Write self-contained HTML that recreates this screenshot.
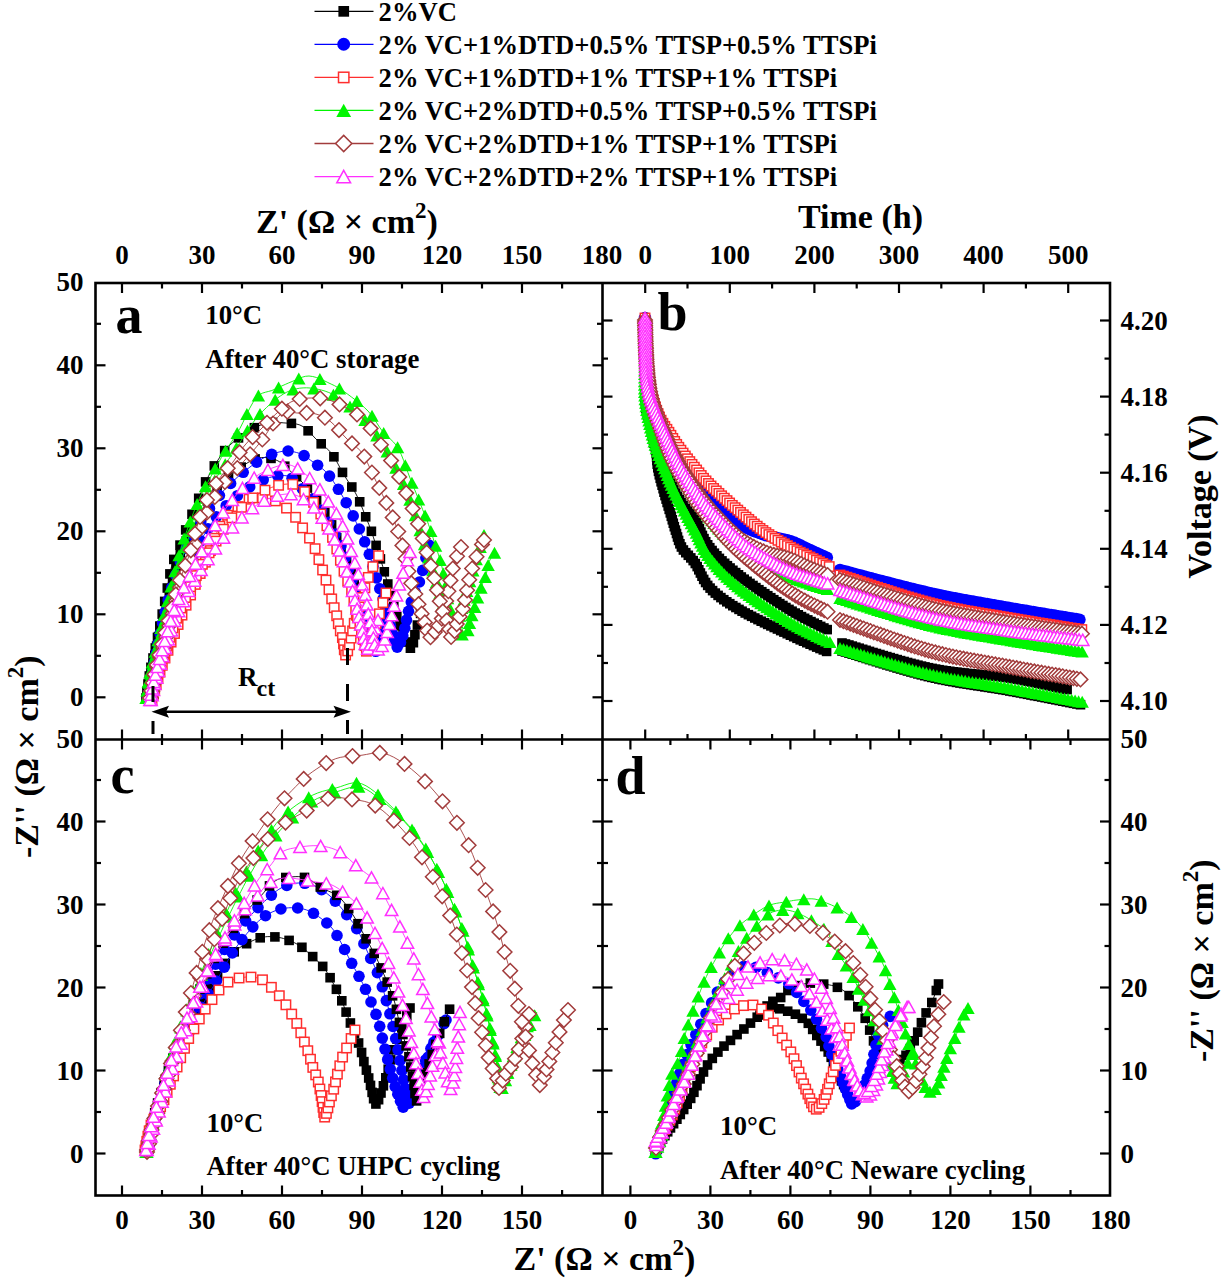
<!DOCTYPE html><html><head><meta charset="utf-8"><title>Nyquist plots</title><style>html,body{margin:0;padding:0;background:#fff;width:1222px;height:1280px;overflow:hidden}text{font-family:'Liberation Serif',serif;font-weight:bold;fill:#000}</style></head><body><svg width="1222" height="1280" viewBox="0 0 1222 1280" style="display:block;font-family:'Liberation Serif',serif;font-weight:bold"><rect width="100%" height="100%" fill="#fff"/><defs><clipPath id="ca"><rect x="95.5" y="283" width="507.0" height="456.5"/></clipPath><clipPath id="cb"><rect x="602.5" y="283" width="507.5" height="456.5"/></clipPath><clipPath id="cc"><rect x="95.5" y="739.5" width="507.0" height="456.0"/></clipPath><clipPath id="cd"><rect x="602.5" y="739.5" width="507.5" height="456.0"/></clipPath></defs><g clip-path="url(#ca)"><path d="M147.0 698.0 L147.6 694.7 L148.4 690.1 L149.3 684.6 L150.4 678.5 L151.6 672.1 L152.8 665.6 L154.2 658.4 L155.7 650.8 L157.3 642.9 L158.9 635.1 L160.6 627.5 L162.4 619.9 L164.2 612.2 L166.2 604.6 L168.1 597.2 L170.0 590.0 L171.8 583.0 L173.7 576.1 L175.5 569.4 L177.4 562.9 L179.3 556.9 L181.4 551.4 L183.6 546.4 L185.8 541.9 L188.1 537.5 L190.4 533.1 L192.8 528.4 L195.1 523.6 L197.5 518.8 L199.9 514.0 L202.4 509.4 L205.0 505.0 L207.6 500.9 L210.3 497.0 L213.0 493.3 L215.9 489.7 L218.9 486.2 L222.3 482.7 L225.9 479.2 L229.8 475.9 L233.7 472.7 L237.6 469.8 L241.2 467.2 L244.6 464.7 L248.0 462.5 L251.3 460.6 L254.7 459.0 L258.0 458.0 L261.4 457.5 L265.0 457.5 L268.5 457.9 L271.9 458.7 L275.0 459.6 L277.9 460.8 L280.4 462.4 L282.8 464.3 L285.0 466.4 L287.4 468.6 L289.9 470.7 L292.5 473.1 L295.3 475.5 L298.0 478.1 L300.6 480.6 L303.0 483.0 L305.1 485.3 L307.0 487.4 L308.8 489.5 L310.5 491.7 L312.4 494.1 L314.3 496.8 L316.4 499.6 L318.5 502.6 L320.6 505.6 L322.7 508.8 L324.7 512.1 L326.7 515.6 L328.7 519.2 L330.6 522.8 L332.4 526.5 L334.0 530.0 L335.3 533.4 L336.4 536.8 L337.4 540.1 L338.4 543.5 L339.5 546.8 L341.0 550.3 L342.7 554.0 L344.6 557.6 L346.4 561.3 L348.0 564.8 L349.4 568.1 L350.5 571.1 L351.4 573.9 L352.2 576.7 L353.1 579.7 L354.0 583.0 L355.1 586.7 L356.2 590.8 L357.3 595.0 L358.5 599.3 L359.6 603.6 L360.8 607.8 L361.9 612.1 L363.0 616.5 L364.1 620.9 L365.2 625.2 L366.4 629.5 L367.5 634.3 L368.6 639.4 L369.8 644.1 L370.9 647.9 L372.0 650.0 L373.1 650.2 L374.2 648.9 L375.4 646.7 L376.5 643.8 L377.6 640.9 L378.8 638.0 L380.1 634.4 L381.4 630.4 L382.6 626.6 L383.5 623.4 L384.0 622.0" fill="none" stroke="#000000" stroke-width="0.9"/><rect x="142.2" y="693.2" width="9.6" height="9.6" fill="#000000"/><rect x="143.2" y="687.6" width="9.6" height="9.6" fill="#000000"/><rect x="144.3" y="681.3" width="9.6" height="9.6" fill="#000000"/><rect x="145.5" y="674.5" width="9.6" height="9.6" fill="#000000"/><rect x="146.8" y="667.1" width="9.6" height="9.6" fill="#000000"/><rect x="148.4" y="659.1" width="9.6" height="9.6" fill="#000000"/><rect x="150.0" y="650.5" width="9.6" height="9.6" fill="#000000"/><rect x="151.8" y="641.4" width="9.6" height="9.6" fill="#000000"/><rect x="153.8" y="631.8" width="9.6" height="9.6" fill="#000000"/><rect x="156.0" y="621.6" width="9.6" height="9.6" fill="#000000"/><rect x="158.6" y="610.8" width="9.6" height="9.6" fill="#000000"/><rect x="161.4" y="599.5" width="9.6" height="9.6" fill="#000000"/><rect x="164.5" y="587.7" width="9.6" height="9.6" fill="#000000"/><rect x="167.8" y="575.4" width="9.6" height="9.6" fill="#000000"/><rect x="171.3" y="562.5" width="9.6" height="9.6" fill="#000000"/><rect x="175.5" y="549.3" width="9.6" height="9.6" fill="#000000"/><rect x="181.4" y="536.2" width="9.6" height="9.6" fill="#000000"/><rect x="188.2" y="523.1" width="9.6" height="9.6" fill="#000000"/><rect x="195.0" y="509.5" width="9.6" height="9.6" fill="#000000"/><rect x="202.8" y="496.1" width="9.6" height="9.6" fill="#000000"/><rect x="212.3" y="483.4" width="9.6" height="9.6" fill="#000000"/><rect x="223.7" y="472.2" width="9.6" height="9.6" fill="#000000"/><rect x="236.4" y="462.3" width="9.6" height="9.6" fill="#000000"/><rect x="250.3" y="454.1" width="9.6" height="9.6" fill="#000000"/><rect x="266.2" y="453.6" width="9.6" height="9.6" fill="#000000"/><rect x="280.0" y="461.4" width="9.6" height="9.6" fill="#000000"/><rect x="291.8" y="471.9" width="9.6" height="9.6" fill="#000000"/><rect x="302.6" y="483.1" width="9.6" height="9.6" fill="#000000"/><rect x="311.8" y="495.1" width="9.6" height="9.6" fill="#000000"/><rect x="320.0" y="507.5" width="9.6" height="9.6" fill="#000000"/><rect x="326.8" y="520.1" width="9.6" height="9.6" fill="#000000"/><rect x="331.9" y="532.9" width="9.6" height="9.6" fill="#000000"/><rect x="336.2" y="545.4" width="9.6" height="9.6" fill="#000000"/><rect x="341.8" y="556.8" width="9.6" height="9.6" fill="#000000"/><rect x="346.3" y="568.0" width="9.6" height="9.6" fill="#000000"/><rect x="349.4" y="579.0" width="9.6" height="9.6" fill="#000000"/><rect x="352.3" y="589.5" width="9.6" height="9.6" fill="#000000"/><rect x="355.0" y="599.4" width="9.6" height="9.6" fill="#000000"/><rect x="357.4" y="608.6" width="9.6" height="9.6" fill="#000000"/><rect x="359.7" y="617.3" width="9.6" height="9.6" fill="#000000"/><rect x="361.8" y="625.4" width="9.6" height="9.6" fill="#000000"/><rect x="363.5" y="633.0" width="9.6" height="9.6" fill="#000000"/><rect x="365.1" y="639.9" width="9.6" height="9.6" fill="#000000"/><rect x="367.8" y="645.5" width="9.6" height="9.6" fill="#000000"/><rect x="370.9" y="641.0" width="9.6" height="9.6" fill="#000000"/><rect x="373.9" y="633.3" width="9.6" height="9.6" fill="#000000"/><rect x="377.2" y="623.4" width="9.6" height="9.6" fill="#000000"/><rect x="379.2" y="617.2" width="9.6" height="9.6" fill="#000000"/></g><g clip-path="url(#ca)"><path d="M146.0 698.0 L146.5 694.8 L147.1 690.4 L147.8 685.2 L148.7 679.5 L149.7 673.8 L150.7 668.3 L151.9 662.7 L153.2 656.9 L154.6 650.8 L156.1 644.4 L157.5 637.7 L159.0 630.4 L160.5 622.8 L162.0 615.0 L163.5 607.3 L165.0 600.0 L166.4 592.9 L167.7 585.8 L168.9 579.0 L170.2 572.6 L171.5 566.8 L173.0 561.8 L174.4 557.7 L175.9 554.1 L177.5 550.8 L179.0 547.4 L180.5 543.7 L182.0 539.8 L183.5 535.8 L185.0 531.8 L186.5 527.8 L188.0 524.0 L189.5 520.4 L190.9 516.9 L192.4 513.6 L193.9 510.1 L195.4 506.3 L197.1 502.2 L198.9 497.8 L200.8 493.1 L202.7 488.4 L204.6 483.9 L206.7 479.6 L208.9 475.4 L211.1 471.3 L213.4 467.3 L215.7 463.5 L218.0 460.0 L220.1 456.8 L222.1 453.9 L224.2 451.2 L226.4 448.6 L229.0 445.9 L232.1 443.1 L235.7 440.0 L239.6 437.0 L243.6 434.1 L247.5 431.5 L251.2 429.3 L254.7 427.5 L258.1 426.0 L261.4 424.8 L264.7 423.8 L268.0 423.0 L271.2 422.5 L274.4 422.4 L277.6 422.4 L280.8 422.6 L283.9 422.9 L287.1 423.1 L290.3 423.3 L293.6 423.6 L296.8 424.1 L299.9 425.0 L303.0 426.6 L306.1 429.0 L309.2 431.8 L312.2 435.0 L315.1 438.1 L318.0 441.0 L320.8 443.4 L323.5 445.7 L326.1 447.9 L328.7 450.2 L331.2 453.0 L333.6 456.3 L335.9 460.0 L338.1 464.1 L340.3 468.3 L342.5 472.4 L344.8 476.2 L347.1 479.8 L349.4 483.3 L351.7 486.8 L353.9 490.3 L356.0 494.0 L357.9 497.8 L359.6 501.7 L361.3 505.7 L362.9 509.7 L364.5 513.7 L366.0 517.5 L367.4 521.0 L368.8 524.4 L370.2 528.2 L371.8 532.6 L373.6 537.9 L375.7 544.2 L378.0 551.2 L380.3 558.6 L382.7 566.3 L385.0 574.0 L387.2 581.9 L389.5 590.3 L391.7 598.7 L393.9 607.0 L396.2 614.6 L398.6 621.8 L401.2 629.2 L403.9 636.3 L406.4 642.3 L408.7 646.6 L410.6 648.2 L412.0 646.9 L413.2 643.5 L414.1 638.9 L415.0 634.1 L416.0 630.0 L417.1 626.4 L418.2 622.5 L419.2 618.6 L420.1 615.2 L420.8 612.6 L421.0 612.0" fill="none" stroke="#000000" stroke-width="0.9"/><rect x="141.2" y="693.2" width="9.6" height="9.6" fill="#000000"/><rect x="142.1" y="686.6" width="9.6" height="9.6" fill="#000000"/><rect x="143.2" y="679.2" width="9.6" height="9.6" fill="#000000"/><rect x="144.5" y="671.2" width="9.6" height="9.6" fill="#000000"/><rect x="146.1" y="662.5" width="9.6" height="9.6" fill="#000000"/><rect x="148.2" y="653.2" width="9.6" height="9.6" fill="#000000"/><rect x="150.5" y="643.2" width="9.6" height="9.6" fill="#000000"/><rect x="152.7" y="632.6" width="9.6" height="9.6" fill="#000000"/><rect x="155.0" y="621.3" width="9.6" height="9.6" fill="#000000"/><rect x="157.4" y="609.3" width="9.6" height="9.6" fill="#000000"/><rect x="159.9" y="596.6" width="9.6" height="9.6" fill="#000000"/><rect x="162.5" y="583.2" width="9.6" height="9.6" fill="#000000"/><rect x="165.1" y="569.1" width="9.6" height="9.6" fill="#000000"/><rect x="169.0" y="554.6" width="9.6" height="9.6" fill="#000000"/><rect x="175.2" y="540.3" width="9.6" height="9.6" fill="#000000"/><rect x="180.9" y="525.1" width="9.6" height="9.6" fill="#000000"/><rect x="187.2" y="509.5" width="9.6" height="9.6" fill="#000000"/><rect x="193.9" y="493.5" width="9.6" height="9.6" fill="#000000"/><rect x="200.8" y="477.1" width="9.6" height="9.6" fill="#000000"/><rect x="209.5" y="461.1" width="9.6" height="9.6" fill="#000000"/><rect x="219.9" y="445.8" width="9.6" height="9.6" fill="#000000"/><rect x="233.7" y="433.1" width="9.6" height="9.6" fill="#000000"/><rect x="249.6" y="422.9" width="9.6" height="9.6" fill="#000000"/><rect x="267.7" y="417.6" width="9.6" height="9.6" fill="#000000"/><rect x="286.6" y="418.6" width="9.6" height="9.6" fill="#000000"/><rect x="303.3" y="426.0" width="9.6" height="9.6" fill="#000000"/><rect x="316.4" y="439.0" width="9.6" height="9.6" fill="#000000"/><rect x="329.1" y="452.0" width="9.6" height="9.6" fill="#000000"/><rect x="337.7" y="467.6" width="9.6" height="9.6" fill="#000000"/><rect x="347.0" y="482.2" width="9.6" height="9.6" fill="#000000"/><rect x="354.9" y="497.0" width="9.6" height="9.6" fill="#000000"/><rect x="360.9" y="512.0" width="9.6" height="9.6" fill="#000000"/><rect x="366.6" y="526.5" width="9.6" height="9.6" fill="#000000"/><rect x="371.3" y="540.6" width="9.6" height="9.6" fill="#000000"/><rect x="375.6" y="554.1" width="9.6" height="9.6" fill="#000000"/><rect x="379.5" y="567.0" width="9.6" height="9.6" fill="#000000"/><rect x="383.0" y="579.2" width="9.6" height="9.6" fill="#000000"/><rect x="386.0" y="590.8" width="9.6" height="9.6" fill="#000000"/><rect x="389.0" y="601.6" width="9.6" height="9.6" fill="#000000"/><rect x="392.0" y="611.7" width="9.6" height="9.6" fill="#000000"/><rect x="395.2" y="621.0" width="9.6" height="9.6" fill="#000000"/><rect x="398.3" y="629.5" width="9.6" height="9.6" fill="#000000"/><rect x="401.5" y="637.2" width="9.6" height="9.6" fill="#000000"/><rect x="405.6" y="643.4" width="9.6" height="9.6" fill="#000000"/><rect x="408.6" y="637.9" width="9.6" height="9.6" fill="#000000"/><rect x="410.1" y="629.9" width="9.6" height="9.6" fill="#000000"/><rect x="412.6" y="620.3" width="9.6" height="9.6" fill="#000000"/><rect x="415.8" y="608.6" width="9.6" height="9.6" fill="#000000"/></g><g clip-path="url(#ca)"><path d="M149.0 698.0 L149.7 694.3 L150.7 689.3 L151.8 683.3 L153.1 676.8 L154.5 670.1 L156.0 663.6 L157.5 656.6 L159.2 649.3 L160.9 641.9 L162.8 634.7 L164.6 627.7 L166.6 620.9 L168.6 614.2 L170.6 607.6 L172.8 601.2 L175.0 595.0 L177.3 589.1 L179.6 583.4 L182.0 577.9 L184.5 572.4 L187.1 566.9 L189.8 561.2 L192.7 555.5 L195.7 549.7 L198.8 544.0 L201.9 538.5 L205.1 533.3 L208.2 528.3 L211.5 523.4 L214.8 518.8 L218.3 514.3 L222.0 510.0 L226.0 505.8 L230.3 501.8 L234.7 497.9 L239.1 494.3 L243.6 491.0 L247.9 488.0 L252.3 485.3 L256.7 482.9 L261.0 480.7 L265.3 479.0 L269.4 477.6 L273.4 476.5 L277.5 475.8 L281.4 475.5 L284.9 475.6 L288.0 476.0 L290.5 477.0 L292.4 478.4 L294.0 480.3 L295.5 482.3 L297.3 484.3 L299.5 486.3 L301.9 488.5 L304.4 490.7 L307.0 493.0 L309.5 495.4 L311.7 497.8 L313.9 500.2 L315.9 502.6 L317.9 505.1 L319.9 507.9 L322.0 511.0 L324.2 514.6 L326.6 518.6 L329.0 522.8 L331.3 526.9 L333.4 530.8 L335.2 534.2 L336.9 537.3 L338.4 540.1 L339.8 542.9 L341.1 545.9 L342.4 549.1 L343.7 552.6 L344.8 556.3 L345.9 560.0 L347.0 563.6 L348.0 567.0 L349.0 570.1 L349.9 573.0 L350.7 575.7 L351.6 578.6 L352.6 581.8 L353.8 585.5 L355.0 589.4 L356.4 593.6 L357.7 597.8 L359.1 602.2 L360.4 606.4 L361.7 610.7 L363.0 615.0 L364.3 619.3 L365.6 623.7 L367.0 628.0 L368.5 632.8 L370.0 638.1 L371.6 643.3 L373.1 647.6 L374.6 650.5 L375.8 651.3 L377.0 650.3 L378.1 648.1 L379.2 645.1 L380.3 641.9 L381.4 639.0 L382.6 635.6 L383.9 631.6 L385.2 627.7 L386.2 624.4 L387.0 622.0 L387.0 622.0" fill="none" stroke="#0000ff" stroke-width="0.9"/><circle cx="149.0" cy="698.0" r="5.80" fill="#0000ff"/><circle cx="150.0" cy="692.8" r="5.80" fill="#0000ff"/><circle cx="151.1" cy="686.9" r="5.80" fill="#0000ff"/><circle cx="152.4" cy="680.5" r="5.80" fill="#0000ff"/><circle cx="153.8" cy="673.5" r="5.80" fill="#0000ff"/><circle cx="155.4" cy="666.1" r="5.80" fill="#0000ff"/><circle cx="157.2" cy="658.1" r="5.80" fill="#0000ff"/><circle cx="159.1" cy="649.6" r="5.80" fill="#0000ff"/><circle cx="161.3" cy="640.6" r="5.80" fill="#0000ff"/><circle cx="163.7" cy="631.1" r="5.80" fill="#0000ff"/><circle cx="166.5" cy="621.1" r="5.80" fill="#0000ff"/><circle cx="169.7" cy="610.6" r="5.80" fill="#0000ff"/><circle cx="173.3" cy="599.8" r="5.80" fill="#0000ff"/><circle cx="177.5" cy="588.5" r="5.80" fill="#0000ff"/><circle cx="182.4" cy="577.0" r="5.80" fill="#0000ff"/><circle cx="187.9" cy="565.2" r="5.80" fill="#0000ff"/><circle cx="193.9" cy="553.1" r="5.80" fill="#0000ff"/><circle cx="200.5" cy="540.9" r="5.80" fill="#0000ff"/><circle cx="208.0" cy="528.7" r="5.80" fill="#0000ff"/><circle cx="216.3" cy="516.8" r="5.80" fill="#0000ff"/><circle cx="226.2" cy="505.7" r="5.80" fill="#0000ff"/><circle cx="237.4" cy="495.7" r="5.80" fill="#0000ff"/><circle cx="249.7" cy="486.9" r="5.80" fill="#0000ff"/><circle cx="263.2" cy="479.8" r="5.80" fill="#0000ff"/><circle cx="277.8" cy="475.8" r="5.80" fill="#0000ff"/><circle cx="292.1" cy="478.2" r="5.80" fill="#0000ff"/><circle cx="302.4" cy="488.9" r="5.80" fill="#0000ff"/><circle cx="312.9" cy="499.1" r="5.80" fill="#0000ff"/><circle cx="321.6" cy="510.4" r="5.80" fill="#0000ff"/><circle cx="328.7" cy="522.3" r="5.80" fill="#0000ff"/><circle cx="335.1" cy="534.1" r="5.80" fill="#0000ff"/><circle cx="341.0" cy="545.7" r="5.80" fill="#0000ff"/><circle cx="345.2" cy="557.4" r="5.80" fill="#0000ff"/><circle cx="348.6" cy="568.8" r="5.80" fill="#0000ff"/><circle cx="352.0" cy="579.7" r="5.80" fill="#0000ff"/><circle cx="355.2" cy="589.9" r="5.80" fill="#0000ff"/><circle cx="358.3" cy="599.6" r="5.80" fill="#0000ff"/><circle cx="361.2" cy="608.8" r="5.80" fill="#0000ff"/><circle cx="363.7" cy="617.4" r="5.80" fill="#0000ff"/><circle cx="366.2" cy="625.5" r="5.80" fill="#0000ff"/><circle cx="368.5" cy="633.0" r="5.80" fill="#0000ff"/><circle cx="370.6" cy="640.0" r="5.80" fill="#0000ff"/><circle cx="372.6" cy="646.3" r="5.80" fill="#0000ff"/><circle cx="375.7" cy="651.3" r="5.80" fill="#0000ff"/><circle cx="378.5" cy="647.0" r="5.80" fill="#0000ff"/><circle cx="381.3" cy="639.3" r="5.80" fill="#0000ff"/><circle cx="384.6" cy="629.7" r="5.80" fill="#0000ff"/><circle cx="387.0" cy="622.0" r="5.80" fill="#0000ff"/></g><g clip-path="url(#ca)"><path d="M148.0 698.0 L148.6 694.7 L149.4 690.1 L150.3 684.6 L151.4 678.5 L152.6 672.1 L153.8 665.6 L155.2 658.4 L156.7 650.8 L158.3 642.9 L159.9 635.1 L161.6 627.5 L163.3 619.8 L165.2 612.1 L167.1 604.4 L169.0 597.0 L171.0 590.0 L173.0 583.4 L174.9 577.2 L176.9 571.3 L179.0 565.5 L181.2 559.9 L183.6 554.3 L186.1 548.9 L188.7 543.6 L191.4 538.4 L194.1 533.3 L196.9 528.3 L199.8 523.4 L202.8 518.6 L205.8 514.0 L208.8 509.4 L212.0 505.0 L215.2 500.8 L218.3 496.8 L221.6 492.9 L225.0 489.1 L228.7 485.3 L232.8 481.4 L237.3 477.3 L242.1 473.2 L246.9 469.4 L251.3 466.0 L255.2 463.1 L258.6 460.9 L261.6 459.0 L264.4 457.5 L267.1 456.2 L270.0 455.0 L273.0 453.8 L276.0 452.8 L279.1 452.0 L282.1 451.4 L285.0 451.0 L287.9 451.0 L290.9 451.3 L293.8 451.8 L296.6 452.5 L299.3 453.3 L301.8 454.4 L304.2 455.6 L306.4 457.0 L308.6 458.6 L310.7 460.3 L313.0 462.0 L315.4 463.7 L317.9 465.4 L320.4 467.2 L322.9 469.1 L325.2 471.2 L327.5 473.6 L329.6 476.2 L331.6 478.9 L333.6 481.8 L335.6 484.9 L337.7 488.1 L339.8 491.5 L341.9 495.1 L344.0 498.8 L346.1 502.4 L348.0 506.0 L349.8 509.4 L351.5 512.7 L353.2 516.0 L354.8 519.3 L356.4 522.8 L358.1 526.5 L359.9 530.4 L361.7 534.5 L363.4 538.6 L365.0 542.5 L366.5 546.2 L367.7 549.7 L368.8 553.0 L369.9 556.2 L370.9 559.5 L372.0 563.0 L373.1 566.6 L374.2 570.3 L375.3 574.0 L376.4 577.8 L377.6 581.7 L378.8 585.6 L380.1 589.7 L381.5 593.8 L382.9 598.0 L384.2 602.2 L385.4 606.4 L386.6 610.8 L387.7 615.2 L388.8 619.6 L389.9 623.9 L391.0 628.0 L392.1 632.3 L393.2 636.8 L394.4 641.0 L395.5 644.5 L396.6 646.7 L397.7 647.1 L398.8 646.1 L399.9 644.0 L401.1 641.0 L402.2 637.5 L403.4 633.6 L404.6 628.9 L405.8 623.3 L407.1 617.4 L408.5 611.5 L410.0 606.0 L411.7 601.1 L413.6 596.4 L415.5 591.8 L417.5 587.1 L419.4 581.9 L421.2 575.8 L423.2 568.6 L425.1 560.9 L426.9 553.7 L428.3 547.8 L429.0 545.0" fill="none" stroke="#0000ff" stroke-width="0.9"/><circle cx="148.0" cy="698.0" r="5.80" fill="#0000ff"/><circle cx="149.0" cy="692.2" r="5.80" fill="#0000ff"/><circle cx="150.2" cy="685.6" r="5.80" fill="#0000ff"/><circle cx="151.4" cy="678.4" r="5.80" fill="#0000ff"/><circle cx="152.9" cy="670.6" r="5.80" fill="#0000ff"/><circle cx="154.5" cy="662.3" r="5.80" fill="#0000ff"/><circle cx="156.2" cy="653.4" r="5.80" fill="#0000ff"/><circle cx="158.1" cy="643.8" r="5.80" fill="#0000ff"/><circle cx="160.2" cy="633.7" r="5.80" fill="#0000ff"/><circle cx="162.6" cy="623.1" r="5.80" fill="#0000ff"/><circle cx="165.2" cy="611.8" r="5.80" fill="#0000ff"/><circle cx="168.2" cy="600.0" r="5.80" fill="#0000ff"/><circle cx="171.7" cy="587.7" r="5.80" fill="#0000ff"/><circle cx="175.7" cy="574.9" r="5.80" fill="#0000ff"/><circle cx="180.4" cy="561.8" r="5.80" fill="#0000ff"/><circle cx="186.2" cy="548.5" r="5.80" fill="#0000ff"/><circle cx="193.1" cy="535.2" r="5.80" fill="#0000ff"/><circle cx="200.8" cy="521.7" r="5.80" fill="#0000ff"/><circle cx="209.5" cy="508.4" r="5.80" fill="#0000ff"/><circle cx="219.4" cy="495.5" r="5.80" fill="#0000ff"/><circle cx="230.6" cy="483.4" r="5.80" fill="#0000ff"/><circle cx="243.2" cy="472.3" r="5.80" fill="#0000ff"/><circle cx="256.7" cy="462.1" r="5.80" fill="#0000ff"/><circle cx="271.7" cy="454.3" r="5.80" fill="#0000ff"/><circle cx="288.1" cy="451.0" r="5.80" fill="#0000ff"/><circle cx="304.1" cy="455.6" r="5.80" fill="#0000ff"/><circle cx="317.6" cy="465.2" r="5.80" fill="#0000ff"/><circle cx="329.5" cy="476.1" r="5.80" fill="#0000ff"/><circle cx="338.4" cy="489.3" r="5.80" fill="#0000ff"/><circle cx="346.2" cy="502.7" r="5.80" fill="#0000ff"/><circle cx="353.2" cy="515.9" r="5.80" fill="#0000ff"/><circle cx="359.3" cy="529.0" r="5.80" fill="#0000ff"/><circle cx="364.7" cy="541.8" r="5.80" fill="#0000ff"/><circle cx="369.3" cy="554.3" r="5.80" fill="#0000ff"/><circle cx="373.0" cy="566.4" r="5.80" fill="#0000ff"/><circle cx="376.4" cy="577.9" r="5.80" fill="#0000ff"/><circle cx="379.8" cy="588.7" r="5.80" fill="#0000ff"/><circle cx="383.1" cy="598.9" r="5.80" fill="#0000ff"/><circle cx="386.0" cy="608.5" r="5.80" fill="#0000ff"/><circle cx="388.3" cy="617.6" r="5.80" fill="#0000ff"/><circle cx="390.5" cy="626.1" r="5.80" fill="#0000ff"/><circle cx="392.5" cy="633.9" r="5.80" fill="#0000ff"/><circle cx="394.4" cy="641.1" r="5.80" fill="#0000ff"/><circle cx="397.2" cy="647.1" r="5.80" fill="#0000ff"/><circle cx="400.5" cy="642.5" r="5.80" fill="#0000ff"/><circle cx="402.8" cy="635.7" r="5.80" fill="#0000ff"/><circle cx="404.8" cy="628.2" r="5.80" fill="#0000ff"/><circle cx="406.5" cy="620.1" r="5.80" fill="#0000ff"/><circle cx="408.5" cy="611.3" r="5.80" fill="#0000ff"/><circle cx="411.3" cy="602.1" r="5.80" fill="#0000ff"/><circle cx="415.3" cy="592.4" r="5.80" fill="#0000ff"/><circle cx="419.4" cy="582.0" r="5.80" fill="#0000ff"/><circle cx="422.7" cy="570.4" r="5.80" fill="#0000ff"/><circle cx="425.9" cy="557.8" r="5.80" fill="#0000ff"/><circle cx="429.0" cy="545.0" r="5.80" fill="#0000ff"/></g><g clip-path="url(#ca)"><path d="M152.0 700.0 L153.0 696.5 L154.3 691.5 L155.9 685.7 L157.7 679.6 L159.4 673.8 L161.1 668.6 L162.9 663.6 L164.8 658.6 L166.7 653.6 L168.6 648.5 L170.7 643.2 L172.8 637.7 L175.1 632.1 L177.3 626.4 L179.7 620.7 L182.0 615.0 L184.4 609.4 L186.8 603.8 L189.2 598.2 L191.7 592.6 L194.2 586.9 L196.7 581.1 L199.5 575.2 L202.2 569.1 L205.0 563.2 L207.5 557.5 L209.7 552.3 L211.6 547.2 L213.3 542.4 L214.9 537.9 L216.4 533.7 L218.0 530.0 L219.5 526.8 L221.0 524.1 L222.5 521.7 L224.0 519.6 L225.5 517.7 L227.1 515.8 L228.6 514.2 L230.2 512.8 L231.9 511.4 L233.7 510.0 L235.7 508.5 L237.8 506.7 L240.0 504.8 L242.3 502.9 L244.6 501.3 L247.0 500.0 L249.4 499.1 L251.9 498.6 L254.4 498.3 L256.9 498.1 L259.2 498.0 L261.5 497.9 L263.6 497.9 L265.6 498.0 L267.6 498.2 L269.6 498.6 L271.7 499.2 L273.8 500.1 L275.8 501.1 L277.9 502.3 L279.9 503.6 L282.0 505.0 L284.1 506.4 L286.1 507.8 L288.2 509.4 L290.2 511.2 L292.3 513.2 L294.4 515.7 L296.5 518.6 L298.6 521.7 L300.7 524.9 L302.7 528.0 L304.6 530.9 L306.5 533.6 L308.2 536.2 L309.9 538.7 L311.5 541.3 L313.0 544.0 L314.3 546.9 L315.5 549.8 L316.5 552.8 L317.6 555.9 L318.6 559.0 L319.8 562.1 L320.9 565.3 L322.1 568.5 L323.2 571.7 L324.3 574.9 L325.3 578.0 L326.3 581.1 L327.3 584.2 L328.2 587.2 L329.1 590.1 L330.0 593.0 L330.8 595.8 L331.6 598.6 L332.4 601.3 L333.1 603.8 L333.8 606.2 L334.4 608.4 L335.0 610.4 L335.6 612.2 L336.2 614.0 L336.7 615.8 L337.2 617.6 L337.5 619.5 L337.9 621.4 L338.2 623.3 L338.6 625.2 L339.0 627.0 L339.5 628.8 L340.1 630.5 L340.7 632.2 L341.3 633.8 L341.9 635.5 L342.3 637.0 L342.6 638.5 L342.8 639.9 L343.0 641.3 L343.3 642.9 L343.6 644.6 L344.0 647.1 L344.3 649.8 L344.7 652.4 L345.1 654.3 L345.7 655.0 L346.4 654.3 L347.1 652.7 L348.0 650.2 L348.8 647.3 L349.7 644.1 L350.6 640.7 L351.4 636.6 L352.3 632.2 L353.3 627.6 L354.3 623.0 L355.4 618.6 L356.6 614.3 L357.9 610.0 L359.2 605.7 L360.6 601.4 L362.0 597.0 L363.4 592.5 L364.8 587.9 L366.3 583.3 L367.8 578.7 L369.4 574.4 L371.2 570.2 L373.3 565.8 L375.5 561.5 L377.5 557.6 L379.2 554.5 L380.0 553.0" fill="none" stroke="#ff2e2e" stroke-width="0.9"/><rect x="147.3" y="695.3" width="9.4" height="9.4" fill="#fff" stroke="#ff2e2e" stroke-width="1.5"/><rect x="148.6" y="690.7" width="9.4" height="9.4" fill="#fff" stroke="#ff2e2e" stroke-width="1.5"/><rect x="150.0" y="685.6" width="9.4" height="9.4" fill="#fff" stroke="#ff2e2e" stroke-width="1.5"/><rect x="151.5" y="680.0" width="9.4" height="9.4" fill="#fff" stroke="#ff2e2e" stroke-width="1.5"/><rect x="153.3" y="673.9" width="9.4" height="9.4" fill="#fff" stroke="#ff2e2e" stroke-width="1.5"/><rect x="155.3" y="667.4" width="9.4" height="9.4" fill="#fff" stroke="#ff2e2e" stroke-width="1.5"/><rect x="157.6" y="660.6" width="9.4" height="9.4" fill="#fff" stroke="#ff2e2e" stroke-width="1.5"/><rect x="160.3" y="653.3" width="9.4" height="9.4" fill="#fff" stroke="#ff2e2e" stroke-width="1.5"/><rect x="163.3" y="645.6" width="9.4" height="9.4" fill="#fff" stroke="#ff2e2e" stroke-width="1.5"/><rect x="166.4" y="637.4" width="9.4" height="9.4" fill="#fff" stroke="#ff2e2e" stroke-width="1.5"/><rect x="169.8" y="628.8" width="9.4" height="9.4" fill="#fff" stroke="#ff2e2e" stroke-width="1.5"/><rect x="173.4" y="619.8" width="9.4" height="9.4" fill="#fff" stroke="#ff2e2e" stroke-width="1.5"/><rect x="177.3" y="610.4" width="9.4" height="9.4" fill="#fff" stroke="#ff2e2e" stroke-width="1.5"/><rect x="181.4" y="600.5" width="9.4" height="9.4" fill="#fff" stroke="#ff2e2e" stroke-width="1.5"/><rect x="185.9" y="590.3" width="9.4" height="9.4" fill="#fff" stroke="#ff2e2e" stroke-width="1.5"/><rect x="190.6" y="579.7" width="9.4" height="9.4" fill="#fff" stroke="#ff2e2e" stroke-width="1.5"/><rect x="195.5" y="568.8" width="9.4" height="9.4" fill="#fff" stroke="#ff2e2e" stroke-width="1.5"/><rect x="200.7" y="557.5" width="9.4" height="9.4" fill="#fff" stroke="#ff2e2e" stroke-width="1.5"/><rect x="205.7" y="545.9" width="9.4" height="9.4" fill="#fff" stroke="#ff2e2e" stroke-width="1.5"/><rect x="210.1" y="533.6" width="9.4" height="9.4" fill="#fff" stroke="#ff2e2e" stroke-width="1.5"/><rect x="215.2" y="521.5" width="9.4" height="9.4" fill="#fff" stroke="#ff2e2e" stroke-width="1.5"/><rect x="222.8" y="510.5" width="9.4" height="9.4" fill="#fff" stroke="#ff2e2e" stroke-width="1.5"/><rect x="233.2" y="501.9" width="9.4" height="9.4" fill="#fff" stroke="#ff2e2e" stroke-width="1.5"/><rect x="244.4" y="494.5" width="9.4" height="9.4" fill="#fff" stroke="#ff2e2e" stroke-width="1.5"/><rect x="257.8" y="493.2" width="9.4" height="9.4" fill="#fff" stroke="#ff2e2e" stroke-width="1.5"/><rect x="270.7" y="496.2" width="9.4" height="9.4" fill="#fff" stroke="#ff2e2e" stroke-width="1.5"/><rect x="281.8" y="503.4" width="9.4" height="9.4" fill="#fff" stroke="#ff2e2e" stroke-width="1.5"/><rect x="290.9" y="512.6" width="9.4" height="9.4" fill="#fff" stroke="#ff2e2e" stroke-width="1.5"/><rect x="297.9" y="523.2" width="9.4" height="9.4" fill="#fff" stroke="#ff2e2e" stroke-width="1.5"/><rect x="304.8" y="533.4" width="9.4" height="9.4" fill="#fff" stroke="#ff2e2e" stroke-width="1.5"/><rect x="310.4" y="544.0" width="9.4" height="9.4" fill="#fff" stroke="#ff2e2e" stroke-width="1.5"/><rect x="314.2" y="554.9" width="9.4" height="9.4" fill="#fff" stroke="#ff2e2e" stroke-width="1.5"/><rect x="317.9" y="565.3" width="9.4" height="9.4" fill="#fff" stroke="#ff2e2e" stroke-width="1.5"/><rect x="321.3" y="575.4" width="9.4" height="9.4" fill="#fff" stroke="#ff2e2e" stroke-width="1.5"/><rect x="324.3" y="585.0" width="9.4" height="9.4" fill="#fff" stroke="#ff2e2e" stroke-width="1.5"/><rect x="327.0" y="594.2" width="9.4" height="9.4" fill="#fff" stroke="#ff2e2e" stroke-width="1.5"/><rect x="329.5" y="603.0" width="9.4" height="9.4" fill="#fff" stroke="#ff2e2e" stroke-width="1.5"/><rect x="332.0" y="611.1" width="9.4" height="9.4" fill="#fff" stroke="#ff2e2e" stroke-width="1.5"/><rect x="333.6" y="619.0" width="9.4" height="9.4" fill="#fff" stroke="#ff2e2e" stroke-width="1.5"/><rect x="335.6" y="626.2" width="9.4" height="9.4" fill="#fff" stroke="#ff2e2e" stroke-width="1.5"/><rect x="337.7" y="632.9" width="9.4" height="9.4" fill="#fff" stroke="#ff2e2e" stroke-width="1.5"/><rect x="338.8" y="639.2" width="9.4" height="9.4" fill="#fff" stroke="#ff2e2e" stroke-width="1.5"/><rect x="339.6" y="645.1" width="9.4" height="9.4" fill="#fff" stroke="#ff2e2e" stroke-width="1.5"/><rect x="340.9" y="650.3" width="9.4" height="9.4" fill="#fff" stroke="#ff2e2e" stroke-width="1.5"/><rect x="343.0" y="646.2" width="9.4" height="9.4" fill="#fff" stroke="#ff2e2e" stroke-width="1.5"/><rect x="344.8" y="640.1" width="9.4" height="9.4" fill="#fff" stroke="#ff2e2e" stroke-width="1.5"/><rect x="346.4" y="633.4" width="9.4" height="9.4" fill="#fff" stroke="#ff2e2e" stroke-width="1.5"/><rect x="347.9" y="626.2" width="9.4" height="9.4" fill="#fff" stroke="#ff2e2e" stroke-width="1.5"/><rect x="349.5" y="618.6" width="9.4" height="9.4" fill="#fff" stroke="#ff2e2e" stroke-width="1.5"/><rect x="351.6" y="610.5" width="9.4" height="9.4" fill="#fff" stroke="#ff2e2e" stroke-width="1.5"/><rect x="354.2" y="601.9" width="9.4" height="9.4" fill="#fff" stroke="#ff2e2e" stroke-width="1.5"/><rect x="357.1" y="592.8" width="9.4" height="9.4" fill="#fff" stroke="#ff2e2e" stroke-width="1.5"/><rect x="360.2" y="583.1" width="9.4" height="9.4" fill="#fff" stroke="#ff2e2e" stroke-width="1.5"/><rect x="363.6" y="572.7" width="9.4" height="9.4" fill="#fff" stroke="#ff2e2e" stroke-width="1.5"/><rect x="368.2" y="562.0" width="9.4" height="9.4" fill="#fff" stroke="#ff2e2e" stroke-width="1.5"/><rect x="373.9" y="551.0" width="9.4" height="9.4" fill="#fff" stroke="#ff2e2e" stroke-width="1.5"/></g><g clip-path="url(#ca)"><path d="M151.0 700.0 L151.8 696.5 L153.0 691.6 L154.4 685.9 L155.9 679.8 L157.5 673.9 L159.1 668.4 L160.8 662.8 L162.7 657.2 L164.6 651.6 L166.6 645.9 L168.7 640.1 L170.8 634.1 L173.0 628.1 L175.2 622.1 L177.5 616.0 L180.0 610.0 L182.6 604.0 L185.3 597.9 L188.1 591.9 L191.0 585.9 L194.0 579.9 L197.0 574.1 L200.1 568.4 L203.3 562.8 L206.5 557.2 L209.8 551.6 L213.1 546.2 L216.4 540.7 L219.7 535.2 L223.1 529.8 L226.5 524.7 L230.0 520.0 L233.6 515.6 L237.4 511.6 L241.1 507.8 L245.0 504.2 L248.7 501.0 L252.5 498.1 L256.2 495.4 L259.9 493.0 L263.7 490.9 L267.5 489.1 L271.3 487.5 L275.4 486.2 L279.5 485.1 L283.7 484.3 L287.5 484.0 L291.0 484.0 L293.9 484.5 L296.5 485.5 L298.8 486.8 L301.0 488.4 L303.2 490.3 L305.6 492.5 L307.9 495.0 L310.2 497.8 L312.4 500.8 L314.6 503.9 L316.7 507.0 L318.7 510.3 L320.6 513.7 L322.5 517.2 L324.3 520.6 L326.0 524.0 L327.7 527.2 L329.2 530.4 L330.7 533.5 L332.2 536.7 L333.6 539.9 L334.8 543.2 L336.0 546.6 L337.1 549.9 L338.2 553.3 L339.3 556.7 L340.4 560.1 L341.5 563.6 L342.6 567.0 L343.8 570.5 L344.9 573.8 L346.0 577.0 L347.2 580.0 L348.4 582.9 L349.6 585.7 L350.7 588.4 L351.7 591.1 L352.5 593.8 L353.2 596.6 L353.8 599.3 L354.2 602.0 L354.7 604.4 L355.2 606.7 L355.5 608.8 L355.9 610.7 L356.2 612.4 L356.6 614.2 L357.0 616.0 L357.5 617.9 L358.1 619.8 L358.7 621.7 L359.3 623.6 L359.8 625.4 L360.3 627.2 L360.7 628.9 L361.0 630.6 L361.4 632.3 L361.7 633.9 L362.1 635.5 L362.6 637.1 L363.1 638.6 L363.5 640.0 L364.0 641.5 L364.5 643.0 L364.9 644.9 L365.3 647.1 L365.7 649.3 L366.1 650.8 L366.7 651.2 L367.6 650.0 L368.6 647.4 L369.7 643.8 L370.9 639.7 L372.2 635.6 L373.4 631.8 L374.7 627.9 L376.0 623.9 L377.4 619.9 L378.7 615.9 L380.0 612.0 L381.3 608.0 L382.6 603.9 L383.8 599.9 L384.9 596.4 L385.8 593.7 L386.0 593.0" fill="none" stroke="#ff2e2e" stroke-width="0.9"/><rect x="146.3" y="695.3" width="9.4" height="9.4" fill="#fff" stroke="#ff2e2e" stroke-width="1.5"/><rect x="147.5" y="690.4" width="9.4" height="9.4" fill="#fff" stroke="#ff2e2e" stroke-width="1.5"/><rect x="148.8" y="684.8" width="9.4" height="9.4" fill="#fff" stroke="#ff2e2e" stroke-width="1.5"/><rect x="150.3" y="678.7" width="9.4" height="9.4" fill="#fff" stroke="#ff2e2e" stroke-width="1.5"/><rect x="152.0" y="672.1" width="9.4" height="9.4" fill="#fff" stroke="#ff2e2e" stroke-width="1.5"/><rect x="153.9" y="665.1" width="9.4" height="9.4" fill="#fff" stroke="#ff2e2e" stroke-width="1.5"/><rect x="156.3" y="657.7" width="9.4" height="9.4" fill="#fff" stroke="#ff2e2e" stroke-width="1.5"/><rect x="158.9" y="649.8" width="9.4" height="9.4" fill="#fff" stroke="#ff2e2e" stroke-width="1.5"/><rect x="161.8" y="641.4" width="9.4" height="9.4" fill="#fff" stroke="#ff2e2e" stroke-width="1.5"/><rect x="165.0" y="632.6" width="9.4" height="9.4" fill="#fff" stroke="#ff2e2e" stroke-width="1.5"/><rect x="168.3" y="623.2" width="9.4" height="9.4" fill="#fff" stroke="#ff2e2e" stroke-width="1.5"/><rect x="172.0" y="613.5" width="9.4" height="9.4" fill="#fff" stroke="#ff2e2e" stroke-width="1.5"/><rect x="176.1" y="603.3" width="9.4" height="9.4" fill="#fff" stroke="#ff2e2e" stroke-width="1.5"/><rect x="180.8" y="592.8" width="9.4" height="9.4" fill="#fff" stroke="#ff2e2e" stroke-width="1.5"/><rect x="185.9" y="582.0" width="9.4" height="9.4" fill="#fff" stroke="#ff2e2e" stroke-width="1.5"/><rect x="191.6" y="570.9" width="9.4" height="9.4" fill="#fff" stroke="#ff2e2e" stroke-width="1.5"/><rect x="197.7" y="559.6" width="9.4" height="9.4" fill="#fff" stroke="#ff2e2e" stroke-width="1.5"/><rect x="204.4" y="548.1" width="9.4" height="9.4" fill="#fff" stroke="#ff2e2e" stroke-width="1.5"/><rect x="211.4" y="536.4" width="9.4" height="9.4" fill="#fff" stroke="#ff2e2e" stroke-width="1.5"/><rect x="218.7" y="524.5" width="9.4" height="9.4" fill="#fff" stroke="#ff2e2e" stroke-width="1.5"/><rect x="227.1" y="513.1" width="9.4" height="9.4" fill="#fff" stroke="#ff2e2e" stroke-width="1.5"/><rect x="236.9" y="502.6" width="9.4" height="9.4" fill="#fff" stroke="#ff2e2e" stroke-width="1.5"/><rect x="248.0" y="493.2" width="9.4" height="9.4" fill="#fff" stroke="#ff2e2e" stroke-width="1.5"/><rect x="260.3" y="485.5" width="9.4" height="9.4" fill="#fff" stroke="#ff2e2e" stroke-width="1.5"/><rect x="273.9" y="480.6" width="9.4" height="9.4" fill="#fff" stroke="#ff2e2e" stroke-width="1.5"/><rect x="288.1" y="479.6" width="9.4" height="9.4" fill="#fff" stroke="#ff2e2e" stroke-width="1.5"/><rect x="300.0" y="487.0" width="9.4" height="9.4" fill="#fff" stroke="#ff2e2e" stroke-width="1.5"/><rect x="308.9" y="497.7" width="9.4" height="9.4" fill="#fff" stroke="#ff2e2e" stroke-width="1.5"/><rect x="316.1" y="509.3" width="9.4" height="9.4" fill="#fff" stroke="#ff2e2e" stroke-width="1.5"/><rect x="322.2" y="521.1" width="9.4" height="9.4" fill="#fff" stroke="#ff2e2e" stroke-width="1.5"/><rect x="327.8" y="532.7" width="9.4" height="9.4" fill="#fff" stroke="#ff2e2e" stroke-width="1.5"/><rect x="332.1" y="544.3" width="9.4" height="9.4" fill="#fff" stroke="#ff2e2e" stroke-width="1.5"/><rect x="335.7" y="555.6" width="9.4" height="9.4" fill="#fff" stroke="#ff2e2e" stroke-width="1.5"/><rect x="339.3" y="566.5" width="9.4" height="9.4" fill="#fff" stroke="#ff2e2e" stroke-width="1.5"/><rect x="343.0" y="576.6" width="9.4" height="9.4" fill="#fff" stroke="#ff2e2e" stroke-width="1.5"/><rect x="346.9" y="586.2" width="9.4" height="9.4" fill="#fff" stroke="#ff2e2e" stroke-width="1.5"/><rect x="349.2" y="595.6" width="9.4" height="9.4" fill="#fff" stroke="#ff2e2e" stroke-width="1.5"/><rect x="351.0" y="604.6" width="9.4" height="9.4" fill="#fff" stroke="#ff2e2e" stroke-width="1.5"/><rect x="352.8" y="613.1" width="9.4" height="9.4" fill="#fff" stroke="#ff2e2e" stroke-width="1.5"/><rect x="355.2" y="620.8" width="9.4" height="9.4" fill="#fff" stroke="#ff2e2e" stroke-width="1.5"/><rect x="356.8" y="628.1" width="9.4" height="9.4" fill="#fff" stroke="#ff2e2e" stroke-width="1.5"/><rect x="358.6" y="634.8" width="9.4" height="9.4" fill="#fff" stroke="#ff2e2e" stroke-width="1.5"/><rect x="360.3" y="640.9" width="9.4" height="9.4" fill="#fff" stroke="#ff2e2e" stroke-width="1.5"/><rect x="361.7" y="646.5" width="9.4" height="9.4" fill="#fff" stroke="#ff2e2e" stroke-width="1.5"/><rect x="364.0" y="642.2" width="9.4" height="9.4" fill="#fff" stroke="#ff2e2e" stroke-width="1.5"/><rect x="366.1" y="635.4" width="9.4" height="9.4" fill="#fff" stroke="#ff2e2e" stroke-width="1.5"/><rect x="368.5" y="627.6" width="9.4" height="9.4" fill="#fff" stroke="#ff2e2e" stroke-width="1.5"/><rect x="371.4" y="618.9" width="9.4" height="9.4" fill="#fff" stroke="#ff2e2e" stroke-width="1.5"/><rect x="374.7" y="609.1" width="9.4" height="9.4" fill="#fff" stroke="#ff2e2e" stroke-width="1.5"/><rect x="378.3" y="597.9" width="9.4" height="9.4" fill="#fff" stroke="#ff2e2e" stroke-width="1.5"/><rect x="381.3" y="588.3" width="9.4" height="9.4" fill="#fff" stroke="#ff2e2e" stroke-width="1.5"/></g><g clip-path="url(#ca)"><path d="M147.0 698.0 L147.6 694.5 L148.4 689.6 L149.3 683.9 L150.4 677.8 L151.6 671.9 L152.8 666.4 L154.2 660.9 L155.8 655.4 L157.3 649.8 L158.9 644.0 L160.5 637.9 L162.2 631.6 L163.9 624.9 L165.6 618.2 L167.3 611.5 L169.0 605.0 L170.7 598.7 L172.3 592.4 L174.0 586.3 L175.7 580.1 L177.4 574.0 L179.2 567.9 L181.0 561.9 L182.8 555.8 L184.7 549.8 L186.6 543.9 L188.7 538.1 L190.8 532.4 L193.0 526.7 L195.2 521.2 L197.5 515.6 L200.0 510.0 L202.6 504.4 L205.2 498.8 L207.9 493.1 L210.8 487.5 L213.9 481.9 L217.3 476.2 L220.9 470.6 L224.7 465.0 L228.6 459.4 L232.5 453.8 L236.2 448.1 L240.0 442.3 L243.8 436.3 L247.5 430.5 L251.2 425.0 L255.0 420.0 L258.8 415.5 L262.6 411.3 L266.5 407.5 L270.2 404.1 L273.8 401.0 L277.3 398.2 L280.5 395.9 L283.6 393.9 L286.7 392.2 L289.8 390.8 L293.1 389.6 L296.4 388.8 L299.7 388.2 L303.1 387.9 L306.5 387.8 L310.0 388.0 L313.7 388.4 L317.4 389.1 L321.3 390.0 L325.1 391.1 L328.8 392.5 L332.4 394.1 L335.8 396.1 L339.2 398.4 L342.5 400.8 L345.8 403.3 L349.1 405.8 L352.4 408.4 L355.6 411.1 L358.8 413.9 L362.0 416.8 L365.0 420.0 L368.0 423.4 L370.9 427.0 L373.7 430.8 L376.4 434.7 L379.1 438.7 L381.7 442.6 L384.3 446.7 L386.8 450.8 L389.2 455.0 L391.5 459.2 L393.7 463.4 L395.9 467.7 L398.1 472.0 L400.1 476.3 L402.1 480.7 L404.0 485.0 L405.8 489.3 L407.6 493.7 L409.3 498.0 L410.9 502.3 L412.5 506.6 L414.0 510.8 L415.3 514.8 L416.6 518.9 L417.8 522.9 L419.1 527.1 L420.5 531.5 L421.9 536.0 L423.4 540.7 L425.0 545.5 L426.5 550.3 L428.0 555.0 L429.5 559.7 L431.0 564.4 L432.5 569.1 L434.0 573.8 L435.5 578.4 L437.0 583.1 L438.5 587.9 L440.0 592.6 L441.5 597.3 L443.0 602.0 L444.5 606.5 L446.0 611.6 L447.6 616.9 L449.1 621.7 L450.6 625.6 L452.0 628.0 L453.2 628.6 L454.4 627.8 L455.5 626.0 L456.5 623.6 L457.6 620.9 L458.8 618.1 L459.9 614.6 L461.0 610.8 L462.1 606.7 L463.2 602.6 L464.4 598.8 L465.5 595.0 L466.6 591.2 L467.8 587.5 L468.9 583.8 L470.0 580.0 L471.1 576.3 L472.2 572.7 L473.2 569.1 L474.4 565.4 L475.6 561.4 L477.0 556.9 L478.6 551.7 L480.4 546.2 L482.0 541.1 L483.4 537.0 L484.0 535.0" fill="none" stroke="#00f500" stroke-width="0.9"/><path d="M147.0 692.0L153.7 704.0L140.3 704.0Z" fill="#00f500"/><path d="M148.2 684.8L154.9 696.8L141.5 696.8Z" fill="#00f500"/><path d="M149.5 676.7L156.2 688.7L142.8 688.7Z" fill="#00f500"/><path d="M151.2 667.8L157.9 679.8L144.5 679.8Z" fill="#00f500"/><path d="M153.4 658.3L160.1 670.3L146.7 670.3Z" fill="#00f500"/><path d="M156.1 648.2L162.8 660.2L149.4 660.2Z" fill="#00f500"/><path d="M159.1 637.4L165.8 649.4L152.4 649.4Z" fill="#00f500"/><path d="M162.1 625.8L168.8 637.8L155.4 637.8Z" fill="#00f500"/><path d="M165.3 613.5L172.0 625.5L158.6 625.5Z" fill="#00f500"/><path d="M168.6 600.4L175.3 612.4L161.9 612.4Z" fill="#00f500"/><path d="M172.3 586.7L179.0 598.7L165.6 598.7Z" fill="#00f500"/><path d="M176.2 572.2L182.9 584.2L169.5 584.2Z" fill="#00f500"/><path d="M180.6 557.0L187.3 569.0L173.9 569.0Z" fill="#00f500"/><path d="M185.5 541.3L192.2 553.3L178.8 553.3Z" fill="#00f500"/><path d="M191.3 525.1L198.0 537.1L184.6 537.1Z" fill="#00f500"/><path d="M198.0 508.5L204.7 520.5L191.3 520.5Z" fill="#00f500"/><path d="M205.7 491.7L212.4 503.7L199.0 503.7Z" fill="#00f500"/><path d="M214.6 474.7L221.3 486.7L207.9 486.7Z" fill="#00f500"/><path d="M225.2 458.3L231.9 470.3L218.5 470.3Z" fill="#00f500"/><path d="M236.5 441.7L243.2 453.7L229.8 453.7Z" fill="#00f500"/><path d="M247.5 424.5L254.2 436.5L240.8 436.5Z" fill="#00f500"/><path d="M260.0 408.1L266.7 420.1L253.3 420.1Z" fill="#00f500"/><path d="M275.2 393.8L281.9 405.8L268.5 405.8Z" fill="#00f500"/><path d="M293.2 383.6L299.9 395.6L286.5 395.6Z" fill="#00f500"/><path d="M313.9 382.4L320.6 394.4L307.2 394.4Z" fill="#00f500"/><path d="M333.4 388.7L340.1 400.7L326.7 400.7Z" fill="#00f500"/><path d="M350.0 400.6L356.7 412.6L343.3 412.6Z" fill="#00f500"/><path d="M365.0 414.0L371.7 426.0L358.3 426.0Z" fill="#00f500"/><path d="M376.9 429.5L383.6 441.5L370.2 441.5Z" fill="#00f500"/><path d="M387.2 445.6L393.9 457.6L380.5 457.6Z" fill="#00f500"/><path d="M396.0 461.8L402.7 473.8L389.3 473.8Z" fill="#00f500"/><path d="M403.6 478.0L410.3 490.0L396.9 490.0Z" fill="#00f500"/><path d="M410.0 493.8L416.7 505.8L403.3 505.8Z" fill="#00f500"/><path d="M415.4 509.3L422.1 521.3L408.7 521.3Z" fill="#00f500"/><path d="M420.1 524.2L426.8 536.2L413.4 536.2Z" fill="#00f500"/><path d="M424.6 538.3L431.3 550.3L417.9 550.3Z" fill="#00f500"/><path d="M428.8 551.6L435.5 563.6L422.1 563.6Z" fill="#00f500"/><path d="M432.9 564.2L439.6 576.2L426.2 576.2Z" fill="#00f500"/><path d="M436.6 576.0L443.3 588.0L429.9 588.0Z" fill="#00f500"/><path d="M440.1 587.0L446.8 599.0L433.4 599.0Z" fill="#00f500"/><path d="M443.4 597.3L450.1 609.3L436.7 609.3Z" fill="#00f500"/><path d="M446.4 606.8L453.1 618.8L439.7 618.8Z" fill="#00f500"/><path d="M449.1 615.6L455.8 627.6L442.4 627.6Z" fill="#00f500"/><path d="M453.1 622.6L459.8 634.6L446.4 634.6Z" fill="#00f500"/><path d="M456.9 616.6L463.6 628.6L450.2 628.6Z" fill="#00f500"/><path d="M459.5 609.8L466.2 621.8L452.8 621.8Z" fill="#00f500"/><path d="M461.7 602.1L468.4 614.1L455.0 614.1Z" fill="#00f500"/><path d="M464.1 593.8L470.8 605.8L457.4 605.8Z" fill="#00f500"/><path d="M466.7 584.9L473.4 596.9L460.0 596.9Z" fill="#00f500"/><path d="M469.7 575.2L476.4 587.2L463.0 587.2Z" fill="#00f500"/><path d="M472.8 564.6L479.5 576.6L466.1 576.6Z" fill="#00f500"/><path d="M476.2 553.3L482.9 565.3L469.5 565.3Z" fill="#00f500"/><path d="M480.1 541.0L486.8 553.0L473.4 553.0Z" fill="#00f500"/><path d="M484.0 529.0L490.7 541.0L477.3 541.0Z" fill="#00f500"/></g><g clip-path="url(#ca)"><path d="M146.0 698.0 L146.5 694.7 L147.1 690.2 L147.8 684.8 L148.7 679.2 L149.7 673.7 L150.7 668.7 L151.9 663.8 L153.2 658.9 L154.6 653.9 L156.1 648.7 L157.5 643.1 L158.9 637.3 L160.4 631.2 L161.9 624.9 L163.4 618.5 L165.0 612.0 L166.6 605.2 L168.3 598.1 L170.1 590.9 L171.8 583.9 L173.5 577.1 L175.0 570.9 L176.6 564.9 L178.1 559.1 L179.5 553.6 L181.0 548.4 L182.5 543.4 L184.0 538.8 L185.4 534.6 L186.9 530.5 L188.4 526.3 L190.0 522.0 L191.8 517.3 L193.6 512.4 L195.6 507.5 L197.5 502.7 L199.4 498.3 L201.2 494.5 L202.8 491.2 L204.4 488.2 L206.1 485.3 L207.8 482.2 L209.6 478.8 L211.7 475.0 L213.9 470.9 L216.2 466.9 L218.2 463.2 L220.0 460.0 L221.3 457.6 L222.3 456.0 L223.2 454.5 L224.1 453.0 L225.4 450.9 L227.3 448.1 L229.4 444.9 L231.8 441.4 L234.4 437.5 L237.1 433.1 L240.0 428.3 L243.0 422.3 L246.2 415.5 L249.4 408.8 L252.8 402.7 L256.0 398.0 L259.2 395.0 L262.3 393.2 L265.5 392.2 L268.7 391.4 L271.9 390.5 L275.2 389.0 L278.6 387.4 L281.9 385.9 L285.3 384.4 L288.7 382.9 L292.1 381.5 L295.5 380.1 L298.8 378.5 L302.1 377.2 L305.5 376.3 L309.0 376.0 L312.7 376.5 L316.5 377.5 L320.3 379.0 L324.2 380.7 L327.8 382.5 L331.2 384.1 L334.4 385.6 L337.4 387.3 L340.4 389.2 L343.7 391.3 L347.3 393.9 L351.3 396.9 L355.7 400.2 L360.0 403.7 L364.2 407.3 L368.0 411.0 L371.2 414.8 L374.1 418.9 L376.8 423.0 L379.4 427.0 L382.1 430.8 L384.9 434.1 L387.8 436.9 L390.7 439.4 L393.5 442.1 L396.3 445.4 L398.8 449.5 L401.3 454.6 L403.6 460.4 L405.8 466.5 L407.9 472.5 L410.0 478.0 L412.0 483.1 L414.0 488.0 L415.9 492.7 L417.7 497.2 L419.4 501.6 L421.1 505.7 L422.6 509.5 L424.1 513.1 L425.6 516.6 L427.0 520.3 L428.5 524.4 L430.0 528.8 L431.6 533.4 L433.1 538.1 L434.6 542.7 L436.0 547.0 L437.3 551.0 L438.5 554.9 L439.7 558.7 L440.8 562.3 L441.7 565.8 L442.5 569.3 L443.2 572.6 L443.7 575.8 L444.2 578.9 L444.6 581.9 L445.2 585.0 L445.8 588.2 L446.3 591.3 L446.9 594.3 L447.4 597.3 L448.0 600.0 L448.6 602.5 L449.1 604.8 L449.7 607.0 L450.2 609.2 L450.8 611.3 L451.4 613.4 L451.8 615.5 L452.3 617.6 L452.8 619.6 L453.5 621.6 L454.3 623.7 L455.3 626.1 L456.4 628.5 L457.5 630.8 L458.8 632.7 L460.0 634.0 L461.3 634.6 L462.7 634.6 L464.2 634.2 L465.5 633.4 L466.7 632.4 L467.6 631.0 L468.2 629.2 L468.8 626.9 L469.2 624.6 L469.7 622.3 L470.2 620.4 L470.8 618.6 L471.3 616.9 L471.9 615.3 L472.4 613.7 L473.0 612.0 L473.6 610.3 L474.1 608.7 L474.7 607.0 L475.2 605.3 L475.8 603.6 L476.4 601.8 L476.9 599.9 L477.5 597.9 L478.1 596.0 L478.6 594.2 L479.2 592.4 L479.7 590.9 L480.3 589.5 L480.8 588.1 L481.4 586.6 L482.0 585.0 L482.7 583.3 L483.5 581.5 L484.3 579.7 L485.0 577.8 L485.8 575.7 L486.4 573.5 L486.9 571.1 L487.4 568.5 L487.9 565.9 L488.5 563.5 L489.3 561.3 L490.4 559.1 L491.7 556.9 L493.1 554.9 L494.2 553.2 L495.0 552.0 L495.0 552.0" fill="none" stroke="#00f500" stroke-width="0.9"/><path d="M146.0 692.0L152.7 704.0L139.3 704.0Z" fill="#00f500"/><path d="M147.1 684.4L153.8 696.4L140.4 696.4Z" fill="#00f500"/><path d="M148.3 675.8L155.0 687.8L141.6 687.8Z" fill="#00f500"/><path d="M149.9 666.4L156.6 678.4L143.2 678.4Z" fill="#00f500"/><path d="M152.3 656.5L159.0 668.5L145.6 668.5Z" fill="#00f500"/><path d="M155.2 645.8L161.9 657.8L148.5 657.8Z" fill="#00f500"/><path d="M158.2 634.3L164.9 646.3L151.5 646.3Z" fill="#00f500"/><path d="M161.1 622.1L167.8 634.1L154.4 634.1Z" fill="#00f500"/><path d="M164.3 609.0L171.0 621.0L157.6 621.0Z" fill="#00f500"/><path d="M167.6 595.2L174.3 607.2L160.9 607.2Z" fill="#00f500"/><path d="M171.1 580.6L177.8 592.6L164.4 592.6Z" fill="#00f500"/><path d="M175.0 565.2L181.7 577.2L168.3 577.2Z" fill="#00f500"/><path d="M179.1 549.2L185.8 561.2L172.4 561.2Z" fill="#00f500"/><path d="M184.1 532.5L190.8 544.5L177.4 544.5Z" fill="#00f500"/><path d="M190.2 515.4L196.9 527.4L183.5 527.4Z" fill="#00f500"/><path d="M197.1 497.9L203.8 509.9L190.4 509.9Z" fill="#00f500"/><path d="M205.5 480.3L212.2 492.3L198.8 492.3Z" fill="#00f500"/><path d="M215.2 462.6L221.9 474.6L208.5 474.6Z" fill="#00f500"/><path d="M225.5 444.7L232.2 456.7L218.8 456.7Z" fill="#00f500"/><path d="M237.2 427.1L243.9 439.1L230.5 439.1Z" fill="#00f500"/><path d="M246.9 407.9L253.6 419.9L240.2 419.9Z" fill="#00f500"/><path d="M258.4 389.6L265.1 401.6L251.7 401.6Z" fill="#00f500"/><path d="M278.6 381.4L285.3 393.4L271.9 393.4Z" fill="#00f500"/><path d="M298.8 372.5L305.5 384.5L292.1 384.5Z" fill="#00f500"/><path d="M319.9 372.9L326.6 384.9L313.2 384.9Z" fill="#00f500"/><path d="M339.4 382.6L346.1 394.6L332.7 394.6Z" fill="#00f500"/><path d="M356.9 395.1L363.6 407.1L350.2 407.1Z" fill="#00f500"/><path d="M372.0 409.8L378.7 421.8L365.3 421.8Z" fill="#00f500"/><path d="M383.7 426.9L390.4 438.9L377.0 438.9Z" fill="#00f500"/><path d="M397.6 441.3L404.3 453.3L390.9 453.3Z" fill="#00f500"/><path d="M405.3 459.2L412.0 471.2L398.6 471.2Z" fill="#00f500"/><path d="M411.9 476.8L418.6 488.8L405.2 488.8Z" fill="#00f500"/><path d="M418.6 493.6L425.3 505.6L411.9 505.6Z" fill="#00f500"/><path d="M425.1 509.5L431.8 521.5L418.4 521.5Z" fill="#00f500"/><path d="M430.8 525.0L437.5 537.0L424.1 537.0Z" fill="#00f500"/><path d="M435.6 539.8L442.3 551.8L428.9 551.8Z" fill="#00f500"/><path d="M440.1 553.9L446.8 565.9L433.4 565.9Z" fill="#00f500"/><path d="M443.3 567.4L450.0 579.4L436.6 579.4Z" fill="#00f500"/><path d="M445.4 580.3L452.1 592.3L438.7 592.3Z" fill="#00f500"/><path d="M447.6 592.3L454.3 604.3L440.9 604.3Z" fill="#00f500"/><path d="M450.3 603.3L457.0 615.3L443.6 615.3Z" fill="#00f500"/><path d="M452.8 613.5L459.5 625.5L446.1 625.5Z" fill="#00f500"/><path d="M456.4 622.5L463.1 634.5L449.7 634.5Z" fill="#00f500"/><path d="M462.1 628.6L468.8 640.6L455.4 640.6Z" fill="#00f500"/><path d="M467.9 624.2L474.6 636.2L461.2 636.2Z" fill="#00f500"/><path d="M469.5 617.0L476.2 629.0L462.8 629.0Z" fill="#00f500"/><path d="M471.9 609.2L478.6 621.2L465.2 621.2Z" fill="#00f500"/><path d="M474.7 600.9L481.4 612.9L468.0 612.9Z" fill="#00f500"/><path d="M477.6 591.6L484.3 603.6L470.9 603.6Z" fill="#00f500"/><path d="M481.0 581.7L487.7 593.7L474.3 593.7Z" fill="#00f500"/><path d="M485.3 571.0L492.0 583.0L478.6 583.0Z" fill="#00f500"/><path d="M488.1 558.9L494.8 570.9L481.4 570.9Z" fill="#00f500"/><path d="M494.5 546.8L501.2 558.8L487.8 558.8Z" fill="#00f500"/></g><g clip-path="url(#ca)"><path d="M151.0 698.0 L151.6 694.7 L152.4 690.2 L153.3 684.8 L154.4 679.2 L155.6 673.7 L156.8 668.7 L158.2 663.8 L159.8 658.9 L161.3 653.9 L162.9 648.7 L164.5 643.1 L166.2 637.1 L167.9 630.9 L169.6 624.5 L171.3 618.1 L173.0 612.0 L174.7 606.0 L176.3 600.0 L178.0 594.0 L179.7 588.3 L181.4 582.8 L183.2 577.6 L185.2 572.7 L187.1 568.1 L189.1 563.5 L190.9 559.0 L192.5 554.5 L193.9 549.8 L195.2 545.2 L196.4 540.7 L197.7 536.2 L199.0 532.0 L200.4 528.0 L201.9 524.1 L203.4 520.3 L204.9 516.7 L206.5 513.2 L208.1 509.7 L209.6 506.5 L211.2 503.3 L212.9 500.2 L214.7 497.1 L216.7 493.9 L218.7 490.8 L220.8 487.6 L223.0 484.4 L225.4 481.2 L228.0 478.0 L230.9 474.7 L234.0 471.4 L237.3 468.1 L240.6 464.7 L243.9 461.2 L247.1 457.6 L250.2 454.1 L253.4 450.5 L256.5 446.8 L259.8 442.8 L263.1 438.5 L266.7 433.3 L270.3 427.7 L273.9 422.2 L277.5 417.4 L281.0 414.0 L284.3 412.2 L287.5 411.7 L290.6 412.0 L293.7 412.5 L296.9 413.0 L300.2 413.0 L303.7 412.9 L307.1 412.9 L310.6 413.1 L313.9 413.5 L317.0 414.3 L319.9 415.3 L322.7 416.5 L325.4 418.0 L328.2 419.8 L331.0 422.0 L334.0 424.7 L337.0 427.8 L340.0 431.3 L343.0 434.8 L346.0 438.0 L348.9 440.8 L351.9 443.3 L354.8 445.6 L357.6 448.0 L360.3 450.8 L362.8 454.2 L365.2 458.3 L367.5 462.9 L369.7 467.6 L371.9 472.4 L374.0 477.0 L376.1 481.4 L378.2 485.7 L380.3 490.0 L382.3 494.3 L384.3 498.6 L386.3 502.9 L388.3 507.3 L390.2 511.6 L392.1 516.0 L393.9 520.2 L395.5 524.3 L396.9 528.0 L398.2 531.4 L399.4 535.0 L400.6 539.0 L402.0 544.0 L403.6 550.4 L405.4 558.1 L407.2 566.1 L409.0 573.8 L410.5 580.3 L411.8 584.9 L412.9 588.2 L413.8 590.6 L414.6 592.5 L415.5 594.5 L416.3 596.8 L417.0 599.3 L417.8 601.7 L418.5 604.1 L419.2 606.5 L420.0 609.0 L420.9 611.6 L421.8 614.2 L422.8 616.8 L423.7 619.5 L424.7 622.1 L425.6 624.9 L426.5 628.1 L427.4 631.3 L428.4 634.2 L429.3 636.3 L430.3 637.1 L431.4 636.8 L432.6 635.7 L433.7 633.9 L434.9 631.9 L436.0 630.0 L437.1 628.2 L438.2 626.4 L439.4 624.4 L440.5 622.0 L441.6 619.1 L442.8 615.4 L444.0 610.8 L445.2 605.7 L446.3 600.5 L447.4 595.7 L448.3 591.8 L449.0 588.5 L449.5 585.7 L450.0 583.1 L450.5 580.6 L451.0 578.0 L451.5 575.4 L451.9 572.8 L452.4 570.3 L453.0 567.7 L453.7 565.0 L454.7 561.9 L456.1 558.3 L457.7 554.6 L459.2 551.2 L460.4 548.3 L461.0 547.0" fill="none" stroke="#a23c3c" stroke-width="0.9"/><path d="M151.0 690.7L158.3 698.0L151.0 705.3L143.7 698.0Z" fill="#fff" stroke="#a23c3c" stroke-width="1.5"/><path d="M152.2 684.0L159.5 691.3L152.2 698.6L144.9 691.3Z" fill="#fff" stroke="#a23c3c" stroke-width="1.5"/><path d="M153.5 676.5L160.8 683.8L153.5 691.1L146.2 683.8Z" fill="#fff" stroke="#a23c3c" stroke-width="1.5"/><path d="M155.2 668.4L162.5 675.7L155.2 683.0L147.9 675.7Z" fill="#fff" stroke="#a23c3c" stroke-width="1.5"/><path d="M157.3 659.6L164.6 666.9L157.3 674.2L150.0 666.9Z" fill="#fff" stroke="#a23c3c" stroke-width="1.5"/><path d="M160.2 650.3L167.5 657.6L160.2 664.9L152.9 657.6Z" fill="#fff" stroke="#a23c3c" stroke-width="1.5"/><path d="M163.2 640.4L170.5 647.7L163.2 655.0L155.9 647.7Z" fill="#fff" stroke="#a23c3c" stroke-width="1.5"/><path d="M166.2 629.7L173.5 637.0L166.2 644.3L158.9 637.0Z" fill="#fff" stroke="#a23c3c" stroke-width="1.5"/><path d="M169.3 618.3L176.6 625.6L169.3 632.9L162.0 625.6Z" fill="#fff" stroke="#a23c3c" stroke-width="1.5"/><path d="M172.6 606.3L179.9 613.6L172.6 620.9L165.3 613.6Z" fill="#fff" stroke="#a23c3c" stroke-width="1.5"/><path d="M176.1 593.6L183.4 600.9L176.1 608.2L168.8 600.9Z" fill="#fff" stroke="#a23c3c" stroke-width="1.5"/><path d="M179.9 580.2L187.2 587.5L179.9 594.8L172.6 587.5Z" fill="#fff" stroke="#a23c3c" stroke-width="1.5"/><path d="M184.7 566.4L192.0 573.7L184.7 581.0L177.4 573.7Z" fill="#fff" stroke="#a23c3c" stroke-width="1.5"/><path d="M190.6 552.3L197.9 559.6L190.6 566.9L183.3 559.6Z" fill="#fff" stroke="#a23c3c" stroke-width="1.5"/><path d="M195.4 537.1L202.7 544.4L195.4 551.7L188.1 544.4Z" fill="#fff" stroke="#a23c3c" stroke-width="1.5"/><path d="M200.2 521.3L207.5 528.6L200.2 535.9L192.9 528.6Z" fill="#fff" stroke="#a23c3c" stroke-width="1.5"/><path d="M206.7 505.4L214.0 512.7L206.7 520.0L199.4 512.7Z" fill="#fff" stroke="#a23c3c" stroke-width="1.5"/><path d="M214.8 489.7L222.1 497.0L214.8 504.3L207.5 497.0Z" fill="#fff" stroke="#a23c3c" stroke-width="1.5"/><path d="M224.9 474.6L232.2 481.9L224.9 489.2L217.6 481.9Z" fill="#fff" stroke="#a23c3c" stroke-width="1.5"/><path d="M237.3 460.8L244.6 468.1L237.3 475.4L230.0 468.1Z" fill="#fff" stroke="#a23c3c" stroke-width="1.5"/><path d="M250.1 447.0L257.4 454.3L250.1 461.6L242.8 454.3Z" fill="#fff" stroke="#a23c3c" stroke-width="1.5"/><path d="M262.3 432.2L269.6 439.5L262.3 446.8L255.0 439.5Z" fill="#fff" stroke="#a23c3c" stroke-width="1.5"/><path d="M273.0 416.2L280.3 423.5L273.0 430.8L265.7 423.5Z" fill="#fff" stroke="#a23c3c" stroke-width="1.5"/><path d="M287.4 404.4L294.7 411.7L287.4 419.0L280.1 411.7Z" fill="#fff" stroke="#a23c3c" stroke-width="1.5"/><path d="M306.6 405.6L313.9 412.9L306.6 420.2L299.3 412.9Z" fill="#fff" stroke="#a23c3c" stroke-width="1.5"/><path d="M324.9 410.4L332.2 417.7L324.9 425.0L317.6 417.7Z" fill="#fff" stroke="#a23c3c" stroke-width="1.5"/><path d="M339.0 422.8L346.3 430.1L339.0 437.4L331.7 430.1Z" fill="#fff" stroke="#a23c3c" stroke-width="1.5"/><path d="M352.0 436.1L359.3 443.4L352.0 450.7L344.7 443.4Z" fill="#fff" stroke="#a23c3c" stroke-width="1.5"/><path d="M364.3 449.3L371.6 456.6L364.3 463.9L357.0 456.6Z" fill="#fff" stroke="#a23c3c" stroke-width="1.5"/><path d="M371.9 465.2L379.2 472.5L371.9 479.8L364.6 472.5Z" fill="#fff" stroke="#a23c3c" stroke-width="1.5"/><path d="M379.3 480.6L386.6 487.9L379.3 495.2L372.0 487.9Z" fill="#fff" stroke="#a23c3c" stroke-width="1.5"/><path d="M386.3 495.6L393.6 502.9L386.3 510.2L379.0 502.9Z" fill="#fff" stroke="#a23c3c" stroke-width="1.5"/><path d="M392.7 510.1L400.0 517.4L392.7 524.7L385.4 517.4Z" fill="#fff" stroke="#a23c3c" stroke-width="1.5"/><path d="M398.2 524.2L405.5 531.5L398.2 538.8L390.9 531.5Z" fill="#fff" stroke="#a23c3c" stroke-width="1.5"/><path d="M402.4 538.1L409.7 545.4L402.4 552.7L395.1 545.4Z" fill="#fff" stroke="#a23c3c" stroke-width="1.5"/><path d="M405.5 551.4L412.8 558.7L405.5 566.0L398.2 558.7Z" fill="#fff" stroke="#a23c3c" stroke-width="1.5"/><path d="M408.4 564.0L415.7 571.3L408.4 578.6L401.1 571.3Z" fill="#fff" stroke="#a23c3c" stroke-width="1.5"/><path d="M411.3 575.9L418.6 583.2L411.3 590.5L404.0 583.2Z" fill="#fff" stroke="#a23c3c" stroke-width="1.5"/><path d="M415.3 586.7L422.6 594.0L415.3 601.3L408.0 594.0Z" fill="#fff" stroke="#a23c3c" stroke-width="1.5"/><path d="M418.5 596.9L425.8 604.2L418.5 611.5L411.2 604.2Z" fill="#fff" stroke="#a23c3c" stroke-width="1.5"/><path d="M421.6 606.4L428.9 613.7L421.6 621.0L414.3 613.7Z" fill="#fff" stroke="#a23c3c" stroke-width="1.5"/><path d="M424.8 615.1L432.1 622.4L424.8 629.7L417.5 622.4Z" fill="#fff" stroke="#a23c3c" stroke-width="1.5"/><path d="M427.2 623.2L434.5 630.5L427.2 637.8L419.9 630.5Z" fill="#fff" stroke="#a23c3c" stroke-width="1.5"/><path d="M430.5 629.9L437.8 637.2L430.5 644.5L423.2 637.2Z" fill="#fff" stroke="#a23c3c" stroke-width="1.5"/><path d="M434.8 624.8L442.1 632.1L434.8 639.4L427.5 632.1Z" fill="#fff" stroke="#a23c3c" stroke-width="1.5"/><path d="M438.6 618.5L445.9 625.8L438.6 633.1L431.3 625.8Z" fill="#fff" stroke="#a23c3c" stroke-width="1.5"/><path d="M441.8 611.3L449.1 618.6L441.8 625.9L434.5 618.6Z" fill="#fff" stroke="#a23c3c" stroke-width="1.5"/><path d="M444.1 603.0L451.4 610.3L444.1 617.6L436.8 610.3Z" fill="#fff" stroke="#a23c3c" stroke-width="1.5"/><path d="M446.2 593.8L453.5 601.1L446.2 608.4L438.9 601.1Z" fill="#fff" stroke="#a23c3c" stroke-width="1.5"/><path d="M448.4 583.9L455.7 591.2L448.4 598.5L441.1 591.2Z" fill="#fff" stroke="#a23c3c" stroke-width="1.5"/><path d="M450.5 573.1L457.8 580.4L450.5 587.7L443.2 580.4Z" fill="#fff" stroke="#a23c3c" stroke-width="1.5"/><path d="M452.8 561.3L460.1 568.6L452.8 575.9L445.5 568.6Z" fill="#fff" stroke="#a23c3c" stroke-width="1.5"/><path d="M457.0 549.0L464.3 556.3L457.0 563.6L449.7 556.3Z" fill="#fff" stroke="#a23c3c" stroke-width="1.5"/><path d="M461.0 539.7L468.3 547.0L461.0 554.3L453.7 547.0Z" fill="#fff" stroke="#a23c3c" stroke-width="1.5"/></g><g clip-path="url(#ca)"><path d="M150.0 698.0 L150.6 694.7 L151.4 690.2 L152.4 684.8 L153.5 679.2 L154.6 673.7 L155.8 668.7 L157.0 663.8 L158.2 658.9 L159.6 653.9 L161.0 648.7 L162.5 643.1 L164.1 637.1 L165.8 630.9 L167.5 624.6 L169.3 618.2 L171.0 612.0 L172.7 605.9 L174.3 599.7 L176.0 593.6 L177.7 587.6 L179.4 581.9 L181.2 576.4 L183.2 571.1 L185.2 565.9 L187.1 561.0 L188.9 556.1 L190.5 551.4 L191.8 546.9 L192.8 542.6 L193.9 538.3 L194.9 534.1 L196.0 530.0 L197.2 525.9 L198.5 521.8 L199.8 517.8 L201.2 513.9 L202.5 510.2 L203.9 506.7 L205.3 503.4 L206.8 500.2 L208.2 497.2 L209.8 494.1 L211.6 490.9 L213.5 487.7 L215.6 484.3 L217.7 481.1 L219.9 477.9 L222.0 475.0 L224.0 472.4 L226.1 470.0 L228.1 467.7 L230.2 465.4 L232.3 462.9 L234.4 460.1 L236.6 456.9 L238.8 453.6 L241.0 450.3 L243.3 447.1 L245.9 444.0 L248.5 441.2 L251.2 438.4 L254.1 435.7 L257.0 432.9 L260.0 430.0 L263.1 426.9 L266.3 423.6 L269.5 420.2 L272.8 416.9 L276.0 413.9 L279.0 411.2 L282.0 408.6 L284.9 406.1 L287.9 403.9 L290.9 402.0 L294.1 400.6 L297.4 399.5 L300.7 398.8 L304.2 398.4 L307.6 398.1 L311.0 398.0 L314.4 398.0 L317.7 398.1 L321.1 398.4 L324.4 398.9 L327.8 399.7 L331.3 400.8 L334.9 402.2 L338.6 403.9 L342.2 405.7 L345.7 407.7 L349.1 409.7 L352.5 411.6 L355.7 413.6 L358.9 415.7 L362.0 418.2 L365.0 421.0 L367.8 424.4 L370.5 428.2 L373.0 432.3 L375.6 436.5 L378.1 440.6 L380.8 444.7 L383.5 448.7 L386.2 452.8 L388.8 456.9 L391.4 461.1 L393.8 465.4 L396.0 469.9 L398.1 474.4 L400.1 478.9 L402.0 483.5 L404.0 488.0 L406.0 492.5 L407.9 497.0 L409.8 501.5 L411.7 506.0 L413.4 510.5 L415.1 515.0 L416.7 519.6 L418.2 524.2 L419.7 528.7 L421.1 533.1 L422.4 537.4 L423.7 541.6 L424.8 545.7 L425.9 549.6 L427.0 553.4 L428.0 557.0 L429.0 560.3 L430.0 563.3 L430.9 566.2 L431.8 569.0 L432.7 572.0 L433.5 575.1 L434.3 578.2 L435.0 581.3 L435.7 584.5 L436.5 587.8 L437.3 591.1 L438.2 594.7 L439.1 598.4 L440.0 602.1 L441.0 605.7 L442.0 609.0 L443.1 612.1 L444.3 615.0 L445.5 617.8 L446.7 620.5 L447.7 623.1 L448.5 625.9 L449.1 628.9 L449.6 631.9 L450.1 634.5 L450.6 636.3 L451.2 637.1 L452.0 636.7 L452.7 635.5 L453.5 633.7 L454.3 631.8 L455.0 630.0 L455.6 628.3 L456.2 626.4 L456.7 624.4 L457.2 622.4 L457.8 620.6 L458.5 618.9 L459.2 617.5 L460.0 616.1 L460.8 614.7 L461.5 613.2 L462.2 611.4 L462.8 609.3 L463.4 607.1 L463.9 604.8 L464.5 602.4 L465.0 600.0 L465.6 597.5 L466.1 594.9 L466.7 592.2 L467.2 589.5 L467.8 586.9 L468.4 584.2 L468.9 581.6 L469.4 579.0 L469.9 576.4 L470.5 573.8 L471.3 571.1 L472.0 568.6 L472.9 566.1 L473.8 563.5 L474.8 560.9 L476.0 558.0 L477.4 554.6 L479.1 550.8 L480.9 546.8 L482.5 543.3 L483.7 540.6 L484.0 540.0" fill="none" stroke="#a23c3c" stroke-width="0.9"/><path d="M150.0 690.7L157.3 698.0L150.0 705.3L142.7 698.0Z" fill="#fff" stroke="#a23c3c" stroke-width="1.5"/><path d="M151.3 683.6L158.6 690.9L151.3 698.2L144.0 690.9Z" fill="#fff" stroke="#a23c3c" stroke-width="1.5"/><path d="M152.8 675.6L160.1 682.9L152.8 690.2L145.5 682.9Z" fill="#fff" stroke="#a23c3c" stroke-width="1.5"/><path d="M154.5 666.9L161.8 674.2L154.5 681.5L147.2 674.2Z" fill="#fff" stroke="#a23c3c" stroke-width="1.5"/><path d="M156.7 657.6L164.0 664.9L156.7 672.2L149.4 664.9Z" fill="#fff" stroke="#a23c3c" stroke-width="1.5"/><path d="M159.3 647.6L166.6 654.9L159.3 662.2L152.0 654.9Z" fill="#fff" stroke="#a23c3c" stroke-width="1.5"/><path d="M162.2 636.9L169.5 644.2L162.2 651.5L154.9 644.2Z" fill="#fff" stroke="#a23c3c" stroke-width="1.5"/><path d="M165.3 625.5L172.6 632.8L165.3 640.1L158.0 632.8Z" fill="#fff" stroke="#a23c3c" stroke-width="1.5"/><path d="M168.6 613.4L175.9 620.7L168.6 628.0L161.3 620.7Z" fill="#fff" stroke="#a23c3c" stroke-width="1.5"/><path d="M172.1 600.6L179.4 607.9L172.1 615.2L164.8 607.9Z" fill="#fff" stroke="#a23c3c" stroke-width="1.5"/><path d="M175.8 587.1L183.1 594.4L175.8 601.7L168.5 594.4Z" fill="#fff" stroke="#a23c3c" stroke-width="1.5"/><path d="M180.0 572.9L187.3 580.2L180.0 587.5L172.7 580.2Z" fill="#fff" stroke="#a23c3c" stroke-width="1.5"/><path d="M185.3 558.3L192.6 565.6L185.3 572.9L178.0 565.6Z" fill="#fff" stroke="#a23c3c" stroke-width="1.5"/><path d="M190.8 543.0L198.1 550.3L190.8 557.6L183.5 550.3Z" fill="#fff" stroke="#a23c3c" stroke-width="1.5"/><path d="M195.0 526.5L202.3 533.8L195.0 541.1L187.7 533.8Z" fill="#fff" stroke="#a23c3c" stroke-width="1.5"/><path d="M200.1 509.7L207.4 517.0L200.1 524.3L192.8 517.0Z" fill="#fff" stroke="#a23c3c" stroke-width="1.5"/><path d="M206.9 492.7L214.2 500.0L206.9 507.3L199.6 500.0Z" fill="#fff" stroke="#a23c3c" stroke-width="1.5"/><path d="M216.1 476.3L223.4 483.6L216.1 490.9L208.8 483.6Z" fill="#fff" stroke="#a23c3c" stroke-width="1.5"/><path d="M227.7 460.9L235.0 468.2L227.7 475.5L220.4 468.2Z" fill="#fff" stroke="#a23c3c" stroke-width="1.5"/><path d="M239.6 445.1L246.9 452.4L239.6 459.7L232.3 452.4Z" fill="#fff" stroke="#a23c3c" stroke-width="1.5"/><path d="M252.6 429.8L259.9 437.1L252.6 444.4L245.3 437.1Z" fill="#fff" stroke="#a23c3c" stroke-width="1.5"/><path d="M267.0 415.5L274.3 422.8L267.0 430.1L259.7 422.8Z" fill="#fff" stroke="#a23c3c" stroke-width="1.5"/><path d="M281.9 401.4L289.2 408.7L281.9 416.0L274.6 408.7Z" fill="#fff" stroke="#a23c3c" stroke-width="1.5"/><path d="M299.7 391.7L307.0 399.0L299.7 406.3L292.4 399.0Z" fill="#fff" stroke="#a23c3c" stroke-width="1.5"/><path d="M320.2 391.0L327.5 398.3L320.2 405.6L312.9 398.3Z" fill="#fff" stroke="#a23c3c" stroke-width="1.5"/><path d="M339.5 397.1L346.8 404.4L339.5 411.7L332.2 404.4Z" fill="#fff" stroke="#a23c3c" stroke-width="1.5"/><path d="M357.0 407.1L364.3 414.4L357.0 421.7L349.7 414.4Z" fill="#fff" stroke="#a23c3c" stroke-width="1.5"/><path d="M370.6 421.1L377.9 428.4L370.6 435.7L363.3 428.4Z" fill="#fff" stroke="#a23c3c" stroke-width="1.5"/><path d="M380.9 437.5L388.2 444.8L380.9 452.1L373.6 444.8Z" fill="#fff" stroke="#a23c3c" stroke-width="1.5"/><path d="M391.1 453.3L398.4 460.6L391.1 467.9L383.8 460.6Z" fill="#fff" stroke="#a23c3c" stroke-width="1.5"/><path d="M399.2 469.6L406.5 476.9L399.2 484.2L391.9 476.9Z" fill="#fff" stroke="#a23c3c" stroke-width="1.5"/><path d="M406.2 485.8L413.5 493.1L406.2 500.4L398.9 493.1Z" fill="#fff" stroke="#a23c3c" stroke-width="1.5"/><path d="M412.7 501.3L420.0 508.6L412.7 515.9L405.4 508.6Z" fill="#fff" stroke="#a23c3c" stroke-width="1.5"/><path d="M418.1 516.5L425.4 523.8L418.1 531.1L410.8 523.8Z" fill="#fff" stroke="#a23c3c" stroke-width="1.5"/><path d="M422.8 531.2L430.1 538.5L422.8 545.8L415.5 538.5Z" fill="#fff" stroke="#a23c3c" stroke-width="1.5"/><path d="M426.7 545.2L434.0 552.5L426.7 559.8L419.4 552.5Z" fill="#fff" stroke="#a23c3c" stroke-width="1.5"/><path d="M430.8 558.4L438.1 565.7L430.8 573.0L423.5 565.7Z" fill="#fff" stroke="#a23c3c" stroke-width="1.5"/><path d="M434.3 570.9L441.6 578.2L434.3 585.5L427.0 578.2Z" fill="#fff" stroke="#a23c3c" stroke-width="1.5"/><path d="M437.0 582.8L444.3 590.1L437.0 597.4L429.7 590.1Z" fill="#fff" stroke="#a23c3c" stroke-width="1.5"/><path d="M439.8 593.9L447.1 601.2L439.8 608.5L432.5 601.2Z" fill="#fff" stroke="#a23c3c" stroke-width="1.5"/><path d="M442.8 604.1L450.1 611.4L442.8 618.7L435.5 611.4Z" fill="#fff" stroke="#a23c3c" stroke-width="1.5"/><path d="M446.7 613.1L454.0 620.4L446.7 627.7L439.4 620.4Z" fill="#fff" stroke="#a23c3c" stroke-width="1.5"/><path d="M449.2 621.8L456.5 629.1L449.2 636.4L441.9 629.1Z" fill="#fff" stroke="#a23c3c" stroke-width="1.5"/><path d="M451.1 629.7L458.4 637.0L451.1 644.3L443.8 637.0Z" fill="#fff" stroke="#a23c3c" stroke-width="1.5"/><path d="M454.6 623.8L461.9 631.1L454.6 638.4L447.3 631.1Z" fill="#fff" stroke="#a23c3c" stroke-width="1.5"/><path d="M456.7 616.8L464.0 624.1L456.7 631.4L449.4 624.1Z" fill="#fff" stroke="#a23c3c" stroke-width="1.5"/><path d="M459.6 609.5L466.9 616.8L459.6 624.1L452.3 616.8Z" fill="#fff" stroke="#a23c3c" stroke-width="1.5"/><path d="M462.9 601.7L470.2 609.0L462.9 616.3L455.6 609.0Z" fill="#fff" stroke="#a23c3c" stroke-width="1.5"/><path d="M465.0 592.7L472.3 600.0L465.0 607.3L457.7 600.0Z" fill="#fff" stroke="#a23c3c" stroke-width="1.5"/><path d="M467.1 583.0L474.4 590.3L467.1 597.6L459.8 590.3Z" fill="#fff" stroke="#a23c3c" stroke-width="1.5"/><path d="M469.2 572.4L476.5 579.7L469.2 587.0L461.9 579.7Z" fill="#fff" stroke="#a23c3c" stroke-width="1.5"/><path d="M472.1 561.2L479.4 568.5L472.1 575.8L464.8 568.5Z" fill="#fff" stroke="#a23c3c" stroke-width="1.5"/><path d="M476.5 549.5L483.8 556.8L476.5 564.1L469.2 556.8Z" fill="#fff" stroke="#a23c3c" stroke-width="1.5"/><path d="M482.0 537.1L489.3 544.4L482.0 551.7L474.7 544.4Z" fill="#fff" stroke="#a23c3c" stroke-width="1.5"/><path d="M484.0 532.7L491.3 540.0L484.0 547.3L476.7 540.0Z" fill="#fff" stroke="#a23c3c" stroke-width="1.5"/></g><g clip-path="url(#ca)"><path d="M151.0 700.0 L151.8 696.5 L153.0 691.7 L154.4 686.0 L155.9 679.9 L157.5 673.9 L159.1 668.2 L160.8 662.3 L162.7 656.2 L164.6 650.1 L166.6 644.0 L168.7 638.0 L170.8 631.9 L173.0 625.8 L175.2 619.7 L177.5 613.8 L180.0 608.0 L182.6 602.5 L185.3 597.2 L188.1 592.0 L191.0 586.8 L194.0 581.7 L197.0 576.5 L200.1 571.4 L203.3 566.2 L206.5 561.1 L209.8 556.2 L213.1 551.4 L216.4 546.9 L219.7 542.5 L223.1 538.2 L226.5 534.1 L230.0 530.0 L233.6 526.0 L237.4 521.9 L241.1 518.0 L245.0 514.4 L248.7 511.0 L252.5 508.1 L256.2 505.4 L260.0 503.0 L263.8 500.9 L267.5 499.1 L271.3 497.5 L275.1 496.2 L279.0 495.2 L282.9 494.4 L286.6 494.0 L290.0 494.0 L293.2 494.4 L296.1 495.3 L298.8 496.4 L301.5 497.8 L304.1 499.4 L306.7 501.2 L309.2 503.1 L311.7 505.2 L314.1 507.6 L316.4 510.2 L318.8 513.0 L321.1 516.0 L323.4 519.2 L325.7 522.7 L327.9 526.3 L330.0 530.0 L332.0 533.9 L334.0 537.9 L335.9 542.1 L337.7 546.3 L339.4 550.6 L341.1 554.8 L342.7 559.0 L344.2 563.3 L345.6 567.6 L347.1 572.0 L348.5 576.5 L349.8 581.1 L351.2 585.8 L352.5 590.5 L353.8 595.3 L355.0 600.0 L356.2 604.7 L357.3 609.5 L358.4 614.2 L359.5 618.9 L360.6 623.5 L361.8 628.2 L362.9 633.4 L364.1 638.6 L365.2 643.2 L366.3 646.6 L367.3 648.4 L368.3 648.5 L369.2 647.3 L370.1 645.2 L371.0 642.7 L372.0 640.0 L373.1 636.7 L374.4 632.5 L375.7 628.0 L376.9 623.9 L377.8 620.7 L378.0 620.0" fill="none" stroke="#ff30ff" stroke-width="0.9"/><path d="M151.0 694.4L157.2 705.6L144.8 705.6Z" fill="#fff" stroke="#ff30ff" stroke-width="1.5" stroke-linejoin="miter"/><path d="M152.1 689.6L158.3 700.8L145.9 700.8Z" fill="#fff" stroke="#ff30ff" stroke-width="1.5" stroke-linejoin="miter"/><path d="M153.4 684.3L159.6 695.5L147.2 695.5Z" fill="#fff" stroke="#ff30ff" stroke-width="1.5" stroke-linejoin="miter"/><path d="M154.8 678.4L161.0 689.6L148.6 689.6Z" fill="#fff" stroke="#ff30ff" stroke-width="1.5" stroke-linejoin="miter"/><path d="M156.5 672.1L162.7 683.3L150.3 683.3Z" fill="#fff" stroke="#ff30ff" stroke-width="1.5" stroke-linejoin="miter"/><path d="M158.3 665.3L164.5 676.5L152.1 676.5Z" fill="#fff" stroke="#ff30ff" stroke-width="1.5" stroke-linejoin="miter"/><path d="M160.4 658.1L166.6 669.3L154.2 669.3Z" fill="#fff" stroke="#ff30ff" stroke-width="1.5" stroke-linejoin="miter"/><path d="M162.7 650.5L168.9 661.7L156.5 661.7Z" fill="#fff" stroke="#ff30ff" stroke-width="1.5" stroke-linejoin="miter"/><path d="M165.3 642.4L171.5 653.6L159.1 653.6Z" fill="#fff" stroke="#ff30ff" stroke-width="1.5" stroke-linejoin="miter"/><path d="M168.2 633.8L174.4 645.0L162.0 645.0Z" fill="#fff" stroke="#ff30ff" stroke-width="1.5" stroke-linejoin="miter"/><path d="M171.3 624.8L177.5 636.0L165.1 636.0Z" fill="#fff" stroke="#ff30ff" stroke-width="1.5" stroke-linejoin="miter"/><path d="M174.7 615.3L180.9 626.5L168.5 626.5Z" fill="#fff" stroke="#ff30ff" stroke-width="1.5" stroke-linejoin="miter"/><path d="M178.6 605.5L184.8 616.7L172.4 616.7Z" fill="#fff" stroke="#ff30ff" stroke-width="1.5" stroke-linejoin="miter"/><path d="M183.3 595.5L189.5 606.7L177.1 606.7Z" fill="#fff" stroke="#ff30ff" stroke-width="1.5" stroke-linejoin="miter"/><path d="M188.7 585.3L194.9 596.5L182.5 596.5Z" fill="#fff" stroke="#ff30ff" stroke-width="1.5" stroke-linejoin="miter"/><path d="M194.7 575.0L200.9 586.2L188.5 586.2Z" fill="#fff" stroke="#ff30ff" stroke-width="1.5" stroke-linejoin="miter"/><path d="M201.0 564.3L207.2 575.5L194.8 575.5Z" fill="#fff" stroke="#ff30ff" stroke-width="1.5" stroke-linejoin="miter"/><path d="M207.9 553.5L214.1 564.7L201.7 564.7Z" fill="#fff" stroke="#ff30ff" stroke-width="1.5" stroke-linejoin="miter"/><path d="M215.3 542.7L221.5 553.9L209.1 553.9Z" fill="#fff" stroke="#ff30ff" stroke-width="1.5" stroke-linejoin="miter"/><path d="M223.5 532.1L229.7 543.3L217.3 543.3Z" fill="#fff" stroke="#ff30ff" stroke-width="1.5" stroke-linejoin="miter"/><path d="M232.4 521.7L238.6 532.9L226.2 532.9Z" fill="#fff" stroke="#ff30ff" stroke-width="1.5" stroke-linejoin="miter"/><path d="M241.9 511.7L248.1 522.9L235.7 522.9Z" fill="#fff" stroke="#ff30ff" stroke-width="1.5" stroke-linejoin="miter"/><path d="M252.4 502.5L258.6 513.7L246.2 513.7Z" fill="#fff" stroke="#ff30ff" stroke-width="1.5" stroke-linejoin="miter"/><path d="M264.2 495.0L270.4 506.2L258.0 506.2Z" fill="#fff" stroke="#ff30ff" stroke-width="1.5" stroke-linejoin="miter"/><path d="M277.2 490.0L283.4 501.2L271.0 501.2Z" fill="#fff" stroke="#ff30ff" stroke-width="1.5" stroke-linejoin="miter"/><path d="M290.9 488.5L297.1 499.7L284.7 499.7Z" fill="#fff" stroke="#ff30ff" stroke-width="1.5" stroke-linejoin="miter"/><path d="M303.5 493.5L309.7 504.7L297.3 504.7Z" fill="#fff" stroke="#ff30ff" stroke-width="1.5" stroke-linejoin="miter"/><path d="M313.9 501.9L320.1 513.1L307.7 513.1Z" fill="#fff" stroke="#ff30ff" stroke-width="1.5" stroke-linejoin="miter"/><path d="M322.3 512.0L328.5 523.2L316.1 523.2Z" fill="#fff" stroke="#ff30ff" stroke-width="1.5" stroke-linejoin="miter"/><path d="M329.1 522.8L335.3 534.0L322.9 534.0Z" fill="#fff" stroke="#ff30ff" stroke-width="1.5" stroke-linejoin="miter"/><path d="M334.7 533.8L340.9 545.0L328.5 545.0Z" fill="#fff" stroke="#ff30ff" stroke-width="1.5" stroke-linejoin="miter"/><path d="M339.4 544.8L345.6 556.0L333.2 556.0Z" fill="#fff" stroke="#ff30ff" stroke-width="1.5" stroke-linejoin="miter"/><path d="M343.4 555.5L349.6 566.7L337.2 566.7Z" fill="#fff" stroke="#ff30ff" stroke-width="1.5" stroke-linejoin="miter"/><path d="M346.9 565.9L353.1 577.1L340.7 577.1Z" fill="#fff" stroke="#ff30ff" stroke-width="1.5" stroke-linejoin="miter"/><path d="M350.0 575.9L356.2 587.1L343.8 587.1Z" fill="#fff" stroke="#ff30ff" stroke-width="1.5" stroke-linejoin="miter"/><path d="M352.6 585.4L358.8 596.6L346.4 596.6Z" fill="#fff" stroke="#ff30ff" stroke-width="1.5" stroke-linejoin="miter"/><path d="M355.0 594.5L361.2 605.7L348.8 605.7Z" fill="#fff" stroke="#ff30ff" stroke-width="1.5" stroke-linejoin="miter"/><path d="M357.1 603.1L363.3 614.3L350.9 614.3Z" fill="#fff" stroke="#ff30ff" stroke-width="1.5" stroke-linejoin="miter"/><path d="M359.0 611.2L365.2 622.4L352.8 622.4Z" fill="#fff" stroke="#ff30ff" stroke-width="1.5" stroke-linejoin="miter"/><path d="M360.8 618.7L367.0 629.9L354.6 629.9Z" fill="#fff" stroke="#ff30ff" stroke-width="1.5" stroke-linejoin="miter"/><path d="M362.5 625.7L368.7 636.9L356.3 636.9Z" fill="#fff" stroke="#ff30ff" stroke-width="1.5" stroke-linejoin="miter"/><path d="M363.9 632.3L370.1 643.5L357.7 643.5Z" fill="#fff" stroke="#ff30ff" stroke-width="1.5" stroke-linejoin="miter"/><path d="M365.4 638.2L371.6 649.4L359.2 649.4Z" fill="#fff" stroke="#ff30ff" stroke-width="1.5" stroke-linejoin="miter"/><path d="M367.9 643.0L374.1 654.2L361.7 654.2Z" fill="#fff" stroke="#ff30ff" stroke-width="1.5" stroke-linejoin="miter"/><path d="M370.4 638.9L376.6 650.1L364.2 650.1Z" fill="#fff" stroke="#ff30ff" stroke-width="1.5" stroke-linejoin="miter"/><path d="M372.9 631.9L379.1 643.1L366.7 643.1Z" fill="#fff" stroke="#ff30ff" stroke-width="1.5" stroke-linejoin="miter"/><path d="M375.6 622.9L381.8 634.1L369.4 634.1Z" fill="#fff" stroke="#ff30ff" stroke-width="1.5" stroke-linejoin="miter"/><path d="M378.0 614.4L384.2 625.6L371.8 625.6Z" fill="#fff" stroke="#ff30ff" stroke-width="1.5" stroke-linejoin="miter"/></g><g clip-path="url(#ca)"><path d="M150.0 700.0 L150.7 696.5 L151.7 691.7 L152.8 686.0 L154.1 679.9 L155.5 673.9 L157.0 668.2 L158.5 662.4 L160.2 656.4 L161.9 650.4 L163.8 644.2 L165.6 637.9 L167.5 631.3 L169.5 624.6 L171.6 617.9 L173.7 611.3 L176.0 605.0 L178.4 599.1 L181.0 593.4 L183.6 587.9 L186.4 582.4 L189.1 576.9 L191.8 571.2 L194.6 565.6 L197.4 559.9 L200.3 554.2 L203.1 548.7 L205.9 543.2 L208.7 537.8 L211.4 532.4 L214.2 527.1 L217.0 522.0 L220.0 517.0 L223.2 512.1 L226.6 507.4 L230.0 502.7 L233.5 498.3 L236.9 494.3 L240.2 490.6 L243.3 487.2 L246.4 484.1 L249.5 481.3 L252.7 478.7 L256.2 476.2 L259.9 473.9 L263.8 471.8 L267.7 469.9 L271.5 468.3 L275.0 467.0 L278.1 466.0 L281.0 465.2 L283.8 464.8 L286.4 464.6 L289.1 464.8 L291.8 465.5 L294.4 466.6 L297.1 468.0 L299.7 469.7 L302.3 471.6 L304.9 473.7 L307.6 476.1 L310.3 478.7 L313.0 481.5 L315.6 484.3 L318.0 487.0 L320.1 489.6 L322.0 492.1 L323.8 494.7 L325.5 497.3 L327.4 500.0 L329.3 503.0 L331.5 506.0 L333.6 509.2 L335.8 512.4 L337.8 515.8 L339.6 519.1 L341.3 522.6 L342.8 526.1 L344.3 529.7 L345.7 533.3 L347.0 537.0 L348.2 540.7 L349.4 544.5 L350.5 548.3 L351.5 552.0 L352.6 555.8 L353.8 559.4 L354.9 563.1 L356.0 566.7 L357.1 570.2 L358.2 573.7 L359.4 577.1 L360.6 580.3 L361.8 583.5 L363.0 586.6 L364.1 589.7 L365.0 593.0 L365.7 596.5 L366.3 600.0 L366.8 603.6 L367.2 607.3 L367.8 610.8 L368.5 614.3 L369.2 617.7 L369.9 621.1 L370.7 624.4 L371.5 627.8 L372.2 631.2 L373.0 635.0 L373.6 639.0 L374.4 642.7 L375.1 645.9 L376.0 648.0 L377.0 649.1 L378.1 649.4 L379.3 649.0 L380.5 648.0 L381.6 646.6 L382.8 644.6 L383.9 641.9 L385.1 638.6 L386.2 635.0 L387.3 631.3 L388.3 627.9 L389.3 624.5 L390.2 621.1 L391.1 617.7 L392.0 614.0 L393.0 610.0 L394.1 605.5 L395.2 600.6 L396.4 595.6 L397.5 590.7 L398.7 586.3 L399.7 582.7 L400.6 579.7 L401.5 577.1 L402.4 574.6 L403.3 572.0 L404.4 568.9 L405.6 565.3 L406.9 561.4 L408.1 557.6 L409.2 554.3 L410.0 552.0 L410.0 552.0" fill="none" stroke="#ff30ff" stroke-width="0.9"/><path d="M150.0 694.4L156.2 705.6L143.8 705.6Z" fill="#fff" stroke="#ff30ff" stroke-width="1.5" stroke-linejoin="miter"/><path d="M151.1 689.0L157.3 700.2L144.9 700.2Z" fill="#fff" stroke="#ff30ff" stroke-width="1.5" stroke-linejoin="miter"/><path d="M152.3 682.9L158.5 694.1L146.1 694.1Z" fill="#fff" stroke="#ff30ff" stroke-width="1.5" stroke-linejoin="miter"/><path d="M153.7 676.2L159.9 687.4L147.5 687.4Z" fill="#fff" stroke="#ff30ff" stroke-width="1.5" stroke-linejoin="miter"/><path d="M155.4 669.0L161.6 680.2L149.2 680.2Z" fill="#fff" stroke="#ff30ff" stroke-width="1.5" stroke-linejoin="miter"/><path d="M157.3 661.4L163.5 672.6L151.1 672.6Z" fill="#fff" stroke="#ff30ff" stroke-width="1.5" stroke-linejoin="miter"/><path d="M159.5 653.2L165.7 664.4L153.3 664.4Z" fill="#fff" stroke="#ff30ff" stroke-width="1.5" stroke-linejoin="miter"/><path d="M162.0 644.5L168.2 655.7L155.8 655.7Z" fill="#fff" stroke="#ff30ff" stroke-width="1.5" stroke-linejoin="miter"/><path d="M164.7 635.3L170.9 646.5L158.5 646.5Z" fill="#fff" stroke="#ff30ff" stroke-width="1.5" stroke-linejoin="miter"/><path d="M167.6 625.5L173.8 636.7L161.4 636.7Z" fill="#fff" stroke="#ff30ff" stroke-width="1.5" stroke-linejoin="miter"/><path d="M170.7 615.1L176.9 626.3L164.5 626.3Z" fill="#fff" stroke="#ff30ff" stroke-width="1.5" stroke-linejoin="miter"/><path d="M174.2 604.3L180.4 615.5L168.0 615.5Z" fill="#fff" stroke="#ff30ff" stroke-width="1.5" stroke-linejoin="miter"/><path d="M178.5 593.2L184.7 604.4L172.3 604.4Z" fill="#fff" stroke="#ff30ff" stroke-width="1.5" stroke-linejoin="miter"/><path d="M183.8 581.9L190.0 593.1L177.6 593.1Z" fill="#fff" stroke="#ff30ff" stroke-width="1.5" stroke-linejoin="miter"/><path d="M189.6 570.3L195.8 581.5L183.4 581.5Z" fill="#fff" stroke="#ff30ff" stroke-width="1.5" stroke-linejoin="miter"/><path d="M195.5 558.1L201.7 569.3L189.3 569.3Z" fill="#fff" stroke="#ff30ff" stroke-width="1.5" stroke-linejoin="miter"/><path d="M201.8 545.6L208.0 556.8L195.6 556.8Z" fill="#fff" stroke="#ff30ff" stroke-width="1.5" stroke-linejoin="miter"/><path d="M208.4 532.8L214.6 544.0L202.2 544.0Z" fill="#fff" stroke="#ff30ff" stroke-width="1.5" stroke-linejoin="miter"/><path d="M215.2 519.6L221.4 530.8L209.0 530.8Z" fill="#fff" stroke="#ff30ff" stroke-width="1.5" stroke-linejoin="miter"/><path d="M223.1 506.7L229.3 517.9L216.9 517.9Z" fill="#fff" stroke="#ff30ff" stroke-width="1.5" stroke-linejoin="miter"/><path d="M232.3 494.3L238.5 505.5L226.1 505.5Z" fill="#fff" stroke="#ff30ff" stroke-width="1.5" stroke-linejoin="miter"/><path d="M242.5 482.4L248.7 493.6L236.3 493.6Z" fill="#fff" stroke="#ff30ff" stroke-width="1.5" stroke-linejoin="miter"/><path d="M254.2 472.0L260.4 483.2L248.0 483.2Z" fill="#fff" stroke="#ff30ff" stroke-width="1.5" stroke-linejoin="miter"/><path d="M267.9 464.2L274.1 475.4L261.7 475.4Z" fill="#fff" stroke="#ff30ff" stroke-width="1.5" stroke-linejoin="miter"/><path d="M282.9 459.3L289.1 470.5L276.7 470.5Z" fill="#fff" stroke="#ff30ff" stroke-width="1.5" stroke-linejoin="miter"/><path d="M297.7 462.8L303.9 474.0L291.5 474.0Z" fill="#fff" stroke="#ff30ff" stroke-width="1.5" stroke-linejoin="miter"/><path d="M309.7 472.5L315.9 483.7L303.5 483.7Z" fill="#fff" stroke="#ff30ff" stroke-width="1.5" stroke-linejoin="miter"/><path d="M319.9 483.7L326.1 494.9L313.7 494.9Z" fill="#fff" stroke="#ff30ff" stroke-width="1.5" stroke-linejoin="miter"/><path d="M328.3 495.9L334.5 507.1L322.1 507.1Z" fill="#fff" stroke="#ff30ff" stroke-width="1.5" stroke-linejoin="miter"/><path d="M336.4 507.9L342.6 519.1L330.2 519.1Z" fill="#fff" stroke="#ff30ff" stroke-width="1.5" stroke-linejoin="miter"/><path d="M342.7 520.3L348.9 531.5L336.5 531.5Z" fill="#fff" stroke="#ff30ff" stroke-width="1.5" stroke-linejoin="miter"/><path d="M347.5 532.9L353.7 544.1L341.3 544.1Z" fill="#fff" stroke="#ff30ff" stroke-width="1.5" stroke-linejoin="miter"/><path d="M351.2 545.3L357.4 556.5L345.0 556.5Z" fill="#fff" stroke="#ff30ff" stroke-width="1.5" stroke-linejoin="miter"/><path d="M354.8 557.2L361.0 568.4L348.6 568.4Z" fill="#fff" stroke="#ff30ff" stroke-width="1.5" stroke-linejoin="miter"/><path d="M358.3 568.4L364.5 579.6L352.1 579.6Z" fill="#fff" stroke="#ff30ff" stroke-width="1.5" stroke-linejoin="miter"/><path d="M362.2 578.9L368.4 590.1L356.0 590.1Z" fill="#fff" stroke="#ff30ff" stroke-width="1.5" stroke-linejoin="miter"/><path d="M365.4 589.0L371.6 600.2L359.2 600.2Z" fill="#fff" stroke="#ff30ff" stroke-width="1.5" stroke-linejoin="miter"/><path d="M366.9 598.9L373.1 610.1L360.7 610.1Z" fill="#fff" stroke="#ff30ff" stroke-width="1.5" stroke-linejoin="miter"/><path d="M368.3 608.1L374.5 619.3L362.1 619.3Z" fill="#fff" stroke="#ff30ff" stroke-width="1.5" stroke-linejoin="miter"/><path d="M370.2 616.6L376.4 627.8L364.0 627.8Z" fill="#fff" stroke="#ff30ff" stroke-width="1.5" stroke-linejoin="miter"/><path d="M372.0 624.6L378.2 635.8L365.8 635.8Z" fill="#fff" stroke="#ff30ff" stroke-width="1.5" stroke-linejoin="miter"/><path d="M373.4 632.0L379.6 643.2L367.2 643.2Z" fill="#fff" stroke="#ff30ff" stroke-width="1.5" stroke-linejoin="miter"/><path d="M374.7 638.8L380.9 650.0L368.5 650.0Z" fill="#fff" stroke="#ff30ff" stroke-width="1.5" stroke-linejoin="miter"/><path d="M378.0 643.8L384.2 655.0L371.8 655.0Z" fill="#fff" stroke="#ff30ff" stroke-width="1.5" stroke-linejoin="miter"/><path d="M382.1 640.3L388.3 651.5L375.9 651.5Z" fill="#fff" stroke="#ff30ff" stroke-width="1.5" stroke-linejoin="miter"/><path d="M384.8 633.7L391.0 644.9L378.6 644.9Z" fill="#fff" stroke="#ff30ff" stroke-width="1.5" stroke-linejoin="miter"/><path d="M387.1 626.3L393.3 637.5L380.9 637.5Z" fill="#fff" stroke="#ff30ff" stroke-width="1.5" stroke-linejoin="miter"/><path d="M389.5 618.2L395.7 629.4L383.3 629.4Z" fill="#fff" stroke="#ff30ff" stroke-width="1.5" stroke-linejoin="miter"/><path d="M391.7 609.5L397.9 620.7L385.5 620.7Z" fill="#fff" stroke="#ff30ff" stroke-width="1.5" stroke-linejoin="miter"/><path d="M394.1 600.0L400.3 611.2L387.9 611.2Z" fill="#fff" stroke="#ff30ff" stroke-width="1.5" stroke-linejoin="miter"/><path d="M396.4 589.7L402.6 600.9L390.2 600.9Z" fill="#fff" stroke="#ff30ff" stroke-width="1.5" stroke-linejoin="miter"/><path d="M399.2 578.7L405.4 589.9L393.0 589.9Z" fill="#fff" stroke="#ff30ff" stroke-width="1.5" stroke-linejoin="miter"/><path d="M403.1 567.1L409.3 578.3L396.9 578.3Z" fill="#fff" stroke="#ff30ff" stroke-width="1.5" stroke-linejoin="miter"/><path d="M407.3 554.5L413.5 565.7L401.1 565.7Z" fill="#fff" stroke="#ff30ff" stroke-width="1.5" stroke-linejoin="miter"/><path d="M410.0 546.4L416.2 557.6L403.8 557.6Z" fill="#fff" stroke="#ff30ff" stroke-width="1.5" stroke-linejoin="miter"/></g><g clip-path="url(#cc)"><path d="M146.0 1152.0 L146.7 1149.0 L147.7 1144.7 L148.9 1139.7 L150.2 1134.5 L151.6 1129.5 L152.9 1125.1 L154.3 1120.9 L155.8 1116.7 L157.3 1112.4 L158.9 1108.1 L160.6 1103.4 L162.3 1098.5 L164.2 1093.4 L166.1 1088.2 L168.0 1083.1 L170.0 1078.0 L172.0 1073.1 L174.1 1068.2 L176.1 1063.3 L178.2 1058.5 L180.3 1053.6 L182.4 1048.8 L184.4 1043.9 L186.4 1039.1 L188.4 1034.3 L190.5 1029.3 L192.8 1024.3 L195.1 1019.1 L197.4 1013.8 L199.9 1008.4 L202.4 1003.2 L205.0 998.0 L207.7 992.9 L210.5 987.8 L213.4 982.9 L216.3 978.0 L219.1 973.5 L221.8 969.2 L224.3 965.0 L226.8 961.1 L229.4 957.4 L232.1 954.0 L235.0 951.1 L238.4 948.5 L241.9 946.2 L245.5 944.2 L248.9 942.5 L252.0 941.0 L254.6 939.8 L256.9 938.8 L259.1 938.1 L261.1 937.6 L263.3 937.1 L265.5 936.8 L267.8 936.6 L270.0 936.6 L272.2 936.6 L274.5 936.8 L276.8 937.1 L279.0 937.5 L281.2 937.9 L283.5 938.5 L285.8 939.2 L288.0 940.0 L290.2 940.9 L292.5 941.9 L294.8 942.9 L297.0 944.1 L299.2 945.5 L301.5 947.0 L303.8 948.8 L306.0 950.6 L308.2 952.6 L310.5 954.6 L312.8 956.7 L315.1 958.8 L317.4 961.0 L319.7 963.2 L321.9 965.5 L324.0 968.0 L325.9 970.6 L327.6 973.4 L329.3 976.2 L330.9 979.1 L332.5 982.0 L334.1 984.9 L335.6 987.9 L337.1 990.8 L338.6 993.8 L340.1 996.9 L341.5 1000.1 L342.8 1003.4 L344.2 1006.9 L345.5 1010.4 L346.8 1013.8 L348.0 1017.0 L349.2 1020.0 L350.3 1022.8 L351.4 1025.6 L352.5 1028.3 L353.6 1031.1 L354.8 1033.9 L355.9 1036.7 L357.1 1039.5 L358.3 1042.3 L359.3 1045.1 L360.3 1047.9 L361.1 1050.7 L361.8 1053.5 L362.5 1056.2 L363.2 1059.1 L364.0 1062.0 L364.9 1065.1 L365.9 1068.4 L366.9 1071.7 L367.9 1075.0 L368.7 1078.0 L369.5 1080.8 L370.1 1083.4 L370.6 1085.8 L371.1 1088.1 L371.6 1090.5 L372.2 1092.8 L372.9 1095.7 L373.6 1098.7 L374.3 1101.4 L375.1 1103.4 L376.0 1104.0 L377.0 1103.1 L378.1 1100.9 L379.3 1097.9 L380.5 1094.5 L381.6 1091.1 L382.7 1087.8 L383.8 1084.4 L384.9 1080.7 L386.1 1076.8 L387.2 1072.8 L388.4 1068.6 L389.7 1064.0 L390.9 1059.1 L392.3 1054.2 L393.6 1049.4 L395.0 1045.0 L396.5 1040.9 L398.0 1037.0 L399.5 1033.3 L401.0 1029.7 L402.5 1026.2 L404.0 1022.6 L405.5 1018.9 L407.0 1015.2 L408.4 1012.0 L409.5 1009.3 L410.0 1008.0" fill="none" stroke="#000000" stroke-width="0.9"/><rect x="141.2" y="1147.2" width="9.6" height="9.6" fill="#000000"/><rect x="142.4" y="1142.1" width="9.6" height="9.6" fill="#000000"/><rect x="143.7" y="1136.4" width="9.6" height="9.6" fill="#000000"/><rect x="145.3" y="1130.2" width="9.6" height="9.6" fill="#000000"/><rect x="147.1" y="1123.5" width="9.6" height="9.6" fill="#000000"/><rect x="149.4" y="1116.4" width="9.6" height="9.6" fill="#000000"/><rect x="152.0" y="1108.9" width="9.6" height="9.6" fill="#000000"/><rect x="154.9" y="1100.9" width="9.6" height="9.6" fill="#000000"/><rect x="158.0" y="1092.4" width="9.6" height="9.6" fill="#000000"/><rect x="161.3" y="1083.4" width="9.6" height="9.6" fill="#000000"/><rect x="164.9" y="1073.9" width="9.6" height="9.6" fill="#000000"/><rect x="169.0" y="1064.0" width="9.6" height="9.6" fill="#000000"/><rect x="173.4" y="1053.7" width="9.6" height="9.6" fill="#000000"/><rect x="178.0" y="1042.9" width="9.6" height="9.6" fill="#000000"/><rect x="182.7" y="1031.6" width="9.6" height="9.6" fill="#000000"/><rect x="187.8" y="1019.9" width="9.6" height="9.6" fill="#000000"/><rect x="193.2" y="1007.9" width="9.6" height="9.6" fill="#000000"/><rect x="199.0" y="995.6" width="9.6" height="9.6" fill="#000000"/><rect x="205.6" y="983.3" width="9.6" height="9.6" fill="#000000"/><rect x="212.8" y="971.0" width="9.6" height="9.6" fill="#000000"/><rect x="220.5" y="958.6" width="9.6" height="9.6" fill="#000000"/><rect x="229.4" y="947.0" width="9.6" height="9.6" fill="#000000"/><rect x="241.8" y="938.9" width="9.6" height="9.6" fill="#000000"/><rect x="255.4" y="933.0" width="9.6" height="9.6" fill="#000000"/><rect x="270.1" y="932.1" width="9.6" height="9.6" fill="#000000"/><rect x="284.3" y="935.6" width="9.6" height="9.6" fill="#000000"/><rect x="297.1" y="942.5" width="9.6" height="9.6" fill="#000000"/><rect x="307.9" y="951.8" width="9.6" height="9.6" fill="#000000"/><rect x="317.9" y="961.6" width="9.6" height="9.6" fill="#000000"/><rect x="325.3" y="972.9" width="9.6" height="9.6" fill="#000000"/><rect x="331.6" y="984.5" width="9.6" height="9.6" fill="#000000"/><rect x="337.0" y="996.0" width="9.6" height="9.6" fill="#000000"/><rect x="341.3" y="1007.3" width="9.6" height="9.6" fill="#000000"/><rect x="345.6" y="1018.2" width="9.6" height="9.6" fill="#000000"/><rect x="349.7" y="1028.5" width="9.6" height="9.6" fill="#000000"/><rect x="353.8" y="1038.2" width="9.6" height="9.6" fill="#000000"/><rect x="356.8" y="1047.7" width="9.6" height="9.6" fill="#000000"/><rect x="359.1" y="1056.8" width="9.6" height="9.6" fill="#000000"/><rect x="361.6" y="1065.3" width="9.6" height="9.6" fill="#000000"/><rect x="363.9" y="1073.2" width="9.6" height="9.6" fill="#000000"/><rect x="365.7" y="1080.6" width="9.6" height="9.6" fill="#000000"/><rect x="367.3" y="1087.6" width="9.6" height="9.6" fill="#000000"/><rect x="368.8" y="1093.9" width="9.6" height="9.6" fill="#000000"/><rect x="371.1" y="1099.2" width="9.6" height="9.6" fill="#000000"/><rect x="373.8" y="1094.9" width="9.6" height="9.6" fill="#000000"/><rect x="376.2" y="1088.2" width="9.6" height="9.6" fill="#000000"/><rect x="378.6" y="1081.0" width="9.6" height="9.6" fill="#000000"/><rect x="381.0" y="1073.0" width="9.6" height="9.6" fill="#000000"/><rect x="383.4" y="1064.4" width="9.6" height="9.6" fill="#000000"/><rect x="385.9" y="1055.1" width="9.6" height="9.6" fill="#000000"/><rect x="388.7" y="1045.0" width="9.6" height="9.6" fill="#000000"/><rect x="392.3" y="1034.4" width="9.6" height="9.6" fill="#000000"/><rect x="397.0" y="1023.1" width="9.6" height="9.6" fill="#000000"/><rect x="402.0" y="1011.0" width="9.6" height="9.6" fill="#000000"/><rect x="405.2" y="1003.2" width="9.6" height="9.6" fill="#000000"/></g><g clip-path="url(#cc)"><path d="M148.0 1152.0 L148.6 1149.0 L149.4 1144.8 L150.3 1139.9 L151.4 1134.6 L152.6 1129.6 L153.8 1124.9 L155.2 1120.3 L156.8 1115.6 L158.3 1110.8 L159.9 1106.1 L161.5 1101.4 L163.2 1096.8 L164.8 1092.1 L166.5 1087.4 L168.2 1082.7 L170.0 1078.0 L171.8 1073.2 L173.6 1068.2 L175.5 1063.3 L177.4 1058.4 L179.3 1053.6 L181.3 1048.9 L183.3 1044.4 L185.4 1039.9 L187.5 1035.4 L189.6 1031.0 L191.7 1026.5 L193.9 1022.0 L196.1 1017.5 L198.3 1013.0 L200.6 1008.5 L203.0 1004.0 L205.5 999.6 L208.0 995.2 L210.6 990.8 L213.3 986.3 L216.1 981.6 L218.9 976.7 L221.8 971.3 L224.8 965.9 L227.9 960.4 L230.9 955.2 L234.0 950.4 L237.2 945.9 L240.5 941.5 L243.7 937.4 L246.9 933.5 L250.0 930.0 L252.9 926.8 L255.7 923.9 L258.5 921.2 L261.2 918.8 L264.0 916.7 L266.9 914.7 L269.9 913.1 L272.9 911.7 L275.9 910.5 L278.9 909.5 L282.0 908.8 L285.2 908.2 L288.5 907.8 L291.7 907.7 L294.9 907.7 L298.0 908.0 L300.9 908.5 L303.7 909.1 L306.4 909.9 L309.2 911.0 L312.0 912.5 L315.1 914.2 L318.4 916.5 L321.9 919.0 L325.2 921.7 L328.2 924.3 L330.8 926.8 L332.7 929.0 L334.3 931.1 L335.8 933.4 L337.2 935.9 L339.0 939.0 L341.1 942.7 L343.3 947.0 L345.7 951.6 L348.0 956.2 L350.3 960.6 L352.4 964.6 L354.6 968.5 L356.7 972.2 L358.7 975.9 L360.7 979.5 L362.6 983.3 L364.4 987.0 L366.2 990.9 L367.9 994.6 L369.5 998.4 L371.0 1002.0 L372.5 1005.5 L373.9 1008.9 L375.3 1012.3 L376.5 1015.6 L377.6 1018.9 L378.6 1022.2 L379.5 1025.4 L380.2 1028.6 L380.9 1031.8 L381.5 1034.9 L382.2 1038.0 L383.0 1041.1 L383.8 1044.1 L384.5 1047.1 L385.2 1050.1 L386.0 1053.0 L386.7 1055.8 L387.5 1058.6 L388.2 1061.3 L388.9 1064.1 L389.7 1067.0 L390.6 1070.1 L391.5 1073.5 L392.4 1077.1 L393.4 1080.6 L394.4 1083.9 L395.3 1087.0 L396.3 1089.9 L397.2 1092.8 L398.2 1095.4 L399.1 1097.9 L400.0 1100.0 L400.8 1102.1 L401.4 1104.1 L402.1 1105.8 L402.8 1107.0 L403.7 1107.2 L404.7 1106.2 L405.9 1104.0 L407.2 1101.1 L408.6 1097.6 L410.1 1094.2 L411.5 1091.0 L412.9 1087.7 L414.4 1084.3 L416.0 1080.8 L417.5 1077.4 L419.0 1074.0 L420.5 1070.7 L422.0 1067.5 L423.6 1064.2 L425.1 1061.1 L426.5 1058.0 L428.0 1054.9 L429.5 1051.7 L431.0 1048.4 L432.4 1045.5 L433.5 1043.1 L434.0 1042.0" fill="none" stroke="#0000ff" stroke-width="0.9"/><circle cx="148.0" cy="1152.0" r="5.80" fill="#0000ff"/><circle cx="149.1" cy="1146.2" r="5.80" fill="#0000ff"/><circle cx="150.4" cy="1139.6" r="5.80" fill="#0000ff"/><circle cx="151.9" cy="1132.5" r="5.80" fill="#0000ff"/><circle cx="153.9" cy="1124.9" r="5.80" fill="#0000ff"/><circle cx="156.4" cy="1116.7" r="5.80" fill="#0000ff"/><circle cx="159.3" cy="1108.1" r="5.80" fill="#0000ff"/><circle cx="162.4" cy="1098.9" r="5.80" fill="#0000ff"/><circle cx="165.9" cy="1089.2" r="5.80" fill="#0000ff"/><circle cx="169.6" cy="1079.0" r="5.80" fill="#0000ff"/><circle cx="173.7" cy="1068.1" r="5.80" fill="#0000ff"/><circle cx="178.0" cy="1056.8" r="5.80" fill="#0000ff"/><circle cx="183.0" cy="1045.0" r="5.80" fill="#0000ff"/><circle cx="188.7" cy="1032.9" r="5.80" fill="#0000ff"/><circle cx="194.7" cy="1020.3" r="5.80" fill="#0000ff"/><circle cx="201.2" cy="1007.4" r="5.80" fill="#0000ff"/><circle cx="208.5" cy="994.3" r="5.80" fill="#0000ff"/><circle cx="216.4" cy="981.0" r="5.80" fill="#0000ff"/><circle cx="224.2" cy="967.1" r="5.80" fill="#0000ff"/><circle cx="232.3" cy="953.0" r="5.80" fill="#0000ff"/><circle cx="242.0" cy="939.6" r="5.80" fill="#0000ff"/><circle cx="252.8" cy="926.9" r="5.80" fill="#0000ff"/><circle cx="265.5" cy="915.7" r="5.80" fill="#0000ff"/><circle cx="280.9" cy="909.0" r="5.80" fill="#0000ff"/><circle cx="297.7" cy="908.0" r="5.80" fill="#0000ff"/><circle cx="313.5" cy="913.3" r="5.80" fill="#0000ff"/><circle cx="326.8" cy="923.0" r="5.80" fill="#0000ff"/><circle cx="337.0" cy="935.5" r="5.80" fill="#0000ff"/><circle cx="344.6" cy="949.5" r="5.80" fill="#0000ff"/><circle cx="351.7" cy="963.3" r="5.80" fill="#0000ff"/><circle cx="359.0" cy="976.3" r="5.80" fill="#0000ff"/><circle cx="365.5" cy="989.3" r="5.80" fill="#0000ff"/><circle cx="371.0" cy="1002.0" r="5.80" fill="#0000ff"/><circle cx="376.0" cy="1014.3" r="5.80" fill="#0000ff"/><circle cx="379.7" cy="1026.3" r="5.80" fill="#0000ff"/><circle cx="382.3" cy="1038.1" r="5.80" fill="#0000ff"/><circle cx="385.0" cy="1049.1" r="5.80" fill="#0000ff"/><circle cx="387.7" cy="1059.4" r="5.80" fill="#0000ff"/><circle cx="390.3" cy="1069.1" r="5.80" fill="#0000ff"/><circle cx="392.7" cy="1078.2" r="5.80" fill="#0000ff"/><circle cx="395.2" cy="1086.6" r="5.80" fill="#0000ff"/><circle cx="397.8" cy="1094.2" r="5.80" fill="#0000ff"/><circle cx="400.5" cy="1101.2" r="5.80" fill="#0000ff"/><circle cx="403.2" cy="1107.2" r="5.80" fill="#0000ff"/><circle cx="406.6" cy="1102.6" r="5.80" fill="#0000ff"/><circle cx="409.4" cy="1095.7" r="5.80" fill="#0000ff"/><circle cx="412.7" cy="1088.2" r="5.80" fill="#0000ff"/><circle cx="416.4" cy="1079.8" r="5.80" fill="#0000ff"/><circle cx="420.7" cy="1070.4" r="5.80" fill="#0000ff"/><circle cx="425.5" cy="1060.1" r="5.80" fill="#0000ff"/><circle cx="430.9" cy="1048.6" r="5.80" fill="#0000ff"/><circle cx="434.0" cy="1042.0" r="5.80" fill="#0000ff"/></g><g clip-path="url(#cc)"><path d="M147.0 1152.0 L147.5 1149.3 L148.1 1145.5 L148.8 1141.0 L149.7 1136.2 L150.7 1131.5 L151.7 1127.0 L152.9 1122.4 L154.2 1117.7 L155.6 1112.9 L157.1 1108.1 L158.5 1103.4 L159.9 1098.8 L161.4 1094.1 L162.9 1089.4 L164.4 1084.7 L166.0 1080.0 L167.6 1075.3 L169.3 1070.6 L170.9 1065.9 L172.7 1061.2 L174.4 1056.6 L176.2 1051.9 L178.0 1047.2 L179.9 1042.6 L181.8 1037.9 L183.7 1033.2 L185.7 1028.4 L187.7 1023.6 L189.7 1018.7 L191.8 1013.8 L193.9 1008.9 L196.0 1004.0 L198.2 999.1 L200.4 994.1 L202.6 989.2 L204.9 984.3 L207.2 979.5 L209.6 975.0 L211.9 970.6 L214.3 966.2 L216.8 962.0 L219.3 957.8 L221.9 953.6 L224.6 949.3 L227.4 945.1 L230.3 940.9 L233.2 936.9 L236.0 933.0 L238.8 929.3 L241.6 925.8 L244.4 922.5 L247.2 919.2 L250.1 916.0 L252.9 913.0 L255.7 910.0 L258.5 907.1 L261.3 904.4 L264.1 901.7 L266.9 899.2 L269.7 896.6 L272.5 894.2 L275.2 891.9 L278.1 889.8 L281.0 888.0 L284.1 886.5 L287.2 885.3 L290.5 884.3 L293.7 883.5 L296.9 883.1 L300.1 882.9 L303.4 883.1 L306.6 883.6 L309.8 884.3 L313.0 885.2 L316.0 886.4 L318.9 887.9 L321.8 889.7 L324.6 891.6 L327.3 893.8 L330.0 896.0 L332.5 898.3 L335.0 900.7 L337.4 903.3 L339.7 906.1 L342.2 909.0 L344.7 912.1 L347.4 915.4 L350.1 918.9 L352.8 922.5 L355.4 926.4 L357.8 930.4 L360.0 934.7 L362.1 939.3 L364.1 944.0 L366.0 948.6 L368.0 953.0 L370.0 957.1 L372.0 961.1 L373.9 964.9 L375.7 968.8 L377.5 972.7 L379.0 976.7 L380.4 980.8 L381.8 984.9 L383.0 989.1 L384.2 993.2 L385.4 997.4 L386.6 1001.5 L387.7 1005.6 L388.9 1009.8 L390.0 1013.9 L391.0 1018.0 L392.0 1022.2 L393.0 1026.3 L393.9 1030.5 L394.8 1034.6 L395.7 1038.7 L396.5 1042.6 L397.3 1046.3 L398.1 1050.0 L398.8 1053.7 L399.5 1057.4 L400.2 1061.3 L401.0 1065.4 L401.7 1069.5 L402.4 1073.7 L403.2 1077.9 L404.0 1082.0 L404.8 1086.5 L405.7 1091.4 L406.6 1096.2 L407.6 1100.2 L408.6 1102.6 L409.8 1103.1 L411.0 1101.8 L412.3 1099.2 L413.7 1095.9 L415.1 1092.3 L416.5 1088.9 L418.0 1085.0 L419.5 1080.8 L421.0 1076.4 L422.5 1072.0 L424.0 1068.0 L425.4 1064.3 L426.7 1060.8 L428.0 1057.5 L429.3 1054.2 L430.6 1051.0 L431.9 1048.0 L433.2 1045.1 L434.4 1042.3 L435.7 1039.6 L437.1 1036.9 L438.5 1034.0 L440.1 1030.9 L441.9 1027.6 L443.5 1024.5 L445.0 1021.9 L446.0 1020.0 L446.0 1020.0" fill="none" stroke="#0000ff" stroke-width="0.9"/><circle cx="147.0" cy="1152.0" r="5.80" fill="#0000ff"/><circle cx="148.0" cy="1145.7" r="5.80" fill="#0000ff"/><circle cx="149.3" cy="1138.5" r="5.80" fill="#0000ff"/><circle cx="150.8" cy="1130.8" r="5.80" fill="#0000ff"/><circle cx="152.9" cy="1122.5" r="5.80" fill="#0000ff"/><circle cx="155.4" cy="1113.6" r="5.80" fill="#0000ff"/><circle cx="158.2" cy="1104.2" r="5.80" fill="#0000ff"/><circle cx="161.4" cy="1094.1" r="5.80" fill="#0000ff"/><circle cx="164.8" cy="1083.5" r="5.80" fill="#0000ff"/><circle cx="168.7" cy="1072.3" r="5.80" fill="#0000ff"/><circle cx="172.9" cy="1060.5" r="5.80" fill="#0000ff"/><circle cx="177.6" cy="1048.2" r="5.80" fill="#0000ff"/><circle cx="182.8" cy="1035.4" r="5.80" fill="#0000ff"/><circle cx="188.3" cy="1022.0" r="5.80" fill="#0000ff"/><circle cx="194.2" cy="1008.0" r="5.80" fill="#0000ff"/><circle cx="200.6" cy="993.7" r="5.80" fill="#0000ff"/><circle cx="207.5" cy="978.9" r="5.80" fill="#0000ff"/><circle cx="215.5" cy="964.2" r="5.80" fill="#0000ff"/><circle cx="224.5" cy="949.5" r="5.80" fill="#0000ff"/><circle cx="234.5" cy="935.0" r="5.80" fill="#0000ff"/><circle cx="245.7" cy="921.0" r="5.80" fill="#0000ff"/><circle cx="258.0" cy="907.6" r="5.80" fill="#0000ff"/><circle cx="271.4" cy="895.1" r="5.80" fill="#0000ff"/><circle cx="286.8" cy="885.4" r="5.80" fill="#0000ff"/><circle cx="304.8" cy="883.3" r="5.80" fill="#0000ff"/><circle cx="321.6" cy="889.6" r="5.80" fill="#0000ff"/><circle cx="335.3" cy="901.1" r="5.80" fill="#0000ff"/><circle cx="346.7" cy="914.6" r="5.80" fill="#0000ff"/><circle cx="356.7" cy="928.6" r="5.80" fill="#0000ff"/><circle cx="363.9" cy="943.7" r="5.80" fill="#0000ff"/><circle cx="370.7" cy="958.5" r="5.80" fill="#0000ff"/><circle cx="377.4" cy="972.6" r="5.80" fill="#0000ff"/><circle cx="382.3" cy="986.8" r="5.80" fill="#0000ff"/><circle cx="386.3" cy="1000.6" r="5.80" fill="#0000ff"/><circle cx="389.9" cy="1013.8" r="5.80" fill="#0000ff"/><circle cx="393.0" cy="1026.5" r="5.80" fill="#0000ff"/><circle cx="395.7" cy="1038.5" r="5.80" fill="#0000ff"/><circle cx="398.0" cy="1049.8" r="5.80" fill="#0000ff"/><circle cx="400.1" cy="1060.5" r="5.80" fill="#0000ff"/><circle cx="401.9" cy="1070.5" r="5.80" fill="#0000ff"/><circle cx="403.6" cy="1079.9" r="5.80" fill="#0000ff"/><circle cx="405.2" cy="1088.5" r="5.80" fill="#0000ff"/><circle cx="406.7" cy="1096.4" r="5.80" fill="#0000ff"/><circle cx="409.2" cy="1103.1" r="5.80" fill="#0000ff"/><circle cx="412.8" cy="1098.1" r="5.80" fill="#0000ff"/><circle cx="415.5" cy="1091.3" r="5.80" fill="#0000ff"/><circle cx="418.4" cy="1083.8" r="5.80" fill="#0000ff"/><circle cx="421.3" cy="1075.6" r="5.80" fill="#0000ff"/><circle cx="424.5" cy="1066.7" r="5.80" fill="#0000ff"/><circle cx="428.2" cy="1057.0" r="5.80" fill="#0000ff"/><circle cx="432.5" cy="1046.6" r="5.80" fill="#0000ff"/><circle cx="437.8" cy="1035.5" r="5.80" fill="#0000ff"/><circle cx="444.0" cy="1023.6" r="5.80" fill="#0000ff"/><circle cx="446.0" cy="1020.0" r="5.80" fill="#0000ff"/></g><g clip-path="url(#cc)"><path d="M146.0 1152.0 L146.5 1149.3 L147.1 1145.5 L147.8 1141.0 L148.7 1136.2 L149.7 1131.5 L150.7 1127.0 L151.9 1122.4 L153.2 1117.7 L154.6 1112.9 L156.1 1108.1 L157.5 1103.4 L158.9 1098.8 L160.4 1094.1 L161.9 1089.4 L163.4 1084.7 L165.0 1080.0 L166.6 1075.3 L168.3 1070.6 L170.0 1065.9 L171.7 1061.2 L173.4 1056.6 L175.1 1051.9 L176.8 1047.2 L178.4 1042.5 L180.1 1037.8 L181.8 1033.1 L183.6 1028.4 L185.4 1023.8 L187.3 1019.1 L189.1 1014.4 L191.0 1009.7 L193.0 1005.0 L195.0 1000.3 L197.0 995.6 L199.1 990.9 L201.2 986.2 L203.3 981.6 L205.4 976.9 L207.6 972.1 L209.8 967.3 L212.1 962.6 L214.4 958.0 L216.8 953.5 L219.3 949.2 L221.9 945.1 L224.6 941.0 L227.3 937.0 L230.0 933.0 L232.8 929.1 L235.6 925.2 L238.4 921.4 L241.2 917.7 L244.1 914.1 L246.9 910.8 L249.7 907.7 L252.5 904.8 L255.3 901.9 L258.1 899.0 L260.9 896.0 L263.7 892.7 L266.5 889.4 L269.3 886.1 L272.1 883.3 L275.0 881.0 L277.9 879.4 L280.9 878.4 L284.0 877.8 L287.0 877.4 L290.0 877.1 L293.0 876.8 L295.9 876.6 L298.8 876.6 L301.7 876.9 L304.6 877.4 L307.5 878.4 L310.3 879.9 L313.2 881.8 L316.1 883.9 L319.0 886.1 L322.0 888.0 L325.1 889.6 L328.4 891.1 L331.7 892.5 L334.9 894.1 L338.0 896.2 L340.9 898.8 L343.7 901.9 L346.4 905.3 L348.9 908.9 L351.4 912.6 L353.8 916.2 L356.0 919.9 L358.0 923.6 L360.0 927.4 L362.0 931.2 L364.0 935.0 L366.1 938.7 L368.2 942.4 L370.3 946.1 L372.3 949.9 L374.3 953.7 L376.3 957.6 L378.2 961.7 L380.1 965.8 L382.0 970.0 L383.8 974.2 L385.6 978.4 L387.4 982.7 L389.2 987.1 L391.0 991.5 L392.6 995.8 L394.0 1000.0 L395.2 1004.2 L396.2 1008.3 L397.1 1012.4 L397.9 1016.3 L398.7 1019.9 L399.5 1023.1 L400.3 1025.8 L401.0 1028.2 L401.7 1030.6 L402.5 1033.1 L403.3 1036.0 L404.2 1039.3 L405.2 1042.8 L406.2 1046.3 L407.2 1049.8 L408.0 1053.0 L408.7 1056.0 L409.3 1058.8 L409.8 1061.5 L410.3 1064.2 L410.8 1067.0 L411.4 1070.0 L411.9 1073.2 L412.5 1076.4 L413.1 1079.7 L413.6 1082.9 L414.2 1086.1 L414.7 1089.9 L415.1 1094.1 L415.6 1097.8 L416.2 1100.3 L417.0 1101.0 L418.1 1099.4 L419.3 1096.0 L420.7 1091.5 L422.1 1086.4 L423.5 1081.5 L424.9 1077.1 L426.4 1072.5 L427.9 1067.8 L429.4 1062.9 L430.9 1058.2 L432.5 1053.4 L434.2 1048.7 L435.8 1044.0 L437.5 1039.3 L439.2 1034.6 L441.0 1030.0 L443.0 1025.1 L445.1 1019.9 L447.3 1014.8 L449.2 1010.3 L450.6 1006.8 L451.0 1006.0" fill="none" stroke="#000000" stroke-width="0.9"/><rect x="141.2" y="1147.2" width="9.6" height="9.6" fill="#000000"/><rect x="142.3" y="1140.7" width="9.6" height="9.6" fill="#000000"/><rect x="143.5" y="1133.4" width="9.6" height="9.6" fill="#000000"/><rect x="145.1" y="1125.4" width="9.6" height="9.6" fill="#000000"/><rect x="147.3" y="1116.9" width="9.6" height="9.6" fill="#000000"/><rect x="149.9" y="1107.9" width="9.6" height="9.6" fill="#000000"/><rect x="152.8" y="1098.2" width="9.6" height="9.6" fill="#000000"/><rect x="156.0" y="1087.9" width="9.6" height="9.6" fill="#000000"/><rect x="159.6" y="1077.0" width="9.6" height="9.6" fill="#000000"/><rect x="163.6" y="1065.5" width="9.6" height="9.6" fill="#000000"/><rect x="168.0" y="1053.4" width="9.6" height="9.6" fill="#000000"/><rect x="172.6" y="1040.7" width="9.6" height="9.6" fill="#000000"/><rect x="177.4" y="1027.3" width="9.6" height="9.6" fill="#000000"/><rect x="182.8" y="1013.5" width="9.6" height="9.6" fill="#000000"/><rect x="188.7" y="999.1" width="9.6" height="9.6" fill="#000000"/><rect x="195.1" y="984.3" width="9.6" height="9.6" fill="#000000"/><rect x="202.0" y="969.1" width="9.6" height="9.6" fill="#000000"/><rect x="209.4" y="953.6" width="9.6" height="9.6" fill="#000000"/><rect x="218.3" y="938.4" width="9.6" height="9.6" fill="#000000"/><rect x="228.5" y="923.5" width="9.6" height="9.6" fill="#000000"/><rect x="239.7" y="908.8" width="9.6" height="9.6" fill="#000000"/><rect x="252.3" y="895.2" width="9.6" height="9.6" fill="#000000"/><rect x="264.7" y="881.1" width="9.6" height="9.6" fill="#000000"/><rect x="281.0" y="872.7" width="9.6" height="9.6" fill="#000000"/><rect x="299.7" y="872.6" width="9.6" height="9.6" fill="#000000"/><rect x="315.5" y="882.2" width="9.6" height="9.6" fill="#000000"/><rect x="331.9" y="890.5" width="9.6" height="9.6" fill="#000000"/><rect x="343.9" y="903.8" width="9.6" height="9.6" fill="#000000"/><rect x="353.2" y="918.9" width="9.6" height="9.6" fill="#000000"/><rect x="361.3" y="934.0" width="9.6" height="9.6" fill="#000000"/><rect x="369.4" y="948.6" width="9.6" height="9.6" fill="#000000"/><rect x="376.3" y="963.1" width="9.6" height="9.6" fill="#000000"/><rect x="382.4" y="977.3" width="9.6" height="9.6" fill="#000000"/><rect x="387.8" y="991.0" width="9.6" height="9.6" fill="#000000"/><rect x="391.6" y="1004.5" width="9.6" height="9.6" fill="#000000"/><rect x="394.6" y="1017.6" width="9.6" height="9.6" fill="#000000"/><rect x="398.1" y="1029.7" width="9.6" height="9.6" fill="#000000"/><rect x="401.3" y="1041.1" width="9.6" height="9.6" fill="#000000"/><rect x="404.1" y="1051.9" width="9.6" height="9.6" fill="#000000"/><rect x="406.0" y="1062.2" width="9.6" height="9.6" fill="#000000"/><rect x="407.7" y="1071.7" width="9.6" height="9.6" fill="#000000"/><rect x="409.3" y="1080.6" width="9.6" height="9.6" fill="#000000"/><rect x="410.2" y="1088.8" width="9.6" height="9.6" fill="#000000"/><rect x="411.8" y="1096.1" width="9.6" height="9.6" fill="#000000"/><rect x="414.7" y="1090.6" width="9.6" height="9.6" fill="#000000"/><rect x="416.7" y="1083.6" width="9.6" height="9.6" fill="#000000"/><rect x="418.9" y="1076.1" width="9.6" height="9.6" fill="#000000"/><rect x="421.5" y="1068.0" width="9.6" height="9.6" fill="#000000"/><rect x="424.3" y="1059.2" width="9.6" height="9.6" fill="#000000"/><rect x="427.4" y="1049.7" width="9.6" height="9.6" fill="#000000"/><rect x="430.9" y="1039.6" width="9.6" height="9.6" fill="#000000"/><rect x="434.9" y="1028.6" width="9.6" height="9.6" fill="#000000"/><rect x="439.5" y="1016.9" width="9.6" height="9.6" fill="#000000"/><rect x="444.8" y="1004.4" width="9.6" height="9.6" fill="#000000"/></g><g clip-path="url(#cc)"><path d="M145.0 1150.0 L145.6 1147.1 L146.5 1143.0 L147.5 1138.2 L148.6 1133.4 L149.7 1129.2 L150.7 1125.9 L151.8 1123.3 L152.9 1120.9 L154.0 1118.8 L155.2 1116.6 L156.4 1114.2 L157.6 1112.0 L158.9 1109.8 L160.2 1107.5 L161.5 1105.0 L163.0 1102.0 L164.6 1098.4 L166.2 1094.5 L168.0 1090.2 L169.7 1085.8 L171.4 1081.4 L173.1 1077.1 L174.9 1072.7 L176.6 1068.2 L178.3 1063.8 L180.0 1059.6 L181.5 1055.8 L182.9 1052.3 L184.1 1049.0 L185.4 1046.0 L186.7 1043.0 L188.0 1040.0 L189.4 1037.0 L190.9 1034.2 L192.4 1031.4 L194.0 1028.6 L195.5 1025.9 L197.0 1023.2 L198.5 1020.4 L200.1 1017.7 L201.6 1015.0 L203.0 1012.6 L204.5 1010.3 L205.8 1008.3 L207.0 1006.5 L208.3 1004.7 L209.6 1002.9 L211.0 1001.0 L212.5 998.8 L214.1 996.5 L215.7 994.2 L217.5 991.8 L219.4 989.7 L221.3 987.7 L223.4 985.8 L225.5 983.9 L227.8 982.3 L230.2 980.8 L232.9 979.6 L236.0 978.7 L239.3 977.9 L242.6 977.4 L245.9 977.1 L249.0 977.0 L251.9 977.1 L254.6 977.4 L257.3 977.9 L259.9 978.7 L262.2 979.6 L264.4 980.8 L266.5 982.3 L268.3 984.1 L270.1 985.9 L271.8 987.8 L273.6 989.6 L275.3 991.3 L277.0 993.1 L278.7 994.9 L280.3 996.9 L282.0 999.0 L283.7 1001.4 L285.5 1004.0 L287.2 1006.7 L288.9 1009.5 L290.5 1012.1 L292.0 1014.7 L293.4 1017.1 L294.7 1019.4 L296.0 1021.8 L297.2 1024.3 L298.4 1026.9 L299.6 1029.7 L300.7 1032.5 L301.9 1035.4 L303.0 1038.3 L304.0 1041.0 L305.0 1043.5 L306.0 1046.0 L306.9 1048.4 L307.8 1050.7 L308.7 1053.2 L309.5 1055.7 L310.3 1058.3 L311.0 1061.0 L311.7 1063.7 L312.5 1066.3 L313.3 1068.8 L314.2 1071.3 L315.2 1073.7 L316.2 1076.1 L317.2 1078.5 L318.0 1081.0 L318.7 1083.6 L319.3 1086.3 L319.9 1089.0 L320.4 1091.6 L320.8 1094.2 L321.3 1096.6 L321.7 1099.0 L322.1 1101.2 L322.4 1103.5 L322.8 1105.6 L323.1 1107.7 L323.4 1110.3 L323.7 1113.0 L324.0 1115.3 L324.4 1116.8 L325.0 1117.0 L325.8 1115.4 L326.7 1112.4 L327.7 1108.5 L328.8 1104.5 L329.7 1101.0 L330.5 1098.3 L331.3 1096.0 L332.1 1093.9 L332.8 1091.9 L333.5 1089.7 L334.2 1087.1 L335.0 1084.3 L335.7 1081.3 L336.4 1078.2 L337.2 1075.1 L338.0 1072.0 L338.9 1069.0 L339.8 1065.9 L340.7 1062.8 L341.7 1059.8 L342.7 1056.9 L343.7 1054.2 L344.8 1051.7 L345.9 1049.3 L347.1 1047.0 L348.2 1044.6 L349.4 1042.2 L350.6 1039.4 L351.9 1036.6 L353.2 1033.9 L354.2 1031.6 L355.0 1030.0 L355.0 1030.0" fill="none" stroke="#ff2e2e" stroke-width="0.9"/><rect x="140.3" y="1145.3" width="9.4" height="9.4" fill="#fff" stroke="#ff2e2e" stroke-width="1.5"/><rect x="141.2" y="1141.2" width="9.4" height="9.4" fill="#fff" stroke="#ff2e2e" stroke-width="1.5"/><rect x="142.1" y="1136.6" width="9.4" height="9.4" fill="#fff" stroke="#ff2e2e" stroke-width="1.5"/><rect x="143.2" y="1131.5" width="9.4" height="9.4" fill="#fff" stroke="#ff2e2e" stroke-width="1.5"/><rect x="144.5" y="1126.1" width="9.4" height="9.4" fill="#fff" stroke="#ff2e2e" stroke-width="1.5"/><rect x="146.3" y="1120.3" width="9.4" height="9.4" fill="#fff" stroke="#ff2e2e" stroke-width="1.5"/><rect x="149.1" y="1114.5" width="9.4" height="9.4" fill="#fff" stroke="#ff2e2e" stroke-width="1.5"/><rect x="152.3" y="1108.4" width="9.4" height="9.4" fill="#fff" stroke="#ff2e2e" stroke-width="1.5"/><rect x="155.9" y="1102.1" width="9.4" height="9.4" fill="#fff" stroke="#ff2e2e" stroke-width="1.5"/><rect x="159.3" y="1095.1" width="9.4" height="9.4" fill="#fff" stroke="#ff2e2e" stroke-width="1.5"/><rect x="162.4" y="1087.6" width="9.4" height="9.4" fill="#fff" stroke="#ff2e2e" stroke-width="1.5"/><rect x="165.6" y="1079.6" width="9.4" height="9.4" fill="#fff" stroke="#ff2e2e" stroke-width="1.5"/><rect x="168.9" y="1071.2" width="9.4" height="9.4" fill="#fff" stroke="#ff2e2e" stroke-width="1.5"/><rect x="172.4" y="1062.3" width="9.4" height="9.4" fill="#fff" stroke="#ff2e2e" stroke-width="1.5"/><rect x="176.0" y="1053.1" width="9.4" height="9.4" fill="#fff" stroke="#ff2e2e" stroke-width="1.5"/><rect x="179.8" y="1043.6" width="9.4" height="9.4" fill="#fff" stroke="#ff2e2e" stroke-width="1.5"/><rect x="184.0" y="1033.8" width="9.4" height="9.4" fill="#fff" stroke="#ff2e2e" stroke-width="1.5"/><rect x="189.2" y="1024.2" width="9.4" height="9.4" fill="#fff" stroke="#ff2e2e" stroke-width="1.5"/><rect x="194.6" y="1014.3" width="9.4" height="9.4" fill="#fff" stroke="#ff2e2e" stroke-width="1.5"/><rect x="200.5" y="1004.4" width="9.4" height="9.4" fill="#fff" stroke="#ff2e2e" stroke-width="1.5"/><rect x="207.3" y="994.9" width="9.4" height="9.4" fill="#fff" stroke="#ff2e2e" stroke-width="1.5"/><rect x="214.3" y="985.3" width="9.4" height="9.4" fill="#fff" stroke="#ff2e2e" stroke-width="1.5"/><rect x="223.3" y="977.4" width="9.4" height="9.4" fill="#fff" stroke="#ff2e2e" stroke-width="1.5"/><rect x="234.4" y="973.3" width="9.4" height="9.4" fill="#fff" stroke="#ff2e2e" stroke-width="1.5"/><rect x="246.3" y="972.4" width="9.4" height="9.4" fill="#fff" stroke="#ff2e2e" stroke-width="1.5"/><rect x="257.8" y="975.1" width="9.4" height="9.4" fill="#fff" stroke="#ff2e2e" stroke-width="1.5"/><rect x="266.7" y="982.6" width="9.4" height="9.4" fill="#fff" stroke="#ff2e2e" stroke-width="1.5"/><rect x="274.6" y="991.0" width="9.4" height="9.4" fill="#fff" stroke="#ff2e2e" stroke-width="1.5"/><rect x="281.2" y="1000.1" width="9.4" height="9.4" fill="#fff" stroke="#ff2e2e" stroke-width="1.5"/><rect x="287.0" y="1009.4" width="9.4" height="9.4" fill="#fff" stroke="#ff2e2e" stroke-width="1.5"/><rect x="292.1" y="1018.7" width="9.4" height="9.4" fill="#fff" stroke="#ff2e2e" stroke-width="1.5"/><rect x="296.1" y="1028.1" width="9.4" height="9.4" fill="#fff" stroke="#ff2e2e" stroke-width="1.5"/><rect x="299.7" y="1037.3" width="9.4" height="9.4" fill="#fff" stroke="#ff2e2e" stroke-width="1.5"/><rect x="303.1" y="1046.0" width="9.4" height="9.4" fill="#fff" stroke="#ff2e2e" stroke-width="1.5"/><rect x="305.8" y="1054.5" width="9.4" height="9.4" fill="#fff" stroke="#ff2e2e" stroke-width="1.5"/><rect x="308.1" y="1062.7" width="9.4" height="9.4" fill="#fff" stroke="#ff2e2e" stroke-width="1.5"/><rect x="311.0" y="1070.2" width="9.4" height="9.4" fill="#fff" stroke="#ff2e2e" stroke-width="1.5"/><rect x="313.6" y="1077.3" width="9.4" height="9.4" fill="#fff" stroke="#ff2e2e" stroke-width="1.5"/><rect x="315.2" y="1084.3" width="9.4" height="9.4" fill="#fff" stroke="#ff2e2e" stroke-width="1.5"/><rect x="316.4" y="1090.8" width="9.4" height="9.4" fill="#fff" stroke="#ff2e2e" stroke-width="1.5"/><rect x="317.4" y="1096.9" width="9.4" height="9.4" fill="#fff" stroke="#ff2e2e" stroke-width="1.5"/><rect x="318.3" y="1102.6" width="9.4" height="9.4" fill="#fff" stroke="#ff2e2e" stroke-width="1.5"/><rect x="319.0" y="1107.8" width="9.4" height="9.4" fill="#fff" stroke="#ff2e2e" stroke-width="1.5"/><rect x="320.0" y="1112.4" width="9.4" height="9.4" fill="#fff" stroke="#ff2e2e" stroke-width="1.5"/><rect x="321.7" y="1108.7" width="9.4" height="9.4" fill="#fff" stroke="#ff2e2e" stroke-width="1.5"/><rect x="323.2" y="1103.2" width="9.4" height="9.4" fill="#fff" stroke="#ff2e2e" stroke-width="1.5"/><rect x="324.7" y="1097.3" width="9.4" height="9.4" fill="#fff" stroke="#ff2e2e" stroke-width="1.5"/><rect x="326.7" y="1091.1" width="9.4" height="9.4" fill="#fff" stroke="#ff2e2e" stroke-width="1.5"/><rect x="329.0" y="1084.5" width="9.4" height="9.4" fill="#fff" stroke="#ff2e2e" stroke-width="1.5"/><rect x="330.8" y="1077.2" width="9.4" height="9.4" fill="#fff" stroke="#ff2e2e" stroke-width="1.5"/><rect x="332.7" y="1069.4" width="9.4" height="9.4" fill="#fff" stroke="#ff2e2e" stroke-width="1.5"/><rect x="335.1" y="1061.1" width="9.4" height="9.4" fill="#fff" stroke="#ff2e2e" stroke-width="1.5"/><rect x="337.9" y="1052.4" width="9.4" height="9.4" fill="#fff" stroke="#ff2e2e" stroke-width="1.5"/><rect x="341.9" y="1043.3" width="9.4" height="9.4" fill="#fff" stroke="#ff2e2e" stroke-width="1.5"/><rect x="346.4" y="1033.8" width="9.4" height="9.4" fill="#fff" stroke="#ff2e2e" stroke-width="1.5"/><rect x="350.3" y="1025.3" width="9.4" height="9.4" fill="#fff" stroke="#ff2e2e" stroke-width="1.5"/></g><g clip-path="url(#cc)"><path d="M147.0 1152.0 L147.5 1149.2 L148.1 1145.4 L148.9 1140.8 L149.8 1136.0 L150.7 1131.4 L151.6 1127.3 L152.7 1123.2 L153.8 1119.2 L155.0 1115.1 L156.2 1110.9 L157.4 1106.5 L158.7 1102.0 L160.0 1097.3 L161.3 1092.5 L162.7 1087.7 L164.0 1083.0 L165.3 1078.3 L166.6 1073.6 L167.9 1068.9 L169.2 1064.2 L170.5 1059.6 L171.9 1054.9 L173.4 1050.2 L174.9 1045.5 L176.4 1040.8 L177.9 1036.1 L179.5 1031.4 L181.2 1026.8 L182.8 1022.1 L184.5 1017.4 L186.2 1012.7 L188.0 1008.0 L189.8 1003.3 L191.6 998.6 L193.5 993.9 L195.4 989.2 L197.3 984.6 L199.3 979.9 L201.3 975.2 L203.4 970.6 L205.5 965.9 L207.6 961.2 L209.7 956.4 L211.9 951.6 L214.1 946.7 L216.4 941.9 L218.7 937.0 L221.0 932.0 L223.4 927.0 L225.8 921.9 L228.2 916.9 L230.7 911.8 L233.2 906.7 L235.7 901.6 L238.2 896.6 L240.8 891.6 L243.4 886.5 L246.1 881.4 L249.0 876.3 L252.0 871.0 L255.1 865.7 L258.3 860.3 L261.6 855.1 L265.0 850.0 L268.5 845.1 L272.0 840.3 L275.7 835.6 L279.5 831.0 L283.6 826.5 L288.0 821.9 L292.7 817.2 L297.7 812.6 L302.7 808.2 L307.8 804.2 L312.6 801.0 L317.3 798.5 L322.1 796.5 L326.7 794.8 L331.4 793.4 L336.0 792.0 L340.6 790.5 L345.2 789.0 L349.8 787.7 L354.2 786.9 L358.6 786.8 L362.8 787.7 L366.8 789.6 L370.8 792.1 L374.6 795.0 L378.4 798.0 L382.3 801.0 L386.1 804.0 L389.8 807.2 L393.5 810.6 L397.3 814.2 L401.0 818.0 L404.8 822.1 L408.6 826.3 L412.5 830.8 L416.2 835.5 L419.8 840.4 L423.3 845.4 L426.7 850.7 L429.9 856.2 L433.1 861.8 L436.1 867.3 L438.9 872.8 L441.5 878.1 L444.0 883.4 L446.3 888.8 L448.6 894.3 L451.0 900.0 L453.5 906.1 L456.1 912.6 L458.7 919.2 L461.1 925.7 L463.3 932.0 L465.2 937.9 L466.9 943.5 L468.3 949.0 L469.7 954.3 L471.0 959.6 L472.5 964.7 L474.0 969.7 L475.6 974.6 L477.1 979.4 L478.6 984.2 L480.0 989.0 L481.4 993.8 L482.7 998.7 L484.1 1003.5 L485.3 1008.4 L486.6 1013.3 L487.8 1018.4 L489.0 1023.8 L490.2 1029.2 L491.3 1034.6 L492.4 1039.8 L493.3 1044.5 L494.1 1048.9 L494.8 1053.0 L495.5 1056.9 L496.2 1060.9 L497.0 1065.0 L497.9 1069.8 L498.8 1075.3 L499.7 1080.6 L500.7 1085.0 L501.7 1087.6 L502.7 1087.9 L503.8 1085.9 L504.9 1082.5 L506.0 1078.4 L507.2 1074.3 L508.4 1071.0 L509.7 1067.8 L511.0 1064.5 L512.3 1061.3 L513.7 1058.1 L515.0 1055.0 L516.3 1052.1 L517.6 1049.2 L518.9 1046.5 L520.2 1043.7 L521.5 1040.9 L523.0 1038.0 L524.7 1034.8 L526.4 1031.6 L528.1 1028.6 L529.4 1026.2 L530.0 1025.0" fill="none" stroke="#00f500" stroke-width="0.9"/><path d="M147.0 1146.0L153.7 1158.0L140.3 1158.0Z" fill="#00f500"/><path d="M148.4 1137.4L155.1 1149.4L141.7 1149.4Z" fill="#00f500"/><path d="M150.2 1127.7L156.9 1139.7L143.5 1139.7Z" fill="#00f500"/><path d="M152.7 1117.3L159.4 1129.3L146.0 1129.3Z" fill="#00f500"/><path d="M155.8 1106.1L162.5 1118.1L149.1 1118.1Z" fill="#00f500"/><path d="M159.2 1094.1L165.9 1106.1L152.5 1106.1Z" fill="#00f500"/><path d="M162.8 1081.2L169.5 1093.2L156.1 1093.2Z" fill="#00f500"/><path d="M166.6 1067.5L173.3 1079.5L159.9 1079.5Z" fill="#00f500"/><path d="M170.7 1052.8L177.4 1064.8L164.0 1064.8Z" fill="#00f500"/><path d="M175.5 1037.5L182.2 1049.5L168.8 1049.5Z" fill="#00f500"/><path d="M180.9 1021.4L187.6 1033.4L174.2 1033.4Z" fill="#00f500"/><path d="M187.0 1004.5L193.7 1016.5L180.3 1016.5Z" fill="#00f500"/><path d="M193.9 987.0L200.6 999.0L187.2 999.0Z" fill="#00f500"/><path d="M201.5 968.9L208.2 980.9L194.8 980.9Z" fill="#00f500"/><path d="M209.8 950.1L216.5 962.1L203.1 962.1Z" fill="#00f500"/><path d="M218.8 930.8L225.5 942.8L212.1 942.8Z" fill="#00f500"/><path d="M228.2 910.8L234.9 922.8L221.5 922.8Z" fill="#00f500"/><path d="M238.3 890.4L245.0 902.4L231.6 902.4Z" fill="#00f500"/><path d="M249.3 869.7L256.0 881.7L242.6 881.7Z" fill="#00f500"/><path d="M261.5 849.2L268.2 861.2L254.8 861.2Z" fill="#00f500"/><path d="M275.8 829.5L282.5 841.5L269.1 841.5Z" fill="#00f500"/><path d="M292.5 811.4L299.2 823.4L285.8 823.4Z" fill="#00f500"/><path d="M311.6 795.6L318.3 807.6L304.9 807.6Z" fill="#00f500"/><path d="M334.7 786.4L341.4 798.4L328.0 798.4Z" fill="#00f500"/><path d="M358.7 780.8L365.4 792.8L352.0 792.8Z" fill="#00f500"/><path d="M379.8 793.0L386.5 805.0L373.1 805.0Z" fill="#00f500"/><path d="M398.1 809.0L404.8 821.0L391.4 821.0Z" fill="#00f500"/><path d="M414.1 826.8L420.8 838.8L407.4 838.8Z" fill="#00f500"/><path d="M427.5 846.0L434.2 858.0L420.8 858.0Z" fill="#00f500"/><path d="M438.5 865.9L445.2 877.9L431.8 877.9Z" fill="#00f500"/><path d="M447.7 886.0L454.4 898.0L441.0 898.0Z" fill="#00f500"/><path d="M455.7 905.6L462.4 917.6L449.0 917.6Z" fill="#00f500"/><path d="M462.9 924.7L469.6 936.7L456.2 936.7Z" fill="#00f500"/><path d="M468.4 943.5L475.1 955.5L461.7 955.5Z" fill="#00f500"/><path d="M473.3 961.4L480.0 973.4L466.6 973.4Z" fill="#00f500"/><path d="M478.6 978.3L485.3 990.3L471.9 990.3Z" fill="#00f500"/><path d="M483.2 994.3L489.9 1006.3L476.5 1006.3Z" fill="#00f500"/><path d="M487.1 1009.5L493.8 1021.5L480.4 1021.5Z" fill="#00f500"/><path d="M490.3 1024.0L497.0 1036.0L483.6 1036.0Z" fill="#00f500"/><path d="M493.1 1037.5L499.8 1049.5L486.4 1049.5Z" fill="#00f500"/><path d="M495.4 1050.1L502.1 1062.1L488.7 1062.1Z" fill="#00f500"/><path d="M497.5 1061.9L504.2 1073.9L490.8 1073.9Z" fill="#00f500"/><path d="M499.3 1072.7L506.0 1084.7L492.6 1084.7Z" fill="#00f500"/><path d="M502.1 1082.0L508.8 1094.0L495.4 1094.0Z" fill="#00f500"/><path d="M505.5 1074.3L512.2 1086.3L498.8 1086.3Z" fill="#00f500"/><path d="M507.7 1066.8L514.4 1078.8L501.0 1078.8Z" fill="#00f500"/><path d="M510.9 1058.7L517.6 1070.7L504.2 1070.7Z" fill="#00f500"/><path d="M514.7 1049.7L521.4 1061.7L508.0 1061.7Z" fill="#00f500"/><path d="M519.2 1039.8L525.9 1051.8L512.5 1051.8Z" fill="#00f500"/><path d="M524.6 1028.9L531.3 1040.9L517.9 1040.9Z" fill="#00f500"/><path d="M530.0 1019.0L536.7 1031.0L523.3 1031.0Z" fill="#00f500"/></g><g clip-path="url(#cc)"><path d="M146.0 1152.0 L146.5 1149.2 L147.1 1145.4 L147.9 1140.8 L148.8 1136.0 L149.7 1131.4 L150.6 1127.3 L151.7 1123.2 L152.8 1119.2 L154.0 1115.1 L155.2 1110.9 L156.4 1106.5 L157.7 1102.0 L159.0 1097.3 L160.3 1092.5 L161.7 1087.7 L163.0 1083.0 L164.3 1078.3 L165.6 1073.6 L166.9 1068.9 L168.2 1064.2 L169.5 1059.6 L170.9 1054.9 L172.4 1050.2 L173.9 1045.5 L175.4 1040.8 L176.9 1036.1 L178.5 1031.4 L180.2 1026.8 L181.8 1022.1 L183.5 1017.4 L185.2 1012.7 L187.0 1008.0 L188.8 1003.3 L190.7 998.6 L192.6 993.9 L194.5 989.2 L196.4 984.6 L198.2 979.9 L200.1 975.2 L201.9 970.6 L203.8 965.9 L205.7 961.2 L207.7 956.4 L209.7 951.6 L211.7 946.7 L213.8 941.9 L215.9 937.0 L218.0 932.0 L220.2 927.0 L222.4 921.9 L224.6 916.9 L226.9 911.8 L229.2 906.7 L231.5 901.7 L233.8 896.7 L236.1 891.8 L238.5 886.8 L241.1 881.6 L244.0 876.1 L247.1 870.3 L250.4 864.2 L253.8 858.0 L257.4 851.9 L261.0 846.0 L264.6 840.3 L268.3 834.6 L272.1 829.0 L276.1 823.6 L280.5 818.6 L285.3 813.9 L290.6 809.4 L296.2 805.2 L302.0 801.3 L307.5 797.9 L312.7 795.1 L317.6 793.0 L322.3 791.4 L326.9 790.2 L331.5 789.1 L336.0 788.0 L340.5 786.6 L344.8 785.1 L349.1 783.7 L353.4 782.8 L357.6 782.8 L361.8 783.8 L366.0 785.8 L370.2 788.4 L374.3 791.5 L378.4 794.8 L382.3 798.1 L386.1 801.5 L389.9 805.1 L393.6 808.9 L397.3 812.9 L401.0 817.0 L404.8 821.2 L408.6 825.4 L412.5 829.9 L416.2 834.5 L419.8 839.3 L423.3 844.5 L426.7 850.0 L429.9 855.7 L433.1 861.5 L436.1 867.3 L438.9 872.8 L441.5 878.2 L444.0 883.5 L446.3 888.8 L448.6 894.3 L451.0 900.0 L453.5 906.1 L456.1 912.6 L458.7 919.2 L461.1 925.7 L463.3 932.0 L465.2 937.9 L466.9 943.5 L468.3 949.0 L469.7 954.3 L471.0 959.6 L472.5 964.7 L474.0 969.7 L475.6 974.6 L477.1 979.4 L478.6 984.2 L480.0 989.0 L481.4 993.8 L482.7 998.7 L484.1 1003.5 L485.3 1008.4 L486.6 1013.3 L487.8 1018.4 L489.0 1023.8 L490.2 1029.2 L491.3 1034.6 L492.4 1039.8 L493.3 1044.5 L494.2 1048.9 L494.9 1053.0 L495.7 1057.0 L496.3 1061.0 L497.0 1065.0 L497.6 1069.6 L498.1 1074.7 L498.5 1079.7 L499.1 1083.9 L499.7 1086.6 L500.6 1087.2 L501.6 1086.0 L502.8 1083.5 L504.0 1080.3 L505.2 1077.0 L506.4 1074.0 L507.7 1070.9 L509.0 1067.5 L510.3 1063.9 L511.7 1060.4 L513.0 1057.0 L514.3 1053.7 L515.6 1050.5 L516.9 1047.2 L518.2 1044.1 L519.5 1041.0 L520.9 1038.0 L522.4 1035.1 L523.9 1032.2 L525.4 1029.5 L526.9 1026.8 L528.6 1024.1 L530.4 1021.3 L532.4 1018.5 L534.2 1015.8 L535.9 1013.6 L537.0 1012.0 L537.0 1012.0" fill="none" stroke="#00f500" stroke-width="0.9"/><path d="M146.0 1146.0L152.7 1158.0L139.3 1158.0Z" fill="#00f500"/><path d="M147.5 1137.3L154.2 1149.3L140.8 1149.3Z" fill="#00f500"/><path d="M149.2 1127.6L155.9 1139.6L142.5 1139.6Z" fill="#00f500"/><path d="M151.7 1117.0L158.4 1129.0L145.0 1129.0Z" fill="#00f500"/><path d="M154.9 1105.7L161.6 1117.7L148.2 1117.7Z" fill="#00f500"/><path d="M158.3 1093.6L165.0 1105.6L151.6 1105.6Z" fill="#00f500"/><path d="M162.0 1080.6L168.7 1092.6L155.3 1092.6Z" fill="#00f500"/><path d="M165.8 1066.7L172.5 1078.7L159.1 1078.7Z" fill="#00f500"/><path d="M170.0 1051.9L176.7 1063.9L163.3 1063.9Z" fill="#00f500"/><path d="M174.9 1036.4L181.6 1048.4L168.2 1048.4Z" fill="#00f500"/><path d="M180.4 1020.2L187.1 1032.2L173.7 1032.2Z" fill="#00f500"/><path d="M186.6 1003.2L193.3 1015.2L179.9 1015.2Z" fill="#00f500"/><path d="M193.6 985.5L200.3 997.5L186.9 997.5Z" fill="#00f500"/><path d="M200.9 967.1L207.6 979.1L194.2 979.1Z" fill="#00f500"/><path d="M208.7 947.9L215.4 959.9L202.0 959.9Z" fill="#00f500"/><path d="M217.1 928.0L223.8 940.0L210.4 940.0Z" fill="#00f500"/><path d="M226.1 907.6L232.8 919.6L219.4 919.6Z" fill="#00f500"/><path d="M235.7 886.7L242.4 898.7L229.0 898.7Z" fill="#00f500"/><path d="M246.4 865.6L253.1 877.6L239.7 877.6Z" fill="#00f500"/><path d="M258.2 844.6L264.9 856.6L251.5 856.6Z" fill="#00f500"/><path d="M271.5 823.9L278.2 835.9L264.8 835.9Z" fill="#00f500"/><path d="M288.1 805.5L294.8 817.5L281.4 817.5Z" fill="#00f500"/><path d="M308.7 791.3L315.4 803.3L302.0 803.3Z" fill="#00f500"/><path d="M332.3 782.9L339.0 794.9L325.6 794.9Z" fill="#00f500"/><path d="M356.5 776.7L363.2 788.7L349.8 788.7Z" fill="#00f500"/><path d="M378.0 788.5L384.7 800.5L371.3 800.5Z" fill="#00f500"/><path d="M395.9 805.4L402.6 817.4L389.2 817.4Z" fill="#00f500"/><path d="M412.0 823.4L418.7 835.4L405.3 835.4Z" fill="#00f500"/><path d="M425.8 842.5L432.5 854.5L419.1 854.5Z" fill="#00f500"/><path d="M436.8 862.7L443.5 874.7L430.1 874.7Z" fill="#00f500"/><path d="M446.3 882.8L453.0 894.8L439.6 894.8Z" fill="#00f500"/><path d="M454.5 902.7L461.2 914.7L447.8 914.7Z" fill="#00f500"/><path d="M461.9 921.9L468.6 933.9L455.2 933.9Z" fill="#00f500"/><path d="M467.7 940.7L474.4 952.7L461.0 952.7Z" fill="#00f500"/><path d="M472.6 958.9L479.3 970.9L465.9 970.9Z" fill="#00f500"/><path d="M477.9 975.9L484.6 987.9L471.2 987.9Z" fill="#00f500"/><path d="M482.6 992.1L489.3 1004.1L475.9 1004.1Z" fill="#00f500"/><path d="M486.6 1007.5L493.3 1019.5L479.9 1019.5Z" fill="#00f500"/><path d="M489.9 1022.0L496.6 1034.0L483.2 1034.0Z" fill="#00f500"/><path d="M492.7 1035.7L499.4 1047.7L486.0 1047.7Z" fill="#00f500"/><path d="M495.2 1048.4L501.9 1060.4L488.5 1060.4Z" fill="#00f500"/><path d="M497.2 1060.3L503.9 1072.3L490.5 1072.3Z" fill="#00f500"/><path d="M498.3 1071.3L505.0 1083.3L491.6 1083.3Z" fill="#00f500"/><path d="M500.1 1081.1L506.8 1093.1L493.4 1093.1Z" fill="#00f500"/><path d="M504.2 1073.7L510.9 1085.7L497.5 1085.7Z" fill="#00f500"/><path d="M507.0 1066.7L513.7 1078.7L500.3 1078.7Z" fill="#00f500"/><path d="M510.0 1058.9L516.7 1070.9L503.3 1070.9Z" fill="#00f500"/><path d="M513.3 1050.3L520.0 1062.3L506.6 1062.3Z" fill="#00f500"/><path d="M517.0 1041.0L523.7 1053.0L510.3 1053.0Z" fill="#00f500"/><path d="M521.5 1030.9L528.2 1042.9L514.8 1042.9Z" fill="#00f500"/><path d="M527.2 1020.3L533.9 1032.3L520.5 1032.3Z" fill="#00f500"/><path d="M534.7 1009.2L541.4 1021.2L528.0 1021.2Z" fill="#00f500"/></g><g clip-path="url(#cc)"><path d="M147.0 1152.0 L147.7 1149.0 L148.7 1144.9 L149.9 1140.1 L151.2 1134.8 L152.6 1129.7 L153.9 1124.7 L155.4 1119.5 L156.9 1114.2 L158.4 1108.9 L160.0 1103.5 L161.5 1098.2 L163.0 1093.0 L164.4 1087.7 L165.9 1082.4 L167.4 1077.2 L169.0 1072.0 L170.6 1066.9 L172.3 1061.8 L174.0 1056.8 L175.7 1051.7 L177.4 1046.7 L179.1 1041.6 L180.8 1036.6 L182.5 1031.6 L184.2 1026.5 L185.9 1021.4 L187.6 1016.3 L189.2 1011.1 L190.9 1005.8 L192.6 1000.5 L194.3 995.3 L196.0 990.0 L197.8 984.7 L199.7 979.5 L201.6 974.2 L203.5 968.9 L205.4 963.7 L207.2 958.6 L209.1 953.5 L211.0 948.4 L212.9 943.3 L214.8 938.3 L216.6 933.3 L218.5 928.5 L220.3 923.6 L222.1 918.8 L224.0 913.9 L226.0 909.0 L228.0 903.9 L230.1 898.7 L232.2 893.5 L234.4 888.4 L236.7 883.6 L239.2 879.0 L241.8 874.7 L244.5 870.6 L247.3 866.6 L250.1 862.6 L252.9 858.7 L255.6 854.8 L258.4 851.0 L261.1 847.2 L264.0 843.5 L267.0 840.0 L270.1 836.6 L273.4 833.2 L276.8 829.9 L280.2 826.8 L283.8 823.9 L287.5 821.3 L291.2 818.9 L295.1 816.8 L299.1 814.7 L303.2 812.5 L307.4 810.2 L311.9 807.5 L316.6 804.6 L321.2 801.9 L325.8 799.6 L330.0 798.0 L333.8 797.3 L337.4 797.2 L340.7 797.6 L344.2 798.2 L347.7 798.8 L351.6 799.3 L355.8 799.8 L360.0 800.5 L364.2 801.3 L368.4 802.5 L372.3 804.1 L375.9 806.0 L379.4 808.3 L382.9 810.8 L386.4 813.8 L390.0 817.0 L393.9 820.7 L397.9 824.7 L402.0 829.1 L406.0 833.7 L409.8 838.4 L413.3 843.3 L416.7 848.3 L419.9 853.6 L423.0 859.0 L426.0 864.4 L429.0 869.8 L431.9 875.1 L434.6 880.5 L437.3 885.9 L440.0 891.4 L442.5 897.0 L445.0 902.7 L447.4 908.5 L449.7 914.3 L451.9 920.2 L454.0 926.1 L456.0 931.9 L457.7 937.8 L459.4 943.7 L461.0 949.5 L462.5 955.3 L464.1 960.8 L465.8 966.4 L467.5 971.9 L469.2 977.2 L470.7 982.3 L472.0 987.0 L473.0 991.2 L473.8 995.0 L474.4 998.6 L475.0 1002.1 L475.7 1005.7 L476.6 1009.6 L477.5 1013.6 L478.4 1017.6 L479.4 1021.6 L480.4 1025.5 L481.3 1029.2 L482.3 1032.8 L483.2 1036.2 L484.2 1039.5 L485.1 1042.8 L486.0 1046.0 L486.8 1049.1 L487.4 1052.1 L488.1 1055.1 L488.8 1058.0 L489.7 1061.0 L490.8 1064.0 L492.1 1067.2 L493.6 1070.4 L495.1 1073.4 L496.3 1076.3 L497.3 1078.8 L497.8 1081.5 L498.2 1084.0 L498.5 1086.2 L498.8 1087.6 L499.4 1088.0 L500.2 1086.9 L501.2 1084.6 L502.4 1081.6 L503.5 1078.4 L504.6 1075.7 L505.7 1073.8 L506.7 1072.6 L507.8 1071.5 L508.9 1070.3 L510.1 1068.6 L511.5 1066.1 L513.0 1062.9 L514.7 1059.3 L516.5 1055.3 L518.3 1050.8 L520.0 1046.0 L521.8 1040.2 L523.8 1033.4 L525.7 1026.4 L527.4 1020.0 L528.7 1015.1 L529.0 1014.0" fill="none" stroke="#a23c3c" stroke-width="0.9"/><path d="M147.0 1144.7L154.3 1152.0L147.0 1159.3L139.7 1152.0Z" fill="#fff" stroke="#a23c3c" stroke-width="1.5"/><path d="M149.0 1136.4L156.3 1143.7L149.0 1151.0L141.7 1143.7Z" fill="#fff" stroke="#a23c3c" stroke-width="1.5"/><path d="M151.3 1127.0L158.6 1134.3L151.3 1141.6L144.0 1134.3Z" fill="#fff" stroke="#a23c3c" stroke-width="1.5"/><path d="M154.1 1116.9L161.4 1124.2L154.1 1131.5L146.8 1124.2Z" fill="#fff" stroke="#a23c3c" stroke-width="1.5"/><path d="M157.2 1105.9L164.5 1113.2L157.2 1120.5L149.9 1113.2Z" fill="#fff" stroke="#a23c3c" stroke-width="1.5"/><path d="M160.6 1094.1L167.9 1101.4L160.6 1108.7L153.3 1101.4Z" fill="#fff" stroke="#a23c3c" stroke-width="1.5"/><path d="M164.1 1081.5L171.4 1088.8L164.1 1096.1L156.8 1088.8Z" fill="#fff" stroke="#a23c3c" stroke-width="1.5"/><path d="M168.0 1068.0L175.3 1075.3L168.0 1082.6L160.7 1075.3Z" fill="#fff" stroke="#a23c3c" stroke-width="1.5"/><path d="M172.5 1053.8L179.8 1061.1L172.5 1068.4L165.2 1061.1Z" fill="#fff" stroke="#a23c3c" stroke-width="1.5"/><path d="M177.6 1038.9L184.9 1046.2L177.6 1053.5L170.3 1046.2Z" fill="#fff" stroke="#a23c3c" stroke-width="1.5"/><path d="M182.9 1023.0L190.2 1030.3L182.9 1037.6L175.6 1030.3Z" fill="#fff" stroke="#a23c3c" stroke-width="1.5"/><path d="M188.4 1006.3L195.7 1013.6L188.4 1020.9L181.1 1013.6Z" fill="#fff" stroke="#a23c3c" stroke-width="1.5"/><path d="M194.0 988.8L201.3 996.1L194.0 1003.4L186.7 996.1Z" fill="#fff" stroke="#a23c3c" stroke-width="1.5"/><path d="M200.3 970.5L207.6 977.8L200.3 985.1L193.0 977.8Z" fill="#fff" stroke="#a23c3c" stroke-width="1.5"/><path d="M207.1 951.6L214.4 958.9L207.1 966.2L199.8 958.9Z" fill="#fff" stroke="#a23c3c" stroke-width="1.5"/><path d="M214.4 931.9L221.7 939.2L214.4 946.5L207.1 939.2Z" fill="#fff" stroke="#a23c3c" stroke-width="1.5"/><path d="M222.1 911.6L229.4 918.9L222.1 926.2L214.8 918.9Z" fill="#fff" stroke="#a23c3c" stroke-width="1.5"/><path d="M230.3 890.9L237.6 898.2L230.3 905.5L223.0 898.2Z" fill="#fff" stroke="#a23c3c" stroke-width="1.5"/><path d="M240.1 870.1L247.4 877.4L240.1 884.7L232.8 877.4Z" fill="#fff" stroke="#a23c3c" stroke-width="1.5"/><path d="M253.4 850.8L260.7 858.1L253.4 865.4L246.1 858.1Z" fill="#fff" stroke="#a23c3c" stroke-width="1.5"/><path d="M267.8 831.8L275.1 839.1L267.8 846.4L260.5 839.1Z" fill="#fff" stroke="#a23c3c" stroke-width="1.5"/><path d="M285.5 815.3L292.8 822.6L285.5 829.9L278.2 822.6Z" fill="#fff" stroke="#a23c3c" stroke-width="1.5"/><path d="M306.7 803.3L314.0 810.6L306.7 817.9L299.4 810.6Z" fill="#fff" stroke="#a23c3c" stroke-width="1.5"/><path d="M328.0 791.4L335.3 798.7L328.0 806.0L320.7 798.7Z" fill="#fff" stroke="#a23c3c" stroke-width="1.5"/><path d="M352.0 792.1L359.3 799.4L352.0 806.7L344.7 799.4Z" fill="#fff" stroke="#a23c3c" stroke-width="1.5"/><path d="M375.2 798.3L382.5 805.6L375.2 812.9L367.9 805.6Z" fill="#fff" stroke="#a23c3c" stroke-width="1.5"/><path d="M393.8 813.3L401.1 820.6L393.8 827.9L386.5 820.6Z" fill="#fff" stroke="#a23c3c" stroke-width="1.5"/><path d="M409.5 830.7L416.8 838.0L409.5 845.3L402.2 838.0Z" fill="#fff" stroke="#a23c3c" stroke-width="1.5"/><path d="M422.0 850.0L429.3 857.3L422.0 864.6L414.7 857.3Z" fill="#fff" stroke="#a23c3c" stroke-width="1.5"/><path d="M432.8 869.5L440.1 876.8L432.8 884.1L425.5 876.8Z" fill="#fff" stroke="#a23c3c" stroke-width="1.5"/><path d="M442.2 889.0L449.5 896.3L442.2 903.6L434.9 896.3Z" fill="#fff" stroke="#a23c3c" stroke-width="1.5"/><path d="M450.2 908.3L457.5 915.6L450.2 922.9L442.9 915.6Z" fill="#fff" stroke="#a23c3c" stroke-width="1.5"/><path d="M456.8 927.2L464.1 934.5L456.8 941.8L449.5 934.5Z" fill="#fff" stroke="#a23c3c" stroke-width="1.5"/><path d="M461.9 945.7L469.2 953.0L461.9 960.3L454.6 953.0Z" fill="#fff" stroke="#a23c3c" stroke-width="1.5"/><path d="M467.1 963.2L474.4 970.5L467.1 977.8L459.8 970.5Z" fill="#fff" stroke="#a23c3c" stroke-width="1.5"/><path d="M472.0 979.8L479.3 987.1L472.0 994.4L464.7 987.1Z" fill="#fff" stroke="#a23c3c" stroke-width="1.5"/><path d="M475.2 995.9L482.5 1003.2L475.2 1010.5L467.9 1003.2Z" fill="#fff" stroke="#a23c3c" stroke-width="1.5"/><path d="M478.6 1010.9L485.9 1018.2L478.6 1025.5L471.3 1018.2Z" fill="#fff" stroke="#a23c3c" stroke-width="1.5"/><path d="M482.1 1025.0L489.4 1032.3L482.1 1039.6L474.8 1032.3Z" fill="#fff" stroke="#a23c3c" stroke-width="1.5"/><path d="M485.8 1038.0L493.1 1045.3L485.8 1052.6L478.5 1045.3Z" fill="#fff" stroke="#a23c3c" stroke-width="1.5"/><path d="M488.7 1050.3L496.0 1057.6L488.7 1064.9L481.4 1057.6Z" fill="#fff" stroke="#a23c3c" stroke-width="1.5"/><path d="M492.7 1061.3L500.0 1068.6L492.7 1075.9L485.4 1068.6Z" fill="#fff" stroke="#a23c3c" stroke-width="1.5"/><path d="M497.1 1071.1L504.4 1078.4L497.1 1085.7L489.8 1078.4Z" fill="#fff" stroke="#a23c3c" stroke-width="1.5"/><path d="M499.0 1080.6L506.3 1087.9L499.0 1095.2L491.7 1087.9Z" fill="#fff" stroke="#a23c3c" stroke-width="1.5"/><path d="M502.7 1073.3L510.0 1080.6L502.7 1087.9L495.4 1080.6Z" fill="#fff" stroke="#a23c3c" stroke-width="1.5"/><path d="M505.8 1066.4L513.1 1073.7L505.8 1081.0L498.5 1073.7Z" fill="#fff" stroke="#a23c3c" stroke-width="1.5"/><path d="M511.0 1059.8L518.3 1067.1L511.0 1074.4L503.7 1067.1Z" fill="#fff" stroke="#a23c3c" stroke-width="1.5"/><path d="M515.0 1051.5L522.3 1058.8L515.0 1066.1L507.7 1058.8Z" fill="#fff" stroke="#a23c3c" stroke-width="1.5"/><path d="M518.8 1042.0L526.1 1049.3L518.8 1056.6L511.5 1049.3Z" fill="#fff" stroke="#a23c3c" stroke-width="1.5"/><path d="M522.3 1031.3L529.6 1038.6L522.3 1045.9L515.0 1038.6Z" fill="#fff" stroke="#a23c3c" stroke-width="1.5"/><path d="M525.6 1019.4L532.9 1026.7L525.6 1034.0L518.3 1026.7Z" fill="#fff" stroke="#a23c3c" stroke-width="1.5"/><path d="M529.0 1006.7L536.3 1014.0L529.0 1021.3L521.7 1014.0Z" fill="#fff" stroke="#a23c3c" stroke-width="1.5"/></g><g clip-path="url(#cc)"><path d="M147.0 1150.0 L147.9 1146.2 L149.0 1140.9 L150.4 1134.7 L151.9 1128.2 L153.5 1121.9 L155.0 1116.2 L156.7 1110.6 L158.4 1105.0 L160.1 1099.4 L161.9 1093.8 L163.6 1088.1 L165.2 1082.5 L166.9 1076.9 L168.6 1071.2 L170.3 1065.6 L172.0 1060.0 L173.7 1054.4 L175.4 1048.8 L177.1 1043.1 L178.8 1037.5 L180.5 1031.9 L182.1 1026.2 L183.6 1020.5 L185.1 1014.7 L186.6 1009.0 L188.1 1003.5 L189.5 998.3 L190.8 993.5 L192.1 988.9 L193.3 984.4 L194.6 979.9 L196.0 975.0 L197.4 969.8 L198.8 964.4 L200.3 958.8 L201.8 953.3 L203.4 947.8 L205.1 942.4 L206.9 937.1 L208.7 931.9 L210.5 926.6 L212.5 921.4 L214.5 916.3 L216.6 911.2 L218.7 906.2 L221.0 901.2 L223.3 896.1 L225.6 891.0 L228.0 885.8 L230.4 880.5 L232.9 875.1 L235.4 869.8 L238.1 864.7 L240.9 859.7 L243.7 854.8 L246.7 850.1 L249.8 845.4 L252.9 840.7 L256.1 835.9 L259.4 831.0 L262.8 826.0 L266.3 821.1 L269.7 816.4 L273.0 812.0 L276.1 808.0 L279.1 804.4 L282.0 801.0 L285.1 797.7 L288.3 794.2 L291.9 790.5 L295.7 786.6 L299.6 782.7 L303.7 778.9 L307.9 775.2 L312.3 771.9 L316.8 768.8 L321.5 765.7 L326.3 763.0 L331.1 760.6 L335.7 758.7 L340.2 757.4 L344.5 756.7 L348.8 756.3 L353.1 756.0 L357.5 755.7 L362.0 755.2 L366.6 754.4 L371.2 753.5 L375.9 753.0 L380.5 753.0 L385.0 753.7 L389.4 755.2 L393.7 757.2 L398.0 759.7 L402.4 762.5 L406.8 765.6 L411.4 769.1 L416.0 773.0 L420.7 777.2 L425.4 781.7 L429.9 786.3 L434.1 791.1 L438.3 796.0 L442.3 801.2 L446.3 806.5 L450.1 812.0 L453.7 817.6 L457.2 823.4 L460.6 829.3 L463.8 835.4 L466.9 841.6 L469.9 848.0 L472.7 854.6 L475.4 861.5 L478.0 868.6 L480.4 875.6 L482.9 882.5 L485.3 889.3 L487.7 896.0 L490.1 902.7 L492.4 909.2 L494.5 915.7 L496.5 922.1 L498.4 928.5 L500.1 934.8 L501.7 941.0 L503.2 947.0 L504.8 952.7 L506.4 958.1 L507.9 963.3 L509.4 968.3 L510.9 973.1 L512.2 977.8 L513.4 982.5 L514.4 987.1 L515.4 991.6 L516.2 996.0 L517.1 1000.2 L518.0 1004.4 L518.9 1008.4 L519.7 1012.3 L520.6 1016.1 L521.4 1019.8 L522.3 1023.5 L523.2 1027.1 L524.1 1030.6 L525.0 1034.0 L525.8 1037.5 L526.7 1040.9 L527.5 1044.3 L528.3 1047.6 L529.1 1050.9 L529.9 1054.2 L530.7 1057.6 L531.8 1061.3 L533.0 1065.4 L534.5 1069.9 L535.9 1074.2 L537.2 1077.9 L538.3 1080.8 L539.0 1082.8 L539.4 1084.3 L539.7 1085.1 L540.1 1085.2 L540.7 1084.4 L541.7 1082.7 L542.9 1079.7 L544.2 1076.0 L545.7 1071.8 L547.1 1067.6 L548.4 1063.8 L549.8 1060.1 L551.1 1056.3 L552.4 1052.5 L553.7 1048.8 L555.0 1045.0 L556.3 1041.2 L557.7 1037.3 L559.0 1033.4 L560.3 1029.6 L561.6 1026.1 L562.8 1022.8 L564.2 1019.4 L565.4 1016.2 L566.6 1013.4 L567.5 1011.1 L568.0 1010.0" fill="none" stroke="#a23c3c" stroke-width="0.9"/><path d="M147.0 1142.7L154.3 1150.0L147.0 1157.3L139.7 1150.0Z" fill="#fff" stroke="#a23c3c" stroke-width="1.5"/><path d="M149.1 1133.3L156.4 1140.6L149.1 1147.9L141.8 1140.6Z" fill="#fff" stroke="#a23c3c" stroke-width="1.5"/><path d="M151.5 1122.7L158.8 1130.0L151.5 1137.3L144.2 1130.0Z" fill="#fff" stroke="#a23c3c" stroke-width="1.5"/><path d="M154.4 1111.1L161.7 1118.4L154.4 1125.7L147.1 1118.4Z" fill="#fff" stroke="#a23c3c" stroke-width="1.5"/><path d="M158.0 1098.8L165.3 1106.1L158.0 1113.4L150.7 1106.1Z" fill="#fff" stroke="#a23c3c" stroke-width="1.5"/><path d="M162.1 1085.6L169.4 1092.9L162.1 1100.2L154.8 1092.9Z" fill="#fff" stroke="#a23c3c" stroke-width="1.5"/><path d="M166.4 1071.4L173.7 1078.7L166.4 1086.0L159.1 1078.7Z" fill="#fff" stroke="#a23c3c" stroke-width="1.5"/><path d="M171.0 1056.2L178.3 1063.5L171.0 1070.8L163.7 1063.5Z" fill="#fff" stroke="#a23c3c" stroke-width="1.5"/><path d="M175.8 1040.1L183.1 1047.4L175.8 1054.7L168.5 1047.4Z" fill="#fff" stroke="#a23c3c" stroke-width="1.5"/><path d="M180.9 1023.0L188.2 1030.3L180.9 1037.6L173.6 1030.3Z" fill="#fff" stroke="#a23c3c" stroke-width="1.5"/><path d="M185.8 1004.8L193.1 1012.1L185.8 1019.4L178.5 1012.1Z" fill="#fff" stroke="#a23c3c" stroke-width="1.5"/><path d="M190.9 985.7L198.2 993.0L190.9 1000.3L183.6 993.0Z" fill="#fff" stroke="#a23c3c" stroke-width="1.5"/><path d="M196.6 965.6L203.9 972.9L196.6 980.2L189.3 972.9Z" fill="#fff" stroke="#a23c3c" stroke-width="1.5"/><path d="M202.3 944.5L209.6 951.8L202.3 959.1L195.0 951.8Z" fill="#fff" stroke="#a23c3c" stroke-width="1.5"/><path d="M209.3 922.9L216.6 930.2L209.3 937.5L202.0 930.2Z" fill="#fff" stroke="#a23c3c" stroke-width="1.5"/><path d="M217.9 900.9L225.2 908.2L217.9 915.5L210.6 908.2Z" fill="#fff" stroke="#a23c3c" stroke-width="1.5"/><path d="M227.9 878.6L235.2 885.9L227.9 893.2L220.6 885.9Z" fill="#fff" stroke="#a23c3c" stroke-width="1.5"/><path d="M238.9 855.9L246.2 863.2L238.9 870.5L231.6 863.2Z" fill="#fff" stroke="#a23c3c" stroke-width="1.5"/><path d="M252.6 833.8L259.9 841.1L252.6 848.4L245.3 841.1Z" fill="#fff" stroke="#a23c3c" stroke-width="1.5"/><path d="M267.6 812.0L274.9 819.3L267.6 826.6L260.3 819.3Z" fill="#fff" stroke="#a23c3c" stroke-width="1.5"/><path d="M284.5 791.0L291.8 798.3L284.5 805.6L277.2 798.3Z" fill="#fff" stroke="#a23c3c" stroke-width="1.5"/><path d="M303.7 771.6L311.0 778.9L303.7 786.2L296.4 778.9Z" fill="#fff" stroke="#a23c3c" stroke-width="1.5"/><path d="M326.2 755.8L333.5 763.1L326.2 770.4L318.9 763.1Z" fill="#fff" stroke="#a23c3c" stroke-width="1.5"/><path d="M352.5 748.8L359.8 756.1L352.5 763.4L345.2 756.1Z" fill="#fff" stroke="#a23c3c" stroke-width="1.5"/><path d="M379.8 745.6L387.1 752.9L379.8 760.2L372.5 752.9Z" fill="#fff" stroke="#a23c3c" stroke-width="1.5"/><path d="M404.5 756.6L411.8 763.9L404.5 771.2L397.2 763.9Z" fill="#fff" stroke="#a23c3c" stroke-width="1.5"/><path d="M425.0 774.1L432.3 781.4L425.0 788.7L417.7 781.4Z" fill="#fff" stroke="#a23c3c" stroke-width="1.5"/><path d="M442.5 794.0L449.8 801.3L442.5 808.6L435.2 801.3Z" fill="#fff" stroke="#a23c3c" stroke-width="1.5"/><path d="M456.9 815.5L464.2 822.8L456.9 830.1L449.6 822.8Z" fill="#fff" stroke="#a23c3c" stroke-width="1.5"/><path d="M468.6 837.9L475.9 845.2L468.6 852.5L461.3 845.2Z" fill="#fff" stroke="#a23c3c" stroke-width="1.5"/><path d="M477.7 860.5L485.0 867.8L477.7 875.1L470.4 867.8Z" fill="#fff" stroke="#a23c3c" stroke-width="1.5"/><path d="M485.6 882.7L492.9 890.0L485.6 897.3L478.3 890.0Z" fill="#fff" stroke="#a23c3c" stroke-width="1.5"/><path d="M493.1 904.1L500.4 911.4L493.1 918.7L485.8 911.4Z" fill="#fff" stroke="#a23c3c" stroke-width="1.5"/><path d="M499.4 924.8L506.7 932.1L499.4 939.4L492.1 932.1Z" fill="#fff" stroke="#a23c3c" stroke-width="1.5"/><path d="M504.6 944.7L511.9 952.0L504.6 959.3L497.3 952.0Z" fill="#fff" stroke="#a23c3c" stroke-width="1.5"/><path d="M510.2 963.5L517.5 970.8L510.2 978.1L502.9 970.8Z" fill="#fff" stroke="#a23c3c" stroke-width="1.5"/><path d="M514.8 981.4L522.1 988.7L514.8 996.0L507.5 988.7Z" fill="#fff" stroke="#a23c3c" stroke-width="1.5"/><path d="M518.3 998.5L525.6 1005.8L518.3 1013.1L511.0 1005.8Z" fill="#fff" stroke="#a23c3c" stroke-width="1.5"/><path d="M521.9 1014.5L529.2 1021.8L521.9 1029.1L514.6 1021.8Z" fill="#fff" stroke="#a23c3c" stroke-width="1.5"/><path d="M525.6 1029.3L532.9 1036.6L525.6 1043.9L518.3 1036.6Z" fill="#fff" stroke="#a23c3c" stroke-width="1.5"/><path d="M529.0 1043.1L536.3 1050.4L529.0 1057.7L521.7 1050.4Z" fill="#fff" stroke="#a23c3c" stroke-width="1.5"/><path d="M532.4 1055.9L539.7 1063.2L532.4 1070.5L525.1 1063.2Z" fill="#fff" stroke="#a23c3c" stroke-width="1.5"/><path d="M536.1 1067.4L543.4 1074.7L536.1 1082.0L528.8 1074.7Z" fill="#fff" stroke="#a23c3c" stroke-width="1.5"/><path d="M539.8 1077.8L547.1 1085.1L539.8 1092.4L532.5 1085.1Z" fill="#fff" stroke="#a23c3c" stroke-width="1.5"/><path d="M544.0 1069.4L551.3 1076.7L544.0 1084.0L536.7 1076.7Z" fill="#fff" stroke="#a23c3c" stroke-width="1.5"/><path d="M546.5 1062.1L553.8 1069.4L546.5 1076.7L539.2 1069.4Z" fill="#fff" stroke="#a23c3c" stroke-width="1.5"/><path d="M549.3 1054.1L556.6 1061.4L549.3 1068.7L542.0 1061.4Z" fill="#fff" stroke="#a23c3c" stroke-width="1.5"/><path d="M552.4 1045.2L559.7 1052.5L552.4 1059.8L545.1 1052.5Z" fill="#fff" stroke="#a23c3c" stroke-width="1.5"/><path d="M555.8 1035.4L563.1 1042.7L555.8 1050.0L548.5 1042.7Z" fill="#fff" stroke="#a23c3c" stroke-width="1.5"/><path d="M559.5 1024.6L566.8 1031.9L559.5 1039.2L552.2 1031.9Z" fill="#fff" stroke="#a23c3c" stroke-width="1.5"/><path d="M563.9 1012.8L571.2 1020.1L563.9 1027.4L556.6 1020.1Z" fill="#fff" stroke="#a23c3c" stroke-width="1.5"/><path d="M568.0 1002.7L575.3 1010.0L568.0 1017.3L560.7 1010.0Z" fill="#fff" stroke="#a23c3c" stroke-width="1.5"/></g><g clip-path="url(#cc)"><path d="M147.0 1150.0 L147.7 1147.5 L148.8 1144.1 L150.0 1140.0 L151.3 1135.6 L152.6 1131.3 L153.8 1127.4 L155.1 1123.4 L156.4 1119.3 L157.7 1115.2 L159.1 1110.9 L160.5 1106.5 L161.9 1102.0 L163.4 1097.3 L165.0 1092.5 L166.5 1087.7 L168.0 1083.0 L169.5 1078.3 L171.0 1073.6 L172.4 1068.9 L173.9 1064.2 L175.5 1059.6 L177.1 1054.9 L178.7 1050.2 L180.4 1045.5 L182.2 1040.8 L183.9 1036.1 L185.6 1031.4 L187.2 1026.8 L188.9 1022.1 L190.6 1017.4 L192.3 1012.7 L194.0 1008.0 L195.8 1003.3 L197.6 998.6 L199.5 993.9 L201.4 989.2 L203.3 984.6 L205.3 979.9 L207.3 975.1 L209.3 970.4 L211.4 965.7 L213.5 961.0 L215.8 956.5 L218.1 952.1 L220.4 947.8 L222.9 943.5 L225.4 939.3 L228.0 935.0 L230.7 930.6 L233.5 926.1 L236.3 921.6 L239.2 917.3 L242.1 913.3 L244.9 909.6 L247.8 906.1 L250.8 902.8 L253.6 899.7 L256.3 896.8 L258.8 894.1 L260.9 891.5 L262.9 889.0 L264.8 886.8 L266.7 884.7 L269.0 883.0 L271.6 881.5 L274.4 880.3 L277.3 879.4 L280.2 878.7 L283.1 878.1 L285.8 877.8 L288.3 877.8 L290.8 878.0 L293.4 878.3 L296.1 878.7 L299.0 879.1 L302.3 879.6 L305.7 880.2 L309.2 880.8 L312.7 881.4 L316.0 882.0 L319.1 882.4 L322.1 882.8 L325.1 883.1 L328.0 883.7 L331.0 884.6 L334.0 886.0 L337.0 887.7 L340.1 889.8 L343.1 892.0 L346.0 894.4 L349.0 896.8 L351.9 899.3 L354.7 901.8 L357.6 904.5 L360.3 907.6 L363.0 911.0 L365.6 914.9 L368.1 919.3 L370.6 924.0 L372.9 928.8 L375.2 933.5 L377.5 938.0 L379.7 942.5 L381.8 946.9 L383.8 951.4 L385.7 956.0 L387.6 960.5 L389.4 965.2 L391.1 969.8 L392.8 974.5 L394.4 979.2 L396.0 984.0 L397.6 988.8 L399.1 993.5 L400.6 998.3 L402.1 1003.2 L403.5 1008.3 L404.9 1013.6 L406.3 1019.1 L407.6 1024.9 L408.9 1030.6 L410.2 1036.3 L411.4 1041.8 L412.6 1047.4 L413.8 1053.0 L414.9 1058.4 L416.0 1063.5 L417.0 1068.0 L417.9 1071.9 L418.7 1075.4 L419.4 1078.5 L420.1 1081.4 L420.8 1084.1 L421.4 1086.9 L421.9 1090.1 L422.4 1093.1 L422.9 1095.6 L423.5 1096.9 L424.3 1096.7 L425.1 1094.9 L426.0 1091.7 L427.0 1087.9 L428.0 1083.8 L429.0 1080.0 L429.9 1076.4 L430.8 1072.7 L431.7 1068.9 L432.7 1065.1 L433.7 1061.3 L434.7 1057.4 L436.0 1053.1 L437.3 1048.8 L438.5 1044.8 L439.5 1041.5 L440.0 1040.0" fill="none" stroke="#ff30ff" stroke-width="0.9"/><path d="M147.0 1144.4L153.2 1155.6L140.8 1155.6Z" fill="#fff" stroke="#ff30ff" stroke-width="1.5" stroke-linejoin="miter"/><path d="M148.9 1138.1L155.1 1149.3L142.7 1149.3Z" fill="#fff" stroke="#ff30ff" stroke-width="1.5" stroke-linejoin="miter"/><path d="M151.0 1130.9L157.2 1142.1L144.8 1142.1Z" fill="#fff" stroke="#ff30ff" stroke-width="1.5" stroke-linejoin="miter"/><path d="M153.4 1123.1L159.6 1134.3L147.2 1134.3Z" fill="#fff" stroke="#ff30ff" stroke-width="1.5" stroke-linejoin="miter"/><path d="M156.1 1114.7L162.3 1125.9L149.9 1125.9Z" fill="#fff" stroke="#ff30ff" stroke-width="1.5" stroke-linejoin="miter"/><path d="M159.0 1105.7L165.2 1116.9L152.8 1116.9Z" fill="#fff" stroke="#ff30ff" stroke-width="1.5" stroke-linejoin="miter"/><path d="M162.0 1096.0L168.2 1107.2L155.8 1107.2Z" fill="#fff" stroke="#ff30ff" stroke-width="1.5" stroke-linejoin="miter"/><path d="M165.4 1085.7L171.6 1096.9L159.2 1096.9Z" fill="#fff" stroke="#ff30ff" stroke-width="1.5" stroke-linejoin="miter"/><path d="M168.9 1074.7L175.1 1085.9L162.7 1085.9Z" fill="#fff" stroke="#ff30ff" stroke-width="1.5" stroke-linejoin="miter"/><path d="M172.5 1063.0L178.7 1074.2L166.3 1074.2Z" fill="#fff" stroke="#ff30ff" stroke-width="1.5" stroke-linejoin="miter"/><path d="M176.6 1050.8L182.8 1062.0L170.4 1062.0Z" fill="#fff" stroke="#ff30ff" stroke-width="1.5" stroke-linejoin="miter"/><path d="M181.1 1038.0L187.3 1049.2L174.9 1049.2Z" fill="#fff" stroke="#ff30ff" stroke-width="1.5" stroke-linejoin="miter"/><path d="M186.0 1024.5L192.2 1035.7L179.8 1035.7Z" fill="#fff" stroke="#ff30ff" stroke-width="1.5" stroke-linejoin="miter"/><path d="M191.0 1010.5L197.2 1021.7L184.8 1021.7Z" fill="#fff" stroke="#ff30ff" stroke-width="1.5" stroke-linejoin="miter"/><path d="M196.5 995.9L202.7 1007.1L190.3 1007.1Z" fill="#fff" stroke="#ff30ff" stroke-width="1.5" stroke-linejoin="miter"/><path d="M202.6 980.8L208.8 992.0L196.4 992.0Z" fill="#fff" stroke="#ff30ff" stroke-width="1.5" stroke-linejoin="miter"/><path d="M209.1 965.4L215.3 976.6L202.9 976.6Z" fill="#fff" stroke="#ff30ff" stroke-width="1.5" stroke-linejoin="miter"/><path d="M216.4 949.7L222.6 960.9L210.2 960.9Z" fill="#fff" stroke="#ff30ff" stroke-width="1.5" stroke-linejoin="miter"/><path d="M225.1 934.2L231.3 945.4L218.9 945.4Z" fill="#fff" stroke="#ff30ff" stroke-width="1.5" stroke-linejoin="miter"/><path d="M234.6 918.8L240.8 930.0L228.4 930.0Z" fill="#fff" stroke="#ff30ff" stroke-width="1.5" stroke-linejoin="miter"/><path d="M245.2 903.6L251.4 914.8L239.0 914.8Z" fill="#fff" stroke="#ff30ff" stroke-width="1.5" stroke-linejoin="miter"/><path d="M257.7 889.7L263.9 900.9L251.5 900.9Z" fill="#fff" stroke="#ff30ff" stroke-width="1.5" stroke-linejoin="miter"/><path d="M270.8 876.3L277.0 887.5L264.6 887.5Z" fill="#fff" stroke="#ff30ff" stroke-width="1.5" stroke-linejoin="miter"/><path d="M289.1 872.2L295.3 883.4L282.9 883.4Z" fill="#fff" stroke="#ff30ff" stroke-width="1.5" stroke-linejoin="miter"/><path d="M307.7 874.9L313.9 886.1L301.5 886.1Z" fill="#fff" stroke="#ff30ff" stroke-width="1.5" stroke-linejoin="miter"/><path d="M326.3 877.7L332.5 888.9L320.1 888.9Z" fill="#fff" stroke="#ff30ff" stroke-width="1.5" stroke-linejoin="miter"/><path d="M342.6 886.0L348.8 897.2L336.4 897.2Z" fill="#fff" stroke="#ff30ff" stroke-width="1.5" stroke-linejoin="miter"/><path d="M356.4 897.8L362.6 909.0L350.2 909.0Z" fill="#fff" stroke="#ff30ff" stroke-width="1.5" stroke-linejoin="miter"/><path d="M367.1 911.9L373.3 923.1L360.9 923.1Z" fill="#fff" stroke="#ff30ff" stroke-width="1.5" stroke-linejoin="miter"/><path d="M375.0 927.3L381.2 938.5L368.8 938.5Z" fill="#fff" stroke="#ff30ff" stroke-width="1.5" stroke-linejoin="miter"/><path d="M382.2 942.4L388.4 953.6L376.0 953.6Z" fill="#fff" stroke="#ff30ff" stroke-width="1.5" stroke-linejoin="miter"/><path d="M388.5 957.2L394.7 968.4L382.3 968.4Z" fill="#fff" stroke="#ff30ff" stroke-width="1.5" stroke-linejoin="miter"/><path d="M393.8 971.8L400.0 983.0L387.6 983.0Z" fill="#fff" stroke="#ff30ff" stroke-width="1.5" stroke-linejoin="miter"/><path d="M398.5 985.9L404.7 997.1L392.3 997.1Z" fill="#fff" stroke="#ff30ff" stroke-width="1.5" stroke-linejoin="miter"/><path d="M402.6 999.4L408.8 1010.6L396.4 1010.6Z" fill="#fff" stroke="#ff30ff" stroke-width="1.5" stroke-linejoin="miter"/><path d="M406.0 1012.4L412.2 1023.6L399.8 1023.6Z" fill="#fff" stroke="#ff30ff" stroke-width="1.5" stroke-linejoin="miter"/><path d="M408.9 1024.7L415.1 1035.9L402.7 1035.9Z" fill="#fff" stroke="#ff30ff" stroke-width="1.5" stroke-linejoin="miter"/><path d="M411.4 1036.4L417.6 1047.6L405.2 1047.6Z" fill="#fff" stroke="#ff30ff" stroke-width="1.5" stroke-linejoin="miter"/><path d="M413.8 1047.4L420.0 1058.6L407.6 1058.6Z" fill="#fff" stroke="#ff30ff" stroke-width="1.5" stroke-linejoin="miter"/><path d="M416.0 1057.6L422.2 1068.8L409.8 1068.8Z" fill="#fff" stroke="#ff30ff" stroke-width="1.5" stroke-linejoin="miter"/><path d="M418.1 1067.2L424.3 1078.4L411.9 1078.4Z" fill="#fff" stroke="#ff30ff" stroke-width="1.5" stroke-linejoin="miter"/><path d="M420.2 1076.0L426.4 1087.2L414.0 1087.2Z" fill="#fff" stroke="#ff30ff" stroke-width="1.5" stroke-linejoin="miter"/><path d="M421.9 1084.1L428.1 1095.3L415.7 1095.3Z" fill="#fff" stroke="#ff30ff" stroke-width="1.5" stroke-linejoin="miter"/><path d="M423.6 1091.4L429.8 1102.6L417.4 1102.6Z" fill="#fff" stroke="#ff30ff" stroke-width="1.5" stroke-linejoin="miter"/><path d="M426.2 1085.6L432.4 1096.8L420.0 1096.8Z" fill="#fff" stroke="#ff30ff" stroke-width="1.5" stroke-linejoin="miter"/><path d="M428.0 1078.2L434.2 1089.4L421.8 1089.4Z" fill="#fff" stroke="#ff30ff" stroke-width="1.5" stroke-linejoin="miter"/><path d="M430.2 1069.7L436.4 1080.9L424.0 1080.9Z" fill="#fff" stroke="#ff30ff" stroke-width="1.5" stroke-linejoin="miter"/><path d="M432.5 1060.1L438.7 1071.3L426.3 1071.3Z" fill="#fff" stroke="#ff30ff" stroke-width="1.5" stroke-linejoin="miter"/><path d="M435.5 1049.2L441.7 1060.4L429.3 1060.4Z" fill="#fff" stroke="#ff30ff" stroke-width="1.5" stroke-linejoin="miter"/><path d="M439.2 1036.9L445.4 1048.1L433.0 1048.1Z" fill="#fff" stroke="#ff30ff" stroke-width="1.5" stroke-linejoin="miter"/></g><g clip-path="url(#cc)"><path d="M146.0 1150.0 L146.5 1147.5 L147.1 1144.1 L147.9 1140.0 L148.8 1135.6 L149.7 1131.3 L150.6 1127.4 L151.7 1123.4 L152.8 1119.3 L153.9 1115.2 L155.1 1110.9 L156.4 1106.5 L157.9 1102.0 L159.4 1097.3 L160.9 1092.5 L162.5 1087.7 L164.0 1083.0 L165.5 1078.3 L167.0 1073.6 L168.4 1068.9 L169.9 1064.2 L171.5 1059.6 L173.1 1054.9 L174.7 1050.2 L176.4 1045.5 L178.1 1040.8 L179.8 1036.1 L181.6 1031.4 L183.4 1026.8 L185.3 1022.1 L187.1 1017.4 L189.0 1012.7 L191.0 1008.0 L193.0 1003.2 L195.0 998.3 L197.1 993.4 L199.2 988.5 L201.3 983.6 L203.4 978.8 L205.6 974.1 L207.8 969.4 L210.1 964.8 L212.4 960.1 L214.8 955.4 L217.3 950.8 L219.9 946.2 L222.6 941.5 L225.3 936.8 L228.0 932.0 L230.8 927.0 L233.6 921.9 L236.4 916.8 L239.2 911.7 L242.1 906.6 L244.9 901.7 L247.8 896.7 L250.7 891.7 L253.5 886.9 L256.3 882.6 L258.8 878.8 L261.2 875.7 L263.5 873.1 L265.6 870.8 L267.8 868.5 L270.0 866.0 L272.2 863.2 L274.2 860.4 L276.3 857.5 L278.6 854.9 L281.1 852.6 L283.9 850.9 L287.1 849.6 L290.4 848.7 L294.0 848.0 L297.6 847.4 L301.2 846.8 L305.1 846.3 L309.1 845.9 L313.1 845.7 L317.1 845.7 L321.0 846.0 L324.7 846.5 L328.3 847.3 L331.8 848.3 L335.3 849.6 L338.8 851.3 L342.4 853.5 L346.0 856.3 L349.6 859.5 L353.2 862.8 L356.7 866.0 L360.1 868.9 L363.5 871.4 L366.8 873.8 L370.0 876.2 L373.1 878.8 L376.0 882.0 L378.7 885.7 L381.2 889.8 L383.5 894.2 L385.8 898.8 L388.2 903.5 L390.6 908.1 L393.1 912.9 L395.6 917.9 L398.1 922.8 L400.5 927.8 L402.7 932.6 L405.0 937.3 L407.1 941.9 L409.2 946.5 L411.2 951.2 L413.0 956.0 L414.7 961.0 L416.3 966.2 L417.7 971.4 L419.1 976.6 L420.5 981.4 L421.9 986.0 L423.3 990.1 L424.6 994.1 L425.8 998.1 L427.1 1002.1 L428.4 1006.5 L429.8 1011.0 L431.1 1015.7 L432.4 1020.5 L433.7 1025.3 L435.0 1030.0 L436.2 1034.8 L437.4 1039.6 L438.5 1044.4 L439.6 1049.1 L440.7 1053.6 L441.7 1057.8 L442.6 1061.8 L443.6 1065.7 L444.5 1069.4 L445.4 1072.8 L446.3 1076.1 L447.3 1079.7 L448.2 1083.3 L449.2 1086.4 L450.1 1088.5 L451.0 1089.0 L451.8 1087.6 L452.6 1084.8 L453.4 1080.9 L454.1 1076.3 L454.8 1071.6 L455.4 1066.8 L456.0 1061.4 L456.6 1055.6 L457.2 1049.6 L457.7 1043.7 L458.2 1038.1 L458.6 1032.2 L459.1 1026.1 L459.4 1020.4 L459.8 1015.5 L460.0 1012.0 L460.0 1012.0" fill="none" stroke="#ff30ff" stroke-width="0.9"/><path d="M146.0 1144.4L152.2 1155.6L139.8 1155.6Z" fill="#fff" stroke="#ff30ff" stroke-width="1.5" stroke-linejoin="miter"/><path d="M147.3 1137.2L153.5 1148.4L141.1 1148.4Z" fill="#fff" stroke="#ff30ff" stroke-width="1.5" stroke-linejoin="miter"/><path d="M148.9 1129.2L155.1 1140.4L142.7 1140.4Z" fill="#fff" stroke="#ff30ff" stroke-width="1.5" stroke-linejoin="miter"/><path d="M151.0 1120.5L157.2 1131.7L144.8 1131.7Z" fill="#fff" stroke="#ff30ff" stroke-width="1.5" stroke-linejoin="miter"/><path d="M153.5 1111.1L159.7 1122.3L147.3 1122.3Z" fill="#fff" stroke="#ff30ff" stroke-width="1.5" stroke-linejoin="miter"/><path d="M156.4 1101.1L162.6 1112.3L150.2 1112.3Z" fill="#fff" stroke="#ff30ff" stroke-width="1.5" stroke-linejoin="miter"/><path d="M159.8 1090.4L166.0 1101.6L153.6 1101.6Z" fill="#fff" stroke="#ff30ff" stroke-width="1.5" stroke-linejoin="miter"/><path d="M163.5 1079.1L169.7 1090.3L157.3 1090.3Z" fill="#fff" stroke="#ff30ff" stroke-width="1.5" stroke-linejoin="miter"/><path d="M167.3 1067.0L173.5 1078.2L161.1 1078.2Z" fill="#fff" stroke="#ff30ff" stroke-width="1.5" stroke-linejoin="miter"/><path d="M171.4 1054.2L177.6 1065.4L165.2 1065.4Z" fill="#fff" stroke="#ff30ff" stroke-width="1.5" stroke-linejoin="miter"/><path d="M176.1 1040.7L182.3 1051.9L169.9 1051.9Z" fill="#fff" stroke="#ff30ff" stroke-width="1.5" stroke-linejoin="miter"/><path d="M181.3 1026.7L187.5 1037.9L175.1 1037.9Z" fill="#fff" stroke="#ff30ff" stroke-width="1.5" stroke-linejoin="miter"/><path d="M187.0 1012.1L193.2 1023.3L180.8 1023.3Z" fill="#fff" stroke="#ff30ff" stroke-width="1.5" stroke-linejoin="miter"/><path d="M193.3 996.9L199.5 1008.1L187.1 1008.1Z" fill="#fff" stroke="#ff30ff" stroke-width="1.5" stroke-linejoin="miter"/><path d="M199.9 981.1L206.1 992.3L193.7 992.3Z" fill="#fff" stroke="#ff30ff" stroke-width="1.5" stroke-linejoin="miter"/><path d="M207.3 964.9L213.5 976.1L201.1 976.1Z" fill="#fff" stroke="#ff30ff" stroke-width="1.5" stroke-linejoin="miter"/><path d="M215.6 948.4L221.8 959.6L209.4 959.6Z" fill="#fff" stroke="#ff30ff" stroke-width="1.5" stroke-linejoin="miter"/><path d="M225.0 931.8L231.2 943.0L218.8 943.0Z" fill="#fff" stroke="#ff30ff" stroke-width="1.5" stroke-linejoin="miter"/><path d="M234.4 914.7L240.6 925.9L228.2 925.9Z" fill="#fff" stroke="#ff30ff" stroke-width="1.5" stroke-linejoin="miter"/><path d="M244.2 897.3L250.4 908.5L238.0 908.5Z" fill="#fff" stroke="#ff30ff" stroke-width="1.5" stroke-linejoin="miter"/><path d="M254.5 879.7L260.7 890.9L248.3 890.9Z" fill="#fff" stroke="#ff30ff" stroke-width="1.5" stroke-linejoin="miter"/><path d="M267.2 863.5L273.4 874.7L261.0 874.7Z" fill="#fff" stroke="#ff30ff" stroke-width="1.5" stroke-linejoin="miter"/><path d="M280.4 847.6L286.6 858.8L274.2 858.8Z" fill="#fff" stroke="#ff30ff" stroke-width="1.5" stroke-linejoin="miter"/><path d="M300.0 841.4L306.2 852.6L293.8 852.6Z" fill="#fff" stroke="#ff30ff" stroke-width="1.5" stroke-linejoin="miter"/><path d="M320.7 840.4L326.9 851.6L314.5 851.6Z" fill="#fff" stroke="#ff30ff" stroke-width="1.5" stroke-linejoin="miter"/><path d="M340.2 846.5L346.4 857.7L334.0 857.7Z" fill="#fff" stroke="#ff30ff" stroke-width="1.5" stroke-linejoin="miter"/><path d="M355.8 859.6L362.0 870.8L349.6 870.8Z" fill="#fff" stroke="#ff30ff" stroke-width="1.5" stroke-linejoin="miter"/><path d="M371.5 871.8L377.7 883.0L365.3 883.0Z" fill="#fff" stroke="#ff30ff" stroke-width="1.5" stroke-linejoin="miter"/><path d="M382.9 887.5L389.1 898.7L376.7 898.7Z" fill="#fff" stroke="#ff30ff" stroke-width="1.5" stroke-linejoin="miter"/><path d="M391.6 904.4L397.8 915.6L385.4 915.6Z" fill="#fff" stroke="#ff30ff" stroke-width="1.5" stroke-linejoin="miter"/><path d="M399.9 920.9L406.1 932.1L393.7 932.1Z" fill="#fff" stroke="#ff30ff" stroke-width="1.5" stroke-linejoin="miter"/><path d="M407.4 937.0L413.6 948.2L401.2 948.2Z" fill="#fff" stroke="#ff30ff" stroke-width="1.5" stroke-linejoin="miter"/><path d="M413.8 952.8L420.0 964.0L407.6 964.0Z" fill="#fff" stroke="#ff30ff" stroke-width="1.5" stroke-linejoin="miter"/><path d="M418.5 968.5L424.7 979.7L412.3 979.7Z" fill="#fff" stroke="#ff30ff" stroke-width="1.5" stroke-linejoin="miter"/><path d="M422.9 983.4L429.1 994.6L416.7 994.6Z" fill="#fff" stroke="#ff30ff" stroke-width="1.5" stroke-linejoin="miter"/><path d="M427.4 997.4L433.6 1008.6L421.2 1008.6Z" fill="#fff" stroke="#ff30ff" stroke-width="1.5" stroke-linejoin="miter"/><path d="M431.3 1010.8L437.5 1022.0L425.1 1022.0Z" fill="#fff" stroke="#ff30ff" stroke-width="1.5" stroke-linejoin="miter"/><path d="M434.8 1023.5L441.0 1034.7L428.6 1034.7Z" fill="#fff" stroke="#ff30ff" stroke-width="1.5" stroke-linejoin="miter"/><path d="M437.7 1035.5L443.9 1046.7L431.5 1046.7Z" fill="#fff" stroke="#ff30ff" stroke-width="1.5" stroke-linejoin="miter"/><path d="M440.4 1046.7L446.6 1057.9L434.2 1057.9Z" fill="#fff" stroke="#ff30ff" stroke-width="1.5" stroke-linejoin="miter"/><path d="M442.9 1057.2L449.1 1068.4L436.7 1068.4Z" fill="#fff" stroke="#ff30ff" stroke-width="1.5" stroke-linejoin="miter"/><path d="M445.3 1066.8L451.5 1078.0L439.1 1078.0Z" fill="#fff" stroke="#ff30ff" stroke-width="1.5" stroke-linejoin="miter"/><path d="M447.7 1075.6L453.9 1086.8L441.5 1086.8Z" fill="#fff" stroke="#ff30ff" stroke-width="1.5" stroke-linejoin="miter"/><path d="M450.6 1083.4L456.8 1094.6L444.4 1094.6Z" fill="#fff" stroke="#ff30ff" stroke-width="1.5" stroke-linejoin="miter"/><path d="M453.1 1076.9L459.3 1088.1L446.9 1088.1Z" fill="#fff" stroke="#ff30ff" stroke-width="1.5" stroke-linejoin="miter"/><path d="M454.3 1069.5L460.5 1080.7L448.1 1080.7Z" fill="#fff" stroke="#ff30ff" stroke-width="1.5" stroke-linejoin="miter"/><path d="M455.4 1061.3L461.6 1072.5L449.2 1072.5Z" fill="#fff" stroke="#ff30ff" stroke-width="1.5" stroke-linejoin="miter"/><path d="M456.4 1052.2L462.6 1063.4L450.2 1063.4Z" fill="#fff" stroke="#ff30ff" stroke-width="1.5" stroke-linejoin="miter"/><path d="M457.3 1042.1L463.5 1053.3L451.1 1053.3Z" fill="#fff" stroke="#ff30ff" stroke-width="1.5" stroke-linejoin="miter"/><path d="M458.3 1030.9L464.5 1042.1L452.1 1042.1Z" fill="#fff" stroke="#ff30ff" stroke-width="1.5" stroke-linejoin="miter"/><path d="M459.2 1018.5L465.4 1029.7L453.0 1029.7Z" fill="#fff" stroke="#ff30ff" stroke-width="1.5" stroke-linejoin="miter"/><path d="M460.0 1006.4L466.2 1017.6L453.8 1017.6Z" fill="#fff" stroke="#ff30ff" stroke-width="1.5" stroke-linejoin="miter"/></g><g clip-path="url(#cd)"><path d="M656.0 1152.0 L656.7 1150.5 L657.8 1148.3 L659.0 1145.8 L660.3 1143.1 L661.6 1140.7 L662.8 1138.7 L663.9 1137.0 L665.1 1135.4 L666.3 1133.6 L667.8 1131.6 L669.7 1129.1 L671.9 1126.0 L674.4 1122.6 L677.1 1119.0 L679.7 1115.4 L682.0 1112.0 L684.0 1109.0 L685.9 1106.2 L687.7 1103.4 L689.5 1100.4 L691.4 1097.2 L693.3 1093.4 L695.5 1089.0 L697.6 1084.3 L699.8 1079.7 L701.8 1075.4 L703.6 1071.9 L705.2 1069.0 L706.6 1066.5 L708.0 1064.3 L709.4 1062.2 L711.0 1060.0 L712.7 1057.8 L714.6 1055.7 L716.4 1053.6 L718.4 1051.6 L720.3 1049.7 L722.3 1047.7 L724.3 1045.8 L726.3 1044.0 L728.4 1042.2 L730.5 1040.3 L732.8 1038.3 L735.2 1036.3 L737.7 1034.1 L740.3 1032.0 L742.7 1030.0 L745.0 1028.0 L747.1 1026.1 L749.2 1024.3 L751.1 1022.5 L752.9 1020.9 L754.5 1019.4 L755.8 1018.3 L756.8 1017.5 L757.6 1016.9 L758.4 1016.3 L759.3 1015.6 L760.4 1014.6 L761.8 1013.3 L763.3 1011.8 L764.9 1010.2 L766.5 1008.9 L768.0 1008.0 L769.5 1007.5 L770.9 1007.4 L772.3 1007.4 L773.8 1007.6 L775.4 1007.9 L777.2 1008.2 L779.2 1008.7 L781.4 1009.2 L783.5 1009.9 L785.7 1010.6 L787.7 1011.2 L789.5 1011.8 L791.4 1012.5 L793.2 1013.2 L795.1 1014.0 L797.0 1015.0 L799.1 1016.2 L801.2 1017.6 L803.4 1019.1 L805.5 1020.8 L807.4 1022.4 L809.1 1024.1 L810.4 1025.9 L811.7 1027.8 L812.9 1029.7 L814.1 1031.7 L815.5 1033.7 L816.9 1035.6 L818.4 1037.6 L820.0 1039.7 L821.5 1041.8 L823.0 1044.0 L824.6 1046.4 L826.2 1048.9 L827.8 1051.4 L829.3 1053.9 L830.6 1056.3 L831.7 1058.4 L832.5 1060.2 L833.1 1062.0 L833.7 1063.8 L834.4 1065.6 L835.3 1067.7 L836.3 1070.1 L837.4 1072.5 L838.6 1075.1 L839.8 1077.6 L841.0 1080.0 L842.4 1082.5 L843.9 1085.1 L845.4 1087.6 L846.7 1089.9 L847.8 1091.6 L848.0 1092.0" fill="none" stroke="#000000" stroke-width="0.9"/><rect x="651.2" y="1147.2" width="9.6" height="9.6" fill="#000000"/><rect x="652.5" y="1144.4" width="9.6" height="9.6" fill="#000000"/><rect x="654.0" y="1141.3" width="9.6" height="9.6" fill="#000000"/><rect x="655.7" y="1137.9" width="9.6" height="9.6" fill="#000000"/><rect x="657.7" y="1134.4" width="9.6" height="9.6" fill="#000000"/><rect x="660.1" y="1130.8" width="9.6" height="9.6" fill="#000000"/><rect x="662.9" y="1127.0" width="9.6" height="9.6" fill="#000000"/><rect x="665.7" y="1123.1" width="9.6" height="9.6" fill="#000000"/><rect x="668.8" y="1118.9" width="9.6" height="9.6" fill="#000000"/><rect x="672.1" y="1114.4" width="9.6" height="9.6" fill="#000000"/><rect x="675.5" y="1109.7" width="9.6" height="9.6" fill="#000000"/><rect x="678.9" y="1104.7" width="9.6" height="9.6" fill="#000000"/><rect x="682.4" y="1099.4" width="9.6" height="9.6" fill="#000000"/><rect x="685.9" y="1093.6" width="9.6" height="9.6" fill="#000000"/><rect x="689.1" y="1087.5" width="9.6" height="9.6" fill="#000000"/><rect x="692.2" y="1080.9" width="9.6" height="9.6" fill="#000000"/><rect x="695.3" y="1074.1" width="9.6" height="9.6" fill="#000000"/><rect x="698.7" y="1067.2" width="9.6" height="9.6" fill="#000000"/><rect x="702.7" y="1060.2" width="9.6" height="9.6" fill="#000000"/><rect x="707.5" y="1053.6" width="9.6" height="9.6" fill="#000000"/><rect x="713.1" y="1047.3" width="9.6" height="9.6" fill="#000000"/><rect x="719.2" y="1041.3" width="9.6" height="9.6" fill="#000000"/><rect x="725.7" y="1035.6" width="9.6" height="9.6" fill="#000000"/><rect x="732.3" y="1029.8" width="9.6" height="9.6" fill="#000000"/><rect x="739.1" y="1024.2" width="9.6" height="9.6" fill="#000000"/><rect x="745.7" y="1018.3" width="9.6" height="9.6" fill="#000000"/><rect x="752.4" y="1012.4" width="9.6" height="9.6" fill="#000000"/><rect x="758.9" y="1006.6" width="9.6" height="9.6" fill="#000000"/><rect x="766.4" y="1002.6" width="9.6" height="9.6" fill="#000000"/><rect x="774.8" y="1004.0" width="9.6" height="9.6" fill="#000000"/><rect x="782.9" y="1006.4" width="9.6" height="9.6" fill="#000000"/><rect x="790.6" y="1009.4" width="9.6" height="9.6" fill="#000000"/><rect x="797.5" y="1013.5" width="9.6" height="9.6" fill="#000000"/><rect x="803.5" y="1018.5" width="9.6" height="9.6" fill="#000000"/><rect x="807.9" y="1024.6" width="9.6" height="9.6" fill="#000000"/><rect x="812.0" y="1030.7" width="9.6" height="9.6" fill="#000000"/><rect x="816.2" y="1036.3" width="9.6" height="9.6" fill="#000000"/><rect x="819.9" y="1041.8" width="9.6" height="9.6" fill="#000000"/><rect x="823.4" y="1047.2" width="9.6" height="9.6" fill="#000000"/><rect x="826.4" y="1052.5" width="9.6" height="9.6" fill="#000000"/><rect x="828.6" y="1057.9" width="9.6" height="9.6" fill="#000000"/><rect x="830.5" y="1063.0" width="9.6" height="9.6" fill="#000000"/><rect x="832.6" y="1067.7" width="9.6" height="9.6" fill="#000000"/><rect x="834.6" y="1072.1" width="9.6" height="9.6" fill="#000000"/><rect x="836.7" y="1076.1" width="9.6" height="9.6" fill="#000000"/><rect x="838.8" y="1079.8" width="9.6" height="9.6" fill="#000000"/><rect x="840.8" y="1083.2" width="9.6" height="9.6" fill="#000000"/><rect x="842.6" y="1086.3" width="9.6" height="9.6" fill="#000000"/></g><g clip-path="url(#cd)"><path d="M760.0 1015.0 L761.3 1013.4 L763.1 1011.0 L765.2 1008.3 L767.3 1005.7 L769.4 1003.6 L771.2 1002.1 L772.9 1001.3 L774.6 1000.8 L776.3 1000.3 L777.9 999.6 L779.5 998.6 L781.0 997.2 L782.3 995.7 L783.7 994.0 L785.2 992.4 L787.0 991.0 L789.1 989.7 L791.6 988.4 L794.1 987.2 L796.7 986.2 L799.2 985.3 L801.6 984.5 L803.9 984.0 L806.1 983.6 L808.4 983.3 L810.6 983.1 L812.7 983.0 L814.8 983.0 L816.9 983.2 L818.9 983.4 L821.0 983.7 L823.0 984.0 L825.1 984.3 L827.2 984.5 L829.3 984.9 L831.3 985.3 L833.3 985.8 L835.3 986.5 L837.3 987.2 L839.2 988.1 L841.1 989.1 L842.9 990.2 L844.6 991.4 L846.1 992.7 L847.6 994.1 L849.1 995.6 L850.5 997.3 L852.0 999.0 L853.5 1000.9 L855.1 1002.9 L856.6 1005.1 L858.1 1007.2 L859.6 1009.3 L860.9 1011.3 L862.1 1013.2 L863.2 1015.0 L864.3 1016.8 L865.4 1018.7 L866.3 1020.7 L867.1 1022.7 L867.9 1024.7 L868.6 1026.8 L869.3 1028.9 L870.0 1031.0 L870.7 1033.1 L871.5 1035.2 L872.2 1037.3 L872.9 1039.3 L873.7 1041.3 L874.6 1043.3 L875.5 1045.3 L876.4 1047.2 L877.3 1049.1 L878.3 1050.9 L879.3 1052.6 L880.4 1054.3 L881.5 1056.0 L882.6 1057.6 L883.8 1059.0 L885.0 1060.0 L886.3 1060.6 L887.6 1061.0 L888.9 1061.1 L890.2 1061.1 L891.6 1061.0 L892.9 1061.0 L894.2 1061.0 L895.4 1060.9 L896.7 1060.7 L898.1 1060.4 L899.5 1059.8 L900.9 1059.1 L902.4 1058.2 L904.0 1057.1 L905.5 1055.8 L907.0 1054.0 L908.5 1051.7 L910.1 1048.9 L911.7 1045.9 L913.2 1042.8 L914.6 1039.9 L915.8 1037.3 L916.8 1034.7 L917.7 1032.2 L918.5 1029.8 L919.4 1027.5 L920.3 1025.3 L921.2 1023.2 L922.1 1021.2 L923.0 1019.2 L923.9 1017.2 L925.0 1015.0 L926.2 1012.8 L927.5 1010.5 L928.9 1008.1 L930.2 1005.6 L931.6 1003.0 L932.9 999.9 L934.3 996.1 L935.7 992.2 L937.0 988.5 L938.0 985.4 L938.5 984.0" fill="none" stroke="#000000" stroke-width="0.9"/><rect x="755.2" y="1010.2" width="9.6" height="9.6" fill="#000000"/><rect x="758.3" y="1006.2" width="9.6" height="9.6" fill="#000000"/><rect x="762.3" y="1001.2" width="9.6" height="9.6" fill="#000000"/><rect x="768.1" y="996.5" width="9.6" height="9.6" fill="#000000"/><rect x="775.9" y="992.7" width="9.6" height="9.6" fill="#000000"/><rect x="783.1" y="985.7" width="9.6" height="9.6" fill="#000000"/><rect x="793.3" y="980.8" width="9.6" height="9.6" fill="#000000"/><rect x="805.5" y="978.3" width="9.6" height="9.6" fill="#000000"/><rect x="818.9" y="979.3" width="9.6" height="9.6" fill="#000000"/><rect x="832.6" y="982.5" width="9.6" height="9.6" fill="#000000"/><rect x="844.3" y="990.8" width="9.6" height="9.6" fill="#000000"/><rect x="853.0" y="1002.0" width="9.6" height="9.6" fill="#000000"/><rect x="860.4" y="1013.5" width="9.6" height="9.6" fill="#000000"/><rect x="864.9" y="1025.3" width="9.6" height="9.6" fill="#000000"/><rect x="868.7" y="1036.1" width="9.6" height="9.6" fill="#000000"/><rect x="873.0" y="1045.1" width="9.6" height="9.6" fill="#000000"/><rect x="877.5" y="1052.3" width="9.6" height="9.6" fill="#000000"/><rect x="883.1" y="1056.2" width="9.6" height="9.6" fill="#000000"/><rect x="888.6" y="1056.2" width="9.6" height="9.6" fill="#000000"/><rect x="895.2" y="1054.7" width="9.6" height="9.6" fill="#000000"/><rect x="901.2" y="1050.5" width="9.6" height="9.6" fill="#000000"/><rect x="905.5" y="1043.8" width="9.6" height="9.6" fill="#000000"/><rect x="909.4" y="1036.0" width="9.6" height="9.6" fill="#000000"/><rect x="912.9" y="1027.4" width="9.6" height="9.6" fill="#000000"/><rect x="916.6" y="1017.9" width="9.6" height="9.6" fill="#000000"/><rect x="921.3" y="1008.1" width="9.6" height="9.6" fill="#000000"/><rect x="927.0" y="997.7" width="9.6" height="9.6" fill="#000000"/><rect x="931.5" y="985.7" width="9.6" height="9.6" fill="#000000"/><rect x="933.7" y="979.2" width="9.6" height="9.6" fill="#000000"/></g><g clip-path="url(#cd)"><path d="M655.7 1153.8 L656.2 1152.2 L656.9 1149.9 L657.8 1147.2 L658.7 1144.2 L659.7 1141.1 L660.7 1137.8 L661.7 1134.4 L662.8 1130.7 L664.0 1126.8 L665.2 1122.8 L666.4 1118.6 L667.7 1114.1 L668.9 1109.4 L670.3 1104.6 L671.6 1099.8 L673.0 1095.0 L674.4 1090.3 L675.9 1085.5 L677.4 1080.8 L678.9 1076.1 L680.5 1071.5 L682.1 1067.0 L683.8 1062.4 L685.6 1057.9 L687.3 1053.5 L689.0 1049.5 L690.5 1045.8 L691.9 1042.6 L693.3 1039.7 L694.6 1037.1 L695.8 1034.5 L697.0 1032.0 L698.1 1029.6 L699.2 1027.4 L700.2 1025.3 L701.2 1023.2 L702.4 1020.8 L703.7 1018.2 L705.1 1015.4 L706.6 1012.4 L708.2 1009.4 L709.7 1006.4 L711.2 1003.6 L712.7 1000.7 L714.1 997.9 L715.6 995.1 L717.1 992.5 L718.6 990.0 L720.1 987.7 L721.6 985.5 L723.2 983.5 L724.8 981.5 L726.4 979.6 L728.2 977.8 L730.0 976.1 L731.8 974.4 L733.7 972.8 L735.6 971.4 L737.5 970.1 L739.5 968.8 L741.5 967.5 L743.4 966.5 L745.4 965.6 L747.4 965.2 L749.4 965.2 L751.3 965.6 L753.2 966.2 L755.2 967.0 L757.1 967.7 L759.1 968.5 L761.0 969.3 L762.9 970.3 L764.8 971.2 L766.9 972.3 L769.1 973.4 L771.5 974.5 L774.0 975.8 L776.6 977.1 L779.1 978.3 L781.4 979.6 L783.6 980.8 L785.6 981.9 L787.6 983.0 L789.5 984.3 L791.3 985.7 L793.0 987.3 L794.5 989.2 L796.0 991.3 L797.3 993.4 L798.7 995.4 L800.2 997.3 L801.7 999.1 L803.2 1000.8 L804.7 1002.4 L806.2 1004.1 L807.6 1005.8 L808.9 1007.5 L810.1 1009.1 L811.3 1010.8 L812.5 1012.5 L813.7 1014.4 L814.9 1016.4 L816.2 1018.6 L817.5 1020.9 L818.7 1023.2 L819.9 1025.4 L821.1 1027.4 L822.1 1029.2 L823.1 1030.8 L824.1 1032.4 L825.0 1034.1 L825.9 1036.0 L826.7 1038.2 L827.5 1040.7 L828.2 1043.3 L828.8 1045.8 L829.6 1048.2 L830.3 1050.4 L831.0 1052.4 L831.7 1054.2 L832.5 1056.1 L833.2 1058.1 L834.1 1060.2 L835.0 1062.6 L836.0 1065.1 L837.0 1067.6 L838.0 1070.1 L839.0 1072.6 L840.0 1075.1 L840.9 1077.5 L841.9 1080.0 L842.9 1082.4 L843.9 1084.9 L844.9 1087.4 L845.9 1090.1 L847.0 1092.7 L848.0 1095.3 L849.0 1097.5 L849.7 1099.4 L850.2 1101.0 L850.5 1102.3 L850.9 1103.4 L851.3 1104.0 L852.1 1104.0 L853.3 1103.4 L854.8 1102.2 L856.4 1100.6 L858.1 1098.7 L859.6 1096.7 L860.8 1094.6 L861.8 1092.3 L862.8 1089.8 L863.7 1087.2 L864.6 1084.7 L865.5 1082.2 L866.5 1080.0 L867.5 1077.9 L868.4 1075.7 L869.4 1073.1 L870.4 1070.0 L871.4 1066.1 L872.4 1061.5 L873.4 1056.7 L874.4 1051.8 L875.4 1047.4 L876.3 1043.4 L877.2 1039.8 L878.0 1036.3 L878.9 1033.1 L880.0 1030.0 L881.4 1027.0 L883.4 1024.1 L885.7 1021.3 L888.0 1018.7 L890.0 1016.6 L891.4 1015.0 L891.4 1015.0" fill="none" stroke="#0000ff" stroke-width="0.9"/><circle cx="655.7" cy="1153.8" r="5.80" fill="#0000ff"/><circle cx="657.0" cy="1149.6" r="5.80" fill="#0000ff"/><circle cx="658.5" cy="1144.9" r="5.80" fill="#0000ff"/><circle cx="660.1" cy="1139.7" r="5.80" fill="#0000ff"/><circle cx="661.8" cy="1134.1" r="5.80" fill="#0000ff"/><circle cx="663.6" cy="1128.1" r="5.80" fill="#0000ff"/><circle cx="665.5" cy="1121.6" r="5.80" fill="#0000ff"/><circle cx="667.5" cy="1114.6" r="5.80" fill="#0000ff"/><circle cx="669.5" cy="1107.2" r="5.80" fill="#0000ff"/><circle cx="671.7" cy="1099.4" r="5.80" fill="#0000ff"/><circle cx="674.1" cy="1091.2" r="5.80" fill="#0000ff"/><circle cx="676.8" cy="1082.6" r="5.80" fill="#0000ff"/><circle cx="679.8" cy="1073.5" r="5.80" fill="#0000ff"/><circle cx="683.1" cy="1064.2" r="5.80" fill="#0000ff"/><circle cx="686.9" cy="1054.5" r="5.80" fill="#0000ff"/><circle cx="691.0" cy="1044.6" r="5.80" fill="#0000ff"/><circle cx="695.8" cy="1034.5" r="5.80" fill="#0000ff"/><circle cx="700.8" cy="1024.2" r="5.80" fill="#0000ff"/><circle cx="706.0" cy="1013.6" r="5.80" fill="#0000ff"/><circle cx="711.6" cy="1002.9" r="5.80" fill="#0000ff"/><circle cx="717.4" cy="992.0" r="5.80" fill="#0000ff"/><circle cx="724.5" cy="981.8" r="5.80" fill="#0000ff"/><circle cx="733.4" cy="973.1" r="5.80" fill="#0000ff"/><circle cx="743.9" cy="966.2" r="5.80" fill="#0000ff"/><circle cx="756.0" cy="967.3" r="5.80" fill="#0000ff"/><circle cx="767.3" cy="972.5" r="5.80" fill="#0000ff"/><circle cx="778.3" cy="977.9" r="5.80" fill="#0000ff"/><circle cx="788.8" cy="983.8" r="5.80" fill="#0000ff"/><circle cx="796.7" cy="992.4" r="5.80" fill="#0000ff"/><circle cx="803.8" cy="1001.4" r="5.80" fill="#0000ff"/><circle cx="810.8" cy="1010.1" r="5.80" fill="#0000ff"/><circle cx="816.5" cy="1019.2" r="5.80" fill="#0000ff"/><circle cx="821.5" cy="1028.2" r="5.80" fill="#0000ff"/><circle cx="826.2" cy="1036.8" r="5.80" fill="#0000ff"/><circle cx="828.9" cy="1045.9" r="5.80" fill="#0000ff"/><circle cx="831.7" cy="1054.3" r="5.80" fill="#0000ff"/><circle cx="834.8" cy="1062.1" r="5.80" fill="#0000ff"/><circle cx="837.8" cy="1069.5" r="5.80" fill="#0000ff"/><circle cx="840.5" cy="1076.4" r="5.80" fill="#0000ff"/><circle cx="843.1" cy="1082.9" r="5.80" fill="#0000ff"/><circle cx="845.5" cy="1088.9" r="5.80" fill="#0000ff"/><circle cx="847.7" cy="1094.5" r="5.80" fill="#0000ff"/><circle cx="849.8" cy="1099.6" r="5.80" fill="#0000ff"/><circle cx="851.7" cy="1104.0" r="5.80" fill="#0000ff"/><circle cx="855.3" cy="1101.7" r="5.80" fill="#0000ff"/><circle cx="859.2" cy="1097.2" r="5.80" fill="#0000ff"/><circle cx="862.1" cy="1091.5" r="5.80" fill="#0000ff"/><circle cx="864.4" cy="1085.1" r="5.80" fill="#0000ff"/><circle cx="867.2" cy="1078.4" r="5.80" fill="#0000ff"/><circle cx="870.1" cy="1071.1" r="5.80" fill="#0000ff"/><circle cx="872.1" cy="1063.1" r="5.80" fill="#0000ff"/><circle cx="873.9" cy="1054.3" r="5.80" fill="#0000ff"/><circle cx="875.9" cy="1045.1" r="5.80" fill="#0000ff"/><circle cx="878.3" cy="1035.1" r="5.80" fill="#0000ff"/><circle cx="882.6" cy="1025.2" r="5.80" fill="#0000ff"/><circle cx="890.2" cy="1016.4" r="5.80" fill="#0000ff"/></g><g clip-path="url(#cd)"><path d="M655.7 1148.5 L656.6 1146.4 L657.9 1143.5 L659.3 1140.0 L660.9 1136.4 L662.5 1133.0 L664.0 1130.1 L665.5 1127.4 L667.1 1124.8 L668.7 1122.2 L670.3 1119.2 L671.9 1115.8 L673.5 1112.1 L675.1 1108.0 L676.7 1103.8 L678.4 1099.4 L680.0 1095.0 L681.7 1090.4 L683.3 1085.6 L685.0 1080.8 L686.7 1076.0 L688.4 1071.4 L690.1 1067.2 L691.8 1063.3 L693.4 1059.5 L695.1 1055.9 L696.8 1052.3 L698.6 1048.8 L700.4 1045.4 L702.3 1042.1 L704.2 1039.0 L706.1 1035.9 L708.0 1033.0 L710.0 1030.2 L711.9 1027.6 L713.9 1025.1 L716.0 1022.8 L717.9 1020.7 L719.9 1018.7 L721.9 1017.0 L723.8 1015.5 L725.7 1014.1 L727.7 1012.8 L729.7 1011.6 L731.6 1010.5 L733.6 1009.5 L735.6 1008.6 L737.5 1007.7 L739.5 1007.0 L741.5 1006.3 L743.4 1005.6 L745.4 1005.0 L747.4 1004.6 L749.3 1004.5 L751.3 1004.7 L753.4 1005.2 L755.4 1005.9 L757.4 1006.8 L759.3 1007.7 L761.1 1008.7 L762.6 1009.7 L764.1 1010.8 L765.5 1011.9 L766.9 1013.3 L768.3 1015.0 L769.8 1017.0 L771.3 1019.4 L772.7 1022.0 L774.2 1024.6 L775.7 1027.2 L777.2 1029.6 L778.6 1032.1 L780.1 1034.5 L781.6 1036.9 L783.0 1039.4 L784.5 1041.8 L786.0 1044.2 L787.6 1046.7 L789.1 1049.1 L790.6 1051.6 L791.9 1054.0 L793.0 1056.4 L794.0 1058.9 L795.0 1061.3 L795.9 1063.7 L796.8 1066.2 L797.7 1068.7 L798.7 1071.2 L799.7 1073.8 L800.7 1076.3 L801.6 1078.8 L802.6 1081.3 L803.6 1083.7 L804.5 1086.1 L805.4 1088.5 L806.5 1090.9 L807.6 1093.5 L808.9 1096.6 L810.3 1100.2 L811.8 1103.7 L813.4 1106.7 L814.9 1108.7 L816.4 1109.2 L818.0 1108.5 L819.5 1106.9 L821.0 1104.8 L822.4 1102.5 L823.7 1100.3 L824.8 1097.8 L825.8 1095.0 L826.7 1092.0 L827.6 1089.0 L828.5 1086.0 L829.5 1083.0 L830.5 1079.9 L831.5 1076.8 L832.5 1073.8 L833.5 1070.9 L834.5 1068.3 L835.4 1065.8 L836.4 1063.5 L837.4 1061.2 L838.4 1058.7 L839.3 1056.1 L840.3 1053.1 L841.3 1050.0 L842.2 1046.9 L843.2 1043.9 L844.2 1041.0 L845.3 1038.2 L846.4 1035.3 L847.5 1032.6 L848.5 1030.3 L849.3 1028.4 L849.5 1028.0" fill="none" stroke="#ff2e2e" stroke-width="0.9"/><rect x="651.0" y="1143.8" width="9.4" height="9.4" fill="#fff" stroke="#ff2e2e" stroke-width="1.5"/><rect x="652.3" y="1140.7" width="9.4" height="9.4" fill="#fff" stroke="#ff2e2e" stroke-width="1.5"/><rect x="653.8" y="1137.1" width="9.4" height="9.4" fill="#fff" stroke="#ff2e2e" stroke-width="1.5"/><rect x="655.5" y="1133.3" width="9.4" height="9.4" fill="#fff" stroke="#ff2e2e" stroke-width="1.5"/><rect x="657.4" y="1129.2" width="9.4" height="9.4" fill="#fff" stroke="#ff2e2e" stroke-width="1.5"/><rect x="659.6" y="1124.8" width="9.4" height="9.4" fill="#fff" stroke="#ff2e2e" stroke-width="1.5"/><rect x="662.3" y="1120.4" width="9.4" height="9.4" fill="#fff" stroke="#ff2e2e" stroke-width="1.5"/><rect x="665.1" y="1115.5" width="9.4" height="9.4" fill="#fff" stroke="#ff2e2e" stroke-width="1.5"/><rect x="667.6" y="1110.2" width="9.4" height="9.4" fill="#fff" stroke="#ff2e2e" stroke-width="1.5"/><rect x="670.0" y="1104.4" width="9.4" height="9.4" fill="#fff" stroke="#ff2e2e" stroke-width="1.5"/><rect x="672.4" y="1098.2" width="9.4" height="9.4" fill="#fff" stroke="#ff2e2e" stroke-width="1.5"/><rect x="674.8" y="1091.6" width="9.4" height="9.4" fill="#fff" stroke="#ff2e2e" stroke-width="1.5"/><rect x="677.3" y="1084.7" width="9.4" height="9.4" fill="#fff" stroke="#ff2e2e" stroke-width="1.5"/><rect x="679.8" y="1077.5" width="9.4" height="9.4" fill="#fff" stroke="#ff2e2e" stroke-width="1.5"/><rect x="682.5" y="1069.9" width="9.4" height="9.4" fill="#fff" stroke="#ff2e2e" stroke-width="1.5"/><rect x="685.6" y="1062.2" width="9.4" height="9.4" fill="#fff" stroke="#ff2e2e" stroke-width="1.5"/><rect x="689.0" y="1054.3" width="9.4" height="9.4" fill="#fff" stroke="#ff2e2e" stroke-width="1.5"/><rect x="692.8" y="1046.3" width="9.4" height="9.4" fill="#fff" stroke="#ff2e2e" stroke-width="1.5"/><rect x="697.1" y="1038.2" width="9.4" height="9.4" fill="#fff" stroke="#ff2e2e" stroke-width="1.5"/><rect x="702.0" y="1030.3" width="9.4" height="9.4" fill="#fff" stroke="#ff2e2e" stroke-width="1.5"/><rect x="707.5" y="1022.5" width="9.4" height="9.4" fill="#fff" stroke="#ff2e2e" stroke-width="1.5"/><rect x="713.9" y="1015.3" width="9.4" height="9.4" fill="#fff" stroke="#ff2e2e" stroke-width="1.5"/><rect x="721.4" y="1009.2" width="9.4" height="9.4" fill="#fff" stroke="#ff2e2e" stroke-width="1.5"/><rect x="729.8" y="1004.3" width="9.4" height="9.4" fill="#fff" stroke="#ff2e2e" stroke-width="1.5"/><rect x="738.8" y="1000.9" width="9.4" height="9.4" fill="#fff" stroke="#ff2e2e" stroke-width="1.5"/><rect x="748.3" y="1000.3" width="9.4" height="9.4" fill="#fff" stroke="#ff2e2e" stroke-width="1.5"/><rect x="756.9" y="1004.3" width="9.4" height="9.4" fill="#fff" stroke="#ff2e2e" stroke-width="1.5"/><rect x="763.8" y="1010.5" width="9.4" height="9.4" fill="#fff" stroke="#ff2e2e" stroke-width="1.5"/><rect x="768.6" y="1018.3" width="9.4" height="9.4" fill="#fff" stroke="#ff2e2e" stroke-width="1.5"/><rect x="773.1" y="1025.9" width="9.4" height="9.4" fill="#fff" stroke="#ff2e2e" stroke-width="1.5"/><rect x="777.5" y="1033.3" width="9.4" height="9.4" fill="#fff" stroke="#ff2e2e" stroke-width="1.5"/><rect x="781.9" y="1040.4" width="9.4" height="9.4" fill="#fff" stroke="#ff2e2e" stroke-width="1.5"/><rect x="786.1" y="1047.2" width="9.4" height="9.4" fill="#fff" stroke="#ff2e2e" stroke-width="1.5"/><rect x="789.3" y="1054.0" width="9.4" height="9.4" fill="#fff" stroke="#ff2e2e" stroke-width="1.5"/><rect x="791.8" y="1060.9" width="9.4" height="9.4" fill="#fff" stroke="#ff2e2e" stroke-width="1.5"/><rect x="794.3" y="1067.3" width="9.4" height="9.4" fill="#fff" stroke="#ff2e2e" stroke-width="1.5"/><rect x="796.6" y="1073.4" width="9.4" height="9.4" fill="#fff" stroke="#ff2e2e" stroke-width="1.5"/><rect x="798.9" y="1079.1" width="9.4" height="9.4" fill="#fff" stroke="#ff2e2e" stroke-width="1.5"/><rect x="801.0" y="1084.4" width="9.4" height="9.4" fill="#fff" stroke="#ff2e2e" stroke-width="1.5"/><rect x="803.2" y="1089.4" width="9.4" height="9.4" fill="#fff" stroke="#ff2e2e" stroke-width="1.5"/><rect x="805.1" y="1094.0" width="9.4" height="9.4" fill="#fff" stroke="#ff2e2e" stroke-width="1.5"/><rect x="806.8" y="1098.3" width="9.4" height="9.4" fill="#fff" stroke="#ff2e2e" stroke-width="1.5"/><rect x="808.8" y="1102.1" width="9.4" height="9.4" fill="#fff" stroke="#ff2e2e" stroke-width="1.5"/><rect x="811.6" y="1104.5" width="9.4" height="9.4" fill="#fff" stroke="#ff2e2e" stroke-width="1.5"/><rect x="814.4" y="1102.7" width="9.4" height="9.4" fill="#fff" stroke="#ff2e2e" stroke-width="1.5"/><rect x="817.1" y="1098.9" width="9.4" height="9.4" fill="#fff" stroke="#ff2e2e" stroke-width="1.5"/><rect x="819.4" y="1094.7" width="9.4" height="9.4" fill="#fff" stroke="#ff2e2e" stroke-width="1.5"/><rect x="821.2" y="1089.9" width="9.4" height="9.4" fill="#fff" stroke="#ff2e2e" stroke-width="1.5"/><rect x="822.8" y="1084.6" width="9.4" height="9.4" fill="#fff" stroke="#ff2e2e" stroke-width="1.5"/><rect x="824.5" y="1079.1" width="9.4" height="9.4" fill="#fff" stroke="#ff2e2e" stroke-width="1.5"/><rect x="826.4" y="1073.3" width="9.4" height="9.4" fill="#fff" stroke="#ff2e2e" stroke-width="1.5"/><rect x="828.5" y="1067.1" width="9.4" height="9.4" fill="#fff" stroke="#ff2e2e" stroke-width="1.5"/><rect x="830.9" y="1060.7" width="9.4" height="9.4" fill="#fff" stroke="#ff2e2e" stroke-width="1.5"/><rect x="833.7" y="1053.9" width="9.4" height="9.4" fill="#fff" stroke="#ff2e2e" stroke-width="1.5"/><rect x="836.2" y="1046.6" width="9.4" height="9.4" fill="#fff" stroke="#ff2e2e" stroke-width="1.5"/><rect x="838.7" y="1038.7" width="9.4" height="9.4" fill="#fff" stroke="#ff2e2e" stroke-width="1.5"/><rect x="841.7" y="1030.6" width="9.4" height="9.4" fill="#fff" stroke="#ff2e2e" stroke-width="1.5"/><rect x="844.8" y="1023.3" width="9.4" height="9.4" fill="#fff" stroke="#ff2e2e" stroke-width="1.5"/></g><g clip-path="url(#cd)"><path d="M656.0 1152.0 L656.5 1150.6 L657.1 1148.7 L657.8 1146.4 L658.7 1143.8 L659.7 1141.0 L660.7 1137.9 L661.9 1134.4 L663.2 1130.6 L664.6 1126.7 L666.1 1122.7 L667.5 1118.7 L668.9 1114.7 L670.4 1110.6 L671.9 1106.4 L673.4 1102.2 L675.0 1098.0 L676.6 1093.7 L678.3 1089.4 L680.0 1085.1 L681.7 1080.8 L683.4 1076.4 L685.1 1072.1 L686.8 1067.8 L688.5 1063.4 L690.2 1059.1 L691.9 1054.8 L693.6 1050.6 L695.2 1046.4 L696.9 1042.3 L698.6 1038.2 L700.3 1034.1 L702.0 1030.0 L703.7 1025.8 L705.4 1021.7 L707.1 1017.5 L708.8 1013.4 L710.4 1009.3 L712.1 1005.4 L713.7 1001.7 L715.3 998.1 L717.0 994.5 L718.7 990.7 L720.7 986.6 L722.8 982.2 L725.0 977.6 L727.3 972.9 L729.6 968.3 L731.8 964.0 L733.8 959.9 L735.7 956.0 L737.6 952.3 L739.6 948.6 L741.6 945.1 L743.7 941.8 L745.9 938.7 L748.2 935.7 L750.6 932.8 L753.0 929.9 L755.6 927.0 L758.3 924.0 L761.0 920.9 L763.9 918.0 L766.8 915.4 L769.7 913.4 L772.6 912.0 L775.6 911.0 L778.6 910.4 L781.6 910.1 L784.5 910.0 L787.3 910.1 L790.0 910.6 L792.7 911.3 L795.4 912.2 L798.0 913.3 L800.7 914.4 L803.4 915.7 L806.1 917.1 L808.7 918.6 L811.4 920.3 L814.0 922.0 L816.6 923.7 L819.2 925.3 L821.7 927.0 L824.2 929.0 L826.5 931.5 L828.7 934.5 L830.7 938.3 L832.6 942.4 L834.5 946.7 L836.4 950.8 L838.5 954.5 L840.8 957.8 L843.1 961.1 L845.4 964.2 L847.6 967.2 L849.6 970.3 L851.3 973.4 L852.8 976.4 L854.1 979.3 L855.5 982.3 L856.8 985.2 L858.3 988.2 L859.8 991.1 L861.2 994.1 L862.7 997.0 L864.2 999.9 L865.7 1002.9 L867.2 1005.8 L868.6 1008.8 L870.1 1011.7 L871.5 1014.7 L873.0 1017.6 L874.5 1020.5 L876.1 1023.5 L877.6 1026.4 L879.1 1029.4 L880.5 1032.3 L881.7 1035.2 L882.7 1038.1 L883.7 1041.0 L884.6 1043.9 L885.5 1046.9 L886.4 1050.1 L887.4 1053.5 L888.4 1057.0 L889.4 1060.6 L890.4 1064.1 L891.4 1067.4 L892.4 1070.8 L893.4 1074.5 L894.3 1078.0 L895.3 1080.8 L896.3 1082.7 L897.2 1083.2 L898.2 1082.4 L899.1 1080.8 L900.1 1078.7 L901.1 1076.4 L902.2 1074.3 L903.3 1072.1 L904.5 1069.6 L905.6 1067.0 L906.8 1064.4 L908.0 1062.0 L909.2 1059.5 L910.5 1056.9 L911.8 1054.4 L912.9 1052.1 L913.8 1050.4 L914.0 1050.0" fill="none" stroke="#00f500" stroke-width="0.9"/><path d="M656.0 1146.0L662.7 1158.0L649.3 1158.0Z" fill="#00f500"/><path d="M657.7 1140.8L664.4 1152.8L651.0 1152.8Z" fill="#00f500"/><path d="M659.7 1134.9L666.4 1146.9L653.0 1146.9Z" fill="#00f500"/><path d="M661.9 1128.5L668.6 1140.5L655.2 1140.5Z" fill="#00f500"/><path d="M664.3 1121.5L671.0 1133.5L657.6 1133.5Z" fill="#00f500"/><path d="M667.0 1114.1L673.7 1126.1L660.3 1126.1Z" fill="#00f500"/><path d="M669.8 1106.1L676.5 1118.1L663.1 1118.1Z" fill="#00f500"/><path d="M672.9 1097.6L679.6 1109.6L666.2 1109.6Z" fill="#00f500"/><path d="M676.3 1088.6L683.0 1100.6L669.6 1100.6Z" fill="#00f500"/><path d="M680.0 1079.2L686.7 1091.2L673.3 1091.2Z" fill="#00f500"/><path d="M683.9 1069.2L690.6 1081.2L677.2 1081.2Z" fill="#00f500"/><path d="M688.0 1058.6L694.7 1070.6L681.3 1070.6Z" fill="#00f500"/><path d="M692.4 1047.6L699.1 1059.6L685.7 1059.6Z" fill="#00f500"/><path d="M697.1 1036.0L703.8 1048.0L690.4 1048.0Z" fill="#00f500"/><path d="M702.0 1024.0L708.7 1036.0L695.3 1036.0Z" fill="#00f500"/><path d="M707.0 1011.5L713.7 1023.5L700.3 1023.5Z" fill="#00f500"/><path d="M712.4 998.6L719.1 1010.6L705.7 1010.6Z" fill="#00f500"/><path d="M718.4 985.5L725.1 997.5L711.7 997.5Z" fill="#00f500"/><path d="M724.7 972.2L731.4 984.2L718.0 984.2Z" fill="#00f500"/><path d="M731.5 958.6L738.2 970.6L724.8 970.6Z" fill="#00f500"/><path d="M738.4 944.9L745.1 956.9L731.7 956.9Z" fill="#00f500"/><path d="M746.7 931.7L753.4 943.7L740.0 943.7Z" fill="#00f500"/><path d="M756.8 919.7L763.5 931.7L750.1 931.7Z" fill="#00f500"/><path d="M767.9 908.6L774.6 920.6L761.2 920.6Z" fill="#00f500"/><path d="M782.7 904.0L789.4 916.0L776.0 916.0Z" fill="#00f500"/><path d="M797.8 907.2L804.5 919.2L791.1 919.2Z" fill="#00f500"/><path d="M811.4 914.3L818.1 926.3L804.7 926.3Z" fill="#00f500"/><path d="M823.9 922.8L830.6 934.8L817.2 934.8Z" fill="#00f500"/><path d="M832.0 935.0L838.7 947.0L825.3 947.0Z" fill="#00f500"/><path d="M838.2 948.0L844.9 960.0L831.5 960.0Z" fill="#00f500"/><path d="M846.3 959.4L853.0 971.4L839.6 971.4Z" fill="#00f500"/><path d="M853.1 971.0L859.8 983.0L846.4 983.0Z" fill="#00f500"/><path d="M858.5 982.7L865.2 994.7L851.8 994.7Z" fill="#00f500"/><path d="M864.1 993.7L870.8 1005.7L857.4 1005.7Z" fill="#00f500"/><path d="M869.3 1004.2L876.0 1016.2L862.6 1016.2Z" fill="#00f500"/><path d="M874.3 1014.2L881.0 1026.2L867.6 1026.2Z" fill="#00f500"/><path d="M879.2 1023.6L885.9 1035.6L872.5 1035.6Z" fill="#00f500"/><path d="M882.9 1032.8L889.6 1044.8L876.2 1044.8Z" fill="#00f500"/><path d="M885.7 1041.7L892.4 1053.7L879.0 1053.7Z" fill="#00f500"/><path d="M888.2 1050.1L894.9 1062.1L881.5 1062.1Z" fill="#00f500"/><path d="M890.4 1057.9L897.1 1069.9L883.7 1069.9Z" fill="#00f500"/><path d="M892.5 1065.1L899.2 1077.1L885.8 1077.1Z" fill="#00f500"/><path d="M894.3 1071.8L901.0 1083.8L887.6 1083.8Z" fill="#00f500"/><path d="M897.1 1077.2L903.8 1089.2L890.4 1089.2Z" fill="#00f500"/><path d="M900.1 1072.7L906.8 1084.7L893.4 1084.7Z" fill="#00f500"/><path d="M903.5 1065.5L910.2 1077.5L896.8 1077.5Z" fill="#00f500"/><path d="M907.6 1056.7L914.3 1068.7L900.9 1068.7Z" fill="#00f500"/><path d="M912.9 1046.1L919.6 1058.1L906.2 1058.1Z" fill="#00f500"/></g><g clip-path="url(#cd)"><path d="M655.0 1152.0 L655.2 1150.4 L655.5 1148.1 L655.9 1145.5 L656.3 1142.6 L656.8 1139.9 L657.4 1137.3 L658.1 1134.6 L658.9 1131.9 L659.8 1129.2 L660.5 1126.6 L661.2 1124.3 L661.7 1122.7 L662.1 1121.5 L662.6 1120.0 L663.2 1117.7 L664.0 1114.0 L665.1 1108.1 L666.4 1100.5 L667.9 1092.1 L669.4 1083.9 L670.9 1077.0 L672.4 1072.2 L673.9 1068.9 L675.5 1066.5 L677.0 1064.3 L678.4 1061.7 L679.7 1058.2 L680.8 1053.9 L681.9 1049.3 L682.8 1044.4 L683.9 1039.6 L685.0 1035.0 L686.3 1030.6 L687.6 1026.3 L689.0 1022.1 L690.5 1017.9 L691.9 1013.8 L693.4 1009.7 L694.8 1005.6 L696.3 1001.6 L697.7 997.7 L699.2 993.9 L700.7 990.2 L702.1 986.6 L703.5 983.2 L704.9 979.8 L706.4 976.5 L708.0 973.1 L709.8 969.6 L711.6 966.2 L713.6 962.7 L715.5 959.3 L717.4 956.0 L719.2 953.0 L720.8 950.0 L722.4 947.2 L724.0 944.5 L725.7 941.8 L727.7 939.1 L729.7 936.4 L731.8 933.8 L734.0 931.1 L736.4 928.5 L739.0 926.0 L741.9 923.4 L745.1 920.8 L748.5 918.3 L751.8 915.9 L755.0 913.7 L757.9 911.7 L760.6 910.0 L763.1 908.4 L765.7 907.0 L768.2 905.7 L770.9 904.7 L773.8 903.9 L776.7 903.3 L779.6 902.8 L782.4 902.4 L785.0 902.0 L787.4 901.5 L789.5 901.1 L791.6 900.8 L793.7 900.4 L796.1 900.1 L798.9 899.8 L802.0 899.4 L805.3 899.1 L808.7 898.8 L811.9 898.8 L815.0 899.1 L817.9 899.8 L820.8 900.7 L823.5 901.7 L826.3 902.9 L829.0 904.0 L831.7 905.1 L834.3 906.3 L836.9 907.5 L839.5 908.9 L842.1 910.4 L844.8 912.2 L847.7 914.2 L850.6 916.4 L853.5 918.7 L856.3 921.2 L858.8 923.9 L861.2 926.7 L863.4 929.6 L865.5 932.8 L867.7 936.2 L870.0 940.0 L872.6 944.4 L875.3 949.3 L878.1 954.4 L880.7 959.4 L882.9 963.9 L884.6 967.6 L885.8 970.8 L886.7 973.7 L887.4 976.4 L888.2 979.1 L889.1 982.0 L890.1 984.9 L891.0 987.7 L892.0 990.6 L893.0 993.6 L894.0 996.7 L895.1 999.9 L896.2 1003.3 L897.3 1006.7 L898.5 1010.2 L899.6 1013.8 L900.7 1017.4 L901.8 1021.1 L902.9 1024.8 L904.1 1028.6 L905.2 1032.4 L906.4 1036.3 L907.7 1040.2 L909.0 1044.2 L910.3 1048.2 L911.7 1052.2 L913.0 1056.0 L914.3 1059.7 L915.6 1063.4 L916.9 1067.0 L918.2 1070.5 L919.5 1073.9 L921.0 1077.3 L922.4 1080.9 L923.9 1084.4 L925.5 1087.5 L927.0 1089.9 L928.5 1091.4 L930.1 1091.8 L931.7 1091.5 L933.2 1090.7 L934.7 1089.4 L936.0 1088.0 L937.1 1086.4 L938.0 1084.4 L938.8 1082.1 L939.7 1079.4 L940.7 1076.3 L942.0 1072.7 L943.4 1068.4 L944.9 1063.7 L946.4 1058.9 L948.0 1054.4 L949.5 1050.3 L951.0 1046.6 L952.6 1043.1 L954.1 1039.7 L955.5 1036.5 L956.8 1033.3 L957.9 1030.2 L958.9 1027.1 L959.8 1024.2 L960.7 1021.4 L961.7 1018.8 L962.8 1016.4 L964.0 1014.1 L965.3 1012.0 L966.5 1010.2 L967.5 1008.7 L968.0 1008.0" fill="none" stroke="#00f500" stroke-width="0.9"/><path d="M655.0 1146.0L661.7 1158.0L648.3 1158.0Z" fill="#00f500"/><path d="M655.8 1139.8L662.5 1151.8L649.1 1151.8Z" fill="#00f500"/><path d="M657.0 1132.9L663.7 1144.9L650.3 1144.9Z" fill="#00f500"/><path d="M659.0 1125.6L665.7 1137.6L652.3 1137.6Z" fill="#00f500"/><path d="M661.4 1117.6L668.1 1129.6L654.7 1129.6Z" fill="#00f500"/><path d="M663.8 1109.0L670.5 1121.0L657.1 1121.0Z" fill="#00f500"/><path d="M665.5 1099.7L672.2 1111.7L658.8 1111.7Z" fill="#00f500"/><path d="M667.3 1089.6L674.0 1101.6L660.6 1101.6Z" fill="#00f500"/><path d="M669.2 1079.0L675.9 1091.0L662.5 1091.0Z" fill="#00f500"/><path d="M671.8 1067.8L678.5 1079.8L665.1 1079.8Z" fill="#00f500"/><path d="M677.6 1057.2L684.3 1069.2L670.9 1069.2Z" fill="#00f500"/><path d="M681.5 1045.1L688.2 1057.1L674.8 1057.1Z" fill="#00f500"/><path d="M684.2 1032.0L690.9 1044.0L677.5 1044.0Z" fill="#00f500"/><path d="M688.2 1018.5L694.9 1030.5L681.5 1030.5Z" fill="#00f500"/><path d="M693.0 1004.7L699.7 1016.7L686.3 1016.7Z" fill="#00f500"/><path d="M698.2 990.4L704.9 1002.4L691.5 1002.4Z" fill="#00f500"/><path d="M704.1 975.8L710.8 987.8L697.4 987.8Z" fill="#00f500"/><path d="M711.1 961.1L717.8 973.1L704.4 973.1Z" fill="#00f500"/><path d="M719.3 946.6L726.0 958.6L712.6 958.6Z" fill="#00f500"/><path d="M728.3 932.2L735.0 944.2L721.6 944.2Z" fill="#00f500"/><path d="M739.9 919.2L746.6 931.2L733.2 931.2Z" fill="#00f500"/><path d="M753.8 908.5L760.5 920.5L747.1 920.5Z" fill="#00f500"/><path d="M769.0 899.4L775.7 911.4L762.3 911.4Z" fill="#00f500"/><path d="M786.3 895.8L793.0 907.8L779.6 907.8Z" fill="#00f500"/><path d="M803.8 893.2L810.5 905.2L797.1 905.2Z" fill="#00f500"/><path d="M821.2 894.8L827.9 906.8L814.5 906.8Z" fill="#00f500"/><path d="M837.1 901.6L843.8 913.6L830.4 913.6Z" fill="#00f500"/><path d="M851.4 911.0L858.1 923.0L844.7 923.0Z" fill="#00f500"/><path d="M862.9 923.0L869.6 935.0L856.2 935.0Z" fill="#00f500"/><path d="M871.6 936.7L878.3 948.7L864.9 948.7Z" fill="#00f500"/><path d="M879.2 950.5L885.9 962.5L872.5 962.5Z" fill="#00f500"/><path d="M885.5 964.2L892.2 976.2L878.8 976.2Z" fill="#00f500"/><path d="M889.8 978.1L896.5 990.1L883.1 990.1Z" fill="#00f500"/><path d="M894.2 991.3L900.9 1003.3L887.5 1003.3Z" fill="#00f500"/><path d="M898.4 1003.9L905.1 1015.9L891.7 1015.9Z" fill="#00f500"/><path d="M902.1 1016.0L908.8 1028.0L895.4 1028.0Z" fill="#00f500"/><path d="M905.5 1027.4L912.2 1039.4L898.8 1039.4Z" fill="#00f500"/><path d="M908.9 1038.1L915.6 1050.1L902.2 1050.1Z" fill="#00f500"/><path d="M912.3 1048.0L919.0 1060.0L905.6 1060.0Z" fill="#00f500"/><path d="M915.6 1057.4L922.3 1069.4L908.9 1069.4Z" fill="#00f500"/><path d="M918.7 1065.9L925.4 1077.9L912.0 1077.9Z" fill="#00f500"/><path d="M922.0 1073.8L928.7 1085.8L915.3 1085.8Z" fill="#00f500"/><path d="M925.2 1080.9L931.9 1092.9L918.5 1092.9Z" fill="#00f500"/><path d="M929.9 1085.8L936.6 1097.8L923.2 1097.8Z" fill="#00f500"/><path d="M935.2 1082.9L941.9 1094.9L928.5 1094.9Z" fill="#00f500"/><path d="M938.7 1076.5L945.4 1088.5L932.0 1088.5Z" fill="#00f500"/><path d="M941.2 1069.0L947.9 1081.0L934.5 1081.0Z" fill="#00f500"/><path d="M943.9 1060.8L950.6 1072.8L937.2 1072.8Z" fill="#00f500"/><path d="M946.8 1051.9L953.5 1063.9L940.1 1063.9Z" fill="#00f500"/><path d="M950.3 1042.3L957.0 1054.3L943.6 1054.3Z" fill="#00f500"/><path d="M954.8 1032.1L961.5 1044.1L948.1 1044.1Z" fill="#00f500"/><path d="M959.0 1020.8L965.7 1032.8L952.3 1032.8Z" fill="#00f500"/><path d="M963.8 1008.6L970.5 1020.6L957.1 1020.6Z" fill="#00f500"/><path d="M968.0 1002.0L974.7 1014.0L961.3 1014.0Z" fill="#00f500"/></g><g clip-path="url(#cd)"><path d="M656.0 1148.0 L656.6 1146.4 L657.5 1144.1 L658.5 1141.4 L659.6 1138.6 L660.7 1135.8 L661.7 1133.4 L662.8 1131.1 L663.9 1128.8 L665.0 1126.4 L666.2 1123.8 L667.4 1121.0 L668.7 1118.0 L669.9 1114.8 L671.3 1111.6 L672.6 1108.2 L674.0 1105.0 L675.4 1101.8 L676.9 1098.7 L678.4 1095.5 L680.0 1092.3 L681.5 1089.1 L683.0 1085.8 L684.5 1082.5 L686.0 1079.2 L687.5 1075.8 L689.0 1072.4 L690.5 1068.8 L692.0 1065.1 L693.5 1061.4 L695.0 1057.6 L696.5 1053.8 L698.0 1050.0 L699.5 1046.2 L701.0 1042.5 L702.5 1038.8 L704.0 1035.0 L705.5 1031.2 L707.0 1027.5 L708.5 1023.7 L709.9 1019.9 L711.4 1016.2 L713.0 1012.5 L714.5 1008.8 L716.2 1005.2 L717.9 1001.6 L719.7 998.0 L721.4 994.5 L723.0 991.0 L724.6 987.5 L726.0 984.0 L727.5 980.6 L729.0 977.2 L730.5 974.0 L732.0 971.0 L733.6 968.1 L735.1 965.4 L736.8 962.7 L738.4 960.2 L740.2 957.7 L742.1 955.4 L744.0 953.1 L746.0 951.0 L748.0 948.9 L750.1 946.8 L752.2 944.7 L754.4 942.7 L756.7 940.6 L758.9 938.7 L761.2 936.9 L763.4 935.2 L765.5 933.5 L767.6 932.0 L769.8 930.6 L772.1 929.2 L774.5 928.0 L777.1 926.7 L779.8 925.5 L782.6 924.5 L785.4 923.7 L788.1 923.2 L790.8 923.2 L793.6 923.7 L796.3 924.3 L799.0 925.1 L801.6 925.7 L804.2 926.0 L806.7 926.0 L809.1 926.0 L811.5 926.1 L813.9 926.5 L816.3 927.5 L818.8 929.1 L821.2 931.1 L823.7 933.4 L826.1 935.6 L828.6 937.6 L831.1 939.3 L833.6 940.9 L836.1 942.5 L838.6 944.2 L841.0 946.1 L843.1 948.3 L845.2 950.9 L847.2 953.6 L849.1 956.4 L851.0 959.3 L852.8 962.1 L854.7 965.0 L856.5 968.0 L858.2 970.9 L859.9 973.9 L861.4 976.9 L862.8 979.9 L864.0 982.8 L865.2 985.7 L866.3 988.8 L867.6 991.9 L868.9 995.2 L870.4 998.7 L871.9 1002.2 L873.5 1005.8 L875.0 1009.5 L876.5 1013.3 L878.0 1017.2 L879.6 1021.3 L881.1 1025.3 L882.6 1029.3 L884.0 1033.0 L885.3 1036.5 L886.4 1039.9 L887.6 1043.1 L888.6 1046.2 L889.7 1049.1 L890.7 1051.7 L891.7 1054.2 L892.6 1056.4 L893.5 1058.5 L894.4 1060.6 L895.3 1062.7 L896.1 1064.7 L896.8 1066.6 L897.6 1068.5 L898.4 1070.5 L899.2 1072.6 L900.1 1075.0 L901.1 1077.7 L902.1 1080.4 L903.2 1082.9 L904.2 1085.1 L905.1 1086.9 L906.0 1088.6 L906.9 1090.0 L907.9 1091.0 L908.9 1091.3 L910.1 1090.7 L911.5 1089.1 L913.0 1086.8 L914.5 1083.9 L916.1 1080.9 L917.6 1077.8 L919.1 1074.7 L920.6 1071.4 L922.2 1068.0 L923.6 1064.4 L925.0 1060.7 L926.2 1057.0 L927.2 1053.1 L928.2 1049.1 L929.1 1045.0 L930.1 1041.1 L931.0 1037.4 L931.9 1033.8 L932.8 1030.4 L933.8 1027.0 L934.8 1023.6 L935.9 1020.2 L937.3 1016.5 L939.0 1012.6 L940.7 1008.7 L942.2 1005.3 L943.4 1002.6 L943.7 1002.0" fill="none" stroke="#a23c3c" stroke-width="0.9"/><path d="M656.0 1140.7L663.3 1148.0L656.0 1155.3L648.7 1148.0Z" fill="#fff" stroke="#a23c3c" stroke-width="1.5"/><path d="M657.9 1135.6L665.2 1142.9L657.9 1150.2L650.6 1142.9Z" fill="#fff" stroke="#a23c3c" stroke-width="1.5"/><path d="M660.1 1129.9L667.4 1137.2L660.1 1144.5L652.8 1137.2Z" fill="#fff" stroke="#a23c3c" stroke-width="1.5"/><path d="M662.7 1123.8L670.0 1131.1L662.7 1138.4L655.4 1131.1Z" fill="#fff" stroke="#a23c3c" stroke-width="1.5"/><path d="M665.8 1117.3L673.1 1124.6L665.8 1131.9L658.5 1124.6Z" fill="#fff" stroke="#a23c3c" stroke-width="1.5"/><path d="M668.9 1110.2L676.2 1117.5L668.9 1124.8L661.6 1117.5Z" fill="#fff" stroke="#a23c3c" stroke-width="1.5"/><path d="M672.0 1102.5L679.3 1109.8L672.0 1117.1L664.7 1109.8Z" fill="#fff" stroke="#a23c3c" stroke-width="1.5"/><path d="M675.5 1094.3L682.8 1101.6L675.5 1108.9L668.2 1101.6Z" fill="#fff" stroke="#a23c3c" stroke-width="1.5"/><path d="M679.6 1085.8L686.9 1093.1L679.6 1100.4L672.3 1093.1Z" fill="#fff" stroke="#a23c3c" stroke-width="1.5"/><path d="M683.8 1076.8L691.1 1084.1L683.8 1091.4L676.5 1084.1Z" fill="#fff" stroke="#a23c3c" stroke-width="1.5"/><path d="M688.1 1067.1L695.4 1074.4L688.1 1081.7L680.8 1074.4Z" fill="#fff" stroke="#a23c3c" stroke-width="1.5"/><path d="M692.4 1056.9L699.7 1064.2L692.4 1071.5L685.1 1064.2Z" fill="#fff" stroke="#a23c3c" stroke-width="1.5"/><path d="M696.7 1046.0L704.0 1053.3L696.7 1060.6L689.4 1053.3Z" fill="#fff" stroke="#a23c3c" stroke-width="1.5"/><path d="M701.2 1034.7L708.5 1042.0L701.2 1049.3L693.9 1042.0Z" fill="#fff" stroke="#a23c3c" stroke-width="1.5"/><path d="M705.9 1022.9L713.2 1030.2L705.9 1037.5L698.6 1030.2Z" fill="#fff" stroke="#a23c3c" stroke-width="1.5"/><path d="M710.8 1010.5L718.1 1017.8L710.8 1025.1L703.5 1017.8Z" fill="#fff" stroke="#a23c3c" stroke-width="1.5"/><path d="M716.2 997.9L723.5 1005.2L716.2 1012.5L708.9 1005.2Z" fill="#fff" stroke="#a23c3c" stroke-width="1.5"/><path d="M722.3 985.2L729.6 992.5L722.3 999.8L715.0 992.5Z" fill="#fff" stroke="#a23c3c" stroke-width="1.5"/><path d="M728.1 971.9L735.4 979.2L728.1 986.5L720.8 979.2Z" fill="#fff" stroke="#a23c3c" stroke-width="1.5"/><path d="M734.8 958.6L742.1 965.9L734.8 973.2L727.5 965.9Z" fill="#fff" stroke="#a23c3c" stroke-width="1.5"/><path d="M743.6 946.3L750.9 953.6L743.6 960.9L736.3 953.6Z" fill="#fff" stroke="#a23c3c" stroke-width="1.5"/><path d="M754.3 935.5L761.6 942.8L754.3 950.1L747.0 942.8Z" fill="#fff" stroke="#a23c3c" stroke-width="1.5"/><path d="M766.3 925.7L773.6 933.0L766.3 940.3L759.0 933.0Z" fill="#fff" stroke="#a23c3c" stroke-width="1.5"/><path d="M779.8 918.2L787.1 925.5L779.8 932.8L772.5 925.5Z" fill="#fff" stroke="#a23c3c" stroke-width="1.5"/><path d="M794.8 916.6L802.1 923.9L794.8 931.2L787.5 923.9Z" fill="#fff" stroke="#a23c3c" stroke-width="1.5"/><path d="M809.9 918.7L817.2 926.0L809.9 933.3L802.6 926.0Z" fill="#fff" stroke="#a23c3c" stroke-width="1.5"/><path d="M822.9 925.4L830.2 932.7L822.9 940.0L815.6 932.7Z" fill="#fff" stroke="#a23c3c" stroke-width="1.5"/><path d="M834.7 934.3L842.0 941.6L834.7 948.9L827.4 941.6Z" fill="#fff" stroke="#a23c3c" stroke-width="1.5"/><path d="M845.5 943.9L852.8 951.2L845.5 958.5L838.2 951.2Z" fill="#fff" stroke="#a23c3c" stroke-width="1.5"/><path d="M853.3 955.7L860.6 963.0L853.3 970.3L846.0 963.0Z" fill="#fff" stroke="#a23c3c" stroke-width="1.5"/><path d="M860.3 967.5L867.6 974.8L860.3 982.1L853.0 974.8Z" fill="#fff" stroke="#a23c3c" stroke-width="1.5"/><path d="M865.6 979.5L872.9 986.8L865.6 994.1L858.3 986.8Z" fill="#fff" stroke="#a23c3c" stroke-width="1.5"/><path d="M870.4 991.3L877.7 998.6L870.4 1005.9L863.1 998.6Z" fill="#fff" stroke="#a23c3c" stroke-width="1.5"/><path d="M875.1 1002.5L882.4 1009.8L875.1 1017.1L867.8 1009.8Z" fill="#fff" stroke="#a23c3c" stroke-width="1.5"/><path d="M879.3 1013.2L886.6 1020.5L879.3 1027.8L872.0 1020.5Z" fill="#fff" stroke="#a23c3c" stroke-width="1.5"/><path d="M883.2 1023.5L890.5 1030.8L883.2 1038.1L875.9 1030.8Z" fill="#fff" stroke="#a23c3c" stroke-width="1.5"/><path d="M886.7 1033.2L894.0 1040.5L886.7 1047.8L879.4 1040.5Z" fill="#fff" stroke="#a23c3c" stroke-width="1.5"/><path d="M889.9 1042.4L897.2 1049.7L889.9 1057.0L882.6 1049.7Z" fill="#fff" stroke="#a23c3c" stroke-width="1.5"/><path d="M893.4 1050.9L900.7 1058.2L893.4 1065.5L886.1 1058.2Z" fill="#fff" stroke="#a23c3c" stroke-width="1.5"/><path d="M896.7 1058.9L904.0 1066.2L896.7 1073.5L889.4 1066.2Z" fill="#fff" stroke="#a23c3c" stroke-width="1.5"/><path d="M899.6 1066.3L906.9 1073.6L899.6 1080.9L892.3 1073.6Z" fill="#fff" stroke="#a23c3c" stroke-width="1.5"/><path d="M902.2 1073.2L909.5 1080.5L902.2 1087.8L894.9 1080.5Z" fill="#fff" stroke="#a23c3c" stroke-width="1.5"/><path d="M905.0 1079.4L912.3 1086.7L905.0 1094.0L897.7 1086.7Z" fill="#fff" stroke="#a23c3c" stroke-width="1.5"/><path d="M908.8 1084.0L916.1 1091.3L908.8 1098.6L901.5 1091.3Z" fill="#fff" stroke="#a23c3c" stroke-width="1.5"/><path d="M912.5 1080.2L919.8 1087.5L912.5 1094.8L905.2 1087.5Z" fill="#fff" stroke="#a23c3c" stroke-width="1.5"/><path d="M915.9 1073.9L923.2 1081.2L915.9 1088.5L908.6 1081.2Z" fill="#fff" stroke="#a23c3c" stroke-width="1.5"/><path d="M919.4 1066.9L926.7 1074.2L919.4 1081.5L912.1 1074.2Z" fill="#fff" stroke="#a23c3c" stroke-width="1.5"/><path d="M922.8 1059.1L930.1 1066.4L922.8 1073.7L915.5 1066.4Z" fill="#fff" stroke="#a23c3c" stroke-width="1.5"/><path d="M925.9 1050.5L933.2 1057.8L925.9 1065.1L918.6 1057.8Z" fill="#fff" stroke="#a23c3c" stroke-width="1.5"/><path d="M928.4 1040.8L935.7 1048.1L928.4 1055.4L921.1 1048.1Z" fill="#fff" stroke="#a23c3c" stroke-width="1.5"/><path d="M931.0 1030.3L938.3 1037.6L931.0 1044.9L923.7 1037.6Z" fill="#fff" stroke="#a23c3c" stroke-width="1.5"/><path d="M934.0 1018.9L941.3 1026.2L934.0 1033.5L926.7 1026.2Z" fill="#fff" stroke="#a23c3c" stroke-width="1.5"/><path d="M938.3 1006.9L945.6 1014.2L938.3 1021.5L931.0 1014.2Z" fill="#fff" stroke="#a23c3c" stroke-width="1.5"/><path d="M943.7 994.7L951.0 1002.0L943.7 1009.3L936.4 1002.0Z" fill="#fff" stroke="#a23c3c" stroke-width="1.5"/></g><g clip-path="url(#cd)"><path d="M656.0 1145.0 L656.6 1143.8 L657.4 1142.3 L658.4 1140.4 L659.5 1138.2 L660.6 1135.8 L661.8 1133.2 L663.0 1130.3 L664.3 1127.1 L665.7 1123.8 L667.1 1120.3 L668.5 1116.8 L669.9 1113.2 L671.4 1109.5 L672.9 1105.6 L674.4 1101.8 L676.0 1098.0 L677.6 1094.2 L679.3 1090.5 L681.0 1086.8 L682.7 1083.0 L684.4 1079.2 L686.1 1075.5 L687.8 1071.8 L689.5 1068.0 L691.2 1064.2 L692.9 1060.5 L694.6 1056.7 L696.2 1053.0 L697.9 1049.1 L699.6 1045.4 L701.3 1041.6 L703.0 1038.0 L704.8 1034.5 L706.5 1031.2 L708.3 1027.9 L710.2 1024.6 L712.3 1021.2 L714.5 1017.6 L716.9 1013.7 L719.5 1009.8 L722.1 1005.9 L724.8 1002.3 L727.6 998.9 L730.6 995.7 L733.6 992.7 L736.7 989.9 L739.9 987.3 L743.0 985.0 L746.1 983.0 L749.3 981.2 L752.5 979.7 L755.7 978.4 L758.9 977.3 L762.1 976.4 L765.3 975.7 L768.6 975.2 L771.8 974.9 L774.9 974.9 L778.0 975.1 L781.0 975.5 L784.0 976.2 L787.0 977.2 L790.0 978.4 L793.0 980.0 L796.2 982.0 L799.5 984.4 L802.8 987.1 L806.0 990.0 L809.0 993.0 L811.9 996.1 L814.5 999.3 L817.1 1002.8 L819.5 1006.3 L821.8 1010.0 L824.0 1013.6 L826.1 1017.4 L828.1 1021.4 L830.0 1025.3 L831.9 1029.3 L833.8 1033.3 L835.8 1037.2 L837.8 1041.2 L839.8 1045.1 L841.8 1049.1 L843.6 1053.0 L845.3 1057.0 L846.9 1061.0 L848.3 1065.1 L849.7 1069.0 L851.1 1072.8 L852.6 1076.3 L854.1 1079.8 L855.6 1083.0 L857.0 1086.1 L858.5 1088.8 L860.0 1091.0 L861.5 1092.9 L862.9 1094.4 L864.4 1095.6 L865.8 1096.3 L867.3 1096.3 L868.8 1095.7 L870.4 1094.3 L871.9 1092.3 L873.4 1089.9 L874.8 1087.4 L876.1 1084.9 L877.2 1082.2 L878.2 1079.3 L879.1 1076.3 L880.0 1073.2 L880.9 1070.0 L881.9 1066.8 L882.8 1063.4 L883.7 1060.0 L884.7 1056.5 L885.7 1052.8 L886.9 1049.0 L888.1 1045.0 L889.3 1040.8 L890.6 1036.6 L892.0 1032.5 L893.5 1028.8 L895.1 1025.0 L896.9 1021.4 L898.7 1017.9 L900.3 1014.9 L901.8 1012.4 L903.1 1010.6 L904.3 1009.2 L905.3 1008.3 L906.2 1007.7 L906.9 1007.2 L907.1 1007.0" fill="none" stroke="#ff30ff" stroke-width="0.9"/><path d="M656.0 1139.4L662.2 1150.6L649.8 1150.6Z" fill="#fff" stroke="#ff30ff" stroke-width="1.5" stroke-linejoin="miter"/><path d="M657.9 1135.7L664.1 1146.9L651.7 1146.9Z" fill="#fff" stroke="#ff30ff" stroke-width="1.5" stroke-linejoin="miter"/><path d="M660.0 1131.5L666.2 1142.7L653.8 1142.7Z" fill="#fff" stroke="#ff30ff" stroke-width="1.5" stroke-linejoin="miter"/><path d="M662.1 1126.8L668.3 1138.0L655.9 1138.0Z" fill="#fff" stroke="#ff30ff" stroke-width="1.5" stroke-linejoin="miter"/><path d="M664.3 1121.7L670.5 1132.9L658.1 1132.9Z" fill="#fff" stroke="#ff30ff" stroke-width="1.5" stroke-linejoin="miter"/><path d="M666.5 1116.1L672.7 1127.3L660.3 1127.3Z" fill="#fff" stroke="#ff30ff" stroke-width="1.5" stroke-linejoin="miter"/><path d="M668.9 1110.2L675.1 1121.4L662.7 1121.4Z" fill="#fff" stroke="#ff30ff" stroke-width="1.5" stroke-linejoin="miter"/><path d="M671.4 1103.8L677.6 1115.0L665.2 1115.0Z" fill="#fff" stroke="#ff30ff" stroke-width="1.5" stroke-linejoin="miter"/><path d="M674.1 1097.1L680.3 1108.3L667.9 1108.3Z" fill="#fff" stroke="#ff30ff" stroke-width="1.5" stroke-linejoin="miter"/><path d="M677.1 1090.0L683.3 1101.2L670.9 1101.2Z" fill="#fff" stroke="#ff30ff" stroke-width="1.5" stroke-linejoin="miter"/><path d="M680.4 1082.5L686.6 1093.7L674.2 1093.7Z" fill="#fff" stroke="#ff30ff" stroke-width="1.5" stroke-linejoin="miter"/><path d="M683.9 1074.7L690.1 1085.9L677.7 1085.9Z" fill="#fff" stroke="#ff30ff" stroke-width="1.5" stroke-linejoin="miter"/><path d="M687.6 1066.5L693.8 1077.7L681.4 1077.7Z" fill="#fff" stroke="#ff30ff" stroke-width="1.5" stroke-linejoin="miter"/><path d="M691.5 1057.9L697.7 1069.1L685.3 1069.1Z" fill="#fff" stroke="#ff30ff" stroke-width="1.5" stroke-linejoin="miter"/><path d="M695.5 1049.0L701.7 1060.2L689.3 1060.2Z" fill="#fff" stroke="#ff30ff" stroke-width="1.5" stroke-linejoin="miter"/><path d="M699.6 1039.6L705.8 1050.8L693.4 1050.8Z" fill="#fff" stroke="#ff30ff" stroke-width="1.5" stroke-linejoin="miter"/><path d="M704.2 1030.1L710.4 1041.3L698.0 1041.3Z" fill="#fff" stroke="#ff30ff" stroke-width="1.5" stroke-linejoin="miter"/><path d="M709.4 1020.5L715.6 1031.7L703.2 1031.7Z" fill="#fff" stroke="#ff30ff" stroke-width="1.5" stroke-linejoin="miter"/><path d="M715.2 1010.9L721.4 1022.1L709.0 1022.1Z" fill="#fff" stroke="#ff30ff" stroke-width="1.5" stroke-linejoin="miter"/><path d="M721.4 1001.3L727.6 1012.5L715.2 1012.5Z" fill="#fff" stroke="#ff30ff" stroke-width="1.5" stroke-linejoin="miter"/><path d="M728.7 992.2L734.9 1003.4L722.5 1003.4Z" fill="#fff" stroke="#ff30ff" stroke-width="1.5" stroke-linejoin="miter"/><path d="M737.1 984.0L743.3 995.2L730.9 995.2Z" fill="#fff" stroke="#ff30ff" stroke-width="1.5" stroke-linejoin="miter"/><path d="M746.7 977.0L752.9 988.2L740.5 988.2Z" fill="#fff" stroke="#ff30ff" stroke-width="1.5" stroke-linejoin="miter"/><path d="M757.6 972.2L763.8 983.4L751.4 983.4Z" fill="#fff" stroke="#ff30ff" stroke-width="1.5" stroke-linejoin="miter"/><path d="M769.2 969.5L775.4 980.7L763.0 980.7Z" fill="#fff" stroke="#ff30ff" stroke-width="1.5" stroke-linejoin="miter"/><path d="M780.9 969.9L787.1 981.1L774.7 981.1Z" fill="#fff" stroke="#ff30ff" stroke-width="1.5" stroke-linejoin="miter"/><path d="M791.9 973.8L798.1 985.0L785.7 985.0Z" fill="#fff" stroke="#ff30ff" stroke-width="1.5" stroke-linejoin="miter"/><path d="M801.3 980.3L807.5 991.5L795.1 991.5Z" fill="#fff" stroke="#ff30ff" stroke-width="1.5" stroke-linejoin="miter"/><path d="M809.5 987.9L815.7 999.1L803.3 999.1Z" fill="#fff" stroke="#ff30ff" stroke-width="1.5" stroke-linejoin="miter"/><path d="M816.4 996.3L822.6 1007.5L810.2 1007.5Z" fill="#fff" stroke="#ff30ff" stroke-width="1.5" stroke-linejoin="miter"/><path d="M822.3 1005.1L828.5 1016.3L816.1 1016.3Z" fill="#fff" stroke="#ff30ff" stroke-width="1.5" stroke-linejoin="miter"/><path d="M827.2 1014.0L833.4 1025.2L821.0 1025.2Z" fill="#fff" stroke="#ff30ff" stroke-width="1.5" stroke-linejoin="miter"/><path d="M831.4 1022.8L837.6 1034.0L825.2 1034.0Z" fill="#fff" stroke="#ff30ff" stroke-width="1.5" stroke-linejoin="miter"/><path d="M835.6 1031.2L841.8 1042.4L829.4 1042.4Z" fill="#fff" stroke="#ff30ff" stroke-width="1.5" stroke-linejoin="miter"/><path d="M839.6 1039.1L845.8 1050.3L833.4 1050.3Z" fill="#fff" stroke="#ff30ff" stroke-width="1.5" stroke-linejoin="miter"/><path d="M843.3 1046.7L849.5 1057.9L837.1 1057.9Z" fill="#fff" stroke="#ff30ff" stroke-width="1.5" stroke-linejoin="miter"/><path d="M846.4 1054.1L852.6 1065.3L840.2 1065.3Z" fill="#fff" stroke="#ff30ff" stroke-width="1.5" stroke-linejoin="miter"/><path d="M848.9 1061.2L855.1 1072.4L842.7 1072.4Z" fill="#fff" stroke="#ff30ff" stroke-width="1.5" stroke-linejoin="miter"/><path d="M851.4 1067.8L857.6 1079.0L845.2 1079.0Z" fill="#fff" stroke="#ff30ff" stroke-width="1.5" stroke-linejoin="miter"/><path d="M854.0 1073.9L860.2 1085.1L847.8 1085.1Z" fill="#fff" stroke="#ff30ff" stroke-width="1.5" stroke-linejoin="miter"/><path d="M856.6 1079.5L862.8 1090.7L850.4 1090.7Z" fill="#fff" stroke="#ff30ff" stroke-width="1.5" stroke-linejoin="miter"/><path d="M859.3 1084.5L865.5 1095.7L853.1 1095.7Z" fill="#fff" stroke="#ff30ff" stroke-width="1.5" stroke-linejoin="miter"/><path d="M862.6 1088.5L868.8 1099.7L856.4 1099.7Z" fill="#fff" stroke="#ff30ff" stroke-width="1.5" stroke-linejoin="miter"/><path d="M866.7 1090.8L872.9 1102.0L860.5 1102.0Z" fill="#fff" stroke="#ff30ff" stroke-width="1.5" stroke-linejoin="miter"/><path d="M870.3 1088.8L876.5 1100.0L864.1 1100.0Z" fill="#fff" stroke="#ff30ff" stroke-width="1.5" stroke-linejoin="miter"/><path d="M873.5 1084.2L879.7 1095.4L867.3 1095.4Z" fill="#fff" stroke="#ff30ff" stroke-width="1.5" stroke-linejoin="miter"/><path d="M876.3 1078.8L882.5 1090.0L870.1 1090.0Z" fill="#fff" stroke="#ff30ff" stroke-width="1.5" stroke-linejoin="miter"/><path d="M878.4 1072.8L884.6 1084.0L872.2 1084.0Z" fill="#fff" stroke="#ff30ff" stroke-width="1.5" stroke-linejoin="miter"/><path d="M880.3 1066.3L886.5 1077.5L874.1 1077.5Z" fill="#fff" stroke="#ff30ff" stroke-width="1.5" stroke-linejoin="miter"/><path d="M882.4 1059.3L888.6 1070.5L876.2 1070.5Z" fill="#fff" stroke="#ff30ff" stroke-width="1.5" stroke-linejoin="miter"/><path d="M884.4 1051.8L890.6 1063.0L878.2 1063.0Z" fill="#fff" stroke="#ff30ff" stroke-width="1.5" stroke-linejoin="miter"/><path d="M886.7 1043.9L892.9 1055.1L880.5 1055.1Z" fill="#fff" stroke="#ff30ff" stroke-width="1.5" stroke-linejoin="miter"/><path d="M889.2 1035.5L895.4 1046.7L883.0 1046.7Z" fill="#fff" stroke="#ff30ff" stroke-width="1.5" stroke-linejoin="miter"/><path d="M892.2 1026.6L898.4 1037.8L886.0 1037.8Z" fill="#fff" stroke="#ff30ff" stroke-width="1.5" stroke-linejoin="miter"/><path d="M896.1 1017.4L902.3 1028.6L889.9 1028.6Z" fill="#fff" stroke="#ff30ff" stroke-width="1.5" stroke-linejoin="miter"/><path d="M901.1 1008.0L907.3 1019.2L894.9 1019.2Z" fill="#fff" stroke="#ff30ff" stroke-width="1.5" stroke-linejoin="miter"/><path d="M907.1 1001.4L913.3 1012.6L900.9 1012.6Z" fill="#fff" stroke="#ff30ff" stroke-width="1.5" stroke-linejoin="miter"/></g><g clip-path="url(#cd)"><path d="M655.7 1140.7 L656.2 1139.6 L656.9 1138.1 L657.8 1136.3 L658.7 1134.4 L659.7 1132.6 L660.7 1130.9 L661.8 1129.3 L662.9 1127.7 L664.2 1125.9 L665.4 1123.9 L666.6 1121.4 L667.8 1118.5 L669.1 1115.2 L670.3 1111.8 L671.6 1108.3 L673.0 1105.0 L674.4 1101.8 L675.9 1098.6 L677.4 1095.5 L678.9 1092.3 L680.5 1089.1 L682.1 1085.8 L683.7 1082.5 L685.5 1079.2 L687.1 1075.8 L688.8 1072.4 L690.3 1068.8 L691.7 1065.1 L693.0 1061.4 L694.3 1057.6 L695.6 1053.8 L697.0 1050.0 L698.5 1046.2 L699.9 1042.5 L701.5 1038.8 L703.0 1035.0 L704.5 1031.2 L706.0 1027.5 L707.5 1023.6 L708.9 1019.8 L710.4 1016.0 L712.0 1012.4 L713.5 1008.8 L715.2 1005.4 L716.8 1002.1 L718.5 999.0 L720.2 995.9 L722.0 993.0 L723.8 990.3 L725.5 987.8 L727.4 985.4 L729.3 983.1 L731.3 980.8 L733.5 978.4 L735.8 975.9 L738.3 973.5 L740.8 971.2 L743.3 969.2 L745.8 967.5 L748.4 966.2 L751.1 965.2 L753.7 964.5 L756.3 963.7 L758.7 963.0 L761.0 962.2 L763.1 961.4 L765.2 960.7 L767.2 960.1 L769.3 959.6 L771.4 959.3 L773.6 959.1 L775.8 959.1 L778.0 959.1 L780.2 959.3 L782.3 959.6 L784.5 960.1 L786.7 960.8 L788.8 961.5 L790.9 962.3 L793.0 963.0 L795.0 963.5 L797.0 963.9 L798.9 964.3 L800.8 964.9 L802.8 965.9 L804.7 967.4 L806.7 969.3 L808.7 971.6 L810.7 974.0 L812.5 976.4 L814.3 978.5 L815.9 980.3 L817.4 982.0 L818.9 983.7 L820.3 985.7 L821.7 988.0 L823.1 990.7 L824.5 993.7 L825.9 997.0 L827.2 1000.4 L828.6 1003.8 L829.9 1007.3 L831.2 1011.0 L832.5 1014.7 L833.8 1018.5 L835.1 1022.4 L836.4 1026.3 L837.8 1030.4 L839.1 1034.5 L840.4 1038.7 L841.7 1042.9 L843.0 1047.0 L844.3 1051.1 L845.6 1055.1 L846.9 1059.1 L848.2 1063.1 L849.6 1066.8 L850.9 1070.4 L852.2 1073.9 L853.5 1077.3 L854.8 1080.5 L856.1 1083.3 L857.4 1085.8 L858.8 1087.9 L860.1 1089.8 L861.4 1091.3 L862.7 1092.4 L864.0 1093.0 L865.2 1093.0 L866.3 1092.4 L867.4 1091.4 L868.5 1090.1 L869.6 1088.6 L870.8 1086.8 L871.9 1084.7 L873.0 1082.2 L874.1 1079.6 L875.2 1076.9 L876.4 1074.1 L877.5 1071.1 L878.6 1067.9 L879.7 1064.7 L880.8 1061.4 L882.0 1058.0 L883.3 1054.5 L884.6 1050.8 L885.9 1047.1 L887.2 1043.5 L888.6 1040.1 L889.9 1036.9 L891.2 1033.9 L892.5 1031.1 L893.8 1028.3 L895.1 1025.7 L896.4 1023.2 L897.8 1020.6 L899.1 1018.2 L900.4 1015.9 L901.7 1013.8 L903.0 1012.0 L904.4 1010.4 L905.9 1009.0 L907.4 1007.9 L908.7 1006.9 L909.8 1006.2 L910.0 1006.0" fill="none" stroke="#ff30ff" stroke-width="0.9"/><path d="M655.7 1135.1L661.9 1146.3L649.5 1146.3Z" fill="#fff" stroke="#ff30ff" stroke-width="1.5" stroke-linejoin="miter"/><path d="M657.6 1131.1L663.8 1142.3L651.4 1142.3Z" fill="#fff" stroke="#ff30ff" stroke-width="1.5" stroke-linejoin="miter"/><path d="M659.9 1126.7L666.1 1137.9L653.7 1137.9Z" fill="#fff" stroke="#ff30ff" stroke-width="1.5" stroke-linejoin="miter"/><path d="M662.9 1122.1L669.1 1133.3L656.7 1133.3Z" fill="#fff" stroke="#ff30ff" stroke-width="1.5" stroke-linejoin="miter"/><path d="M666.0 1117.1L672.2 1128.3L659.8 1128.3Z" fill="#fff" stroke="#ff30ff" stroke-width="1.5" stroke-linejoin="miter"/><path d="M668.5 1111.3L674.7 1122.5L662.3 1122.5Z" fill="#fff" stroke="#ff30ff" stroke-width="1.5" stroke-linejoin="miter"/><path d="M670.8 1104.9L677.0 1116.1L664.6 1116.1Z" fill="#fff" stroke="#ff30ff" stroke-width="1.5" stroke-linejoin="miter"/><path d="M673.5 1098.2L679.7 1109.4L667.3 1109.4Z" fill="#fff" stroke="#ff30ff" stroke-width="1.5" stroke-linejoin="miter"/><path d="M676.8 1091.2L683.0 1102.4L670.6 1102.4Z" fill="#fff" stroke="#ff30ff" stroke-width="1.5" stroke-linejoin="miter"/><path d="M680.3 1083.8L686.5 1095.0L674.1 1095.0Z" fill="#fff" stroke="#ff30ff" stroke-width="1.5" stroke-linejoin="miter"/><path d="M684.2 1076.1L690.4 1087.3L678.0 1087.3Z" fill="#fff" stroke="#ff30ff" stroke-width="1.5" stroke-linejoin="miter"/><path d="M688.2 1068.0L694.4 1079.2L682.0 1079.2Z" fill="#fff" stroke="#ff30ff" stroke-width="1.5" stroke-linejoin="miter"/><path d="M691.8 1059.1L698.0 1070.3L685.6 1070.3Z" fill="#fff" stroke="#ff30ff" stroke-width="1.5" stroke-linejoin="miter"/><path d="M695.1 1049.7L701.3 1060.9L688.9 1060.9Z" fill="#fff" stroke="#ff30ff" stroke-width="1.5" stroke-linejoin="miter"/><path d="M698.7 1039.9L704.9 1051.1L692.5 1051.1Z" fill="#fff" stroke="#ff30ff" stroke-width="1.5" stroke-linejoin="miter"/><path d="M702.8 1029.9L709.0 1041.1L696.6 1041.1Z" fill="#fff" stroke="#ff30ff" stroke-width="1.5" stroke-linejoin="miter"/><path d="M706.9 1019.5L713.1 1030.7L700.7 1030.7Z" fill="#fff" stroke="#ff30ff" stroke-width="1.5" stroke-linejoin="miter"/><path d="M711.1 1008.7L717.3 1019.9L704.9 1019.9Z" fill="#fff" stroke="#ff30ff" stroke-width="1.5" stroke-linejoin="miter"/><path d="M716.1 997.9L722.3 1009.1L709.9 1009.1Z" fill="#fff" stroke="#ff30ff" stroke-width="1.5" stroke-linejoin="miter"/><path d="M722.1 987.3L728.3 998.5L715.9 998.5Z" fill="#fff" stroke="#ff30ff" stroke-width="1.5" stroke-linejoin="miter"/><path d="M729.4 977.4L735.6 988.6L723.2 988.6Z" fill="#fff" stroke="#ff30ff" stroke-width="1.5" stroke-linejoin="miter"/><path d="M737.9 968.2L744.1 979.4L731.7 979.4Z" fill="#fff" stroke="#ff30ff" stroke-width="1.5" stroke-linejoin="miter"/><path d="M748.0 960.8L754.2 972.0L741.8 972.0Z" fill="#fff" stroke="#ff30ff" stroke-width="1.5" stroke-linejoin="miter"/><path d="M760.1 956.9L766.3 968.1L753.9 968.1Z" fill="#fff" stroke="#ff30ff" stroke-width="1.5" stroke-linejoin="miter"/><path d="M772.2 953.6L778.4 964.8L766.0 964.8Z" fill="#fff" stroke="#ff30ff" stroke-width="1.5" stroke-linejoin="miter"/><path d="M784.6 954.6L790.8 965.8L778.4 965.8Z" fill="#fff" stroke="#ff30ff" stroke-width="1.5" stroke-linejoin="miter"/><path d="M796.4 958.2L802.6 969.4L790.2 969.4Z" fill="#fff" stroke="#ff30ff" stroke-width="1.5" stroke-linejoin="miter"/><path d="M806.8 963.9L813.0 975.1L800.6 975.1Z" fill="#fff" stroke="#ff30ff" stroke-width="1.5" stroke-linejoin="miter"/><path d="M814.4 973.0L820.6 984.2L808.2 984.2Z" fill="#fff" stroke="#ff30ff" stroke-width="1.5" stroke-linejoin="miter"/><path d="M821.5 982.1L827.7 993.3L815.3 993.3Z" fill="#fff" stroke="#ff30ff" stroke-width="1.5" stroke-linejoin="miter"/><path d="M826.2 992.2L832.4 1003.4L820.0 1003.4Z" fill="#fff" stroke="#ff30ff" stroke-width="1.5" stroke-linejoin="miter"/><path d="M830.1 1002.3L836.3 1013.5L823.9 1013.5Z" fill="#fff" stroke="#ff30ff" stroke-width="1.5" stroke-linejoin="miter"/><path d="M833.5 1012.1L839.7 1023.3L827.3 1023.3Z" fill="#fff" stroke="#ff30ff" stroke-width="1.5" stroke-linejoin="miter"/><path d="M836.7 1021.5L842.9 1032.7L830.5 1032.7Z" fill="#fff" stroke="#ff30ff" stroke-width="1.5" stroke-linejoin="miter"/><path d="M839.5 1030.5L845.7 1041.7L833.3 1041.7Z" fill="#fff" stroke="#ff30ff" stroke-width="1.5" stroke-linejoin="miter"/><path d="M842.2 1039.0L848.4 1050.2L836.0 1050.2Z" fill="#fff" stroke="#ff30ff" stroke-width="1.5" stroke-linejoin="miter"/><path d="M844.8 1047.1L851.0 1058.3L838.6 1058.3Z" fill="#fff" stroke="#ff30ff" stroke-width="1.5" stroke-linejoin="miter"/><path d="M847.3 1054.7L853.5 1065.9L841.1 1065.9Z" fill="#fff" stroke="#ff30ff" stroke-width="1.5" stroke-linejoin="miter"/><path d="M849.8 1061.8L856.0 1073.0L843.6 1073.0Z" fill="#fff" stroke="#ff30ff" stroke-width="1.5" stroke-linejoin="miter"/><path d="M852.2 1068.4L858.4 1079.6L846.0 1079.6Z" fill="#fff" stroke="#ff30ff" stroke-width="1.5" stroke-linejoin="miter"/><path d="M854.6 1074.4L860.8 1085.6L848.4 1085.6Z" fill="#fff" stroke="#ff30ff" stroke-width="1.5" stroke-linejoin="miter"/><path d="M857.3 1079.9L863.5 1091.1L851.1 1091.1Z" fill="#fff" stroke="#ff30ff" stroke-width="1.5" stroke-linejoin="miter"/><path d="M860.3 1084.5L866.5 1095.7L854.1 1095.7Z" fill="#fff" stroke="#ff30ff" stroke-width="1.5" stroke-linejoin="miter"/><path d="M864.3 1087.4L870.5 1098.6L858.1 1098.6Z" fill="#fff" stroke="#ff30ff" stroke-width="1.5" stroke-linejoin="miter"/><path d="M868.0 1085.2L874.2 1096.4L861.8 1096.4Z" fill="#fff" stroke="#ff30ff" stroke-width="1.5" stroke-linejoin="miter"/><path d="M871.3 1080.2L877.5 1091.4L865.1 1091.4Z" fill="#fff" stroke="#ff30ff" stroke-width="1.5" stroke-linejoin="miter"/><path d="M874.0 1074.4L880.2 1085.6L867.8 1085.6Z" fill="#fff" stroke="#ff30ff" stroke-width="1.5" stroke-linejoin="miter"/><path d="M876.5 1068.1L882.7 1079.3L870.3 1079.3Z" fill="#fff" stroke="#ff30ff" stroke-width="1.5" stroke-linejoin="miter"/><path d="M879.0 1061.2L885.2 1072.4L872.8 1072.4Z" fill="#fff" stroke="#ff30ff" stroke-width="1.5" stroke-linejoin="miter"/><path d="M881.5 1053.7L887.7 1064.9L875.3 1064.9Z" fill="#fff" stroke="#ff30ff" stroke-width="1.5" stroke-linejoin="miter"/><path d="M884.3 1045.9L890.5 1057.1L878.1 1057.1Z" fill="#fff" stroke="#ff30ff" stroke-width="1.5" stroke-linejoin="miter"/><path d="M887.4 1037.4L893.6 1048.6L881.2 1048.6Z" fill="#fff" stroke="#ff30ff" stroke-width="1.5" stroke-linejoin="miter"/><path d="M891.1 1028.6L897.3 1039.8L884.9 1039.8Z" fill="#fff" stroke="#ff30ff" stroke-width="1.5" stroke-linejoin="miter"/><path d="M895.5 1019.3L901.7 1030.5L889.3 1030.5Z" fill="#fff" stroke="#ff30ff" stroke-width="1.5" stroke-linejoin="miter"/><path d="M900.8 1009.7L907.0 1020.9L894.6 1020.9Z" fill="#fff" stroke="#ff30ff" stroke-width="1.5" stroke-linejoin="miter"/><path d="M908.8 1001.3L915.0 1012.5L902.6 1012.5Z" fill="#fff" stroke="#ff30ff" stroke-width="1.5" stroke-linejoin="miter"/></g><g clip-path="url(#cb)"><path d="M645.0 318.0 L645.1 323.4 L645.2 331.2 L645.3 340.2 L645.4 349.4 L645.5 357.6 L645.5 364.3 L645.5 370.3 L645.5 375.8 L645.6 381.0 L645.8 386.3 L646.2 391.9 L646.7 397.6 L647.4 403.4 L648.2 409.1 L649.1 414.7 L650.0 420.0 L651.0 425.0 L652.0 429.8 L653.1 434.5 L654.3 439.0 L655.6 443.5 L656.9 448.0 L658.3 452.3 L659.7 456.6 L661.2 460.8 L662.8 465.1 L664.6 469.5 L666.6 474.1 L668.7 478.9 L670.8 483.5 L673.0 488.0 L675.0 492.0 L676.9 495.6 L678.8 498.8 L680.7 501.7 L682.5 504.5 L684.4 507.1 L686.2 509.6 L688.0 511.5 L689.7 513.2 L691.5 515.2 L693.5 517.8 L695.8 521.3 L698.0 525.9 L700.4 531.1 L703.1 536.8 L706.2 542.5 L710.0 548.0 L714.4 553.2 L719.3 558.2 L724.7 563.3 L730.7 568.6 L737.5 574.1 L745.4 580.1 L754.6 586.7 L764.5 593.5 L774.6 600.2 L784.2 606.4 L792.8 611.7 L801.2 616.5 L809.5 620.8 L817.1 624.6 L823.4 627.7 L828.0 630.0 L828.0 630.0" fill="none" stroke="#000000" stroke-width="0.9"/><rect x="640.2" y="313.2" width="9.6" height="9.6" fill="#000000"/><rect x="640.2" y="316.8" width="9.6" height="9.6" fill="#000000"/><rect x="640.3" y="320.4" width="9.6" height="9.6" fill="#000000"/><rect x="640.3" y="324.0" width="9.6" height="9.6" fill="#000000"/><rect x="640.4" y="327.6" width="9.6" height="9.6" fill="#000000"/><rect x="640.4" y="331.2" width="9.6" height="9.6" fill="#000000"/><rect x="640.4" y="334.8" width="9.6" height="9.6" fill="#000000"/><rect x="640.5" y="338.4" width="9.6" height="9.6" fill="#000000"/><rect x="640.5" y="342.0" width="9.6" height="9.6" fill="#000000"/><rect x="640.6" y="345.6" width="9.6" height="9.6" fill="#000000"/><rect x="640.6" y="349.2" width="9.6" height="9.6" fill="#000000"/><rect x="640.7" y="352.8" width="9.6" height="9.6" fill="#000000"/><rect x="640.7" y="356.4" width="9.6" height="9.6" fill="#000000"/><rect x="640.7" y="360.0" width="9.6" height="9.6" fill="#000000"/><rect x="640.7" y="363.6" width="9.6" height="9.6" fill="#000000"/><rect x="640.7" y="367.2" width="9.6" height="9.6" fill="#000000"/><rect x="640.7" y="370.8" width="9.6" height="9.6" fill="#000000"/><rect x="640.8" y="374.4" width="9.6" height="9.6" fill="#000000"/><rect x="640.8" y="378.0" width="9.6" height="9.6" fill="#000000"/><rect x="641.0" y="381.6" width="9.6" height="9.6" fill="#000000"/><rect x="641.2" y="385.2" width="9.6" height="9.6" fill="#000000"/><rect x="641.5" y="388.8" width="9.6" height="9.6" fill="#000000"/><rect x="641.9" y="392.4" width="9.6" height="9.6" fill="#000000"/><rect x="642.3" y="395.9" width="9.6" height="9.6" fill="#000000"/><rect x="642.7" y="399.5" width="9.6" height="9.6" fill="#000000"/><rect x="643.2" y="403.1" width="9.6" height="9.6" fill="#000000"/><rect x="643.8" y="406.6" width="9.6" height="9.6" fill="#000000"/><rect x="644.3" y="410.2" width="9.6" height="9.6" fill="#000000"/><rect x="644.9" y="413.7" width="9.6" height="9.6" fill="#000000"/><rect x="645.6" y="417.3" width="9.6" height="9.6" fill="#000000"/><rect x="646.3" y="420.8" width="9.6" height="9.6" fill="#000000"/><rect x="647.1" y="424.3" width="9.6" height="9.6" fill="#000000"/><rect x="647.9" y="427.8" width="9.6" height="9.6" fill="#000000"/><rect x="648.7" y="431.3" width="9.6" height="9.6" fill="#000000"/><rect x="649.7" y="434.8" width="9.6" height="9.6" fill="#000000"/><rect x="650.6" y="438.3" width="9.6" height="9.6" fill="#000000"/><rect x="651.6" y="441.7" width="9.6" height="9.6" fill="#000000"/><rect x="652.7" y="445.2" width="9.6" height="9.6" fill="#000000"/><rect x="653.8" y="448.6" width="9.6" height="9.6" fill="#000000"/><rect x="655.0" y="452.0" width="9.6" height="9.6" fill="#000000"/><rect x="656.2" y="455.4" width="9.6" height="9.6" fill="#000000"/><rect x="657.4" y="458.8" width="9.6" height="9.6" fill="#000000"/><rect x="658.8" y="462.1" width="9.6" height="9.6" fill="#000000"/><rect x="660.1" y="465.4" width="9.6" height="9.6" fill="#000000"/><rect x="661.5" y="468.8" width="9.6" height="9.6" fill="#000000"/><rect x="663.0" y="472.1" width="9.6" height="9.6" fill="#000000"/><rect x="664.4" y="475.3" width="9.6" height="9.6" fill="#000000"/><rect x="666.0" y="478.6" width="9.6" height="9.6" fill="#000000"/><rect x="667.5" y="481.9" width="9.6" height="9.6" fill="#000000"/><rect x="669.1" y="485.1" width="9.6" height="9.6" fill="#000000"/><rect x="670.8" y="488.3" width="9.6" height="9.6" fill="#000000"/><rect x="672.5" y="491.4" width="9.6" height="9.6" fill="#000000"/><rect x="674.4" y="494.5" width="9.6" height="9.6" fill="#000000"/><rect x="676.3" y="497.5" width="9.6" height="9.6" fill="#000000"/><rect x="678.3" y="500.5" width="9.6" height="9.6" fill="#000000"/><rect x="680.4" y="503.5" width="9.6" height="9.6" fill="#000000"/><rect x="682.7" y="506.2" width="9.6" height="9.6" fill="#000000"/><rect x="685.2" y="508.8" width="9.6" height="9.6" fill="#000000"/><rect x="687.6" y="511.5" width="9.6" height="9.6" fill="#000000"/><rect x="689.7" y="514.4" width="9.6" height="9.6" fill="#000000"/><rect x="691.5" y="517.5" width="9.6" height="9.6" fill="#000000"/><rect x="693.1" y="520.8" width="9.6" height="9.6" fill="#000000"/><rect x="694.6" y="524.0" width="9.6" height="9.6" fill="#000000"/><rect x="696.1" y="527.3" width="9.6" height="9.6" fill="#000000"/><rect x="697.6" y="530.6" width="9.6" height="9.6" fill="#000000"/><rect x="699.2" y="533.8" width="9.6" height="9.6" fill="#000000"/><rect x="700.9" y="536.9" width="9.6" height="9.6" fill="#000000"/><rect x="702.9" y="540.0" width="9.6" height="9.6" fill="#000000"/><rect x="705.0" y="542.9" width="9.6" height="9.6" fill="#000000"/><rect x="707.3" y="545.7" width="9.6" height="9.6" fill="#000000"/><rect x="709.6" y="548.4" width="9.6" height="9.6" fill="#000000"/><rect x="712.1" y="551.0" width="9.6" height="9.6" fill="#000000"/><rect x="714.6" y="553.6" width="9.6" height="9.6" fill="#000000"/><rect x="717.2" y="556.1" width="9.6" height="9.6" fill="#000000"/><rect x="719.9" y="558.5" width="9.6" height="9.6" fill="#000000"/><rect x="722.6" y="560.9" width="9.6" height="9.6" fill="#000000"/><rect x="725.3" y="563.2" width="9.6" height="9.6" fill="#000000"/><rect x="728.1" y="565.5" width="9.6" height="9.6" fill="#000000"/><rect x="730.9" y="567.8" width="9.6" height="9.6" fill="#000000"/><rect x="733.7" y="570.0" width="9.6" height="9.6" fill="#000000"/><rect x="736.5" y="572.2" width="9.6" height="9.6" fill="#000000"/><rect x="739.4" y="574.4" width="9.6" height="9.6" fill="#000000"/><rect x="742.3" y="576.5" width="9.6" height="9.6" fill="#000000"/><rect x="745.2" y="578.6" width="9.6" height="9.6" fill="#000000"/><rect x="748.2" y="580.7" width="9.6" height="9.6" fill="#000000"/><rect x="751.1" y="582.8" width="9.6" height="9.6" fill="#000000"/><rect x="754.1" y="584.9" width="9.6" height="9.6" fill="#000000"/><rect x="757.0" y="586.9" width="9.6" height="9.6" fill="#000000"/><rect x="760.0" y="588.9" width="9.6" height="9.6" fill="#000000"/><rect x="763.0" y="590.9" width="9.6" height="9.6" fill="#000000"/><rect x="766.0" y="592.9" width="9.6" height="9.6" fill="#000000"/><rect x="769.0" y="594.9" width="9.6" height="9.6" fill="#000000"/><rect x="772.0" y="596.9" width="9.6" height="9.6" fill="#000000"/><rect x="775.0" y="598.8" width="9.6" height="9.6" fill="#000000"/><rect x="778.1" y="600.7" width="9.6" height="9.6" fill="#000000"/><rect x="781.1" y="602.7" width="9.6" height="9.6" fill="#000000"/><rect x="784.2" y="604.6" width="9.6" height="9.6" fill="#000000"/><rect x="787.3" y="606.4" width="9.6" height="9.6" fill="#000000"/><rect x="790.4" y="608.3" width="9.6" height="9.6" fill="#000000"/><rect x="793.5" y="610.0" width="9.6" height="9.6" fill="#000000"/><rect x="796.7" y="611.8" width="9.6" height="9.6" fill="#000000"/><rect x="799.8" y="613.5" width="9.6" height="9.6" fill="#000000"/><rect x="803.0" y="615.1" width="9.6" height="9.6" fill="#000000"/><rect x="806.2" y="616.8" width="9.6" height="9.6" fill="#000000"/><rect x="809.4" y="618.4" width="9.6" height="9.6" fill="#000000"/><rect x="812.7" y="620.0" width="9.6" height="9.6" fill="#000000"/><rect x="815.9" y="621.6" width="9.6" height="9.6" fill="#000000"/><rect x="819.1" y="623.2" width="9.6" height="9.6" fill="#000000"/><rect x="822.4" y="624.8" width="9.6" height="9.6" fill="#000000"/><path d="M842.0 643.0 L853.2 646.4 L868.9 651.2 L887.3 656.8 L906.5 662.2 L924.6 666.8 L940.5 670.0 L956.3 672.2 L971.8 673.8 L986.8 675.2 L1001.1 676.8 L1014.4 678.7 L1027.6 681.1 L1040.4 683.8 L1052.1 686.3 L1061.9 688.5 L1069.0 690.0 L1069.0 690.0" fill="none" stroke="#000000" stroke-width="0.9"/><rect x="837.2" y="638.2" width="9.6" height="9.6" fill="#000000"/><rect x="840.7" y="639.2" width="9.6" height="9.6" fill="#000000"/><rect x="844.1" y="640.2" width="9.6" height="9.6" fill="#000000"/><rect x="847.5" y="641.3" width="9.6" height="9.6" fill="#000000"/><rect x="851.0" y="642.4" width="9.6" height="9.6" fill="#000000"/><rect x="854.4" y="643.4" width="9.6" height="9.6" fill="#000000"/><rect x="857.9" y="644.5" width="9.6" height="9.6" fill="#000000"/><rect x="861.3" y="645.5" width="9.6" height="9.6" fill="#000000"/><rect x="864.7" y="646.6" width="9.6" height="9.6" fill="#000000"/><rect x="868.2" y="647.7" width="9.6" height="9.6" fill="#000000"/><rect x="871.6" y="648.7" width="9.6" height="9.6" fill="#000000"/><rect x="875.1" y="649.7" width="9.6" height="9.6" fill="#000000"/><rect x="878.5" y="650.8" width="9.6" height="9.6" fill="#000000"/><rect x="882.0" y="651.8" width="9.6" height="9.6" fill="#000000"/><rect x="885.4" y="652.8" width="9.6" height="9.6" fill="#000000"/><rect x="888.9" y="653.8" width="9.6" height="9.6" fill="#000000"/><rect x="892.4" y="654.8" width="9.6" height="9.6" fill="#000000"/><rect x="895.8" y="655.8" width="9.6" height="9.6" fill="#000000"/><rect x="899.3" y="656.7" width="9.6" height="9.6" fill="#000000"/><rect x="902.8" y="657.7" width="9.6" height="9.6" fill="#000000"/><rect x="906.2" y="658.6" width="9.6" height="9.6" fill="#000000"/><rect x="909.7" y="659.5" width="9.6" height="9.6" fill="#000000"/><rect x="913.2" y="660.4" width="9.6" height="9.6" fill="#000000"/><rect x="916.7" y="661.3" width="9.6" height="9.6" fill="#000000"/><rect x="920.2" y="662.1" width="9.6" height="9.6" fill="#000000"/><rect x="923.7" y="662.9" width="9.6" height="9.6" fill="#000000"/><rect x="927.3" y="663.6" width="9.6" height="9.6" fill="#000000"/><rect x="930.8" y="664.3" width="9.6" height="9.6" fill="#000000"/><rect x="934.3" y="664.9" width="9.6" height="9.6" fill="#000000"/><rect x="937.9" y="665.5" width="9.6" height="9.6" fill="#000000"/><rect x="941.4" y="666.0" width="9.6" height="9.6" fill="#000000"/><rect x="945.0" y="666.5" width="9.6" height="9.6" fill="#000000"/><rect x="948.6" y="667.0" width="9.6" height="9.6" fill="#000000"/><rect x="952.2" y="667.4" width="9.6" height="9.6" fill="#000000"/><rect x="955.7" y="667.8" width="9.6" height="9.6" fill="#000000"/><rect x="959.3" y="668.2" width="9.6" height="9.6" fill="#000000"/><rect x="962.9" y="668.6" width="9.6" height="9.6" fill="#000000"/><rect x="966.5" y="669.0" width="9.6" height="9.6" fill="#000000"/><rect x="970.1" y="669.3" width="9.6" height="9.6" fill="#000000"/><rect x="973.6" y="669.6" width="9.6" height="9.6" fill="#000000"/><rect x="977.2" y="670.0" width="9.6" height="9.6" fill="#000000"/><rect x="980.8" y="670.3" width="9.6" height="9.6" fill="#000000"/><rect x="984.4" y="670.7" width="9.6" height="9.6" fill="#000000"/><rect x="988.0" y="671.0" width="9.6" height="9.6" fill="#000000"/><rect x="991.6" y="671.4" width="9.6" height="9.6" fill="#000000"/><rect x="995.1" y="671.8" width="9.6" height="9.6" fill="#000000"/><rect x="998.7" y="672.3" width="9.6" height="9.6" fill="#000000"/><rect x="1002.3" y="672.8" width="9.6" height="9.6" fill="#000000"/><rect x="1005.8" y="673.3" width="9.6" height="9.6" fill="#000000"/><rect x="1009.4" y="673.9" width="9.6" height="9.6" fill="#000000"/><rect x="1012.9" y="674.5" width="9.6" height="9.6" fill="#000000"/><rect x="1016.5" y="675.1" width="9.6" height="9.6" fill="#000000"/><rect x="1020.0" y="675.8" width="9.6" height="9.6" fill="#000000"/><rect x="1023.5" y="676.5" width="9.6" height="9.6" fill="#000000"/><rect x="1027.1" y="677.2" width="9.6" height="9.6" fill="#000000"/><rect x="1030.6" y="677.9" width="9.6" height="9.6" fill="#000000"/><rect x="1034.1" y="678.6" width="9.6" height="9.6" fill="#000000"/><rect x="1037.6" y="679.4" width="9.6" height="9.6" fill="#000000"/><rect x="1041.2" y="680.1" width="9.6" height="9.6" fill="#000000"/><rect x="1044.7" y="680.9" width="9.6" height="9.6" fill="#000000"/><rect x="1048.2" y="681.7" width="9.6" height="9.6" fill="#000000"/><rect x="1051.7" y="682.5" width="9.6" height="9.6" fill="#000000"/><rect x="1055.2" y="683.2" width="9.6" height="9.6" fill="#000000"/><rect x="1058.7" y="684.0" width="9.6" height="9.6" fill="#000000"/><rect x="1062.3" y="684.8" width="9.6" height="9.6" fill="#000000"/></g><g clip-path="url(#cb)"><path d="M645.0 318.0 L645.1 323.2 L645.2 330.5 L645.3 339.2 L645.4 348.3 L645.5 357.2 L645.5 365.7 L645.4 374.8 L645.2 384.1 L645.2 392.9 L645.3 400.7 L645.7 406.8 L646.3 411.2 L647.2 414.3 L648.2 416.8 L649.2 419.2 L650.0 422.0 L650.7 425.4 L651.2 428.9 L651.8 432.5 L652.3 435.9 L652.8 439.0 L653.4 441.8 L654.0 444.0 L654.6 446.1 L655.1 448.1 L655.7 450.3 L656.1 452.9 L656.5 455.8 L656.7 458.8 L657.0 462.0 L657.4 465.4 L658.0 469.0 L658.9 473.0 L660.0 477.3 L661.2 481.8 L662.4 486.3 L663.6 490.6 L664.8 494.6 L665.9 498.5 L667.0 502.2 L668.1 505.9 L669.2 509.5 L670.4 513.3 L671.5 517.1 L672.6 521.0 L673.8 524.8 L674.9 528.5 L676.0 532.0 L677.0 535.3 L677.9 538.3 L678.9 541.3 L680.0 544.2 L681.4 547.0 L683.3 549.9 L685.5 552.4 L687.9 554.9 L690.6 557.6 L693.2 560.7 L695.9 564.3 L698.3 568.6 L700.6 573.4 L703.2 578.4 L706.2 583.4 L710.0 588.0 L714.4 592.3 L719.3 596.3 L724.7 600.3 L730.7 604.4 L737.5 608.5 L745.4 613.0 L754.6 617.9 L764.5 622.8 L774.6 627.7 L784.2 632.2 L792.8 636.3 L801.2 640.2 L809.5 643.9 L817.1 647.2 L823.4 650.0 L828.0 652.0 L828.0 652.0" fill="none" stroke="#000000" stroke-width="0.9"/><rect x="640.2" y="313.2" width="9.6" height="9.6" fill="#000000"/><rect x="640.2" y="316.8" width="9.6" height="9.6" fill="#000000"/><rect x="640.3" y="320.4" width="9.6" height="9.6" fill="#000000"/><rect x="640.3" y="324.0" width="9.6" height="9.6" fill="#000000"/><rect x="640.4" y="327.6" width="9.6" height="9.6" fill="#000000"/><rect x="640.4" y="331.2" width="9.6" height="9.6" fill="#000000"/><rect x="640.5" y="334.8" width="9.6" height="9.6" fill="#000000"/><rect x="640.5" y="338.4" width="9.6" height="9.6" fill="#000000"/><rect x="640.6" y="342.0" width="9.6" height="9.6" fill="#000000"/><rect x="640.6" y="345.6" width="9.6" height="9.6" fill="#000000"/><rect x="640.7" y="349.2" width="9.6" height="9.6" fill="#000000"/><rect x="640.7" y="352.8" width="9.6" height="9.6" fill="#000000"/><rect x="640.7" y="356.4" width="9.6" height="9.6" fill="#000000"/><rect x="640.7" y="360.0" width="9.6" height="9.6" fill="#000000"/><rect x="640.7" y="363.6" width="9.6" height="9.6" fill="#000000"/><rect x="640.6" y="367.2" width="9.6" height="9.6" fill="#000000"/><rect x="640.6" y="370.8" width="9.6" height="9.6" fill="#000000"/><rect x="640.5" y="374.4" width="9.6" height="9.6" fill="#000000"/><rect x="640.5" y="378.0" width="9.6" height="9.6" fill="#000000"/><rect x="640.4" y="381.6" width="9.6" height="9.6" fill="#000000"/><rect x="640.4" y="385.2" width="9.6" height="9.6" fill="#000000"/><rect x="640.4" y="388.8" width="9.6" height="9.6" fill="#000000"/><rect x="640.4" y="392.4" width="9.6" height="9.6" fill="#000000"/><rect x="640.5" y="396.0" width="9.6" height="9.6" fill="#000000"/><rect x="640.7" y="399.6" width="9.6" height="9.6" fill="#000000"/><rect x="641.0" y="403.2" width="9.6" height="9.6" fill="#000000"/><rect x="641.6" y="406.7" width="9.6" height="9.6" fill="#000000"/><rect x="642.7" y="410.2" width="9.6" height="9.6" fill="#000000"/><rect x="644.1" y="413.5" width="9.6" height="9.6" fill="#000000"/><rect x="645.1" y="416.9" width="9.6" height="9.6" fill="#000000"/><rect x="645.8" y="420.4" width="9.6" height="9.6" fill="#000000"/><rect x="646.4" y="424.0" width="9.6" height="9.6" fill="#000000"/><rect x="646.9" y="427.6" width="9.6" height="9.6" fill="#000000"/><rect x="647.5" y="431.1" width="9.6" height="9.6" fill="#000000"/><rect x="648.1" y="434.7" width="9.6" height="9.6" fill="#000000"/><rect x="648.9" y="438.2" width="9.6" height="9.6" fill="#000000"/><rect x="649.9" y="441.6" width="9.6" height="9.6" fill="#000000"/><rect x="650.8" y="445.1" width="9.6" height="9.6" fill="#000000"/><rect x="651.4" y="448.7" width="9.6" height="9.6" fill="#000000"/><rect x="651.8" y="452.2" width="9.6" height="9.6" fill="#000000"/><rect x="652.1" y="455.8" width="9.6" height="9.6" fill="#000000"/><rect x="652.4" y="459.4" width="9.6" height="9.6" fill="#000000"/><rect x="653.0" y="463.0" width="9.6" height="9.6" fill="#000000"/><rect x="653.7" y="466.5" width="9.6" height="9.6" fill="#000000"/><rect x="654.5" y="470.0" width="9.6" height="9.6" fill="#000000"/><rect x="655.4" y="473.5" width="9.6" height="9.6" fill="#000000"/><rect x="656.3" y="477.0" width="9.6" height="9.6" fill="#000000"/><rect x="657.3" y="480.4" width="9.6" height="9.6" fill="#000000"/><rect x="658.3" y="483.9" width="9.6" height="9.6" fill="#000000"/><rect x="659.2" y="487.4" width="9.6" height="9.6" fill="#000000"/><rect x="660.2" y="490.8" width="9.6" height="9.6" fill="#000000"/><rect x="661.3" y="494.3" width="9.6" height="9.6" fill="#000000"/><rect x="662.3" y="497.7" width="9.6" height="9.6" fill="#000000"/><rect x="663.4" y="501.2" width="9.6" height="9.6" fill="#000000"/><rect x="664.4" y="504.6" width="9.6" height="9.6" fill="#000000"/><rect x="665.5" y="508.1" width="9.6" height="9.6" fill="#000000"/><rect x="666.5" y="511.5" width="9.6" height="9.6" fill="#000000"/><rect x="667.5" y="515.0" width="9.6" height="9.6" fill="#000000"/><rect x="668.5" y="518.4" width="9.6" height="9.6" fill="#000000"/><rect x="669.5" y="521.9" width="9.6" height="9.6" fill="#000000"/><rect x="670.6" y="525.3" width="9.6" height="9.6" fill="#000000"/><rect x="671.7" y="528.7" width="9.6" height="9.6" fill="#000000"/><rect x="672.7" y="532.2" width="9.6" height="9.6" fill="#000000"/><rect x="673.8" y="535.6" width="9.6" height="9.6" fill="#000000"/><rect x="675.1" y="539.0" width="9.6" height="9.6" fill="#000000"/><rect x="676.6" y="542.2" width="9.6" height="9.6" fill="#000000"/><rect x="678.6" y="545.2" width="9.6" height="9.6" fill="#000000"/><rect x="681.0" y="547.9" width="9.6" height="9.6" fill="#000000"/><rect x="683.5" y="550.5" width="9.6" height="9.6" fill="#000000"/><rect x="686.0" y="553.1" width="9.6" height="9.6" fill="#000000"/><rect x="688.4" y="555.8" width="9.6" height="9.6" fill="#000000"/><rect x="690.5" y="558.7" width="9.6" height="9.6" fill="#000000"/><rect x="692.4" y="561.8" width="9.6" height="9.6" fill="#000000"/><rect x="694.0" y="565.0" width="9.6" height="9.6" fill="#000000"/><rect x="695.6" y="568.2" width="9.6" height="9.6" fill="#000000"/><rect x="697.2" y="571.4" width="9.6" height="9.6" fill="#000000"/><rect x="698.9" y="574.6" width="9.6" height="9.6" fill="#000000"/><rect x="700.8" y="577.7" width="9.6" height="9.6" fill="#000000"/><rect x="702.9" y="580.6" width="9.6" height="9.6" fill="#000000"/><rect x="705.3" y="583.3" width="9.6" height="9.6" fill="#000000"/><rect x="707.8" y="585.8" width="9.6" height="9.6" fill="#000000"/><rect x="710.5" y="588.3" width="9.6" height="9.6" fill="#000000"/><rect x="713.3" y="590.6" width="9.6" height="9.6" fill="#000000"/><rect x="716.1" y="592.8" width="9.6" height="9.6" fill="#000000"/><rect x="719.0" y="594.9" width="9.6" height="9.6" fill="#000000"/><rect x="722.0" y="597.0" width="9.6" height="9.6" fill="#000000"/><rect x="725.0" y="598.9" width="9.6" height="9.6" fill="#000000"/><rect x="728.0" y="600.9" width="9.6" height="9.6" fill="#000000"/><rect x="731.1" y="602.7" width="9.6" height="9.6" fill="#000000"/><rect x="734.2" y="604.6" width="9.6" height="9.6" fill="#000000"/><rect x="737.3" y="606.4" width="9.6" height="9.6" fill="#000000"/><rect x="740.4" y="608.2" width="9.6" height="9.6" fill="#000000"/><rect x="743.6" y="609.9" width="9.6" height="9.6" fill="#000000"/><rect x="746.8" y="611.5" width="9.6" height="9.6" fill="#000000"/><rect x="750.0" y="613.2" width="9.6" height="9.6" fill="#000000"/><rect x="753.2" y="614.8" width="9.6" height="9.6" fill="#000000"/><rect x="756.4" y="616.4" width="9.6" height="9.6" fill="#000000"/><rect x="759.7" y="618.0" width="9.6" height="9.6" fill="#000000"/><rect x="762.9" y="619.6" width="9.6" height="9.6" fill="#000000"/><rect x="766.1" y="621.1" width="9.6" height="9.6" fill="#000000"/><rect x="769.4" y="622.7" width="9.6" height="9.6" fill="#000000"/><rect x="772.6" y="624.2" width="9.6" height="9.6" fill="#000000"/><rect x="775.9" y="625.8" width="9.6" height="9.6" fill="#000000"/><rect x="779.1" y="627.3" width="9.6" height="9.6" fill="#000000"/><rect x="782.4" y="628.9" width="9.6" height="9.6" fill="#000000"/><rect x="785.6" y="630.4" width="9.6" height="9.6" fill="#000000"/><rect x="788.9" y="631.9" width="9.6" height="9.6" fill="#000000"/><rect x="792.2" y="633.5" width="9.6" height="9.6" fill="#000000"/><rect x="795.4" y="635.0" width="9.6" height="9.6" fill="#000000"/><rect x="798.7" y="636.4" width="9.6" height="9.6" fill="#000000"/><rect x="802.0" y="637.9" width="9.6" height="9.6" fill="#000000"/><rect x="805.3" y="639.4" width="9.6" height="9.6" fill="#000000"/><rect x="808.6" y="640.8" width="9.6" height="9.6" fill="#000000"/><rect x="811.9" y="642.3" width="9.6" height="9.6" fill="#000000"/><rect x="815.2" y="643.7" width="9.6" height="9.6" fill="#000000"/><rect x="818.5" y="645.1" width="9.6" height="9.6" fill="#000000"/><rect x="821.8" y="646.6" width="9.6" height="9.6" fill="#000000"/><path d="M842.0 651.0 L853.2 654.4 L868.9 659.4 L887.3 665.1 L906.5 670.7 L924.6 675.7 L940.4 679.3 L955.9 682.3 L971.0 684.8 L985.9 687.0 L1000.4 689.3 L1014.9 691.9 L1030.2 694.8 L1045.9 697.9 L1060.6 700.8 L1073.1 703.2 L1082.0 705.0 L1082.0 705.0" fill="none" stroke="#000000" stroke-width="0.9"/><rect x="837.2" y="646.2" width="9.6" height="9.6" fill="#000000"/><rect x="840.6" y="647.2" width="9.6" height="9.6" fill="#000000"/><rect x="844.1" y="648.3" width="9.6" height="9.6" fill="#000000"/><rect x="847.5" y="649.4" width="9.6" height="9.6" fill="#000000"/><rect x="851.0" y="650.4" width="9.6" height="9.6" fill="#000000"/><rect x="854.4" y="651.5" width="9.6" height="9.6" fill="#000000"/><rect x="857.8" y="652.6" width="9.6" height="9.6" fill="#000000"/><rect x="861.3" y="653.7" width="9.6" height="9.6" fill="#000000"/><rect x="864.7" y="654.8" width="9.6" height="9.6" fill="#000000"/><rect x="868.1" y="655.8" width="9.6" height="9.6" fill="#000000"/><rect x="871.6" y="656.9" width="9.6" height="9.6" fill="#000000"/><rect x="875.0" y="658.0" width="9.6" height="9.6" fill="#000000"/><rect x="878.5" y="659.0" width="9.6" height="9.6" fill="#000000"/><rect x="881.9" y="660.1" width="9.6" height="9.6" fill="#000000"/><rect x="885.3" y="661.1" width="9.6" height="9.6" fill="#000000"/><rect x="888.8" y="662.1" width="9.6" height="9.6" fill="#000000"/><rect x="892.2" y="663.2" width="9.6" height="9.6" fill="#000000"/><rect x="895.7" y="664.2" width="9.6" height="9.6" fill="#000000"/><rect x="899.2" y="665.2" width="9.6" height="9.6" fill="#000000"/><rect x="902.6" y="666.2" width="9.6" height="9.6" fill="#000000"/><rect x="906.1" y="667.2" width="9.6" height="9.6" fill="#000000"/><rect x="909.5" y="668.1" width="9.6" height="9.6" fill="#000000"/><rect x="913.0" y="669.1" width="9.6" height="9.6" fill="#000000"/><rect x="916.5" y="670.0" width="9.6" height="9.6" fill="#000000"/><rect x="920.0" y="670.9" width="9.6" height="9.6" fill="#000000"/><rect x="923.5" y="671.8" width="9.6" height="9.6" fill="#000000"/><rect x="927.0" y="672.6" width="9.6" height="9.6" fill="#000000"/><rect x="930.5" y="673.4" width="9.6" height="9.6" fill="#000000"/><rect x="934.0" y="674.2" width="9.6" height="9.6" fill="#000000"/><rect x="937.5" y="674.9" width="9.6" height="9.6" fill="#000000"/><rect x="941.1" y="675.6" width="9.6" height="9.6" fill="#000000"/><rect x="944.6" y="676.3" width="9.6" height="9.6" fill="#000000"/><rect x="948.1" y="676.9" width="9.6" height="9.6" fill="#000000"/><rect x="951.7" y="677.6" width="9.6" height="9.6" fill="#000000"/><rect x="955.2" y="678.2" width="9.6" height="9.6" fill="#000000"/><rect x="958.8" y="678.8" width="9.6" height="9.6" fill="#000000"/><rect x="962.3" y="679.3" width="9.6" height="9.6" fill="#000000"/><rect x="965.9" y="679.9" width="9.6" height="9.6" fill="#000000"/><rect x="969.4" y="680.5" width="9.6" height="9.6" fill="#000000"/><rect x="973.0" y="681.0" width="9.6" height="9.6" fill="#000000"/><rect x="976.6" y="681.5" width="9.6" height="9.6" fill="#000000"/><rect x="980.1" y="682.1" width="9.6" height="9.6" fill="#000000"/><rect x="983.7" y="682.6" width="9.6" height="9.6" fill="#000000"/><rect x="987.2" y="683.2" width="9.6" height="9.6" fill="#000000"/><rect x="990.8" y="683.7" width="9.6" height="9.6" fill="#000000"/><rect x="994.3" y="684.3" width="9.6" height="9.6" fill="#000000"/><rect x="997.9" y="684.9" width="9.6" height="9.6" fill="#000000"/><rect x="1001.4" y="685.5" width="9.6" height="9.6" fill="#000000"/><rect x="1005.0" y="686.2" width="9.6" height="9.6" fill="#000000"/><rect x="1008.5" y="686.8" width="9.6" height="9.6" fill="#000000"/><rect x="1012.1" y="687.5" width="9.6" height="9.6" fill="#000000"/><rect x="1015.6" y="688.1" width="9.6" height="9.6" fill="#000000"/><rect x="1019.1" y="688.8" width="9.6" height="9.6" fill="#000000"/><rect x="1022.7" y="689.5" width="9.6" height="9.6" fill="#000000"/><rect x="1026.2" y="690.2" width="9.6" height="9.6" fill="#000000"/><rect x="1029.7" y="690.9" width="9.6" height="9.6" fill="#000000"/><rect x="1033.3" y="691.5" width="9.6" height="9.6" fill="#000000"/><rect x="1036.8" y="692.2" width="9.6" height="9.6" fill="#000000"/><rect x="1040.4" y="692.9" width="9.6" height="9.6" fill="#000000"/><rect x="1043.9" y="693.6" width="9.6" height="9.6" fill="#000000"/><rect x="1047.4" y="694.3" width="9.6" height="9.6" fill="#000000"/><rect x="1050.9" y="695.0" width="9.6" height="9.6" fill="#000000"/><rect x="1054.5" y="695.7" width="9.6" height="9.6" fill="#000000"/><rect x="1058.0" y="696.4" width="9.6" height="9.6" fill="#000000"/><rect x="1061.5" y="697.1" width="9.6" height="9.6" fill="#000000"/><rect x="1065.1" y="697.8" width="9.6" height="9.6" fill="#000000"/><rect x="1068.6" y="698.5" width="9.6" height="9.6" fill="#000000"/><rect x="1072.1" y="699.2" width="9.6" height="9.6" fill="#000000"/><rect x="1075.7" y="699.9" width="9.6" height="9.6" fill="#000000"/></g><g clip-path="url(#cb)"><path d="M645.0 318.0 L645.1 322.1 L645.3 328.0 L645.4 334.8 L645.7 341.7 L645.9 348.1 L646.2 353.5 L646.5 358.4 L646.8 363.1 L647.2 367.6 L647.6 372.0 L648.2 376.5 L648.8 380.9 L649.4 385.3 L650.1 389.5 L651.0 393.8 L652.0 398.0 L653.2 402.2 L654.6 406.2 L656.1 410.3 L657.8 414.4 L659.4 418.6 L661.2 422.9 L663.0 427.6 L664.9 432.2 L666.8 436.9 L668.7 441.3 L670.6 445.3 L672.4 448.8 L674.1 452.0 L675.9 455.1 L677.8 458.4 L680.0 462.0 L682.5 466.1 L685.3 470.7 L688.2 475.3 L691.1 479.8 L694.1 483.8 L696.8 487.1 L699.2 489.7 L701.6 491.9 L704.2 494.1 L707.4 496.8 L711.5 500.3 L716.6 504.8 L722.4 509.9 L728.5 515.2 L734.5 520.0 L740.0 524.0 L745.0 527.0 L749.7 529.4 L754.3 531.3 L758.9 532.9 L763.4 534.5 L768.2 536.0 L773.0 537.1 L777.8 538.1 L782.6 539.1 L787.1 540.1 L791.4 541.5 L795.4 543.0 L799.1 544.7 L802.7 546.5 L806.3 548.3 L810.0 550.0 L814.0 551.8 L818.4 553.8 L822.6 555.7 L826.4 557.4 L829.3 558.7 L830.0 559.0" fill="none" stroke="#0000ff" stroke-width="0.9"/><circle cx="645.0" cy="318.0" r="6.21" fill="#0000ff"/><circle cx="645.1" cy="321.6" r="6.21" fill="#0000ff"/><circle cx="645.2" cy="325.2" r="6.21" fill="#0000ff"/><circle cx="645.3" cy="328.8" r="6.21" fill="#0000ff"/><circle cx="645.4" cy="332.4" r="6.21" fill="#0000ff"/><circle cx="645.5" cy="336.0" r="6.21" fill="#0000ff"/><circle cx="645.6" cy="339.6" r="6.21" fill="#0000ff"/><circle cx="645.7" cy="343.2" r="6.21" fill="#0000ff"/><circle cx="645.8" cy="346.8" r="6.21" fill="#0000ff"/><circle cx="646.0" cy="350.4" r="6.21" fill="#0000ff"/><circle cx="646.2" cy="354.0" r="6.21" fill="#0000ff"/><circle cx="646.4" cy="357.6" r="6.21" fill="#0000ff"/><circle cx="646.7" cy="361.2" r="6.21" fill="#0000ff"/><circle cx="646.9" cy="364.8" r="6.21" fill="#0000ff"/><circle cx="647.3" cy="368.3" r="6.21" fill="#0000ff"/><circle cx="647.6" cy="371.9" r="6.21" fill="#0000ff"/><circle cx="648.1" cy="375.5" r="6.21" fill="#0000ff"/><circle cx="648.5" cy="379.1" r="6.21" fill="#0000ff"/><circle cx="649.0" cy="382.6" r="6.21" fill="#0000ff"/><circle cx="649.5" cy="386.2" r="6.21" fill="#0000ff"/><circle cx="650.2" cy="389.7" r="6.21" fill="#0000ff"/><circle cx="650.9" cy="393.3" r="6.21" fill="#0000ff"/><circle cx="651.7" cy="396.8" r="6.21" fill="#0000ff"/><circle cx="652.6" cy="400.2" r="6.21" fill="#0000ff"/><circle cx="653.7" cy="403.7" r="6.21" fill="#0000ff"/><circle cx="654.9" cy="407.1" r="6.21" fill="#0000ff"/><circle cx="656.2" cy="410.4" r="6.21" fill="#0000ff"/><circle cx="657.5" cy="413.8" r="6.21" fill="#0000ff"/><circle cx="658.9" cy="417.1" r="6.21" fill="#0000ff"/><circle cx="660.2" cy="420.5" r="6.21" fill="#0000ff"/><circle cx="661.5" cy="423.8" r="6.21" fill="#0000ff"/><circle cx="662.8" cy="427.2" r="6.21" fill="#0000ff"/><circle cx="664.2" cy="430.5" r="6.21" fill="#0000ff"/><circle cx="665.5" cy="433.8" r="6.21" fill="#0000ff"/><circle cx="666.9" cy="437.2" r="6.21" fill="#0000ff"/><circle cx="668.4" cy="440.5" r="6.21" fill="#0000ff"/><circle cx="669.9" cy="443.7" r="6.21" fill="#0000ff"/><circle cx="671.4" cy="447.0" r="6.21" fill="#0000ff"/><circle cx="673.1" cy="450.2" r="6.21" fill="#0000ff"/><circle cx="674.8" cy="453.3" r="6.21" fill="#0000ff"/><circle cx="676.6" cy="456.4" r="6.21" fill="#0000ff"/><circle cx="678.5" cy="459.5" r="6.21" fill="#0000ff"/><circle cx="680.4" cy="462.6" r="6.21" fill="#0000ff"/><circle cx="682.2" cy="465.7" r="6.21" fill="#0000ff"/><circle cx="684.1" cy="468.8" r="6.21" fill="#0000ff"/><circle cx="686.0" cy="471.8" r="6.21" fill="#0000ff"/><circle cx="687.9" cy="474.9" r="6.21" fill="#0000ff"/><circle cx="689.9" cy="477.9" r="6.21" fill="#0000ff"/><circle cx="691.9" cy="480.9" r="6.21" fill="#0000ff"/><circle cx="694.0" cy="483.8" r="6.21" fill="#0000ff"/><circle cx="696.3" cy="486.6" r="6.21" fill="#0000ff"/><circle cx="698.7" cy="489.2" r="6.21" fill="#0000ff"/><circle cx="701.3" cy="491.7" r="6.21" fill="#0000ff"/><circle cx="704.1" cy="494.0" r="6.21" fill="#0000ff"/><circle cx="706.8" cy="496.3" r="6.21" fill="#0000ff"/><circle cx="709.6" cy="498.6" r="6.21" fill="#0000ff"/><circle cx="712.3" cy="501.0" r="6.21" fill="#0000ff"/><circle cx="715.0" cy="503.4" r="6.21" fill="#0000ff"/><circle cx="717.7" cy="505.8" r="6.21" fill="#0000ff"/><circle cx="720.4" cy="508.2" r="6.21" fill="#0000ff"/><circle cx="723.1" cy="510.6" r="6.21" fill="#0000ff"/><circle cx="725.8" cy="512.9" r="6.21" fill="#0000ff"/><circle cx="728.6" cy="515.2" r="6.21" fill="#0000ff"/><circle cx="731.3" cy="517.5" r="6.21" fill="#0000ff"/><circle cx="734.2" cy="519.8" r="6.21" fill="#0000ff"/><circle cx="737.0" cy="521.9" r="6.21" fill="#0000ff"/><circle cx="740.0" cy="524.0" r="6.21" fill="#0000ff"/><circle cx="743.0" cy="525.9" r="6.21" fill="#0000ff"/><circle cx="746.2" cy="527.6" r="6.21" fill="#0000ff"/><circle cx="749.4" cy="529.2" r="6.21" fill="#0000ff"/><circle cx="752.7" cy="530.7" r="6.21" fill="#0000ff"/><circle cx="756.1" cy="531.9" r="6.21" fill="#0000ff"/><circle cx="759.5" cy="533.1" r="6.21" fill="#0000ff"/><circle cx="762.9" cy="534.3" r="6.21" fill="#0000ff"/><circle cx="766.3" cy="535.4" r="6.21" fill="#0000ff"/><circle cx="769.8" cy="536.4" r="6.21" fill="#0000ff"/><circle cx="773.3" cy="537.2" r="6.21" fill="#0000ff"/><circle cx="776.8" cy="537.9" r="6.21" fill="#0000ff"/><circle cx="780.3" cy="538.6" r="6.21" fill="#0000ff"/><circle cx="783.9" cy="539.4" r="6.21" fill="#0000ff"/><circle cx="787.4" cy="540.2" r="6.21" fill="#0000ff"/><circle cx="790.8" cy="541.3" r="6.21" fill="#0000ff"/><circle cx="794.2" cy="542.5" r="6.21" fill="#0000ff"/><circle cx="797.5" cy="544.0" r="6.21" fill="#0000ff"/><circle cx="800.7" cy="545.5" r="6.21" fill="#0000ff"/><circle cx="804.0" cy="547.1" r="6.21" fill="#0000ff"/><circle cx="807.2" cy="548.7" r="6.21" fill="#0000ff"/><circle cx="810.5" cy="550.2" r="6.21" fill="#0000ff"/><circle cx="813.7" cy="551.7" r="6.21" fill="#0000ff"/><circle cx="817.0" cy="553.2" r="6.21" fill="#0000ff"/><circle cx="820.3" cy="554.6" r="6.21" fill="#0000ff"/><circle cx="823.6" cy="556.1" r="6.21" fill="#0000ff"/><circle cx="826.9" cy="557.6" r="6.21" fill="#0000ff"/><path d="M840.0 570.0 L851.4 573.0 L867.6 577.3 L886.5 582.3 L906.1 587.3 L924.5 591.7 L940.5 595.3 L956.0 598.4 L971.1 601.2 L985.9 603.8 L1000.5 606.3 L1014.9 608.9 L1030.2 611.5 L1045.9 614.1 L1060.6 616.5 L1073.1 618.5 L1082.0 620.0 L1082.0 620.0" fill="none" stroke="#0000ff" stroke-width="0.9"/><circle cx="840.0" cy="570.0" r="6.21" fill="#0000ff"/><circle cx="843.5" cy="570.9" r="6.21" fill="#0000ff"/><circle cx="847.0" cy="571.8" r="6.21" fill="#0000ff"/><circle cx="850.4" cy="572.7" r="6.21" fill="#0000ff"/><circle cx="853.9" cy="573.7" r="6.21" fill="#0000ff"/><circle cx="857.4" cy="574.6" r="6.21" fill="#0000ff"/><circle cx="860.9" cy="575.5" r="6.21" fill="#0000ff"/><circle cx="864.4" cy="576.4" r="6.21" fill="#0000ff"/><circle cx="867.8" cy="577.4" r="6.21" fill="#0000ff"/><circle cx="871.3" cy="578.3" r="6.21" fill="#0000ff"/><circle cx="874.8" cy="579.2" r="6.21" fill="#0000ff"/><circle cx="878.3" cy="580.1" r="6.21" fill="#0000ff"/><circle cx="881.8" cy="581.0" r="6.21" fill="#0000ff"/><circle cx="885.3" cy="581.9" r="6.21" fill="#0000ff"/><circle cx="888.7" cy="582.8" r="6.21" fill="#0000ff"/><circle cx="892.2" cy="583.7" r="6.21" fill="#0000ff"/><circle cx="895.7" cy="584.6" r="6.21" fill="#0000ff"/><circle cx="899.2" cy="585.5" r="6.21" fill="#0000ff"/><circle cx="902.7" cy="586.4" r="6.21" fill="#0000ff"/><circle cx="906.2" cy="587.3" r="6.21" fill="#0000ff"/><circle cx="909.7" cy="588.2" r="6.21" fill="#0000ff"/><circle cx="913.2" cy="589.0" r="6.21" fill="#0000ff"/><circle cx="916.7" cy="589.9" r="6.21" fill="#0000ff"/><circle cx="920.2" cy="590.7" r="6.21" fill="#0000ff"/><circle cx="923.7" cy="591.5" r="6.21" fill="#0000ff"/><circle cx="927.2" cy="592.4" r="6.21" fill="#0000ff"/><circle cx="930.7" cy="593.2" r="6.21" fill="#0000ff"/><circle cx="934.2" cy="593.9" r="6.21" fill="#0000ff"/><circle cx="937.7" cy="594.7" r="6.21" fill="#0000ff"/><circle cx="941.2" cy="595.4" r="6.21" fill="#0000ff"/><circle cx="944.8" cy="596.2" r="6.21" fill="#0000ff"/><circle cx="948.3" cy="596.9" r="6.21" fill="#0000ff"/><circle cx="951.8" cy="597.6" r="6.21" fill="#0000ff"/><circle cx="955.4" cy="598.3" r="6.21" fill="#0000ff"/><circle cx="958.9" cy="598.9" r="6.21" fill="#0000ff"/><circle cx="962.4" cy="599.6" r="6.21" fill="#0000ff"/><circle cx="966.0" cy="600.3" r="6.21" fill="#0000ff"/><circle cx="969.5" cy="600.9" r="6.21" fill="#0000ff"/><circle cx="973.1" cy="601.5" r="6.21" fill="#0000ff"/><circle cx="976.6" cy="602.2" r="6.21" fill="#0000ff"/><circle cx="980.2" cy="602.8" r="6.21" fill="#0000ff"/><circle cx="983.7" cy="603.4" r="6.21" fill="#0000ff"/><circle cx="987.2" cy="604.0" r="6.21" fill="#0000ff"/><circle cx="990.8" cy="604.6" r="6.21" fill="#0000ff"/><circle cx="994.3" cy="605.3" r="6.21" fill="#0000ff"/><circle cx="997.9" cy="605.9" r="6.21" fill="#0000ff"/><circle cx="1001.4" cy="606.5" r="6.21" fill="#0000ff"/><circle cx="1005.0" cy="607.1" r="6.21" fill="#0000ff"/><circle cx="1008.5" cy="607.7" r="6.21" fill="#0000ff"/><circle cx="1012.1" cy="608.4" r="6.21" fill="#0000ff"/><circle cx="1015.6" cy="609.0" r="6.21" fill="#0000ff"/><circle cx="1019.2" cy="609.6" r="6.21" fill="#0000ff"/><circle cx="1022.7" cy="610.2" r="6.21" fill="#0000ff"/><circle cx="1026.3" cy="610.8" r="6.21" fill="#0000ff"/><circle cx="1029.8" cy="611.4" r="6.21" fill="#0000ff"/><circle cx="1033.4" cy="612.0" r="6.21" fill="#0000ff"/><circle cx="1036.9" cy="612.6" r="6.21" fill="#0000ff"/><circle cx="1040.5" cy="613.2" r="6.21" fill="#0000ff"/><circle cx="1044.0" cy="613.8" r="6.21" fill="#0000ff"/><circle cx="1047.6" cy="614.4" r="6.21" fill="#0000ff"/><circle cx="1051.1" cy="615.0" r="6.21" fill="#0000ff"/><circle cx="1054.7" cy="615.5" r="6.21" fill="#0000ff"/><circle cx="1058.2" cy="616.1" r="6.21" fill="#0000ff"/><circle cx="1061.8" cy="616.7" r="6.21" fill="#0000ff"/><circle cx="1065.3" cy="617.3" r="6.21" fill="#0000ff"/><circle cx="1068.9" cy="617.9" r="6.21" fill="#0000ff"/><circle cx="1072.4" cy="618.4" r="6.21" fill="#0000ff"/><circle cx="1076.0" cy="619.0" r="6.21" fill="#0000ff"/><circle cx="1079.5" cy="619.6" r="6.21" fill="#0000ff"/></g><g clip-path="url(#cb)"><path d="M645.0 318.0 L645.1 322.1 L645.3 328.0 L645.4 334.8 L645.7 341.7 L645.9 348.1 L646.2 353.5 L646.5 358.5 L646.8 363.2 L647.2 367.7 L647.6 372.1 L648.2 376.4 L648.8 380.5 L649.4 384.4 L650.1 388.2 L651.0 392.1 L652.0 396.0 L653.2 400.1 L654.6 404.4 L656.1 408.7 L657.8 412.9 L659.4 416.8 L661.2 420.3 L663.0 423.5 L664.9 426.4 L666.8 429.3 L668.7 432.1 L670.6 435.0 L672.4 437.7 L674.1 440.4 L675.9 443.1 L677.8 446.0 L680.0 449.0 L682.5 452.3 L685.3 455.9 L688.2 459.6 L691.1 463.3 L694.1 466.9 L696.8 470.2 L699.2 473.1 L701.6 476.0 L704.2 479.0 L707.4 482.4 L711.5 486.4 L716.6 491.2 L722.4 496.5 L728.5 501.9 L734.5 507.2 L740.0 512.0 L745.0 516.3 L749.7 520.2 L754.3 524.0 L758.9 527.5 L763.4 530.9 L768.2 534.1 L773.0 537.2 L777.8 540.1 L782.6 542.8 L787.1 545.4 L791.4 547.8 L795.4 549.9 L799.1 551.7 L802.7 553.5 L806.3 555.2 L810.0 557.0 L814.0 559.0 L818.4 561.2 L822.6 563.3 L826.4 565.2 L829.3 566.6 L830.0 567.0" fill="none" stroke="#ff2e2e" stroke-width="0.9"/><rect x="640.3" y="313.3" width="9.4" height="9.4" fill="#fff" stroke="#ff2e2e" stroke-width="1.5"/><rect x="640.4" y="316.9" width="9.4" height="9.4" fill="#fff" stroke="#ff2e2e" stroke-width="1.5"/><rect x="640.5" y="320.5" width="9.4" height="9.4" fill="#fff" stroke="#ff2e2e" stroke-width="1.5"/><rect x="640.6" y="324.1" width="9.4" height="9.4" fill="#fff" stroke="#ff2e2e" stroke-width="1.5"/><rect x="640.7" y="327.7" width="9.4" height="9.4" fill="#fff" stroke="#ff2e2e" stroke-width="1.5"/><rect x="640.8" y="331.3" width="9.4" height="9.4" fill="#fff" stroke="#ff2e2e" stroke-width="1.5"/><rect x="640.9" y="334.9" width="9.4" height="9.4" fill="#fff" stroke="#ff2e2e" stroke-width="1.5"/><rect x="641.0" y="338.5" width="9.4" height="9.4" fill="#fff" stroke="#ff2e2e" stroke-width="1.5"/><rect x="641.1" y="342.1" width="9.4" height="9.4" fill="#fff" stroke="#ff2e2e" stroke-width="1.5"/><rect x="641.3" y="345.7" width="9.4" height="9.4" fill="#fff" stroke="#ff2e2e" stroke-width="1.5"/><rect x="641.5" y="349.3" width="9.4" height="9.4" fill="#fff" stroke="#ff2e2e" stroke-width="1.5"/><rect x="641.7" y="352.9" width="9.4" height="9.4" fill="#fff" stroke="#ff2e2e" stroke-width="1.5"/><rect x="642.0" y="356.5" width="9.4" height="9.4" fill="#fff" stroke="#ff2e2e" stroke-width="1.5"/><rect x="642.2" y="360.1" width="9.4" height="9.4" fill="#fff" stroke="#ff2e2e" stroke-width="1.5"/><rect x="642.6" y="363.6" width="9.4" height="9.4" fill="#fff" stroke="#ff2e2e" stroke-width="1.5"/><rect x="642.9" y="367.2" width="9.4" height="9.4" fill="#fff" stroke="#ff2e2e" stroke-width="1.5"/><rect x="643.4" y="370.8" width="9.4" height="9.4" fill="#fff" stroke="#ff2e2e" stroke-width="1.5"/><rect x="643.9" y="374.4" width="9.4" height="9.4" fill="#fff" stroke="#ff2e2e" stroke-width="1.5"/><rect x="644.4" y="377.9" width="9.4" height="9.4" fill="#fff" stroke="#ff2e2e" stroke-width="1.5"/><rect x="645.0" y="381.5" width="9.4" height="9.4" fill="#fff" stroke="#ff2e2e" stroke-width="1.5"/><rect x="645.7" y="385.0" width="9.4" height="9.4" fill="#fff" stroke="#ff2e2e" stroke-width="1.5"/><rect x="646.6" y="388.5" width="9.4" height="9.4" fill="#fff" stroke="#ff2e2e" stroke-width="1.5"/><rect x="647.5" y="392.0" width="9.4" height="9.4" fill="#fff" stroke="#ff2e2e" stroke-width="1.5"/><rect x="648.5" y="395.4" width="9.4" height="9.4" fill="#fff" stroke="#ff2e2e" stroke-width="1.5"/><rect x="649.6" y="398.9" width="9.4" height="9.4" fill="#fff" stroke="#ff2e2e" stroke-width="1.5"/><rect x="650.8" y="402.3" width="9.4" height="9.4" fill="#fff" stroke="#ff2e2e" stroke-width="1.5"/><rect x="652.0" y="405.6" width="9.4" height="9.4" fill="#fff" stroke="#ff2e2e" stroke-width="1.5"/><rect x="653.4" y="409.0" width="9.4" height="9.4" fill="#fff" stroke="#ff2e2e" stroke-width="1.5"/><rect x="654.8" y="412.3" width="9.4" height="9.4" fill="#fff" stroke="#ff2e2e" stroke-width="1.5"/><rect x="656.4" y="415.5" width="9.4" height="9.4" fill="#fff" stroke="#ff2e2e" stroke-width="1.5"/><rect x="658.2" y="418.6" width="9.4" height="9.4" fill="#fff" stroke="#ff2e2e" stroke-width="1.5"/><rect x="660.1" y="421.7" width="9.4" height="9.4" fill="#fff" stroke="#ff2e2e" stroke-width="1.5"/><rect x="662.2" y="424.6" width="9.4" height="9.4" fill="#fff" stroke="#ff2e2e" stroke-width="1.5"/><rect x="664.2" y="427.6" width="9.4" height="9.4" fill="#fff" stroke="#ff2e2e" stroke-width="1.5"/><rect x="666.2" y="430.6" width="9.4" height="9.4" fill="#fff" stroke="#ff2e2e" stroke-width="1.5"/><rect x="668.1" y="433.7" width="9.4" height="9.4" fill="#fff" stroke="#ff2e2e" stroke-width="1.5"/><rect x="670.0" y="436.7" width="9.4" height="9.4" fill="#fff" stroke="#ff2e2e" stroke-width="1.5"/><rect x="672.0" y="439.7" width="9.4" height="9.4" fill="#fff" stroke="#ff2e2e" stroke-width="1.5"/><rect x="674.1" y="442.6" width="9.4" height="9.4" fill="#fff" stroke="#ff2e2e" stroke-width="1.5"/><rect x="676.2" y="445.5" width="9.4" height="9.4" fill="#fff" stroke="#ff2e2e" stroke-width="1.5"/><rect x="678.4" y="448.4" width="9.4" height="9.4" fill="#fff" stroke="#ff2e2e" stroke-width="1.5"/><rect x="680.6" y="451.3" width="9.4" height="9.4" fill="#fff" stroke="#ff2e2e" stroke-width="1.5"/><rect x="682.8" y="454.1" width="9.4" height="9.4" fill="#fff" stroke="#ff2e2e" stroke-width="1.5"/><rect x="685.1" y="456.9" width="9.4" height="9.4" fill="#fff" stroke="#ff2e2e" stroke-width="1.5"/><rect x="687.3" y="459.7" width="9.4" height="9.4" fill="#fff" stroke="#ff2e2e" stroke-width="1.5"/><rect x="689.6" y="462.5" width="9.4" height="9.4" fill="#fff" stroke="#ff2e2e" stroke-width="1.5"/><rect x="691.9" y="465.3" width="9.4" height="9.4" fill="#fff" stroke="#ff2e2e" stroke-width="1.5"/><rect x="694.2" y="468.1" width="9.4" height="9.4" fill="#fff" stroke="#ff2e2e" stroke-width="1.5"/><rect x="696.5" y="470.8" width="9.4" height="9.4" fill="#fff" stroke="#ff2e2e" stroke-width="1.5"/><rect x="698.8" y="473.6" width="9.4" height="9.4" fill="#fff" stroke="#ff2e2e" stroke-width="1.5"/><rect x="701.3" y="476.2" width="9.4" height="9.4" fill="#fff" stroke="#ff2e2e" stroke-width="1.5"/><rect x="703.8" y="478.8" width="9.4" height="9.4" fill="#fff" stroke="#ff2e2e" stroke-width="1.5"/><rect x="706.3" y="481.3" width="9.4" height="9.4" fill="#fff" stroke="#ff2e2e" stroke-width="1.5"/><rect x="708.9" y="483.8" width="9.4" height="9.4" fill="#fff" stroke="#ff2e2e" stroke-width="1.5"/><rect x="711.6" y="486.2" width="9.4" height="9.4" fill="#fff" stroke="#ff2e2e" stroke-width="1.5"/><rect x="714.2" y="488.7" width="9.4" height="9.4" fill="#fff" stroke="#ff2e2e" stroke-width="1.5"/><rect x="716.9" y="491.1" width="9.4" height="9.4" fill="#fff" stroke="#ff2e2e" stroke-width="1.5"/><rect x="719.6" y="493.5" width="9.4" height="9.4" fill="#fff" stroke="#ff2e2e" stroke-width="1.5"/><rect x="722.3" y="495.9" width="9.4" height="9.4" fill="#fff" stroke="#ff2e2e" stroke-width="1.5"/><rect x="724.9" y="498.3" width="9.4" height="9.4" fill="#fff" stroke="#ff2e2e" stroke-width="1.5"/><rect x="727.6" y="500.7" width="9.4" height="9.4" fill="#fff" stroke="#ff2e2e" stroke-width="1.5"/><rect x="730.4" y="503.0" width="9.4" height="9.4" fill="#fff" stroke="#ff2e2e" stroke-width="1.5"/><rect x="733.1" y="505.4" width="9.4" height="9.4" fill="#fff" stroke="#ff2e2e" stroke-width="1.5"/><rect x="735.8" y="507.7" width="9.4" height="9.4" fill="#fff" stroke="#ff2e2e" stroke-width="1.5"/><rect x="738.6" y="510.1" width="9.4" height="9.4" fill="#fff" stroke="#ff2e2e" stroke-width="1.5"/><rect x="741.3" y="512.4" width="9.4" height="9.4" fill="#fff" stroke="#ff2e2e" stroke-width="1.5"/><rect x="744.1" y="514.7" width="9.4" height="9.4" fill="#fff" stroke="#ff2e2e" stroke-width="1.5"/><rect x="746.8" y="517.0" width="9.4" height="9.4" fill="#fff" stroke="#ff2e2e" stroke-width="1.5"/><rect x="749.6" y="519.3" width="9.4" height="9.4" fill="#fff" stroke="#ff2e2e" stroke-width="1.5"/><rect x="752.5" y="521.5" width="9.4" height="9.4" fill="#fff" stroke="#ff2e2e" stroke-width="1.5"/><rect x="755.3" y="523.7" width="9.4" height="9.4" fill="#fff" stroke="#ff2e2e" stroke-width="1.5"/><rect x="758.2" y="525.8" width="9.4" height="9.4" fill="#fff" stroke="#ff2e2e" stroke-width="1.5"/><rect x="761.2" y="527.9" width="9.4" height="9.4" fill="#fff" stroke="#ff2e2e" stroke-width="1.5"/><rect x="764.2" y="529.9" width="9.4" height="9.4" fill="#fff" stroke="#ff2e2e" stroke-width="1.5"/><rect x="767.2" y="531.8" width="9.4" height="9.4" fill="#fff" stroke="#ff2e2e" stroke-width="1.5"/><rect x="770.3" y="533.7" width="9.4" height="9.4" fill="#fff" stroke="#ff2e2e" stroke-width="1.5"/><rect x="773.3" y="535.6" width="9.4" height="9.4" fill="#fff" stroke="#ff2e2e" stroke-width="1.5"/><rect x="776.5" y="537.4" width="9.4" height="9.4" fill="#fff" stroke="#ff2e2e" stroke-width="1.5"/><rect x="779.6" y="539.1" width="9.4" height="9.4" fill="#fff" stroke="#ff2e2e" stroke-width="1.5"/><rect x="782.7" y="540.9" width="9.4" height="9.4" fill="#fff" stroke="#ff2e2e" stroke-width="1.5"/><rect x="785.9" y="542.6" width="9.4" height="9.4" fill="#fff" stroke="#ff2e2e" stroke-width="1.5"/><rect x="789.1" y="544.3" width="9.4" height="9.4" fill="#fff" stroke="#ff2e2e" stroke-width="1.5"/><rect x="792.3" y="546.0" width="9.4" height="9.4" fill="#fff" stroke="#ff2e2e" stroke-width="1.5"/><rect x="795.5" y="547.6" width="9.4" height="9.4" fill="#fff" stroke="#ff2e2e" stroke-width="1.5"/><rect x="798.7" y="549.1" width="9.4" height="9.4" fill="#fff" stroke="#ff2e2e" stroke-width="1.5"/><rect x="802.0" y="550.7" width="9.4" height="9.4" fill="#fff" stroke="#ff2e2e" stroke-width="1.5"/><rect x="805.2" y="552.3" width="9.4" height="9.4" fill="#fff" stroke="#ff2e2e" stroke-width="1.5"/><rect x="808.4" y="553.9" width="9.4" height="9.4" fill="#fff" stroke="#ff2e2e" stroke-width="1.5"/><rect x="811.7" y="555.5" width="9.4" height="9.4" fill="#fff" stroke="#ff2e2e" stroke-width="1.5"/><rect x="814.9" y="557.1" width="9.4" height="9.4" fill="#fff" stroke="#ff2e2e" stroke-width="1.5"/><rect x="818.1" y="558.7" width="9.4" height="9.4" fill="#fff" stroke="#ff2e2e" stroke-width="1.5"/><rect x="821.3" y="560.3" width="9.4" height="9.4" fill="#fff" stroke="#ff2e2e" stroke-width="1.5"/><rect x="824.5" y="561.9" width="9.4" height="9.4" fill="#fff" stroke="#ff2e2e" stroke-width="1.5"/><path d="M840.0 575.0 L851.4 578.7 L867.6 584.0 L886.5 590.1 L906.1 596.3 L924.5 601.6 L940.5 605.5 L955.9 608.7 L971.0 611.5 L985.8 614.0 L1000.4 616.4 L1014.9 618.9 L1030.7 621.5 L1046.8 624.1 L1061.9 626.5 L1074.8 628.5 L1084.0 630.0 L1084.0 630.0" fill="none" stroke="#ff2e2e" stroke-width="0.9"/><rect x="835.3" y="570.3" width="9.4" height="9.4" fill="#fff" stroke="#ff2e2e" stroke-width="1.5"/><rect x="838.7" y="571.4" width="9.4" height="9.4" fill="#fff" stroke="#ff2e2e" stroke-width="1.5"/><rect x="842.2" y="572.5" width="9.4" height="9.4" fill="#fff" stroke="#ff2e2e" stroke-width="1.5"/><rect x="845.6" y="573.6" width="9.4" height="9.4" fill="#fff" stroke="#ff2e2e" stroke-width="1.5"/><rect x="849.0" y="574.7" width="9.4" height="9.4" fill="#fff" stroke="#ff2e2e" stroke-width="1.5"/><rect x="852.4" y="575.9" width="9.4" height="9.4" fill="#fff" stroke="#ff2e2e" stroke-width="1.5"/><rect x="855.8" y="577.0" width="9.4" height="9.4" fill="#fff" stroke="#ff2e2e" stroke-width="1.5"/><rect x="859.3" y="578.1" width="9.4" height="9.4" fill="#fff" stroke="#ff2e2e" stroke-width="1.5"/><rect x="862.7" y="579.2" width="9.4" height="9.4" fill="#fff" stroke="#ff2e2e" stroke-width="1.5"/><rect x="866.1" y="580.4" width="9.4" height="9.4" fill="#fff" stroke="#ff2e2e" stroke-width="1.5"/><rect x="869.5" y="581.5" width="9.4" height="9.4" fill="#fff" stroke="#ff2e2e" stroke-width="1.5"/><rect x="872.9" y="582.6" width="9.4" height="9.4" fill="#fff" stroke="#ff2e2e" stroke-width="1.5"/><rect x="876.4" y="583.7" width="9.4" height="9.4" fill="#fff" stroke="#ff2e2e" stroke-width="1.5"/><rect x="879.8" y="584.8" width="9.4" height="9.4" fill="#fff" stroke="#ff2e2e" stroke-width="1.5"/><rect x="883.2" y="585.9" width="9.4" height="9.4" fill="#fff" stroke="#ff2e2e" stroke-width="1.5"/><rect x="886.7" y="587.0" width="9.4" height="9.4" fill="#fff" stroke="#ff2e2e" stroke-width="1.5"/><rect x="890.1" y="588.1" width="9.4" height="9.4" fill="#fff" stroke="#ff2e2e" stroke-width="1.5"/><rect x="893.5" y="589.1" width="9.4" height="9.4" fill="#fff" stroke="#ff2e2e" stroke-width="1.5"/><rect x="897.0" y="590.2" width="9.4" height="9.4" fill="#fff" stroke="#ff2e2e" stroke-width="1.5"/><rect x="900.4" y="591.3" width="9.4" height="9.4" fill="#fff" stroke="#ff2e2e" stroke-width="1.5"/><rect x="903.9" y="592.3" width="9.4" height="9.4" fill="#fff" stroke="#ff2e2e" stroke-width="1.5"/><rect x="907.3" y="593.3" width="9.4" height="9.4" fill="#fff" stroke="#ff2e2e" stroke-width="1.5"/><rect x="910.8" y="594.3" width="9.4" height="9.4" fill="#fff" stroke="#ff2e2e" stroke-width="1.5"/><rect x="914.2" y="595.3" width="9.4" height="9.4" fill="#fff" stroke="#ff2e2e" stroke-width="1.5"/><rect x="917.7" y="596.3" width="9.4" height="9.4" fill="#fff" stroke="#ff2e2e" stroke-width="1.5"/><rect x="921.2" y="597.2" width="9.4" height="9.4" fill="#fff" stroke="#ff2e2e" stroke-width="1.5"/><rect x="924.7" y="598.1" width="9.4" height="9.4" fill="#fff" stroke="#ff2e2e" stroke-width="1.5"/><rect x="928.1" y="599.0" width="9.4" height="9.4" fill="#fff" stroke="#ff2e2e" stroke-width="1.5"/><rect x="931.6" y="599.8" width="9.4" height="9.4" fill="#fff" stroke="#ff2e2e" stroke-width="1.5"/><rect x="935.2" y="600.7" width="9.4" height="9.4" fill="#fff" stroke="#ff2e2e" stroke-width="1.5"/><rect x="938.7" y="601.4" width="9.4" height="9.4" fill="#fff" stroke="#ff2e2e" stroke-width="1.5"/><rect x="942.2" y="602.2" width="9.4" height="9.4" fill="#fff" stroke="#ff2e2e" stroke-width="1.5"/><rect x="945.7" y="602.9" width="9.4" height="9.4" fill="#fff" stroke="#ff2e2e" stroke-width="1.5"/><rect x="949.2" y="603.6" width="9.4" height="9.4" fill="#fff" stroke="#ff2e2e" stroke-width="1.5"/><rect x="952.8" y="604.3" width="9.4" height="9.4" fill="#fff" stroke="#ff2e2e" stroke-width="1.5"/><rect x="956.3" y="605.0" width="9.4" height="9.4" fill="#fff" stroke="#ff2e2e" stroke-width="1.5"/><rect x="959.8" y="605.7" width="9.4" height="9.4" fill="#fff" stroke="#ff2e2e" stroke-width="1.5"/><rect x="963.4" y="606.3" width="9.4" height="9.4" fill="#fff" stroke="#ff2e2e" stroke-width="1.5"/><rect x="966.9" y="606.9" width="9.4" height="9.4" fill="#fff" stroke="#ff2e2e" stroke-width="1.5"/><rect x="970.5" y="607.5" width="9.4" height="9.4" fill="#fff" stroke="#ff2e2e" stroke-width="1.5"/><rect x="974.0" y="608.1" width="9.4" height="9.4" fill="#fff" stroke="#ff2e2e" stroke-width="1.5"/><rect x="977.6" y="608.7" width="9.4" height="9.4" fill="#fff" stroke="#ff2e2e" stroke-width="1.5"/><rect x="981.1" y="609.3" width="9.4" height="9.4" fill="#fff" stroke="#ff2e2e" stroke-width="1.5"/><rect x="984.7" y="609.9" width="9.4" height="9.4" fill="#fff" stroke="#ff2e2e" stroke-width="1.5"/><rect x="988.2" y="610.4" width="9.4" height="9.4" fill="#fff" stroke="#ff2e2e" stroke-width="1.5"/><rect x="991.8" y="611.0" width="9.4" height="9.4" fill="#fff" stroke="#ff2e2e" stroke-width="1.5"/><rect x="995.4" y="611.6" width="9.4" height="9.4" fill="#fff" stroke="#ff2e2e" stroke-width="1.5"/><rect x="998.9" y="612.2" width="9.4" height="9.4" fill="#fff" stroke="#ff2e2e" stroke-width="1.5"/><rect x="1002.5" y="612.8" width="9.4" height="9.4" fill="#fff" stroke="#ff2e2e" stroke-width="1.5"/><rect x="1006.0" y="613.4" width="9.4" height="9.4" fill="#fff" stroke="#ff2e2e" stroke-width="1.5"/><rect x="1009.5" y="614.0" width="9.4" height="9.4" fill="#fff" stroke="#ff2e2e" stroke-width="1.5"/><rect x="1013.1" y="614.6" width="9.4" height="9.4" fill="#fff" stroke="#ff2e2e" stroke-width="1.5"/><rect x="1016.6" y="615.2" width="9.4" height="9.4" fill="#fff" stroke="#ff2e2e" stroke-width="1.5"/><rect x="1020.2" y="615.8" width="9.4" height="9.4" fill="#fff" stroke="#ff2e2e" stroke-width="1.5"/><rect x="1023.7" y="616.4" width="9.4" height="9.4" fill="#fff" stroke="#ff2e2e" stroke-width="1.5"/><rect x="1027.3" y="617.0" width="9.4" height="9.4" fill="#fff" stroke="#ff2e2e" stroke-width="1.5"/><rect x="1030.9" y="617.6" width="9.4" height="9.4" fill="#fff" stroke="#ff2e2e" stroke-width="1.5"/><rect x="1034.4" y="618.2" width="9.4" height="9.4" fill="#fff" stroke="#ff2e2e" stroke-width="1.5"/><rect x="1038.0" y="618.7" width="9.4" height="9.4" fill="#fff" stroke="#ff2e2e" stroke-width="1.5"/><rect x="1041.5" y="619.3" width="9.4" height="9.4" fill="#fff" stroke="#ff2e2e" stroke-width="1.5"/><rect x="1045.1" y="619.9" width="9.4" height="9.4" fill="#fff" stroke="#ff2e2e" stroke-width="1.5"/><rect x="1048.6" y="620.4" width="9.4" height="9.4" fill="#fff" stroke="#ff2e2e" stroke-width="1.5"/><rect x="1052.2" y="621.0" width="9.4" height="9.4" fill="#fff" stroke="#ff2e2e" stroke-width="1.5"/><rect x="1055.7" y="621.6" width="9.4" height="9.4" fill="#fff" stroke="#ff2e2e" stroke-width="1.5"/><rect x="1059.3" y="622.1" width="9.4" height="9.4" fill="#fff" stroke="#ff2e2e" stroke-width="1.5"/><rect x="1062.8" y="622.7" width="9.4" height="9.4" fill="#fff" stroke="#ff2e2e" stroke-width="1.5"/><rect x="1066.4" y="623.3" width="9.4" height="9.4" fill="#fff" stroke="#ff2e2e" stroke-width="1.5"/><rect x="1070.0" y="623.8" width="9.4" height="9.4" fill="#fff" stroke="#ff2e2e" stroke-width="1.5"/><rect x="1073.5" y="624.4" width="9.4" height="9.4" fill="#fff" stroke="#ff2e2e" stroke-width="1.5"/><rect x="1077.1" y="624.9" width="9.4" height="9.4" fill="#fff" stroke="#ff2e2e" stroke-width="1.5"/></g><g clip-path="url(#cb)"><path d="M645.0 320.0 L645.1 323.8 L645.3 329.1 L645.4 335.4 L645.7 341.9 L645.9 348.1 L646.2 353.6 L646.5 359.1 L646.8 364.5 L647.2 369.8 L647.6 374.8 L648.2 379.5 L648.8 383.9 L649.5 388.0 L650.3 392.0 L651.1 396.0 L652.0 400.0 L653.0 404.1 L654.0 408.2 L655.1 412.2 L656.3 416.4 L657.6 420.6 L658.9 424.9 L660.2 429.2 L661.5 433.6 L663.0 438.1 L664.7 442.8 L666.7 447.6 L668.7 452.3 L670.8 457.1 L673.3 462.2 L676.3 467.7 L680.0 474.0 L684.6 481.5 L690.1 489.9 L696.0 498.9 L702.1 507.6 L708.1 515.6 L713.6 522.4 L718.7 528.5 L723.8 534.0 L729.1 539.2 L735.3 544.4 L742.6 549.8 L751.3 555.5 L761.0 561.1 L771.1 566.6 L781.0 571.6 L790.0 576.0 L798.7 579.7 L807.5 582.9 L815.8 585.6 L823.0 587.8 L828.6 589.5 L830.0 590.0" fill="none" stroke="#00f500" stroke-width="0.9"/><path d="M645.0 314.0L651.7 326.0L638.3 326.0Z" fill="#00f500"/><path d="M645.1 317.6L651.8 329.6L638.4 329.6Z" fill="#00f500"/><path d="M645.2 321.2L651.9 333.2L638.5 333.2Z" fill="#00f500"/><path d="M645.3 324.8L652.0 336.8L638.6 336.8Z" fill="#00f500"/><path d="M645.4 328.4L652.1 340.4L638.7 340.4Z" fill="#00f500"/><path d="M645.5 332.0L652.2 344.0L638.8 344.0Z" fill="#00f500"/><path d="M645.6 335.6L652.3 347.6L638.9 347.6Z" fill="#00f500"/><path d="M645.8 339.2L652.5 351.2L639.1 351.2Z" fill="#00f500"/><path d="M645.9 342.8L652.6 354.8L639.2 354.8Z" fill="#00f500"/><path d="M646.1 346.4L652.8 358.4L639.4 358.4Z" fill="#00f500"/><path d="M646.3 350.0L653.0 362.0L639.6 362.0Z" fill="#00f500"/><path d="M646.5 353.6L653.2 365.6L639.8 365.6Z" fill="#00f500"/><path d="M646.7 357.2L653.4 369.2L640.0 369.2Z" fill="#00f500"/><path d="M647.0 360.8L653.7 372.8L640.3 372.8Z" fill="#00f500"/><path d="M647.2 364.3L653.9 376.3L640.5 376.3Z" fill="#00f500"/><path d="M647.6 367.9L654.3 379.9L640.9 379.9Z" fill="#00f500"/><path d="M647.9 371.5L654.6 383.5L641.2 383.5Z" fill="#00f500"/><path d="M648.4 375.1L655.1 387.1L641.7 387.1Z" fill="#00f500"/><path d="M648.9 378.6L655.6 390.6L642.2 390.6Z" fill="#00f500"/><path d="M649.5 382.2L656.2 394.2L642.8 394.2Z" fill="#00f500"/><path d="M650.2 385.7L656.9 397.7L643.5 397.7Z" fill="#00f500"/><path d="M650.9 389.2L657.6 401.2L644.2 401.2Z" fill="#00f500"/><path d="M651.7 392.8L658.4 404.8L645.0 404.8Z" fill="#00f500"/><path d="M652.5 396.3L659.2 408.3L645.8 408.3Z" fill="#00f500"/><path d="M653.4 399.8L660.1 411.8L646.7 411.8Z" fill="#00f500"/><path d="M654.3 403.2L661.0 415.2L647.6 415.2Z" fill="#00f500"/><path d="M655.3 406.7L662.0 418.7L648.6 418.7Z" fill="#00f500"/><path d="M656.3 410.2L663.0 422.2L649.6 422.2Z" fill="#00f500"/><path d="M657.3 413.6L664.0 425.6L650.6 425.6Z" fill="#00f500"/><path d="M658.3 417.1L665.0 429.1L651.6 429.1Z" fill="#00f500"/><path d="M659.4 420.5L666.1 432.5L652.7 432.5Z" fill="#00f500"/><path d="M660.4 424.0L667.1 436.0L653.7 436.0Z" fill="#00f500"/><path d="M661.4 427.4L668.1 439.4L654.7 439.4Z" fill="#00f500"/><path d="M662.5 430.8L669.2 442.8L655.8 442.8Z" fill="#00f500"/><path d="M663.7 434.2L670.4 446.2L657.0 446.2Z" fill="#00f500"/><path d="M665.0 437.6L671.7 449.6L658.3 449.6Z" fill="#00f500"/><path d="M666.4 440.9L673.1 452.9L659.7 452.9Z" fill="#00f500"/><path d="M667.8 444.2L674.5 456.2L661.1 456.2Z" fill="#00f500"/><path d="M669.2 447.5L675.9 459.5L662.5 459.5Z" fill="#00f500"/><path d="M670.7 450.8L677.4 462.8L664.0 462.8Z" fill="#00f500"/><path d="M672.3 454.1L679.0 466.1L665.6 466.1Z" fill="#00f500"/><path d="M673.9 457.3L680.6 469.3L667.2 469.3Z" fill="#00f500"/><path d="M675.6 460.5L682.3 472.5L668.9 472.5Z" fill="#00f500"/><path d="M677.4 463.6L684.1 475.6L670.7 475.6Z" fill="#00f500"/><path d="M679.2 466.7L685.9 478.7L672.5 478.7Z" fill="#00f500"/><path d="M681.1 469.8L687.8 481.8L674.4 481.8Z" fill="#00f500"/><path d="M683.0 472.8L689.7 484.8L676.3 484.8Z" fill="#00f500"/><path d="M684.9 475.9L691.6 487.9L678.2 487.9Z" fill="#00f500"/><path d="M686.8 478.9L693.5 490.9L680.1 490.9Z" fill="#00f500"/><path d="M688.8 481.9L695.5 493.9L682.1 493.9Z" fill="#00f500"/><path d="M690.7 485.0L697.4 497.0L684.0 497.0Z" fill="#00f500"/><path d="M692.7 488.0L699.4 500.0L686.0 500.0Z" fill="#00f500"/><path d="M694.7 490.9L701.4 502.9L688.0 502.9Z" fill="#00f500"/><path d="M696.7 493.9L703.4 505.9L690.0 505.9Z" fill="#00f500"/><path d="M698.8 496.9L705.5 508.9L692.1 508.9Z" fill="#00f500"/><path d="M700.9 499.8L707.6 511.8L694.2 511.8Z" fill="#00f500"/><path d="M703.0 502.8L709.7 514.8L696.3 514.8Z" fill="#00f500"/><path d="M705.1 505.7L711.8 517.7L698.4 517.7Z" fill="#00f500"/><path d="M707.3 508.5L714.0 520.5L700.6 520.5Z" fill="#00f500"/><path d="M709.5 511.4L716.2 523.4L702.8 523.4Z" fill="#00f500"/><path d="M711.8 514.2L718.5 526.2L705.1 526.2Z" fill="#00f500"/><path d="M714.0 516.9L720.7 528.9L707.3 528.9Z" fill="#00f500"/><path d="M716.3 519.7L723.0 531.7L709.6 531.7Z" fill="#00f500"/><path d="M718.7 522.4L725.4 534.4L712.0 534.4Z" fill="#00f500"/><path d="M721.1 525.1L727.8 537.1L714.4 537.1Z" fill="#00f500"/><path d="M723.5 527.8L730.2 539.8L716.8 539.8Z" fill="#00f500"/><path d="M726.1 530.3L732.8 542.3L719.4 542.3Z" fill="#00f500"/><path d="M728.7 532.8L735.4 544.8L722.0 544.8Z" fill="#00f500"/><path d="M731.4 535.2L738.1 547.2L724.7 547.2Z" fill="#00f500"/><path d="M734.1 537.5L740.8 549.5L727.4 549.5Z" fill="#00f500"/><path d="M737.0 539.7L743.7 551.7L730.3 551.7Z" fill="#00f500"/><path d="M739.8 541.9L746.5 553.9L733.1 553.9Z" fill="#00f500"/><path d="M742.8 544.0L749.5 556.0L736.1 556.0Z" fill="#00f500"/><path d="M745.8 546.0L752.5 558.0L739.1 558.0Z" fill="#00f500"/><path d="M748.8 547.9L755.5 559.9L742.1 559.9Z" fill="#00f500"/><path d="M751.9 549.8L758.6 561.8L745.2 561.8Z" fill="#00f500"/><path d="M755.0 551.6L761.7 563.6L748.3 563.6Z" fill="#00f500"/><path d="M758.1 553.5L764.8 565.5L751.4 565.5Z" fill="#00f500"/><path d="M761.2 555.2L767.9 567.2L754.5 567.2Z" fill="#00f500"/><path d="M764.3 557.0L771.0 569.0L757.6 569.0Z" fill="#00f500"/><path d="M767.5 558.7L774.2 570.7L760.8 570.7Z" fill="#00f500"/><path d="M770.7 560.4L777.4 572.4L764.0 572.4Z" fill="#00f500"/><path d="M773.9 562.1L780.6 574.1L767.2 574.1Z" fill="#00f500"/><path d="M777.1 563.7L783.8 575.7L770.4 575.7Z" fill="#00f500"/><path d="M780.3 565.3L787.0 577.3L773.6 577.3Z" fill="#00f500"/><path d="M783.5 566.9L790.2 578.9L776.8 578.9Z" fill="#00f500"/><path d="M786.8 568.5L793.5 580.5L780.1 580.5Z" fill="#00f500"/><path d="M790.0 570.0L796.7 582.0L783.3 582.0Z" fill="#00f500"/><path d="M793.3 571.5L800.0 583.5L786.6 583.5Z" fill="#00f500"/><path d="M796.6 572.9L803.3 584.9L789.9 584.9Z" fill="#00f500"/><path d="M800.0 574.2L806.7 586.2L793.3 586.2Z" fill="#00f500"/><path d="M803.4 575.4L810.1 587.4L796.7 587.4Z" fill="#00f500"/><path d="M806.8 576.6L813.5 588.6L800.1 588.6Z" fill="#00f500"/><path d="M810.2 577.8L816.9 589.8L803.5 589.8Z" fill="#00f500"/><path d="M813.6 578.9L820.3 590.9L806.9 590.9Z" fill="#00f500"/><path d="M817.0 580.0L823.7 592.0L810.3 592.0Z" fill="#00f500"/><path d="M820.5 581.0L827.2 593.0L813.8 593.0Z" fill="#00f500"/><path d="M823.9 582.1L830.6 594.1L817.2 594.1Z" fill="#00f500"/><path d="M827.3 583.1L834.0 595.1L820.6 595.1Z" fill="#00f500"/><path d="M840.0 598.0 L851.4 601.6 L867.6 606.7 L886.5 612.6 L906.1 618.5 L924.5 623.6 L940.5 627.5 L955.9 630.7 L970.9 633.4 L985.7 635.9 L1000.3 638.4 L1015.0 640.9 L1030.9 643.5 L1047.2 646.1 L1062.6 648.5 L1075.7 650.5 L1085.0 652.0 L1085.0 652.0" fill="none" stroke="#00f500" stroke-width="0.9"/><path d="M840.0 592.0L846.7 604.0L833.3 604.0Z" fill="#00f500"/><path d="M843.4 593.1L850.1 605.1L836.7 605.1Z" fill="#00f500"/><path d="M846.9 594.1L853.6 606.1L840.2 606.1Z" fill="#00f500"/><path d="M850.3 595.2L857.0 607.2L843.6 607.2Z" fill="#00f500"/><path d="M853.7 596.3L860.4 608.3L847.0 608.3Z" fill="#00f500"/><path d="M857.2 597.4L863.9 609.4L850.5 609.4Z" fill="#00f500"/><path d="M860.6 598.5L867.3 610.5L853.9 610.5Z" fill="#00f500"/><path d="M864.0 599.6L870.7 611.6L857.3 611.6Z" fill="#00f500"/><path d="M867.5 600.6L874.2 612.6L860.8 612.6Z" fill="#00f500"/><path d="M870.9 601.7L877.6 613.7L864.2 613.7Z" fill="#00f500"/><path d="M874.3 602.8L881.0 614.8L867.6 614.8Z" fill="#00f500"/><path d="M877.8 603.9L884.5 615.9L871.1 615.9Z" fill="#00f500"/><path d="M881.2 604.9L887.9 616.9L874.5 616.9Z" fill="#00f500"/><path d="M884.7 606.0L891.4 618.0L878.0 618.0Z" fill="#00f500"/><path d="M888.1 607.1L894.8 619.1L881.4 619.1Z" fill="#00f500"/><path d="M891.5 608.1L898.2 620.1L884.8 620.1Z" fill="#00f500"/><path d="M895.0 609.2L901.7 621.2L888.3 621.2Z" fill="#00f500"/><path d="M898.4 610.2L905.1 622.2L891.7 622.2Z" fill="#00f500"/><path d="M901.9 611.2L908.6 623.2L895.2 623.2Z" fill="#00f500"/><path d="M905.3 612.2L912.0 624.2L898.6 624.2Z" fill="#00f500"/><path d="M908.8 613.2L915.5 625.2L902.1 625.2Z" fill="#00f500"/><path d="M912.3 614.2L919.0 626.2L905.6 626.2Z" fill="#00f500"/><path d="M915.7 615.2L922.4 627.2L909.0 627.2Z" fill="#00f500"/><path d="M919.2 616.2L925.9 628.2L912.5 628.2Z" fill="#00f500"/><path d="M922.7 617.1L929.4 629.1L916.0 629.1Z" fill="#00f500"/><path d="M926.1 618.0L932.8 630.0L919.4 630.0Z" fill="#00f500"/><path d="M929.6 618.9L936.3 630.9L922.9 630.9Z" fill="#00f500"/><path d="M933.1 619.8L939.8 631.8L926.4 631.8Z" fill="#00f500"/><path d="M936.6 620.6L943.3 632.6L929.9 632.6Z" fill="#00f500"/><path d="M940.1 621.4L946.8 633.4L933.4 633.4Z" fill="#00f500"/><path d="M943.7 622.2L950.4 634.2L937.0 634.2Z" fill="#00f500"/><path d="M947.2 622.9L953.9 634.9L940.5 634.9Z" fill="#00f500"/><path d="M950.7 623.6L957.4 635.6L944.0 635.6Z" fill="#00f500"/><path d="M954.2 624.3L960.9 636.3L947.5 636.3Z" fill="#00f500"/><path d="M957.8 625.0L964.5 637.0L951.1 637.0Z" fill="#00f500"/><path d="M961.3 625.7L968.0 637.7L954.6 637.7Z" fill="#00f500"/><path d="M964.9 626.4L971.6 638.4L958.2 638.4Z" fill="#00f500"/><path d="M968.4 627.0L975.1 639.0L961.7 639.0Z" fill="#00f500"/><path d="M971.9 627.6L978.6 639.6L965.2 639.6Z" fill="#00f500"/><path d="M975.5 628.2L982.2 640.2L968.8 640.2Z" fill="#00f500"/><path d="M979.0 628.8L985.7 640.8L972.3 640.8Z" fill="#00f500"/><path d="M982.6 629.4L989.3 641.4L975.9 641.4Z" fill="#00f500"/><path d="M986.1 630.0L992.8 642.0L979.4 642.0Z" fill="#00f500"/><path d="M989.7 630.6L996.4 642.6L983.0 642.6Z" fill="#00f500"/><path d="M993.2 631.2L999.9 643.2L986.5 643.2Z" fill="#00f500"/><path d="M996.8 631.8L1003.5 643.8L990.1 643.8Z" fill="#00f500"/><path d="M1000.3 632.4L1007.0 644.4L993.6 644.4Z" fill="#00f500"/><path d="M1003.9 633.0L1010.6 645.0L997.2 645.0Z" fill="#00f500"/><path d="M1007.4 633.6L1014.1 645.6L1000.7 645.6Z" fill="#00f500"/><path d="M1011.0 634.2L1017.7 646.2L1004.3 646.2Z" fill="#00f500"/><path d="M1014.5 634.8L1021.2 646.8L1007.8 646.8Z" fill="#00f500"/><path d="M1018.1 635.4L1024.8 647.4L1011.4 647.4Z" fill="#00f500"/><path d="M1021.6 636.0L1028.3 648.0L1014.9 648.0Z" fill="#00f500"/><path d="M1025.2 636.6L1031.9 648.6L1018.5 648.6Z" fill="#00f500"/><path d="M1028.7 637.1L1035.4 649.1L1022.0 649.1Z" fill="#00f500"/><path d="M1032.3 637.7L1039.0 649.7L1025.6 649.7Z" fill="#00f500"/><path d="M1035.9 638.3L1042.6 650.3L1029.2 650.3Z" fill="#00f500"/><path d="M1039.4 638.9L1046.1 650.9L1032.7 650.9Z" fill="#00f500"/><path d="M1043.0 639.4L1049.7 651.4L1036.3 651.4Z" fill="#00f500"/><path d="M1046.5 640.0L1053.2 652.0L1039.8 652.0Z" fill="#00f500"/><path d="M1050.1 640.6L1056.8 652.6L1043.4 652.6Z" fill="#00f500"/><path d="M1053.6 641.1L1060.3 653.1L1046.9 653.1Z" fill="#00f500"/><path d="M1057.2 641.7L1063.9 653.7L1050.5 653.7Z" fill="#00f500"/><path d="M1060.7 642.2L1067.4 654.2L1054.0 654.2Z" fill="#00f500"/><path d="M1064.3 642.8L1071.0 654.8L1057.6 654.8Z" fill="#00f500"/><path d="M1067.9 643.3L1074.6 655.3L1061.2 655.3Z" fill="#00f500"/><path d="M1071.4 643.9L1078.1 655.9L1064.7 655.9Z" fill="#00f500"/><path d="M1075.0 644.4L1081.7 656.4L1068.3 656.4Z" fill="#00f500"/><path d="M1078.5 645.0L1085.2 657.0L1071.8 657.0Z" fill="#00f500"/><path d="M1082.1 645.5L1088.8 657.5L1075.4 657.5Z" fill="#00f500"/></g><g clip-path="url(#cb)"><path d="M645.0 320.0 L645.0 325.1 L645.0 332.2 L645.0 340.6 L645.0 349.3 L645.0 357.5 L645.0 364.8 L644.8 372.0 L644.6 379.0 L644.6 385.9 L644.7 392.6 L645.2 399.2 L646.1 405.6 L647.2 411.9 L648.5 418.0 L649.8 423.8 L651.0 429.0 L652.1 433.6 L653.2 437.8 L654.2 441.5 L655.4 445.1 L656.6 448.8 L657.9 452.5 L659.4 456.2 L660.9 459.8 L662.5 463.3 L664.0 466.7 L665.5 470.1 L666.8 473.4 L668.1 476.6 L669.3 479.8 L670.6 482.9 L672.0 486.0 L673.3 488.9 L674.6 491.5 L676.0 494.2 L677.5 497.2 L679.3 500.7 L681.5 504.9 L684.2 509.9 L687.1 515.2 L690.1 520.8 L693.1 526.4 L695.9 531.7 L698.4 537.0 L700.8 542.1 L703.3 547.4 L706.3 552.6 L710.0 558.0 L714.4 563.4 L719.3 568.9 L724.7 574.5 L730.7 580.2 L737.5 586.0 L745.4 592.2 L754.5 598.8 L764.4 605.6 L774.4 612.3 L784.1 618.4 L792.8 623.7 L801.6 628.5 L810.3 632.8 L818.4 636.6 L825.1 639.7 L830.0 642.0 L830.0 642.0" fill="none" stroke="#00f500" stroke-width="0.9"/><path d="M645.0 314.0L651.7 326.0L638.3 326.0Z" fill="#00f500"/><path d="M645.0 317.6L651.7 329.6L638.3 329.6Z" fill="#00f500"/><path d="M645.0 321.2L651.7 333.2L638.3 333.2Z" fill="#00f500"/><path d="M645.0 324.8L651.7 336.8L638.3 336.8Z" fill="#00f500"/><path d="M645.0 328.4L651.7 340.4L638.3 340.4Z" fill="#00f500"/><path d="M645.0 332.0L651.7 344.0L638.3 344.0Z" fill="#00f500"/><path d="M645.0 335.6L651.7 347.6L638.3 347.6Z" fill="#00f500"/><path d="M645.0 339.2L651.7 351.2L638.3 351.2Z" fill="#00f500"/><path d="M645.0 342.8L651.7 354.8L638.3 354.8Z" fill="#00f500"/><path d="M645.0 346.4L651.7 358.4L638.3 358.4Z" fill="#00f500"/><path d="M645.0 350.0L651.7 362.0L638.3 362.0Z" fill="#00f500"/><path d="M645.0 353.6L651.7 365.6L638.3 365.6Z" fill="#00f500"/><path d="M645.0 357.2L651.7 369.2L638.3 369.2Z" fill="#00f500"/><path d="M644.9 360.8L651.6 372.8L638.2 372.8Z" fill="#00f500"/><path d="M644.8 364.4L651.5 376.4L638.1 376.4Z" fill="#00f500"/><path d="M644.7 368.0L651.4 380.0L638.0 380.0Z" fill="#00f500"/><path d="M644.7 371.6L651.4 383.6L638.0 383.6Z" fill="#00f500"/><path d="M644.6 375.2L651.3 387.2L637.9 387.2Z" fill="#00f500"/><path d="M644.6 378.8L651.3 390.8L637.9 390.8Z" fill="#00f500"/><path d="M644.6 382.4L651.3 394.4L637.9 394.4Z" fill="#00f500"/><path d="M644.7 386.0L651.4 398.0L638.0 398.0Z" fill="#00f500"/><path d="M644.9 389.6L651.6 401.6L638.2 401.6Z" fill="#00f500"/><path d="M645.2 393.2L651.9 405.2L638.5 405.2Z" fill="#00f500"/><path d="M645.7 396.7L652.4 408.7L639.0 408.7Z" fill="#00f500"/><path d="M646.2 400.3L652.9 412.3L639.5 412.3Z" fill="#00f500"/><path d="M646.8 403.9L653.5 415.9L640.1 415.9Z" fill="#00f500"/><path d="M647.5 407.4L654.2 419.4L640.8 419.4Z" fill="#00f500"/><path d="M648.2 410.9L654.9 422.9L641.5 422.9Z" fill="#00f500"/><path d="M649.0 414.4L655.7 426.4L642.3 426.4Z" fill="#00f500"/><path d="M649.8 417.9L656.5 429.9L643.1 429.9Z" fill="#00f500"/><path d="M650.6 421.4L657.3 433.4L643.9 433.4Z" fill="#00f500"/><path d="M651.4 424.9L658.1 436.9L644.7 436.9Z" fill="#00f500"/><path d="M652.3 428.4L659.0 440.4L645.6 440.4Z" fill="#00f500"/><path d="M653.2 431.9L659.9 443.9L646.5 443.9Z" fill="#00f500"/><path d="M654.2 435.4L660.9 447.4L647.5 447.4Z" fill="#00f500"/><path d="M655.3 438.8L662.0 450.8L648.6 450.8Z" fill="#00f500"/><path d="M656.4 442.2L663.1 454.2L649.7 454.2Z" fill="#00f500"/><path d="M657.6 445.6L664.3 457.6L650.9 457.6Z" fill="#00f500"/><path d="M658.9 449.0L665.6 461.0L652.2 461.0Z" fill="#00f500"/><path d="M660.3 452.3L667.0 464.3L653.6 464.3Z" fill="#00f500"/><path d="M661.8 455.6L668.5 467.6L655.1 467.6Z" fill="#00f500"/><path d="M663.2 458.9L669.9 470.9L656.5 470.9Z" fill="#00f500"/><path d="M664.7 462.2L671.4 474.2L658.0 474.2Z" fill="#00f500"/><path d="M666.0 465.5L672.7 477.5L659.3 477.5Z" fill="#00f500"/><path d="M667.4 468.9L674.1 480.9L660.7 480.9Z" fill="#00f500"/><path d="M668.7 472.2L675.4 484.2L662.0 484.2Z" fill="#00f500"/><path d="M670.1 475.5L676.8 487.5L663.4 487.5Z" fill="#00f500"/><path d="M671.5 478.8L678.2 490.8L664.8 490.8Z" fill="#00f500"/><path d="M673.0 482.1L679.7 494.1L666.3 494.1Z" fill="#00f500"/><path d="M674.5 485.4L681.2 497.4L667.8 497.4Z" fill="#00f500"/><path d="M676.1 488.6L682.8 500.6L669.4 500.6Z" fill="#00f500"/><path d="M677.8 491.8L684.5 503.8L671.1 503.8Z" fill="#00f500"/><path d="M679.5 495.0L686.2 507.0L672.8 507.0Z" fill="#00f500"/><path d="M681.1 498.2L687.8 510.2L674.4 510.2Z" fill="#00f500"/><path d="M682.8 501.3L689.5 513.3L676.1 513.3Z" fill="#00f500"/><path d="M684.5 504.5L691.2 516.5L677.8 516.5Z" fill="#00f500"/><path d="M686.2 507.7L692.9 519.7L679.5 519.7Z" fill="#00f500"/><path d="M687.9 510.9L694.6 522.9L681.2 522.9Z" fill="#00f500"/><path d="M689.6 514.0L696.3 526.0L682.9 526.0Z" fill="#00f500"/><path d="M691.3 517.2L698.0 529.2L684.6 529.2Z" fill="#00f500"/><path d="M693.1 520.4L699.8 532.4L686.4 532.4Z" fill="#00f500"/><path d="M694.8 523.5L701.5 535.5L688.1 535.5Z" fill="#00f500"/><path d="M696.4 526.7L703.1 538.7L689.7 538.7Z" fill="#00f500"/><path d="M698.0 530.0L704.7 542.0L691.3 542.0Z" fill="#00f500"/><path d="M699.4 533.3L706.1 545.3L692.7 545.3Z" fill="#00f500"/><path d="M700.9 536.5L707.6 548.5L694.2 548.5Z" fill="#00f500"/><path d="M702.5 539.8L709.2 551.8L695.8 551.8Z" fill="#00f500"/><path d="M704.1 543.0L710.8 555.0L697.4 555.0Z" fill="#00f500"/><path d="M705.9 546.1L712.6 558.1L699.2 558.1Z" fill="#00f500"/><path d="M707.9 549.1L714.6 561.1L701.2 561.1Z" fill="#00f500"/><path d="M710.0 552.0L716.7 564.0L703.3 564.0Z" fill="#00f500"/><path d="M712.3 554.8L719.0 566.8L705.6 566.8Z" fill="#00f500"/><path d="M714.6 557.6L721.3 569.6L707.9 569.6Z" fill="#00f500"/><path d="M716.9 560.3L723.6 572.3L710.2 572.3Z" fill="#00f500"/><path d="M719.3 563.0L726.0 575.0L712.6 575.0Z" fill="#00f500"/><path d="M721.8 565.6L728.5 577.6L715.1 577.6Z" fill="#00f500"/><path d="M724.4 568.2L731.1 580.2L717.7 580.2Z" fill="#00f500"/><path d="M726.9 570.7L733.6 582.7L720.2 582.7Z" fill="#00f500"/><path d="M729.6 573.1L736.3 585.1L722.9 585.1Z" fill="#00f500"/><path d="M732.3 575.5L739.0 587.5L725.6 587.5Z" fill="#00f500"/><path d="M735.0 577.9L741.7 589.9L728.3 589.9Z" fill="#00f500"/><path d="M737.8 580.2L744.5 592.2L731.1 592.2Z" fill="#00f500"/><path d="M740.6 582.4L747.3 594.4L733.9 594.4Z" fill="#00f500"/><path d="M743.4 584.7L750.1 596.7L736.7 596.7Z" fill="#00f500"/><path d="M746.3 586.8L753.0 598.8L739.6 598.8Z" fill="#00f500"/><path d="M749.2 589.0L755.9 601.0L742.5 601.0Z" fill="#00f500"/><path d="M752.1 591.1L758.8 603.1L745.4 603.1Z" fill="#00f500"/><path d="M755.0 593.2L761.7 605.2L748.3 605.2Z" fill="#00f500"/><path d="M758.0 595.2L764.7 607.2L751.3 607.2Z" fill="#00f500"/><path d="M760.9 597.3L767.6 609.3L754.2 609.3Z" fill="#00f500"/><path d="M763.9 599.3L770.6 611.3L757.2 611.3Z" fill="#00f500"/><path d="M766.9 601.3L773.6 613.3L760.2 613.3Z" fill="#00f500"/><path d="M769.9 603.3L776.6 615.3L763.2 615.3Z" fill="#00f500"/><path d="M772.9 605.3L779.6 617.3L766.2 617.3Z" fill="#00f500"/><path d="M775.9 607.2L782.6 619.2L769.2 619.2Z" fill="#00f500"/><path d="M779.0 609.2L785.7 621.2L772.3 621.2Z" fill="#00f500"/><path d="M782.0 611.1L788.7 623.1L775.3 623.1Z" fill="#00f500"/><path d="M785.1 613.0L791.8 625.0L778.4 625.0Z" fill="#00f500"/><path d="M788.1 614.9L794.8 626.9L781.4 626.9Z" fill="#00f500"/><path d="M791.2 616.7L797.9 628.7L784.5 628.7Z" fill="#00f500"/><path d="M794.3 618.5L801.0 630.5L787.6 630.5Z" fill="#00f500"/><path d="M797.5 620.2L804.2 632.2L790.8 632.2Z" fill="#00f500"/><path d="M800.7 621.9L807.4 633.9L794.0 633.9Z" fill="#00f500"/><path d="M803.9 623.6L810.6 635.6L797.2 635.6Z" fill="#00f500"/><path d="M807.1 625.2L813.8 637.2L800.4 637.2Z" fill="#00f500"/><path d="M810.3 626.8L817.0 638.8L803.6 638.8Z" fill="#00f500"/><path d="M813.6 628.3L820.3 640.3L806.9 640.3Z" fill="#00f500"/><path d="M816.8 629.9L823.5 641.9L810.1 641.9Z" fill="#00f500"/><path d="M820.1 631.4L826.8 643.4L813.4 643.4Z" fill="#00f500"/><path d="M823.4 632.9L830.1 644.9L816.7 644.9Z" fill="#00f500"/><path d="M826.6 634.4L833.3 646.4L819.9 646.4Z" fill="#00f500"/><path d="M829.9 635.9L836.6 647.9L823.2 647.9Z" fill="#00f500"/><path d="M840.0 648.0 L851.4 651.4 L867.6 656.4 L886.5 662.1 L906.1 667.7 L924.5 672.7 L940.5 676.3 L956.0 679.3 L971.1 681.8 L985.9 684.0 L1000.4 686.3 L1014.9 688.9 L1030.5 691.8 L1046.4 694.9 L1061.3 697.8 L1073.9 700.2 L1083.0 702.0 L1083.0 702.0" fill="none" stroke="#00f500" stroke-width="0.9"/><path d="M840.0 642.0L846.7 654.0L833.3 654.0Z" fill="#00f500"/><path d="M843.5 643.0L850.2 655.0L836.8 655.0Z" fill="#00f500"/><path d="M846.9 644.1L853.6 656.1L840.2 656.1Z" fill="#00f500"/><path d="M850.3 645.1L857.0 657.1L843.6 657.1Z" fill="#00f500"/><path d="M853.8 646.2L860.5 658.2L847.1 658.2Z" fill="#00f500"/><path d="M857.2 647.2L863.9 659.2L850.5 659.2Z" fill="#00f500"/><path d="M860.7 648.3L867.4 660.3L854.0 660.3Z" fill="#00f500"/><path d="M864.1 649.3L870.8 661.3L857.4 661.3Z" fill="#00f500"/><path d="M867.6 650.4L874.3 662.4L860.9 662.4Z" fill="#00f500"/><path d="M871.0 651.4L877.7 663.4L864.3 663.4Z" fill="#00f500"/><path d="M874.4 652.5L881.1 664.5L867.7 664.5Z" fill="#00f500"/><path d="M877.9 653.5L884.6 665.5L871.2 665.5Z" fill="#00f500"/><path d="M881.3 654.5L888.0 666.5L874.6 666.5Z" fill="#00f500"/><path d="M884.8 655.6L891.5 667.6L878.1 667.6Z" fill="#00f500"/><path d="M888.2 656.6L894.9 668.6L881.5 668.6Z" fill="#00f500"/><path d="M891.7 657.6L898.4 669.6L885.0 669.6Z" fill="#00f500"/><path d="M895.2 658.6L901.9 670.6L888.5 670.6Z" fill="#00f500"/><path d="M898.6 659.6L905.3 671.6L891.9 671.6Z" fill="#00f500"/><path d="M902.1 660.6L908.8 672.6L895.4 672.6Z" fill="#00f500"/><path d="M905.5 661.6L912.2 673.6L898.8 673.6Z" fill="#00f500"/><path d="M909.0 662.5L915.7 674.5L902.3 674.5Z" fill="#00f500"/><path d="M912.5 663.5L919.2 675.5L905.8 675.5Z" fill="#00f500"/><path d="M916.0 664.4L922.7 676.4L909.3 676.4Z" fill="#00f500"/><path d="M919.4 665.4L926.1 677.4L912.7 677.4Z" fill="#00f500"/><path d="M922.9 666.3L929.6 678.3L916.2 678.3Z" fill="#00f500"/><path d="M926.4 667.1L933.1 679.1L919.7 679.1Z" fill="#00f500"/><path d="M929.9 668.0L936.6 680.0L923.2 680.0Z" fill="#00f500"/><path d="M933.4 668.8L940.1 680.8L926.7 680.8Z" fill="#00f500"/><path d="M936.9 669.6L943.6 681.6L930.2 681.6Z" fill="#00f500"/><path d="M940.5 670.3L947.2 682.3L933.8 682.3Z" fill="#00f500"/><path d="M944.0 671.0L950.7 683.0L937.3 683.0Z" fill="#00f500"/><path d="M947.5 671.7L954.2 683.7L940.8 683.7Z" fill="#00f500"/><path d="M951.1 672.4L957.8 684.4L944.4 684.4Z" fill="#00f500"/><path d="M954.6 673.0L961.3 685.0L947.9 685.0Z" fill="#00f500"/><path d="M958.1 673.6L964.8 685.6L951.4 685.6Z" fill="#00f500"/><path d="M961.7 674.2L968.4 686.2L955.0 686.2Z" fill="#00f500"/><path d="M965.2 674.8L971.9 686.8L958.5 686.8Z" fill="#00f500"/><path d="M968.8 675.4L975.5 687.4L962.1 687.4Z" fill="#00f500"/><path d="M972.4 676.0L979.1 688.0L965.7 688.0Z" fill="#00f500"/><path d="M975.9 676.5L982.6 688.5L969.2 688.5Z" fill="#00f500"/><path d="M979.5 677.1L986.2 689.1L972.8 689.1Z" fill="#00f500"/><path d="M983.0 677.6L989.7 689.6L976.3 689.6Z" fill="#00f500"/><path d="M986.6 678.1L993.3 690.1L979.9 690.1Z" fill="#00f500"/><path d="M990.1 678.7L996.8 690.7L983.4 690.7Z" fill="#00f500"/><path d="M993.7 679.3L1000.4 691.3L987.0 691.3Z" fill="#00f500"/><path d="M997.3 679.8L1004.0 691.8L990.6 691.8Z" fill="#00f500"/><path d="M1000.8 680.4L1007.5 692.4L994.1 692.4Z" fill="#00f500"/><path d="M1004.4 681.0L1011.1 693.0L997.7 693.0Z" fill="#00f500"/><path d="M1007.9 681.6L1014.6 693.6L1001.2 693.6Z" fill="#00f500"/><path d="M1011.4 682.3L1018.1 694.3L1004.7 694.3Z" fill="#00f500"/><path d="M1015.0 682.9L1021.7 694.9L1008.3 694.9Z" fill="#00f500"/><path d="M1018.5 683.6L1025.2 695.6L1011.8 695.6Z" fill="#00f500"/><path d="M1022.1 684.2L1028.8 696.2L1015.4 696.2Z" fill="#00f500"/><path d="M1025.6 684.9L1032.3 696.9L1018.9 696.9Z" fill="#00f500"/><path d="M1029.1 685.6L1035.8 697.6L1022.4 697.6Z" fill="#00f500"/><path d="M1032.7 686.3L1039.4 698.3L1026.0 698.3Z" fill="#00f500"/><path d="M1036.2 686.9L1042.9 698.9L1029.5 698.9Z" fill="#00f500"/><path d="M1039.7 687.6L1046.4 699.6L1033.0 699.6Z" fill="#00f500"/><path d="M1043.3 688.3L1050.0 700.3L1036.6 700.3Z" fill="#00f500"/><path d="M1046.8 689.0L1053.5 701.0L1040.1 701.0Z" fill="#00f500"/><path d="M1050.4 689.7L1057.1 701.7L1043.7 701.7Z" fill="#00f500"/><path d="M1053.9 690.3L1060.6 702.3L1047.2 702.3Z" fill="#00f500"/><path d="M1057.4 691.0L1064.1 703.0L1050.7 703.0Z" fill="#00f500"/><path d="M1061.0 691.7L1067.7 703.7L1054.3 703.7Z" fill="#00f500"/><path d="M1064.5 692.4L1071.2 704.4L1057.8 704.4Z" fill="#00f500"/><path d="M1068.0 693.1L1074.7 705.1L1061.3 705.1Z" fill="#00f500"/><path d="M1071.6 693.8L1078.3 705.8L1064.9 705.8Z" fill="#00f500"/><path d="M1075.1 694.5L1081.8 706.5L1068.4 706.5Z" fill="#00f500"/><path d="M1078.6 695.2L1085.3 707.2L1071.9 707.2Z" fill="#00f500"/><path d="M1082.2 695.8L1088.9 707.8L1075.5 707.8Z" fill="#00f500"/></g><g clip-path="url(#cb)"><path d="M645.0 320.0 L645.1 324.1 L645.3 329.9 L645.4 336.7 L645.7 343.7 L645.9 350.1 L646.2 355.6 L646.5 360.7 L646.8 365.6 L647.2 370.4 L647.6 375.0 L648.2 379.5 L648.8 383.8 L649.4 387.9 L650.1 391.9 L651.0 395.9 L652.0 400.0 L653.2 404.1 L654.6 408.2 L656.1 412.2 L657.8 416.4 L659.4 420.6 L661.2 424.9 L663.0 429.5 L664.9 434.2 L666.8 438.8 L668.7 443.2 L670.6 447.3 L672.4 451.0 L674.1 454.4 L675.9 457.8 L677.8 461.3 L680.0 465.0 L682.5 469.1 L685.3 473.5 L688.2 477.9 L691.1 482.4 L694.1 486.6 L696.8 490.6 L699.2 494.1 L701.6 497.6 L704.2 501.1 L707.4 505.0 L711.5 509.6 L716.6 515.2 L722.4 521.3 L728.5 527.5 L734.5 533.2 L740.0 538.0 L745.0 541.7 L749.7 544.7 L754.3 547.2 L758.9 549.4 L763.4 551.3 L768.2 553.2 L773.0 554.6 L777.8 555.8 L782.6 556.9 L787.1 558.1 L791.4 559.5 L795.4 561.1 L799.1 562.9 L802.7 564.6 L806.3 566.3 L810.0 568.0 L814.0 569.7 L818.4 571.4 L822.6 573.1 L826.4 574.6 L829.3 575.7 L830.0 576.0" fill="none" stroke="#a23c3c" stroke-width="0.9"/><path d="M645.0 312.7L652.3 320.0L645.0 327.3L637.7 320.0Z" fill="#fff" stroke="#a23c3c" stroke-width="1.5"/><path d="M645.1 316.3L652.4 323.6L645.1 330.9L637.8 323.6Z" fill="#fff" stroke="#a23c3c" stroke-width="1.5"/><path d="M645.2 319.9L652.5 327.2L645.2 334.5L637.9 327.2Z" fill="#fff" stroke="#a23c3c" stroke-width="1.5"/><path d="M645.3 323.5L652.6 330.8L645.3 338.1L638.0 330.8Z" fill="#fff" stroke="#a23c3c" stroke-width="1.5"/><path d="M645.4 327.1L652.7 334.4L645.4 341.7L638.1 334.4Z" fill="#fff" stroke="#a23c3c" stroke-width="1.5"/><path d="M645.5 330.7L652.8 338.0L645.5 345.3L638.2 338.0Z" fill="#fff" stroke="#a23c3c" stroke-width="1.5"/><path d="M645.6 334.3L652.9 341.6L645.6 348.9L638.3 341.6Z" fill="#fff" stroke="#a23c3c" stroke-width="1.5"/><path d="M645.7 337.9L653.0 345.2L645.7 352.5L638.4 345.2Z" fill="#fff" stroke="#a23c3c" stroke-width="1.5"/><path d="M645.9 341.5L653.2 348.8L645.9 356.1L638.6 348.8Z" fill="#fff" stroke="#a23c3c" stroke-width="1.5"/><path d="M646.0 345.1L653.3 352.4L646.0 359.7L638.7 352.4Z" fill="#fff" stroke="#a23c3c" stroke-width="1.5"/><path d="M646.2 348.7L653.5 356.0L646.2 363.3L638.9 356.0Z" fill="#fff" stroke="#a23c3c" stroke-width="1.5"/><path d="M646.4 352.3L653.7 359.6L646.4 366.9L639.1 359.6Z" fill="#fff" stroke="#a23c3c" stroke-width="1.5"/><path d="M646.6 355.9L653.9 363.2L646.6 370.5L639.3 363.2Z" fill="#fff" stroke="#a23c3c" stroke-width="1.5"/><path d="M646.9 359.5L654.2 366.8L646.9 374.1L639.6 366.8Z" fill="#fff" stroke="#a23c3c" stroke-width="1.5"/><path d="M647.2 363.0L654.5 370.3L647.2 377.6L639.9 370.3Z" fill="#fff" stroke="#a23c3c" stroke-width="1.5"/><path d="M647.5 366.6L654.8 373.9L647.5 381.2L640.2 373.9Z" fill="#fff" stroke="#a23c3c" stroke-width="1.5"/><path d="M647.9 370.2L655.2 377.5L647.9 384.8L640.6 377.5Z" fill="#fff" stroke="#a23c3c" stroke-width="1.5"/><path d="M648.4 373.8L655.7 381.1L648.4 388.4L641.1 381.1Z" fill="#fff" stroke="#a23c3c" stroke-width="1.5"/><path d="M648.9 377.3L656.2 384.6L648.9 391.9L641.6 384.6Z" fill="#fff" stroke="#a23c3c" stroke-width="1.5"/><path d="M649.4 380.9L656.7 388.2L649.4 395.5L642.1 388.2Z" fill="#fff" stroke="#a23c3c" stroke-width="1.5"/><path d="M650.1 384.4L657.4 391.7L650.1 399.0L642.8 391.7Z" fill="#fff" stroke="#a23c3c" stroke-width="1.5"/><path d="M650.8 388.0L658.1 395.3L650.8 402.6L643.5 395.3Z" fill="#fff" stroke="#a23c3c" stroke-width="1.5"/><path d="M651.7 391.5L659.0 398.8L651.7 406.1L644.4 398.8Z" fill="#fff" stroke="#a23c3c" stroke-width="1.5"/><path d="M652.6 394.9L659.9 402.2L652.6 409.5L645.3 402.2Z" fill="#fff" stroke="#a23c3c" stroke-width="1.5"/><path d="M653.7 398.4L661.0 405.7L653.7 413.0L646.4 405.7Z" fill="#fff" stroke="#a23c3c" stroke-width="1.5"/><path d="M654.9 401.7L662.2 409.0L654.9 416.3L647.6 409.0Z" fill="#fff" stroke="#a23c3c" stroke-width="1.5"/><path d="M656.2 405.1L663.5 412.4L656.2 419.7L648.9 412.4Z" fill="#fff" stroke="#a23c3c" stroke-width="1.5"/><path d="M657.5 408.5L664.8 415.8L657.5 423.1L650.2 415.8Z" fill="#fff" stroke="#a23c3c" stroke-width="1.5"/><path d="M658.9 411.8L666.2 419.1L658.9 426.4L651.6 419.1Z" fill="#fff" stroke="#a23c3c" stroke-width="1.5"/><path d="M660.2 415.2L667.5 422.5L660.2 429.8L652.9 422.5Z" fill="#fff" stroke="#a23c3c" stroke-width="1.5"/><path d="M661.5 418.5L668.8 425.8L661.5 433.1L654.2 425.8Z" fill="#fff" stroke="#a23c3c" stroke-width="1.5"/><path d="M662.8 421.9L670.1 429.2L662.8 436.5L655.5 429.2Z" fill="#fff" stroke="#a23c3c" stroke-width="1.5"/><path d="M664.2 425.2L671.5 432.5L664.2 439.8L656.9 432.5Z" fill="#fff" stroke="#a23c3c" stroke-width="1.5"/><path d="M665.6 428.5L672.9 435.8L665.6 443.1L658.3 435.8Z" fill="#fff" stroke="#a23c3c" stroke-width="1.5"/><path d="M667.0 431.8L674.3 439.1L667.0 446.4L659.7 439.1Z" fill="#fff" stroke="#a23c3c" stroke-width="1.5"/><path d="M668.4 435.1L675.7 442.4L668.4 449.7L661.1 442.4Z" fill="#fff" stroke="#a23c3c" stroke-width="1.5"/><path d="M669.9 438.4L677.2 445.7L669.9 453.0L662.6 445.7Z" fill="#fff" stroke="#a23c3c" stroke-width="1.5"/><path d="M671.4 441.7L678.7 449.0L671.4 456.3L664.1 449.0Z" fill="#fff" stroke="#a23c3c" stroke-width="1.5"/><path d="M673.0 444.9L680.3 452.2L673.0 459.5L665.7 452.2Z" fill="#fff" stroke="#a23c3c" stroke-width="1.5"/><path d="M674.6 448.1L681.9 455.4L674.6 462.7L667.3 455.4Z" fill="#fff" stroke="#a23c3c" stroke-width="1.5"/><path d="M676.3 451.3L683.6 458.6L676.3 465.9L669.0 458.6Z" fill="#fff" stroke="#a23c3c" stroke-width="1.5"/><path d="M678.1 454.4L685.4 461.7L678.1 469.0L670.8 461.7Z" fill="#fff" stroke="#a23c3c" stroke-width="1.5"/><path d="M679.9 457.5L687.2 464.8L679.9 472.1L672.6 464.8Z" fill="#fff" stroke="#a23c3c" stroke-width="1.5"/><path d="M681.8 460.6L689.1 467.9L681.8 475.2L674.5 467.9Z" fill="#fff" stroke="#a23c3c" stroke-width="1.5"/><path d="M683.7 463.7L691.0 471.0L683.7 478.3L676.4 471.0Z" fill="#fff" stroke="#a23c3c" stroke-width="1.5"/><path d="M685.6 466.7L692.9 474.0L685.6 481.3L678.3 474.0Z" fill="#fff" stroke="#a23c3c" stroke-width="1.5"/><path d="M687.6 469.7L694.9 477.0L687.6 484.3L680.3 477.0Z" fill="#fff" stroke="#a23c3c" stroke-width="1.5"/><path d="M689.6 472.7L696.9 480.0L689.6 487.3L682.3 480.0Z" fill="#fff" stroke="#a23c3c" stroke-width="1.5"/><path d="M691.6 475.7L698.9 483.0L691.6 490.3L684.3 483.0Z" fill="#fff" stroke="#a23c3c" stroke-width="1.5"/><path d="M693.6 478.7L700.9 486.0L693.6 493.3L686.3 486.0Z" fill="#fff" stroke="#a23c3c" stroke-width="1.5"/><path d="M695.7 481.6L703.0 488.9L695.7 496.2L688.4 488.9Z" fill="#fff" stroke="#a23c3c" stroke-width="1.5"/><path d="M697.7 484.6L705.0 491.9L697.7 499.2L690.4 491.9Z" fill="#fff" stroke="#a23c3c" stroke-width="1.5"/><path d="M699.7 487.6L707.0 494.9L699.7 502.2L692.4 494.9Z" fill="#fff" stroke="#a23c3c" stroke-width="1.5"/><path d="M701.8 490.5L709.1 497.8L701.8 505.1L694.5 497.8Z" fill="#fff" stroke="#a23c3c" stroke-width="1.5"/><path d="M703.9 493.4L711.2 500.7L703.9 508.0L696.6 500.7Z" fill="#fff" stroke="#a23c3c" stroke-width="1.5"/><path d="M706.2 496.3L713.5 503.6L706.2 510.9L698.9 503.6Z" fill="#fff" stroke="#a23c3c" stroke-width="1.5"/><path d="M708.5 499.0L715.8 506.3L708.5 513.6L701.2 506.3Z" fill="#fff" stroke="#a23c3c" stroke-width="1.5"/><path d="M710.9 501.7L718.2 509.0L710.9 516.3L703.6 509.0Z" fill="#fff" stroke="#a23c3c" stroke-width="1.5"/><path d="M713.3 504.3L720.6 511.6L713.3 518.9L706.0 511.6Z" fill="#fff" stroke="#a23c3c" stroke-width="1.5"/><path d="M715.7 507.0L723.0 514.3L715.7 521.6L708.4 514.3Z" fill="#fff" stroke="#a23c3c" stroke-width="1.5"/><path d="M718.2 509.6L725.5 516.9L718.2 524.2L710.9 516.9Z" fill="#fff" stroke="#a23c3c" stroke-width="1.5"/><path d="M720.7 512.2L728.0 519.5L720.7 526.8L713.4 519.5Z" fill="#fff" stroke="#a23c3c" stroke-width="1.5"/><path d="M723.2 514.8L730.5 522.1L723.2 529.4L715.9 522.1Z" fill="#fff" stroke="#a23c3c" stroke-width="1.5"/><path d="M725.7 517.4L733.0 524.7L725.7 532.0L718.4 524.7Z" fill="#fff" stroke="#a23c3c" stroke-width="1.5"/><path d="M728.2 520.0L735.5 527.3L728.2 534.6L720.9 527.3Z" fill="#fff" stroke="#a23c3c" stroke-width="1.5"/><path d="M730.8 522.5L738.1 529.8L730.8 537.1L723.5 529.8Z" fill="#fff" stroke="#a23c3c" stroke-width="1.5"/><path d="M733.4 524.9L740.7 532.2L733.4 539.5L726.1 532.2Z" fill="#fff" stroke="#a23c3c" stroke-width="1.5"/><path d="M736.1 527.4L743.4 534.7L736.1 542.0L728.8 534.7Z" fill="#fff" stroke="#a23c3c" stroke-width="1.5"/><path d="M738.8 529.7L746.1 537.0L738.8 544.3L731.5 537.0Z" fill="#fff" stroke="#a23c3c" stroke-width="1.5"/><path d="M741.6 532.0L748.9 539.3L741.6 546.6L734.3 539.3Z" fill="#fff" stroke="#a23c3c" stroke-width="1.5"/><path d="M744.5 534.1L751.8 541.4L744.5 548.7L737.2 541.4Z" fill="#fff" stroke="#a23c3c" stroke-width="1.5"/><path d="M747.5 536.1L754.8 543.4L747.5 550.7L740.2 543.4Z" fill="#fff" stroke="#a23c3c" stroke-width="1.5"/><path d="M750.6 537.9L757.9 545.2L750.6 552.5L743.3 545.2Z" fill="#fff" stroke="#a23c3c" stroke-width="1.5"/><path d="M753.8 539.6L761.1 546.9L753.8 554.2L746.5 546.9Z" fill="#fff" stroke="#a23c3c" stroke-width="1.5"/><path d="M757.0 541.2L764.3 548.5L757.0 555.8L749.7 548.5Z" fill="#fff" stroke="#a23c3c" stroke-width="1.5"/><path d="M760.3 542.7L767.6 550.0L760.3 557.3L753.0 550.0Z" fill="#fff" stroke="#a23c3c" stroke-width="1.5"/><path d="M763.6 544.1L770.9 551.4L763.6 558.7L756.3 551.4Z" fill="#fff" stroke="#a23c3c" stroke-width="1.5"/><path d="M766.9 545.5L774.2 552.8L766.9 560.1L759.6 552.8Z" fill="#fff" stroke="#a23c3c" stroke-width="1.5"/><path d="M770.4 546.6L777.7 553.9L770.4 561.2L763.1 553.9Z" fill="#fff" stroke="#a23c3c" stroke-width="1.5"/><path d="M773.8 547.6L781.1 554.9L773.8 562.2L766.5 554.9Z" fill="#fff" stroke="#a23c3c" stroke-width="1.5"/><path d="M777.3 548.4L784.6 555.7L777.3 563.0L770.0 555.7Z" fill="#fff" stroke="#a23c3c" stroke-width="1.5"/><path d="M780.8 549.2L788.1 556.5L780.8 563.8L773.5 556.5Z" fill="#fff" stroke="#a23c3c" stroke-width="1.5"/><path d="M784.3 550.0L791.6 557.3L784.3 564.6L777.0 557.3Z" fill="#fff" stroke="#a23c3c" stroke-width="1.5"/><path d="M787.8 551.0L795.1 558.3L787.8 565.6L780.5 558.3Z" fill="#fff" stroke="#a23c3c" stroke-width="1.5"/><path d="M791.2 552.1L798.5 559.4L791.2 566.7L783.9 559.4Z" fill="#fff" stroke="#a23c3c" stroke-width="1.5"/><path d="M794.6 553.5L801.9 560.8L794.6 568.1L787.3 560.8Z" fill="#fff" stroke="#a23c3c" stroke-width="1.5"/><path d="M797.8 555.0L805.1 562.3L797.8 569.6L790.5 562.3Z" fill="#fff" stroke="#a23c3c" stroke-width="1.5"/><path d="M801.1 556.5L808.4 563.8L801.1 571.1L793.8 563.8Z" fill="#fff" stroke="#a23c3c" stroke-width="1.5"/><path d="M804.3 558.1L811.6 565.4L804.3 572.7L797.0 565.4Z" fill="#fff" stroke="#a23c3c" stroke-width="1.5"/><path d="M807.6 559.6L814.9 566.9L807.6 574.2L800.3 566.9Z" fill="#fff" stroke="#a23c3c" stroke-width="1.5"/><path d="M810.9 561.1L818.2 568.4L810.9 575.7L803.6 568.4Z" fill="#fff" stroke="#a23c3c" stroke-width="1.5"/><path d="M814.2 562.4L821.5 569.7L814.2 577.0L806.9 569.7Z" fill="#fff" stroke="#a23c3c" stroke-width="1.5"/><path d="M817.6 563.8L824.9 571.1L817.6 578.4L810.3 571.1Z" fill="#fff" stroke="#a23c3c" stroke-width="1.5"/><path d="M820.9 565.1L828.2 572.4L820.9 579.7L813.6 572.4Z" fill="#fff" stroke="#a23c3c" stroke-width="1.5"/><path d="M824.2 566.4L831.5 573.7L824.2 581.0L816.9 573.7Z" fill="#fff" stroke="#a23c3c" stroke-width="1.5"/><path d="M827.6 567.8L834.9 575.1L827.6 582.4L820.3 575.1Z" fill="#fff" stroke="#a23c3c" stroke-width="1.5"/><path d="M840.0 580.0 L851.4 583.7 L867.6 589.0 L886.5 595.1 L906.1 601.3 L924.5 606.6 L940.5 610.5 L955.9 613.8 L971.0 616.6 L985.8 619.0 L1000.4 621.4 L1014.9 623.8 L1030.7 626.3 L1046.8 628.7 L1061.9 630.9 L1074.8 632.7 L1084.0 634.0 L1084.0 634.0" fill="none" stroke="#a23c3c" stroke-width="0.9"/><path d="M840.0 572.7L847.3 580.0L840.0 587.3L832.7 580.0Z" fill="#fff" stroke="#a23c3c" stroke-width="1.5"/><path d="M843.4 573.8L850.7 581.1L843.4 588.4L836.1 581.1Z" fill="#fff" stroke="#a23c3c" stroke-width="1.5"/><path d="M846.9 574.9L854.2 582.2L846.9 589.5L839.6 582.2Z" fill="#fff" stroke="#a23c3c" stroke-width="1.5"/><path d="M850.3 576.0L857.6 583.3L850.3 590.6L843.0 583.3Z" fill="#fff" stroke="#a23c3c" stroke-width="1.5"/><path d="M853.7 577.1L861.0 584.4L853.7 591.7L846.4 584.4Z" fill="#fff" stroke="#a23c3c" stroke-width="1.5"/><path d="M857.1 578.3L864.4 585.6L857.1 592.9L849.8 585.6Z" fill="#fff" stroke="#a23c3c" stroke-width="1.5"/><path d="M860.5 579.4L867.8 586.7L860.5 594.0L853.2 586.7Z" fill="#fff" stroke="#a23c3c" stroke-width="1.5"/><path d="M864.0 580.5L871.3 587.8L864.0 595.1L856.7 587.8Z" fill="#fff" stroke="#a23c3c" stroke-width="1.5"/><path d="M867.4 581.6L874.7 588.9L867.4 596.2L860.1 588.9Z" fill="#fff" stroke="#a23c3c" stroke-width="1.5"/><path d="M870.8 582.8L878.1 590.1L870.8 597.4L863.5 590.1Z" fill="#fff" stroke="#a23c3c" stroke-width="1.5"/><path d="M874.2 583.9L881.5 591.2L874.2 598.5L866.9 591.2Z" fill="#fff" stroke="#a23c3c" stroke-width="1.5"/><path d="M877.6 585.0L884.9 592.3L877.6 599.6L870.3 592.3Z" fill="#fff" stroke="#a23c3c" stroke-width="1.5"/><path d="M881.1 586.1L888.4 593.4L881.1 600.7L873.8 593.4Z" fill="#fff" stroke="#a23c3c" stroke-width="1.5"/><path d="M884.5 587.2L891.8 594.5L884.5 601.8L877.2 594.5Z" fill="#fff" stroke="#a23c3c" stroke-width="1.5"/><path d="M887.9 588.3L895.2 595.6L887.9 602.9L880.6 595.6Z" fill="#fff" stroke="#a23c3c" stroke-width="1.5"/><path d="M891.4 589.4L898.7 596.7L891.4 604.0L884.1 596.7Z" fill="#fff" stroke="#a23c3c" stroke-width="1.5"/><path d="M894.8 590.5L902.1 597.8L894.8 605.1L887.5 597.8Z" fill="#fff" stroke="#a23c3c" stroke-width="1.5"/><path d="M898.2 591.5L905.5 598.8L898.2 606.1L890.9 598.8Z" fill="#fff" stroke="#a23c3c" stroke-width="1.5"/><path d="M901.7 592.6L909.0 599.9L901.7 607.2L894.4 599.9Z" fill="#fff" stroke="#a23c3c" stroke-width="1.5"/><path d="M905.1 593.7L912.4 601.0L905.1 608.3L897.8 601.0Z" fill="#fff" stroke="#a23c3c" stroke-width="1.5"/><path d="M908.6 594.7L915.9 602.0L908.6 609.3L901.3 602.0Z" fill="#fff" stroke="#a23c3c" stroke-width="1.5"/><path d="M912.0 595.7L919.3 603.0L912.0 610.3L904.7 603.0Z" fill="#fff" stroke="#a23c3c" stroke-width="1.5"/><path d="M915.5 596.7L922.8 604.0L915.5 611.3L908.2 604.0Z" fill="#fff" stroke="#a23c3c" stroke-width="1.5"/><path d="M918.9 597.7L926.2 605.0L918.9 612.3L911.6 605.0Z" fill="#fff" stroke="#a23c3c" stroke-width="1.5"/><path d="M922.4 598.7L929.7 606.0L922.4 613.3L915.1 606.0Z" fill="#fff" stroke="#a23c3c" stroke-width="1.5"/><path d="M925.9 599.6L933.2 606.9L925.9 614.2L918.6 606.9Z" fill="#fff" stroke="#a23c3c" stroke-width="1.5"/><path d="M929.4 600.5L936.7 607.8L929.4 615.1L922.1 607.8Z" fill="#fff" stroke="#a23c3c" stroke-width="1.5"/><path d="M932.8 601.4L940.1 608.7L932.8 616.0L925.5 608.7Z" fill="#fff" stroke="#a23c3c" stroke-width="1.5"/><path d="M936.3 602.2L943.6 609.5L936.3 616.8L929.0 609.5Z" fill="#fff" stroke="#a23c3c" stroke-width="1.5"/><path d="M939.8 603.1L947.1 610.4L939.8 617.7L932.5 610.4Z" fill="#fff" stroke="#a23c3c" stroke-width="1.5"/><path d="M943.4 603.9L950.7 611.2L943.4 618.5L936.1 611.2Z" fill="#fff" stroke="#a23c3c" stroke-width="1.5"/><path d="M946.9 604.6L954.2 611.9L946.9 619.2L939.6 611.9Z" fill="#fff" stroke="#a23c3c" stroke-width="1.5"/><path d="M950.4 605.4L957.7 612.7L950.4 620.0L943.1 612.7Z" fill="#fff" stroke="#a23c3c" stroke-width="1.5"/><path d="M953.9 606.1L961.2 613.4L953.9 620.7L946.6 613.4Z" fill="#fff" stroke="#a23c3c" stroke-width="1.5"/><path d="M957.5 606.8L964.8 614.1L957.5 621.4L950.2 614.1Z" fill="#fff" stroke="#a23c3c" stroke-width="1.5"/><path d="M961.0 607.5L968.3 614.8L961.0 622.1L953.7 614.8Z" fill="#fff" stroke="#a23c3c" stroke-width="1.5"/><path d="M964.5 608.1L971.8 615.4L964.5 622.7L957.2 615.4Z" fill="#fff" stroke="#a23c3c" stroke-width="1.5"/><path d="M968.1 608.7L975.4 616.0L968.1 623.3L960.8 616.0Z" fill="#fff" stroke="#a23c3c" stroke-width="1.5"/><path d="M971.6 609.4L978.9 616.7L971.6 624.0L964.3 616.7Z" fill="#fff" stroke="#a23c3c" stroke-width="1.5"/><path d="M975.2 610.0L982.5 617.3L975.2 624.6L967.9 617.3Z" fill="#fff" stroke="#a23c3c" stroke-width="1.5"/><path d="M978.7 610.6L986.0 617.9L978.7 625.2L971.4 617.9Z" fill="#fff" stroke="#a23c3c" stroke-width="1.5"/><path d="M982.3 611.2L989.6 618.5L982.3 625.8L975.0 618.5Z" fill="#fff" stroke="#a23c3c" stroke-width="1.5"/><path d="M985.8 611.8L993.1 619.1L985.8 626.4L978.5 619.1Z" fill="#fff" stroke="#a23c3c" stroke-width="1.5"/><path d="M989.4 612.3L996.7 619.6L989.4 626.9L982.1 619.6Z" fill="#fff" stroke="#a23c3c" stroke-width="1.5"/><path d="M992.9 612.9L1000.2 620.2L992.9 627.5L985.6 620.2Z" fill="#fff" stroke="#a23c3c" stroke-width="1.5"/><path d="M996.5 613.5L1003.8 620.8L996.5 628.1L989.2 620.8Z" fill="#fff" stroke="#a23c3c" stroke-width="1.5"/><path d="M1000.0 614.1L1007.3 621.4L1000.0 628.7L992.7 621.4Z" fill="#fff" stroke="#a23c3c" stroke-width="1.5"/><path d="M1003.6 614.6L1010.9 621.9L1003.6 629.2L996.3 621.9Z" fill="#fff" stroke="#a23c3c" stroke-width="1.5"/><path d="M1007.1 615.2L1014.4 622.5L1007.1 629.8L999.8 622.5Z" fill="#fff" stroke="#a23c3c" stroke-width="1.5"/><path d="M1010.7 615.8L1018.0 623.1L1010.7 630.4L1003.4 623.1Z" fill="#fff" stroke="#a23c3c" stroke-width="1.5"/><path d="M1014.2 616.4L1021.5 623.7L1014.2 631.0L1006.9 623.7Z" fill="#fff" stroke="#a23c3c" stroke-width="1.5"/><path d="M1017.8 617.0L1025.1 624.3L1017.8 631.6L1010.5 624.3Z" fill="#fff" stroke="#a23c3c" stroke-width="1.5"/><path d="M1021.4 617.5L1028.7 624.8L1021.4 632.1L1014.1 624.8Z" fill="#fff" stroke="#a23c3c" stroke-width="1.5"/><path d="M1024.9 618.1L1032.2 625.4L1024.9 632.7L1017.6 625.4Z" fill="#fff" stroke="#a23c3c" stroke-width="1.5"/><path d="M1028.5 618.7L1035.8 626.0L1028.5 633.3L1021.2 626.0Z" fill="#fff" stroke="#a23c3c" stroke-width="1.5"/><path d="M1032.0 619.2L1039.3 626.5L1032.0 633.8L1024.7 626.5Z" fill="#fff" stroke="#a23c3c" stroke-width="1.5"/><path d="M1035.6 619.7L1042.9 627.0L1035.6 634.3L1028.3 627.0Z" fill="#fff" stroke="#a23c3c" stroke-width="1.5"/><path d="M1039.2 620.3L1046.5 627.6L1039.2 634.9L1031.9 627.6Z" fill="#fff" stroke="#a23c3c" stroke-width="1.5"/><path d="M1042.7 620.8L1050.0 628.1L1042.7 635.4L1035.4 628.1Z" fill="#fff" stroke="#a23c3c" stroke-width="1.5"/><path d="M1046.3 621.3L1053.6 628.6L1046.3 635.9L1039.0 628.6Z" fill="#fff" stroke="#a23c3c" stroke-width="1.5"/><path d="M1049.8 621.8L1057.1 629.1L1049.8 636.4L1042.5 629.1Z" fill="#fff" stroke="#a23c3c" stroke-width="1.5"/><path d="M1053.4 622.3L1060.7 629.6L1053.4 636.9L1046.1 629.6Z" fill="#fff" stroke="#a23c3c" stroke-width="1.5"/><path d="M1057.0 622.8L1064.3 630.1L1057.0 637.4L1049.7 630.1Z" fill="#fff" stroke="#a23c3c" stroke-width="1.5"/><path d="M1060.5 623.4L1067.8 630.7L1060.5 638.0L1053.2 630.7Z" fill="#fff" stroke="#a23c3c" stroke-width="1.5"/><path d="M1064.1 623.9L1071.4 631.2L1064.1 638.5L1056.8 631.2Z" fill="#fff" stroke="#a23c3c" stroke-width="1.5"/><path d="M1067.7 624.4L1075.0 631.7L1067.7 639.0L1060.4 631.7Z" fill="#fff" stroke="#a23c3c" stroke-width="1.5"/><path d="M1071.2 624.9L1078.5 632.2L1071.2 639.5L1063.9 632.2Z" fill="#fff" stroke="#a23c3c" stroke-width="1.5"/><path d="M1074.8 625.4L1082.1 632.7L1074.8 640.0L1067.5 632.7Z" fill="#fff" stroke="#a23c3c" stroke-width="1.5"/><path d="M1078.4 625.9L1085.7 633.2L1078.4 640.5L1071.1 633.2Z" fill="#fff" stroke="#a23c3c" stroke-width="1.5"/><path d="M1081.9 626.4L1089.2 633.7L1081.9 641.0L1074.6 633.7Z" fill="#fff" stroke="#a23c3c" stroke-width="1.5"/></g><g clip-path="url(#cb)"><path d="M645.0 322.0 L645.1 325.8 L645.3 331.1 L645.4 337.4 L645.7 343.9 L645.9 350.1 L646.2 355.6 L646.5 361.0 L646.8 366.4 L647.2 371.6 L647.6 376.7 L648.2 381.6 L648.8 386.3 L649.4 390.8 L650.1 395.2 L651.0 399.6 L652.0 404.0 L653.2 408.5 L654.6 412.9 L656.1 417.3 L657.8 421.8 L659.4 426.4 L661.2 431.3 L663.0 436.5 L664.9 441.8 L666.8 447.0 L668.7 451.9 L670.6 456.4 L672.4 460.4 L674.1 464.0 L675.9 467.4 L677.8 471.0 L680.0 475.0 L682.5 479.4 L685.3 484.2 L688.2 489.1 L691.1 494.0 L694.1 498.6 L696.8 502.7 L699.2 506.2 L701.6 509.5 L704.2 513.0 L707.4 516.9 L711.4 521.7 L716.0 527.2 L721.0 533.2 L726.6 539.6 L732.9 546.3 L740.0 553.0 L748.3 560.2 L757.7 568.0 L767.7 575.9 L777.7 583.4 L787.1 590.0 L795.8 595.6 L804.6 600.6 L813.1 604.9 L820.8 608.6 L827.0 611.5 L830.0 613.0" fill="none" stroke="#a23c3c" stroke-width="0.9"/><path d="M645.0 314.7L652.3 322.0L645.0 329.3L637.7 322.0Z" fill="#fff" stroke="#a23c3c" stroke-width="1.5"/><path d="M645.1 318.3L652.4 325.6L645.1 332.9L637.8 325.6Z" fill="#fff" stroke="#a23c3c" stroke-width="1.5"/><path d="M645.2 321.9L652.5 329.2L645.2 336.5L637.9 329.2Z" fill="#fff" stroke="#a23c3c" stroke-width="1.5"/><path d="M645.3 325.5L652.6 332.8L645.3 340.1L638.0 332.8Z" fill="#fff" stroke="#a23c3c" stroke-width="1.5"/><path d="M645.4 329.1L652.7 336.4L645.4 343.7L638.1 336.4Z" fill="#fff" stroke="#a23c3c" stroke-width="1.5"/><path d="M645.5 332.7L652.8 340.0L645.5 347.3L638.2 340.0Z" fill="#fff" stroke="#a23c3c" stroke-width="1.5"/><path d="M645.6 336.3L652.9 343.6L645.6 350.9L638.3 343.6Z" fill="#fff" stroke="#a23c3c" stroke-width="1.5"/><path d="M645.8 339.9L653.1 347.2L645.8 354.5L638.5 347.2Z" fill="#fff" stroke="#a23c3c" stroke-width="1.5"/><path d="M645.9 343.5L653.2 350.8L645.9 358.1L638.6 350.8Z" fill="#fff" stroke="#a23c3c" stroke-width="1.5"/><path d="M646.1 347.1L653.4 354.4L646.1 361.7L638.8 354.4Z" fill="#fff" stroke="#a23c3c" stroke-width="1.5"/><path d="M646.3 350.7L653.6 358.0L646.3 365.3L639.0 358.0Z" fill="#fff" stroke="#a23c3c" stroke-width="1.5"/><path d="M646.5 354.3L653.8 361.6L646.5 368.9L639.2 361.6Z" fill="#fff" stroke="#a23c3c" stroke-width="1.5"/><path d="M646.7 357.9L654.0 365.2L646.7 372.5L639.4 365.2Z" fill="#fff" stroke="#a23c3c" stroke-width="1.5"/><path d="M647.0 361.5L654.3 368.8L647.0 376.1L639.7 368.8Z" fill="#fff" stroke="#a23c3c" stroke-width="1.5"/><path d="M647.3 365.0L654.6 372.3L647.3 379.6L640.0 372.3Z" fill="#fff" stroke="#a23c3c" stroke-width="1.5"/><path d="M647.6 368.6L654.9 375.9L647.6 383.2L640.3 375.9Z" fill="#fff" stroke="#a23c3c" stroke-width="1.5"/><path d="M647.9 372.2L655.2 379.5L647.9 386.8L640.6 379.5Z" fill="#fff" stroke="#a23c3c" stroke-width="1.5"/><path d="M648.4 375.8L655.7 383.1L648.4 390.4L641.1 383.1Z" fill="#fff" stroke="#a23c3c" stroke-width="1.5"/><path d="M648.8 379.4L656.1 386.7L648.8 394.0L641.5 386.7Z" fill="#fff" stroke="#a23c3c" stroke-width="1.5"/><path d="M649.3 382.9L656.6 390.2L649.3 397.5L642.0 390.2Z" fill="#fff" stroke="#a23c3c" stroke-width="1.5"/><path d="M649.9 386.5L657.2 393.8L649.9 401.1L642.6 393.8Z" fill="#fff" stroke="#a23c3c" stroke-width="1.5"/><path d="M650.5 390.0L657.8 397.3L650.5 404.6L643.2 397.3Z" fill="#fff" stroke="#a23c3c" stroke-width="1.5"/><path d="M651.3 393.5L658.6 400.8L651.3 408.1L644.0 400.8Z" fill="#fff" stroke="#a23c3c" stroke-width="1.5"/><path d="M652.1 397.0L659.4 404.3L652.1 411.6L644.8 404.3Z" fill="#fff" stroke="#a23c3c" stroke-width="1.5"/><path d="M653.0 400.5L660.3 407.8L653.0 415.1L645.7 407.8Z" fill="#fff" stroke="#a23c3c" stroke-width="1.5"/><path d="M654.1 404.0L661.4 411.3L654.1 418.6L646.8 411.3Z" fill="#fff" stroke="#a23c3c" stroke-width="1.5"/><path d="M655.2 407.4L662.5 414.7L655.2 422.0L647.9 414.7Z" fill="#fff" stroke="#a23c3c" stroke-width="1.5"/><path d="M656.4 410.8L663.7 418.1L656.4 425.4L649.1 418.1Z" fill="#fff" stroke="#a23c3c" stroke-width="1.5"/><path d="M657.6 414.2L664.9 421.5L657.6 428.8L650.3 421.5Z" fill="#fff" stroke="#a23c3c" stroke-width="1.5"/><path d="M658.9 417.5L666.2 424.8L658.9 432.1L651.6 424.8Z" fill="#fff" stroke="#a23c3c" stroke-width="1.5"/><path d="M660.1 420.9L667.4 428.2L660.1 435.5L652.8 428.2Z" fill="#fff" stroke="#a23c3c" stroke-width="1.5"/><path d="M661.3 424.3L668.6 431.6L661.3 438.9L654.0 431.6Z" fill="#fff" stroke="#a23c3c" stroke-width="1.5"/><path d="M662.5 427.7L669.8 435.0L662.5 442.3L655.2 435.0Z" fill="#fff" stroke="#a23c3c" stroke-width="1.5"/><path d="M663.7 431.1L671.0 438.4L663.7 445.7L656.4 438.4Z" fill="#fff" stroke="#a23c3c" stroke-width="1.5"/><path d="M664.9 434.5L672.2 441.8L664.9 449.1L657.6 441.8Z" fill="#fff" stroke="#a23c3c" stroke-width="1.5"/><path d="M666.1 437.9L673.4 445.2L666.1 452.5L658.8 445.2Z" fill="#fff" stroke="#a23c3c" stroke-width="1.5"/><path d="M667.4 441.3L674.7 448.6L667.4 455.9L660.1 448.6Z" fill="#fff" stroke="#a23c3c" stroke-width="1.5"/><path d="M668.7 444.6L676.0 451.9L668.7 459.2L661.4 451.9Z" fill="#fff" stroke="#a23c3c" stroke-width="1.5"/><path d="M670.1 447.9L677.4 455.2L670.1 462.5L662.8 455.2Z" fill="#fff" stroke="#a23c3c" stroke-width="1.5"/><path d="M671.5 451.2L678.8 458.5L671.5 465.8L664.2 458.5Z" fill="#fff" stroke="#a23c3c" stroke-width="1.5"/><path d="M673.1 454.5L680.4 461.8L673.1 469.1L665.8 461.8Z" fill="#fff" stroke="#a23c3c" stroke-width="1.5"/><path d="M674.6 457.7L681.9 465.0L674.6 472.3L667.3 465.0Z" fill="#fff" stroke="#a23c3c" stroke-width="1.5"/><path d="M676.3 460.9L683.6 468.2L676.3 475.5L669.0 468.2Z" fill="#fff" stroke="#a23c3c" stroke-width="1.5"/><path d="M678.0 464.1L685.3 471.4L678.0 478.7L670.7 471.4Z" fill="#fff" stroke="#a23c3c" stroke-width="1.5"/><path d="M679.7 467.2L687.0 474.5L679.7 481.8L672.4 474.5Z" fill="#fff" stroke="#a23c3c" stroke-width="1.5"/><path d="M681.5 470.4L688.8 477.7L681.5 485.0L674.2 477.7Z" fill="#fff" stroke="#a23c3c" stroke-width="1.5"/><path d="M683.3 473.5L690.6 480.8L683.3 488.1L676.0 480.8Z" fill="#fff" stroke="#a23c3c" stroke-width="1.5"/><path d="M685.1 476.6L692.4 483.9L685.1 491.2L677.8 483.9Z" fill="#fff" stroke="#a23c3c" stroke-width="1.5"/><path d="M686.9 479.7L694.2 487.0L686.9 494.3L679.6 487.0Z" fill="#fff" stroke="#a23c3c" stroke-width="1.5"/><path d="M688.8 482.8L696.1 490.1L688.8 497.4L681.5 490.1Z" fill="#fff" stroke="#a23c3c" stroke-width="1.5"/><path d="M690.6 485.9L697.9 493.2L690.6 500.5L683.3 493.2Z" fill="#fff" stroke="#a23c3c" stroke-width="1.5"/><path d="M692.6 488.9L699.9 496.2L692.6 503.5L685.3 496.2Z" fill="#fff" stroke="#a23c3c" stroke-width="1.5"/><path d="M694.5 492.0L701.8 499.3L694.5 506.6L687.2 499.3Z" fill="#fff" stroke="#a23c3c" stroke-width="1.5"/><path d="M696.5 495.0L703.8 502.3L696.5 509.6L689.2 502.3Z" fill="#fff" stroke="#a23c3c" stroke-width="1.5"/><path d="M698.5 497.9L705.8 505.2L698.5 512.5L691.2 505.2Z" fill="#fff" stroke="#a23c3c" stroke-width="1.5"/><path d="M700.6 500.9L707.9 508.2L700.6 515.5L693.3 508.2Z" fill="#fff" stroke="#a23c3c" stroke-width="1.5"/><path d="M702.7 503.8L710.0 511.1L702.7 518.4L695.4 511.1Z" fill="#fff" stroke="#a23c3c" stroke-width="1.5"/><path d="M705.0 506.6L712.3 513.9L705.0 521.2L697.7 513.9Z" fill="#fff" stroke="#a23c3c" stroke-width="1.5"/><path d="M707.2 509.4L714.5 516.7L707.2 524.0L699.9 516.7Z" fill="#fff" stroke="#a23c3c" stroke-width="1.5"/><path d="M709.5 512.2L716.8 519.5L709.5 526.8L702.2 519.5Z" fill="#fff" stroke="#a23c3c" stroke-width="1.5"/><path d="M711.9 514.9L719.2 522.2L711.9 529.5L704.6 522.2Z" fill="#fff" stroke="#a23c3c" stroke-width="1.5"/><path d="M714.2 517.7L721.5 525.0L714.2 532.3L706.9 525.0Z" fill="#fff" stroke="#a23c3c" stroke-width="1.5"/><path d="M716.4 520.5L723.7 527.8L716.4 535.1L709.1 527.8Z" fill="#fff" stroke="#a23c3c" stroke-width="1.5"/><path d="M718.8 523.2L726.1 530.5L718.8 537.8L711.5 530.5Z" fill="#fff" stroke="#a23c3c" stroke-width="1.5"/><path d="M721.1 526.0L728.4 533.3L721.1 540.6L713.8 533.3Z" fill="#fff" stroke="#a23c3c" stroke-width="1.5"/><path d="M723.4 528.7L730.7 536.0L723.4 543.3L716.1 536.0Z" fill="#fff" stroke="#a23c3c" stroke-width="1.5"/><path d="M725.8 531.4L733.1 538.7L725.8 546.0L718.5 538.7Z" fill="#fff" stroke="#a23c3c" stroke-width="1.5"/><path d="M728.2 534.1L735.5 541.4L728.2 548.7L720.9 541.4Z" fill="#fff" stroke="#a23c3c" stroke-width="1.5"/><path d="M730.7 536.7L738.0 544.0L730.7 551.3L723.4 544.0Z" fill="#fff" stroke="#a23c3c" stroke-width="1.5"/><path d="M733.2 539.3L740.5 546.6L733.2 553.9L725.9 546.6Z" fill="#fff" stroke="#a23c3c" stroke-width="1.5"/><path d="M735.8 541.8L743.1 549.1L735.8 556.4L728.5 549.1Z" fill="#fff" stroke="#a23c3c" stroke-width="1.5"/><path d="M738.4 544.2L745.7 551.5L738.4 558.8L731.1 551.5Z" fill="#fff" stroke="#a23c3c" stroke-width="1.5"/><path d="M741.1 546.7L748.4 554.0L741.1 561.3L733.8 554.0Z" fill="#fff" stroke="#a23c3c" stroke-width="1.5"/><path d="M743.8 549.0L751.1 556.3L743.8 563.6L736.5 556.3Z" fill="#fff" stroke="#a23c3c" stroke-width="1.5"/><path d="M746.5 551.4L753.8 558.7L746.5 566.0L739.2 558.7Z" fill="#fff" stroke="#a23c3c" stroke-width="1.5"/><path d="M749.3 553.7L756.6 561.0L749.3 568.3L742.0 561.0Z" fill="#fff" stroke="#a23c3c" stroke-width="1.5"/><path d="M752.0 556.0L759.3 563.3L752.0 570.6L744.7 563.3Z" fill="#fff" stroke="#a23c3c" stroke-width="1.5"/><path d="M754.8 558.3L762.1 565.6L754.8 572.9L747.5 565.6Z" fill="#fff" stroke="#a23c3c" stroke-width="1.5"/><path d="M757.6 560.6L764.9 567.9L757.6 575.2L750.3 567.9Z" fill="#fff" stroke="#a23c3c" stroke-width="1.5"/><path d="M760.4 562.8L767.7 570.1L760.4 577.4L753.1 570.1Z" fill="#fff" stroke="#a23c3c" stroke-width="1.5"/><path d="M763.2 565.1L770.5 572.4L763.2 579.7L755.9 572.4Z" fill="#fff" stroke="#a23c3c" stroke-width="1.5"/><path d="M766.1 567.3L773.4 574.6L766.1 581.9L758.8 574.6Z" fill="#fff" stroke="#a23c3c" stroke-width="1.5"/><path d="M768.9 569.5L776.2 576.8L768.9 584.1L761.6 576.8Z" fill="#fff" stroke="#a23c3c" stroke-width="1.5"/><path d="M771.8 571.6L779.1 578.9L771.8 586.2L764.5 578.9Z" fill="#fff" stroke="#a23c3c" stroke-width="1.5"/><path d="M774.7 573.8L782.0 581.1L774.7 588.4L767.4 581.1Z" fill="#fff" stroke="#a23c3c" stroke-width="1.5"/><path d="M777.6 576.0L784.9 583.3L777.6 590.6L770.3 583.3Z" fill="#fff" stroke="#a23c3c" stroke-width="1.5"/><path d="M780.5 578.1L787.8 585.4L780.5 592.7L773.2 585.4Z" fill="#fff" stroke="#a23c3c" stroke-width="1.5"/><path d="M783.4 580.2L790.7 587.5L783.4 594.8L776.1 587.5Z" fill="#fff" stroke="#a23c3c" stroke-width="1.5"/><path d="M786.4 582.2L793.7 589.5L786.4 596.8L779.1 589.5Z" fill="#fff" stroke="#a23c3c" stroke-width="1.5"/><path d="M789.3 584.2L796.6 591.5L789.3 598.8L782.0 591.5Z" fill="#fff" stroke="#a23c3c" stroke-width="1.5"/><path d="M792.3 586.2L799.6 593.5L792.3 600.8L785.0 593.5Z" fill="#fff" stroke="#a23c3c" stroke-width="1.5"/><path d="M795.4 588.1L802.7 595.4L795.4 602.7L788.1 595.4Z" fill="#fff" stroke="#a23c3c" stroke-width="1.5"/><path d="M798.5 589.9L805.8 597.2L798.5 604.5L791.2 597.2Z" fill="#fff" stroke="#a23c3c" stroke-width="1.5"/><path d="M801.6 591.7L808.9 599.0L801.6 606.3L794.3 599.0Z" fill="#fff" stroke="#a23c3c" stroke-width="1.5"/><path d="M804.8 593.4L812.1 600.7L804.8 608.0L797.5 600.7Z" fill="#fff" stroke="#a23c3c" stroke-width="1.5"/><path d="M808.0 595.1L815.3 602.4L808.0 609.7L800.7 602.4Z" fill="#fff" stroke="#a23c3c" stroke-width="1.5"/><path d="M811.2 596.7L818.5 604.0L811.2 611.3L803.9 604.0Z" fill="#fff" stroke="#a23c3c" stroke-width="1.5"/><path d="M814.5 598.3L821.8 605.6L814.5 612.9L807.2 605.6Z" fill="#fff" stroke="#a23c3c" stroke-width="1.5"/><path d="M817.7 599.8L825.0 607.1L817.7 614.4L810.4 607.1Z" fill="#fff" stroke="#a23c3c" stroke-width="1.5"/><path d="M821.0 601.4L828.3 608.7L821.0 616.0L813.7 608.7Z" fill="#fff" stroke="#a23c3c" stroke-width="1.5"/><path d="M824.2 602.9L831.5 610.2L824.2 617.5L816.9 610.2Z" fill="#fff" stroke="#a23c3c" stroke-width="1.5"/><path d="M827.5 604.4L834.8 611.7L827.5 619.0L820.2 611.7Z" fill="#fff" stroke="#a23c3c" stroke-width="1.5"/><path d="M840.0 620.0 L851.4 624.1 L867.6 630.0 L886.5 636.8 L906.1 643.6 L924.5 649.4 L940.5 653.7 L955.9 657.2 L971.0 660.1 L985.8 662.7 L1000.4 665.2 L1014.9 667.9 L1030.7 670.8 L1046.8 673.6 L1061.9 676.2 L1074.8 678.4 L1084.0 680.0 L1084.0 680.0" fill="none" stroke="#a23c3c" stroke-width="0.9"/><path d="M840.0 612.7L847.3 620.0L840.0 627.3L832.7 620.0Z" fill="#fff" stroke="#a23c3c" stroke-width="1.5"/><path d="M843.4 613.9L850.7 621.2L843.4 628.5L836.1 621.2Z" fill="#fff" stroke="#a23c3c" stroke-width="1.5"/><path d="M846.8 615.1L854.1 622.4L846.8 629.7L839.5 622.4Z" fill="#fff" stroke="#a23c3c" stroke-width="1.5"/><path d="M850.2 616.3L857.5 623.6L850.2 630.9L842.9 623.6Z" fill="#fff" stroke="#a23c3c" stroke-width="1.5"/><path d="M853.5 617.6L860.8 624.9L853.5 632.2L846.2 624.9Z" fill="#fff" stroke="#a23c3c" stroke-width="1.5"/><path d="M856.9 618.8L864.2 626.1L856.9 633.4L849.6 626.1Z" fill="#fff" stroke="#a23c3c" stroke-width="1.5"/><path d="M860.3 620.1L867.6 627.4L860.3 634.7L853.0 627.4Z" fill="#fff" stroke="#a23c3c" stroke-width="1.5"/><path d="M863.7 621.3L871.0 628.6L863.7 635.9L856.4 628.6Z" fill="#fff" stroke="#a23c3c" stroke-width="1.5"/><path d="M867.1 622.5L874.4 629.8L867.1 637.1L859.8 629.8Z" fill="#fff" stroke="#a23c3c" stroke-width="1.5"/><path d="M870.5 623.8L877.8 631.1L870.5 638.4L863.2 631.1Z" fill="#fff" stroke="#a23c3c" stroke-width="1.5"/><path d="M873.8 625.0L881.1 632.3L873.8 639.6L866.5 632.3Z" fill="#fff" stroke="#a23c3c" stroke-width="1.5"/><path d="M877.2 626.2L884.5 633.5L877.2 640.8L869.9 633.5Z" fill="#fff" stroke="#a23c3c" stroke-width="1.5"/><path d="M880.6 627.4L887.9 634.7L880.6 642.0L873.3 634.7Z" fill="#fff" stroke="#a23c3c" stroke-width="1.5"/><path d="M884.0 628.6L891.3 635.9L884.0 643.2L876.7 635.9Z" fill="#fff" stroke="#a23c3c" stroke-width="1.5"/><path d="M887.4 629.8L894.7 637.1L887.4 644.4L880.1 637.1Z" fill="#fff" stroke="#a23c3c" stroke-width="1.5"/><path d="M890.8 631.0L898.1 638.3L890.8 645.6L883.5 638.3Z" fill="#fff" stroke="#a23c3c" stroke-width="1.5"/><path d="M894.2 632.2L901.5 639.5L894.2 646.8L886.9 639.5Z" fill="#fff" stroke="#a23c3c" stroke-width="1.5"/><path d="M897.6 633.4L904.9 640.7L897.6 648.0L890.3 640.7Z" fill="#fff" stroke="#a23c3c" stroke-width="1.5"/><path d="M901.0 634.6L908.3 641.9L901.0 649.2L893.7 641.9Z" fill="#fff" stroke="#a23c3c" stroke-width="1.5"/><path d="M904.4 635.7L911.7 643.0L904.4 650.3L897.1 643.0Z" fill="#fff" stroke="#a23c3c" stroke-width="1.5"/><path d="M907.8 636.8L915.1 644.1L907.8 651.4L900.5 644.1Z" fill="#fff" stroke="#a23c3c" stroke-width="1.5"/><path d="M911.2 638.0L918.5 645.3L911.2 652.6L903.9 645.3Z" fill="#fff" stroke="#a23c3c" stroke-width="1.5"/><path d="M914.7 639.1L922.0 646.4L914.7 653.7L907.4 646.4Z" fill="#fff" stroke="#a23c3c" stroke-width="1.5"/><path d="M918.1 640.2L925.4 647.5L918.1 654.8L910.8 647.5Z" fill="#fff" stroke="#a23c3c" stroke-width="1.5"/><path d="M921.5 641.2L928.8 648.5L921.5 655.8L914.2 648.5Z" fill="#fff" stroke="#a23c3c" stroke-width="1.5"/><path d="M925.0 642.3L932.3 649.6L925.0 656.9L917.7 649.6Z" fill="#fff" stroke="#a23c3c" stroke-width="1.5"/><path d="M928.5 643.3L935.8 650.6L928.5 657.9L921.2 650.6Z" fill="#fff" stroke="#a23c3c" stroke-width="1.5"/><path d="M931.9 644.2L939.2 651.5L931.9 658.8L924.6 651.5Z" fill="#fff" stroke="#a23c3c" stroke-width="1.5"/><path d="M935.4 645.1L942.7 652.4L935.4 659.7L928.1 652.4Z" fill="#fff" stroke="#a23c3c" stroke-width="1.5"/><path d="M938.9 646.0L946.2 653.3L938.9 660.6L931.6 653.3Z" fill="#fff" stroke="#a23c3c" stroke-width="1.5"/><path d="M942.4 646.9L949.7 654.2L942.4 661.5L935.1 654.2Z" fill="#fff" stroke="#a23c3c" stroke-width="1.5"/><path d="M945.9 647.7L953.2 655.0L945.9 662.3L938.6 655.0Z" fill="#fff" stroke="#a23c3c" stroke-width="1.5"/><path d="M949.4 648.5L956.7 655.8L949.4 663.1L942.1 655.8Z" fill="#fff" stroke="#a23c3c" stroke-width="1.5"/><path d="M952.9 649.3L960.2 656.6L952.9 663.9L945.6 656.6Z" fill="#fff" stroke="#a23c3c" stroke-width="1.5"/><path d="M956.4 650.0L963.7 657.3L956.4 664.6L949.1 657.3Z" fill="#fff" stroke="#a23c3c" stroke-width="1.5"/><path d="M960.0 650.7L967.3 658.0L960.0 665.3L952.7 658.0Z" fill="#fff" stroke="#a23c3c" stroke-width="1.5"/><path d="M963.5 651.4L970.8 658.7L963.5 666.0L956.2 658.7Z" fill="#fff" stroke="#a23c3c" stroke-width="1.5"/><path d="M967.0 652.1L974.3 659.4L967.0 666.7L959.7 659.4Z" fill="#fff" stroke="#a23c3c" stroke-width="1.5"/><path d="M970.6 652.7L977.9 660.0L970.6 667.3L963.3 660.0Z" fill="#fff" stroke="#a23c3c" stroke-width="1.5"/><path d="M974.1 653.4L981.4 660.7L974.1 668.0L966.8 660.7Z" fill="#fff" stroke="#a23c3c" stroke-width="1.5"/><path d="M977.7 654.0L985.0 661.3L977.7 668.6L970.4 661.3Z" fill="#fff" stroke="#a23c3c" stroke-width="1.5"/><path d="M981.2 654.6L988.5 661.9L981.2 669.2L973.9 661.9Z" fill="#fff" stroke="#a23c3c" stroke-width="1.5"/><path d="M984.8 655.2L992.1 662.5L984.8 669.8L977.5 662.5Z" fill="#fff" stroke="#a23c3c" stroke-width="1.5"/><path d="M988.3 655.9L995.6 663.2L988.3 670.5L981.0 663.2Z" fill="#fff" stroke="#a23c3c" stroke-width="1.5"/><path d="M991.9 656.5L999.2 663.8L991.9 671.1L984.6 663.8Z" fill="#fff" stroke="#a23c3c" stroke-width="1.5"/><path d="M995.4 657.1L1002.7 664.4L995.4 671.7L988.1 664.4Z" fill="#fff" stroke="#a23c3c" stroke-width="1.5"/><path d="M999.0 657.7L1006.3 665.0L999.0 672.3L991.7 665.0Z" fill="#fff" stroke="#a23c3c" stroke-width="1.5"/><path d="M1002.5 658.3L1009.8 665.6L1002.5 672.9L995.2 665.6Z" fill="#fff" stroke="#a23c3c" stroke-width="1.5"/><path d="M1006.0 659.0L1013.3 666.3L1006.0 673.6L998.7 666.3Z" fill="#fff" stroke="#a23c3c" stroke-width="1.5"/><path d="M1009.6 659.6L1016.9 666.9L1009.6 674.2L1002.3 666.9Z" fill="#fff" stroke="#a23c3c" stroke-width="1.5"/><path d="M1013.1 660.3L1020.4 667.6L1013.1 674.9L1005.8 667.6Z" fill="#fff" stroke="#a23c3c" stroke-width="1.5"/><path d="M1016.7 660.9L1024.0 668.2L1016.7 675.5L1009.4 668.2Z" fill="#fff" stroke="#a23c3c" stroke-width="1.5"/><path d="M1020.2 661.6L1027.5 668.9L1020.2 676.2L1012.9 668.9Z" fill="#fff" stroke="#a23c3c" stroke-width="1.5"/><path d="M1023.7 662.2L1031.0 669.5L1023.7 676.8L1016.4 669.5Z" fill="#fff" stroke="#a23c3c" stroke-width="1.5"/><path d="M1027.3 662.9L1034.6 670.2L1027.3 677.5L1020.0 670.2Z" fill="#fff" stroke="#a23c3c" stroke-width="1.5"/><path d="M1030.8 663.5L1038.1 670.8L1030.8 678.1L1023.5 670.8Z" fill="#fff" stroke="#a23c3c" stroke-width="1.5"/><path d="M1034.4 664.1L1041.7 671.4L1034.4 678.7L1027.1 671.4Z" fill="#fff" stroke="#a23c3c" stroke-width="1.5"/><path d="M1037.9 664.7L1045.2 672.0L1037.9 679.3L1030.6 672.0Z" fill="#fff" stroke="#a23c3c" stroke-width="1.5"/><path d="M1041.5 665.4L1048.8 672.7L1041.5 680.0L1034.2 672.7Z" fill="#fff" stroke="#a23c3c" stroke-width="1.5"/><path d="M1045.0 666.0L1052.3 673.3L1045.0 680.6L1037.7 673.3Z" fill="#fff" stroke="#a23c3c" stroke-width="1.5"/><path d="M1048.6 666.6L1055.9 673.9L1048.6 681.2L1041.3 673.9Z" fill="#fff" stroke="#a23c3c" stroke-width="1.5"/><path d="M1052.1 667.2L1059.4 674.5L1052.1 681.8L1044.8 674.5Z" fill="#fff" stroke="#a23c3c" stroke-width="1.5"/><path d="M1055.7 667.8L1063.0 675.1L1055.7 682.4L1048.4 675.1Z" fill="#fff" stroke="#a23c3c" stroke-width="1.5"/><path d="M1059.2 668.4L1066.5 675.7L1059.2 683.0L1051.9 675.7Z" fill="#fff" stroke="#a23c3c" stroke-width="1.5"/><path d="M1062.7 669.0L1070.0 676.3L1062.7 683.6L1055.4 676.3Z" fill="#fff" stroke="#a23c3c" stroke-width="1.5"/><path d="M1066.3 669.7L1073.6 677.0L1066.3 684.3L1059.0 677.0Z" fill="#fff" stroke="#a23c3c" stroke-width="1.5"/><path d="M1069.8 670.3L1077.1 677.6L1069.8 684.9L1062.5 677.6Z" fill="#fff" stroke="#a23c3c" stroke-width="1.5"/><path d="M1073.4 670.9L1080.7 678.2L1073.4 685.5L1066.1 678.2Z" fill="#fff" stroke="#a23c3c" stroke-width="1.5"/><path d="M1076.9 671.5L1084.2 678.8L1076.9 686.1L1069.6 678.8Z" fill="#fff" stroke="#a23c3c" stroke-width="1.5"/><path d="M1080.5 672.1L1087.8 679.4L1080.5 686.7L1073.2 679.4Z" fill="#fff" stroke="#a23c3c" stroke-width="1.5"/></g><g clip-path="url(#cb)"><path d="M645.0 318.0 L645.0 321.4 L645.1 326.1 L645.1 331.7 L645.2 337.6 L645.3 343.3 L645.4 348.5 L645.4 353.8 L645.5 359.2 L645.7 364.4 L645.8 369.2 L646.1 373.3 L646.4 376.8 L646.7 379.9 L647.0 382.6 L647.5 385.3 L648.0 388.0 L648.6 390.7 L649.2 393.1 L649.9 395.6 L650.7 398.1 L651.6 401.0 L652.8 404.2 L654.1 407.7 L655.6 411.4 L657.2 415.3 L658.9 419.3 L660.6 423.4 L662.4 427.6 L664.2 432.0 L666.2 436.4 L668.1 440.8 L670.0 445.0 L671.8 449.0 L673.5 452.9 L675.3 456.7 L677.1 460.6 L679.2 464.6 L681.6 468.9 L684.3 473.4 L687.2 478.1 L690.1 482.7 L693.1 487.2 L695.9 491.3 L698.4 495.0 L700.8 498.4 L703.3 501.9 L706.3 505.6 L710.0 510.0 L714.8 515.3 L720.4 521.4 L726.4 527.8 L732.5 534.0 L738.2 539.4 L743.4 543.8 L748.2 547.5 L752.8 550.6 L757.4 553.5 L761.9 556.2 L766.6 558.9 L771.4 561.7 L776.2 564.3 L781.0 566.7 L785.6 569.0 L790.0 571.0 L794.1 572.7 L797.9 574.1 L801.5 575.3 L805.1 576.5 L808.8 577.6 L812.6 578.8 L816.9 580.2 L821.2 581.4 L825.2 582.6 L828.5 583.5 L830.0 584.0" fill="none" stroke="#ff30ff" stroke-width="0.9"/><path d="M645.0 312.4L651.2 323.6L638.8 323.6Z" fill="#fff" stroke="#ff30ff" stroke-width="1.5" stroke-linejoin="miter"/><path d="M645.0 316.0L651.2 327.2L638.8 327.2Z" fill="#fff" stroke="#ff30ff" stroke-width="1.5" stroke-linejoin="miter"/><path d="M645.1 319.6L651.3 330.8L638.9 330.8Z" fill="#fff" stroke="#ff30ff" stroke-width="1.5" stroke-linejoin="miter"/><path d="M645.1 323.2L651.3 334.4L638.9 334.4Z" fill="#fff" stroke="#ff30ff" stroke-width="1.5" stroke-linejoin="miter"/><path d="M645.1 326.8L651.3 338.0L638.9 338.0Z" fill="#fff" stroke="#ff30ff" stroke-width="1.5" stroke-linejoin="miter"/><path d="M645.2 330.4L651.4 341.6L639.0 341.6Z" fill="#fff" stroke="#ff30ff" stroke-width="1.5" stroke-linejoin="miter"/><path d="M645.2 334.0L651.4 345.2L639.0 345.2Z" fill="#fff" stroke="#ff30ff" stroke-width="1.5" stroke-linejoin="miter"/><path d="M645.3 337.6L651.5 348.8L639.1 348.8Z" fill="#fff" stroke="#ff30ff" stroke-width="1.5" stroke-linejoin="miter"/><path d="M645.3 341.2L651.5 352.4L639.1 352.4Z" fill="#fff" stroke="#ff30ff" stroke-width="1.5" stroke-linejoin="miter"/><path d="M645.4 344.8L651.6 356.0L639.2 356.0Z" fill="#fff" stroke="#ff30ff" stroke-width="1.5" stroke-linejoin="miter"/><path d="M645.4 348.4L651.6 359.6L639.2 359.6Z" fill="#fff" stroke="#ff30ff" stroke-width="1.5" stroke-linejoin="miter"/><path d="M645.5 352.0L651.7 363.2L639.3 363.2Z" fill="#fff" stroke="#ff30ff" stroke-width="1.5" stroke-linejoin="miter"/><path d="M645.6 355.6L651.8 366.8L639.4 366.8Z" fill="#fff" stroke="#ff30ff" stroke-width="1.5" stroke-linejoin="miter"/><path d="M645.7 359.2L651.9 370.4L639.5 370.4Z" fill="#fff" stroke="#ff30ff" stroke-width="1.5" stroke-linejoin="miter"/><path d="M645.8 362.8L652.0 374.0L639.6 374.0Z" fill="#fff" stroke="#ff30ff" stroke-width="1.5" stroke-linejoin="miter"/><path d="M646.0 366.4L652.2 377.6L639.8 377.6Z" fill="#fff" stroke="#ff30ff" stroke-width="1.5" stroke-linejoin="miter"/><path d="M646.3 370.0L652.5 381.2L640.1 381.2Z" fill="#fff" stroke="#ff30ff" stroke-width="1.5" stroke-linejoin="miter"/><path d="M646.6 373.6L652.8 384.8L640.4 384.8Z" fill="#fff" stroke="#ff30ff" stroke-width="1.5" stroke-linejoin="miter"/><path d="M647.1 377.1L653.3 388.3L640.9 388.3Z" fill="#fff" stroke="#ff30ff" stroke-width="1.5" stroke-linejoin="miter"/><path d="M647.7 380.7L653.9 391.9L641.5 391.9Z" fill="#fff" stroke="#ff30ff" stroke-width="1.5" stroke-linejoin="miter"/><path d="M648.4 384.2L654.6 395.4L642.2 395.4Z" fill="#fff" stroke="#ff30ff" stroke-width="1.5" stroke-linejoin="miter"/><path d="M649.2 387.7L655.4 398.9L643.0 398.9Z" fill="#fff" stroke="#ff30ff" stroke-width="1.5" stroke-linejoin="miter"/><path d="M650.2 391.2L656.4 402.4L644.0 402.4Z" fill="#fff" stroke="#ff30ff" stroke-width="1.5" stroke-linejoin="miter"/><path d="M651.4 394.6L657.6 405.8L645.2 405.8Z" fill="#fff" stroke="#ff30ff" stroke-width="1.5" stroke-linejoin="miter"/><path d="M652.6 398.0L658.8 409.2L646.4 409.2Z" fill="#fff" stroke="#ff30ff" stroke-width="1.5" stroke-linejoin="miter"/><path d="M653.8 401.3L660.0 412.5L647.6 412.5Z" fill="#fff" stroke="#ff30ff" stroke-width="1.5" stroke-linejoin="miter"/><path d="M655.2 404.7L661.4 415.9L649.0 415.9Z" fill="#fff" stroke="#ff30ff" stroke-width="1.5" stroke-linejoin="miter"/><path d="M656.5 408.0L662.7 419.2L650.3 419.2Z" fill="#fff" stroke="#ff30ff" stroke-width="1.5" stroke-linejoin="miter"/><path d="M657.9 411.4L664.1 422.6L651.7 422.6Z" fill="#fff" stroke="#ff30ff" stroke-width="1.5" stroke-linejoin="miter"/><path d="M659.3 414.7L665.5 425.9L653.1 425.9Z" fill="#fff" stroke="#ff30ff" stroke-width="1.5" stroke-linejoin="miter"/><path d="M660.7 418.0L666.9 429.2L654.5 429.2Z" fill="#fff" stroke="#ff30ff" stroke-width="1.5" stroke-linejoin="miter"/><path d="M662.1 421.3L668.3 432.5L655.9 432.5Z" fill="#fff" stroke="#ff30ff" stroke-width="1.5" stroke-linejoin="miter"/><path d="M663.5 424.6L669.7 435.8L657.3 435.8Z" fill="#fff" stroke="#ff30ff" stroke-width="1.5" stroke-linejoin="miter"/><path d="M664.9 427.9L671.1 439.1L658.7 439.1Z" fill="#fff" stroke="#ff30ff" stroke-width="1.5" stroke-linejoin="miter"/><path d="M666.4 431.2L672.6 442.4L660.2 442.4Z" fill="#fff" stroke="#ff30ff" stroke-width="1.5" stroke-linejoin="miter"/><path d="M667.8 434.5L674.0 445.7L661.6 445.7Z" fill="#fff" stroke="#ff30ff" stroke-width="1.5" stroke-linejoin="miter"/><path d="M669.3 437.8L675.5 449.0L663.1 449.0Z" fill="#fff" stroke="#ff30ff" stroke-width="1.5" stroke-linejoin="miter"/><path d="M670.8 441.1L677.0 452.3L664.6 452.3Z" fill="#fff" stroke="#ff30ff" stroke-width="1.5" stroke-linejoin="miter"/><path d="M672.2 444.4L678.4 455.6L666.0 455.6Z" fill="#fff" stroke="#ff30ff" stroke-width="1.5" stroke-linejoin="miter"/><path d="M673.7 447.7L679.9 458.9L667.5 458.9Z" fill="#fff" stroke="#ff30ff" stroke-width="1.5" stroke-linejoin="miter"/><path d="M675.2 450.9L681.4 462.1L669.0 462.1Z" fill="#fff" stroke="#ff30ff" stroke-width="1.5" stroke-linejoin="miter"/><path d="M676.8 454.2L683.0 465.4L670.6 465.4Z" fill="#fff" stroke="#ff30ff" stroke-width="1.5" stroke-linejoin="miter"/><path d="M678.4 457.4L684.6 468.6L672.2 468.6Z" fill="#fff" stroke="#ff30ff" stroke-width="1.5" stroke-linejoin="miter"/><path d="M680.1 460.6L686.3 471.8L673.9 471.8Z" fill="#fff" stroke="#ff30ff" stroke-width="1.5" stroke-linejoin="miter"/><path d="M681.9 463.7L688.1 474.9L675.7 474.9Z" fill="#fff" stroke="#ff30ff" stroke-width="1.5" stroke-linejoin="miter"/><path d="M683.7 466.8L689.9 478.0L677.5 478.0Z" fill="#fff" stroke="#ff30ff" stroke-width="1.5" stroke-linejoin="miter"/><path d="M685.6 469.9L691.8 481.1L679.4 481.1Z" fill="#fff" stroke="#ff30ff" stroke-width="1.5" stroke-linejoin="miter"/><path d="M687.5 472.9L693.7 484.1L681.3 484.1Z" fill="#fff" stroke="#ff30ff" stroke-width="1.5" stroke-linejoin="miter"/><path d="M689.4 476.0L695.6 487.2L683.2 487.2Z" fill="#fff" stroke="#ff30ff" stroke-width="1.5" stroke-linejoin="miter"/><path d="M691.4 479.0L697.6 490.2L685.2 490.2Z" fill="#fff" stroke="#ff30ff" stroke-width="1.5" stroke-linejoin="miter"/><path d="M693.4 482.0L699.6 493.2L687.2 493.2Z" fill="#fff" stroke="#ff30ff" stroke-width="1.5" stroke-linejoin="miter"/><path d="M695.4 485.0L701.6 496.2L689.2 496.2Z" fill="#fff" stroke="#ff30ff" stroke-width="1.5" stroke-linejoin="miter"/><path d="M697.4 487.9L703.6 499.1L691.2 499.1Z" fill="#fff" stroke="#ff30ff" stroke-width="1.5" stroke-linejoin="miter"/><path d="M699.4 490.9L705.6 502.1L693.2 502.1Z" fill="#fff" stroke="#ff30ff" stroke-width="1.5" stroke-linejoin="miter"/><path d="M701.5 493.9L707.7 505.1L695.3 505.1Z" fill="#fff" stroke="#ff30ff" stroke-width="1.5" stroke-linejoin="miter"/><path d="M703.6 496.7L709.8 507.9L697.4 507.9Z" fill="#fff" stroke="#ff30ff" stroke-width="1.5" stroke-linejoin="miter"/><path d="M705.9 499.6L712.1 510.8L699.7 510.8Z" fill="#fff" stroke="#ff30ff" stroke-width="1.5" stroke-linejoin="miter"/><path d="M708.2 502.3L714.4 513.5L702.0 513.5Z" fill="#fff" stroke="#ff30ff" stroke-width="1.5" stroke-linejoin="miter"/><path d="M710.6 505.0L716.8 516.2L704.4 516.2Z" fill="#fff" stroke="#ff30ff" stroke-width="1.5" stroke-linejoin="miter"/><path d="M713.0 507.7L719.2 518.9L706.8 518.9Z" fill="#fff" stroke="#ff30ff" stroke-width="1.5" stroke-linejoin="miter"/><path d="M715.4 510.4L721.6 521.6L709.2 521.6Z" fill="#fff" stroke="#ff30ff" stroke-width="1.5" stroke-linejoin="miter"/><path d="M717.8 513.0L724.0 524.2L711.6 524.2Z" fill="#fff" stroke="#ff30ff" stroke-width="1.5" stroke-linejoin="miter"/><path d="M720.2 515.7L726.4 526.9L714.0 526.9Z" fill="#fff" stroke="#ff30ff" stroke-width="1.5" stroke-linejoin="miter"/><path d="M722.7 518.3L728.9 529.5L716.5 529.5Z" fill="#fff" stroke="#ff30ff" stroke-width="1.5" stroke-linejoin="miter"/><path d="M725.2 520.9L731.4 532.1L719.0 532.1Z" fill="#fff" stroke="#ff30ff" stroke-width="1.5" stroke-linejoin="miter"/><path d="M727.7 523.5L733.9 534.7L721.5 534.7Z" fill="#fff" stroke="#ff30ff" stroke-width="1.5" stroke-linejoin="miter"/><path d="M730.2 526.1L736.4 537.3L724.0 537.3Z" fill="#fff" stroke="#ff30ff" stroke-width="1.5" stroke-linejoin="miter"/><path d="M732.8 528.6L739.0 539.8L726.6 539.8Z" fill="#fff" stroke="#ff30ff" stroke-width="1.5" stroke-linejoin="miter"/><path d="M735.3 531.1L741.5 542.3L729.1 542.3Z" fill="#fff" stroke="#ff30ff" stroke-width="1.5" stroke-linejoin="miter"/><path d="M738.0 533.6L744.2 544.8L731.8 544.8Z" fill="#fff" stroke="#ff30ff" stroke-width="1.5" stroke-linejoin="miter"/><path d="M740.7 536.0L746.9 547.2L734.5 547.2Z" fill="#fff" stroke="#ff30ff" stroke-width="1.5" stroke-linejoin="miter"/><path d="M743.4 538.3L749.6 549.5L737.2 549.5Z" fill="#fff" stroke="#ff30ff" stroke-width="1.5" stroke-linejoin="miter"/><path d="M746.3 540.5L752.5 551.7L740.1 551.7Z" fill="#fff" stroke="#ff30ff" stroke-width="1.5" stroke-linejoin="miter"/><path d="M749.2 542.6L755.4 553.8L743.0 553.8Z" fill="#fff" stroke="#ff30ff" stroke-width="1.5" stroke-linejoin="miter"/><path d="M752.2 544.6L758.4 555.8L746.0 555.8Z" fill="#fff" stroke="#ff30ff" stroke-width="1.5" stroke-linejoin="miter"/><path d="M755.2 546.5L761.4 557.7L749.0 557.7Z" fill="#fff" stroke="#ff30ff" stroke-width="1.5" stroke-linejoin="miter"/><path d="M758.3 548.4L764.5 559.6L752.1 559.6Z" fill="#fff" stroke="#ff30ff" stroke-width="1.5" stroke-linejoin="miter"/><path d="M761.4 550.3L767.6 561.5L755.2 561.5Z" fill="#fff" stroke="#ff30ff" stroke-width="1.5" stroke-linejoin="miter"/><path d="M764.5 552.1L770.7 563.3L758.3 563.3Z" fill="#fff" stroke="#ff30ff" stroke-width="1.5" stroke-linejoin="miter"/><path d="M767.6 553.9L773.8 565.1L761.4 565.1Z" fill="#fff" stroke="#ff30ff" stroke-width="1.5" stroke-linejoin="miter"/><path d="M770.7 555.7L776.9 566.9L764.5 566.9Z" fill="#fff" stroke="#ff30ff" stroke-width="1.5" stroke-linejoin="miter"/><path d="M773.9 557.4L780.1 568.6L767.7 568.6Z" fill="#fff" stroke="#ff30ff" stroke-width="1.5" stroke-linejoin="miter"/><path d="M777.0 559.1L783.2 570.3L770.8 570.3Z" fill="#fff" stroke="#ff30ff" stroke-width="1.5" stroke-linejoin="miter"/><path d="M780.2 560.8L786.4 572.0L774.0 572.0Z" fill="#fff" stroke="#ff30ff" stroke-width="1.5" stroke-linejoin="miter"/><path d="M783.5 562.4L789.7 573.6L777.3 573.6Z" fill="#fff" stroke="#ff30ff" stroke-width="1.5" stroke-linejoin="miter"/><path d="M786.7 563.9L792.9 575.1L780.5 575.1Z" fill="#fff" stroke="#ff30ff" stroke-width="1.5" stroke-linejoin="miter"/><path d="M790.0 565.4L796.2 576.6L783.8 576.6Z" fill="#fff" stroke="#ff30ff" stroke-width="1.5" stroke-linejoin="miter"/><path d="M793.3 566.8L799.5 578.0L787.1 578.0Z" fill="#fff" stroke="#ff30ff" stroke-width="1.5" stroke-linejoin="miter"/><path d="M796.7 568.1L802.9 579.3L790.5 579.3Z" fill="#fff" stroke="#ff30ff" stroke-width="1.5" stroke-linejoin="miter"/><path d="M800.1 569.3L806.3 580.5L793.9 580.5Z" fill="#fff" stroke="#ff30ff" stroke-width="1.5" stroke-linejoin="miter"/><path d="M803.5 570.4L809.7 581.6L797.3 581.6Z" fill="#fff" stroke="#ff30ff" stroke-width="1.5" stroke-linejoin="miter"/><path d="M806.9 571.4L813.1 582.6L800.7 582.6Z" fill="#fff" stroke="#ff30ff" stroke-width="1.5" stroke-linejoin="miter"/><path d="M810.4 572.5L816.6 583.7L804.2 583.7Z" fill="#fff" stroke="#ff30ff" stroke-width="1.5" stroke-linejoin="miter"/><path d="M813.8 573.6L820.0 584.8L807.6 584.8Z" fill="#fff" stroke="#ff30ff" stroke-width="1.5" stroke-linejoin="miter"/><path d="M817.3 574.7L823.5 585.9L811.1 585.9Z" fill="#fff" stroke="#ff30ff" stroke-width="1.5" stroke-linejoin="miter"/><path d="M820.7 575.7L826.9 586.9L814.5 586.9Z" fill="#fff" stroke="#ff30ff" stroke-width="1.5" stroke-linejoin="miter"/><path d="M824.2 576.7L830.4 587.9L818.0 587.9Z" fill="#fff" stroke="#ff30ff" stroke-width="1.5" stroke-linejoin="miter"/><path d="M827.6 577.7L833.8 588.9L821.4 588.9Z" fill="#fff" stroke="#ff30ff" stroke-width="1.5" stroke-linejoin="miter"/><path d="M840.0 590.0 L851.4 593.6 L867.6 598.7 L886.5 604.7 L906.1 610.6 L924.5 615.6 L940.5 619.4 L955.9 622.4 L971.0 624.9 L985.8 627.1 L1000.4 629.2 L1014.9 631.3 L1030.7 633.5 L1046.8 635.5 L1061.9 637.3 L1074.8 638.9 L1084.0 640.0 L1084.0 640.0" fill="none" stroke="#ff30ff" stroke-width="0.9"/><path d="M840.0 584.4L846.2 595.6L833.8 595.6Z" fill="#fff" stroke="#ff30ff" stroke-width="1.5" stroke-linejoin="miter"/><path d="M843.4 585.5L849.6 596.7L837.2 596.7Z" fill="#fff" stroke="#ff30ff" stroke-width="1.5" stroke-linejoin="miter"/><path d="M846.9 586.5L853.1 597.7L840.7 597.7Z" fill="#fff" stroke="#ff30ff" stroke-width="1.5" stroke-linejoin="miter"/><path d="M850.3 587.6L856.5 598.8L844.1 598.8Z" fill="#fff" stroke="#ff30ff" stroke-width="1.5" stroke-linejoin="miter"/><path d="M853.7 588.7L859.9 599.9L847.5 599.9Z" fill="#fff" stroke="#ff30ff" stroke-width="1.5" stroke-linejoin="miter"/><path d="M857.2 589.8L863.4 601.0L851.0 601.0Z" fill="#fff" stroke="#ff30ff" stroke-width="1.5" stroke-linejoin="miter"/><path d="M860.6 590.9L866.8 602.1L854.4 602.1Z" fill="#fff" stroke="#ff30ff" stroke-width="1.5" stroke-linejoin="miter"/><path d="M864.0 592.0L870.2 603.2L857.8 603.2Z" fill="#fff" stroke="#ff30ff" stroke-width="1.5" stroke-linejoin="miter"/><path d="M867.5 593.1L873.7 604.3L861.3 604.3Z" fill="#fff" stroke="#ff30ff" stroke-width="1.5" stroke-linejoin="miter"/><path d="M870.9 594.2L877.1 605.4L864.7 605.4Z" fill="#fff" stroke="#ff30ff" stroke-width="1.5" stroke-linejoin="miter"/><path d="M874.3 595.3L880.5 606.5L868.1 606.5Z" fill="#fff" stroke="#ff30ff" stroke-width="1.5" stroke-linejoin="miter"/><path d="M877.8 596.3L884.0 607.5L871.6 607.5Z" fill="#fff" stroke="#ff30ff" stroke-width="1.5" stroke-linejoin="miter"/><path d="M881.2 597.4L887.4 608.6L875.0 608.6Z" fill="#fff" stroke="#ff30ff" stroke-width="1.5" stroke-linejoin="miter"/><path d="M884.6 598.5L890.8 609.7L878.4 609.7Z" fill="#fff" stroke="#ff30ff" stroke-width="1.5" stroke-linejoin="miter"/><path d="M888.1 599.6L894.3 610.8L881.9 610.8Z" fill="#fff" stroke="#ff30ff" stroke-width="1.5" stroke-linejoin="miter"/><path d="M891.5 600.6L897.7 611.8L885.3 611.8Z" fill="#fff" stroke="#ff30ff" stroke-width="1.5" stroke-linejoin="miter"/><path d="M895.0 601.7L901.2 612.9L888.8 612.9Z" fill="#fff" stroke="#ff30ff" stroke-width="1.5" stroke-linejoin="miter"/><path d="M898.4 602.7L904.6 613.9L892.2 613.9Z" fill="#fff" stroke="#ff30ff" stroke-width="1.5" stroke-linejoin="miter"/><path d="M901.9 603.7L908.1 614.9L895.7 614.9Z" fill="#fff" stroke="#ff30ff" stroke-width="1.5" stroke-linejoin="miter"/><path d="M905.3 604.7L911.5 615.9L899.1 615.9Z" fill="#fff" stroke="#ff30ff" stroke-width="1.5" stroke-linejoin="miter"/><path d="M908.8 605.7L915.0 616.9L902.6 616.9Z" fill="#fff" stroke="#ff30ff" stroke-width="1.5" stroke-linejoin="miter"/><path d="M912.2 606.7L918.4 617.9L906.0 617.9Z" fill="#fff" stroke="#ff30ff" stroke-width="1.5" stroke-linejoin="miter"/><path d="M915.7 607.7L921.9 618.9L909.5 618.9Z" fill="#fff" stroke="#ff30ff" stroke-width="1.5" stroke-linejoin="miter"/><path d="M919.2 608.6L925.4 619.8L913.0 619.8Z" fill="#fff" stroke="#ff30ff" stroke-width="1.5" stroke-linejoin="miter"/><path d="M922.6 609.5L928.8 620.7L916.4 620.7Z" fill="#fff" stroke="#ff30ff" stroke-width="1.5" stroke-linejoin="miter"/><path d="M926.1 610.4L932.3 621.6L919.9 621.6Z" fill="#fff" stroke="#ff30ff" stroke-width="1.5" stroke-linejoin="miter"/><path d="M929.6 611.3L935.8 622.5L923.4 622.5Z" fill="#fff" stroke="#ff30ff" stroke-width="1.5" stroke-linejoin="miter"/><path d="M933.1 612.1L939.3 623.3L926.9 623.3Z" fill="#fff" stroke="#ff30ff" stroke-width="1.5" stroke-linejoin="miter"/><path d="M936.6 612.9L942.8 624.1L930.4 624.1Z" fill="#fff" stroke="#ff30ff" stroke-width="1.5" stroke-linejoin="miter"/><path d="M940.2 613.7L946.4 624.9L934.0 624.9Z" fill="#fff" stroke="#ff30ff" stroke-width="1.5" stroke-linejoin="miter"/><path d="M943.7 614.4L949.9 625.6L937.5 625.6Z" fill="#fff" stroke="#ff30ff" stroke-width="1.5" stroke-linejoin="miter"/><path d="M947.2 615.1L953.4 626.3L941.0 626.3Z" fill="#fff" stroke="#ff30ff" stroke-width="1.5" stroke-linejoin="miter"/><path d="M950.8 615.8L957.0 627.0L944.6 627.0Z" fill="#fff" stroke="#ff30ff" stroke-width="1.5" stroke-linejoin="miter"/><path d="M954.3 616.5L960.5 627.7L948.1 627.7Z" fill="#fff" stroke="#ff30ff" stroke-width="1.5" stroke-linejoin="miter"/><path d="M957.8 617.1L964.0 628.3L951.6 628.3Z" fill="#fff" stroke="#ff30ff" stroke-width="1.5" stroke-linejoin="miter"/><path d="M961.4 617.7L967.6 628.9L955.2 628.9Z" fill="#fff" stroke="#ff30ff" stroke-width="1.5" stroke-linejoin="miter"/><path d="M964.9 618.3L971.1 629.5L958.7 629.5Z" fill="#fff" stroke="#ff30ff" stroke-width="1.5" stroke-linejoin="miter"/><path d="M968.5 618.9L974.7 630.1L962.3 630.1Z" fill="#fff" stroke="#ff30ff" stroke-width="1.5" stroke-linejoin="miter"/><path d="M972.0 619.5L978.2 630.7L965.8 630.7Z" fill="#fff" stroke="#ff30ff" stroke-width="1.5" stroke-linejoin="miter"/><path d="M975.6 620.0L981.8 631.2L969.4 631.2Z" fill="#fff" stroke="#ff30ff" stroke-width="1.5" stroke-linejoin="miter"/><path d="M979.2 620.5L985.4 631.7L973.0 631.7Z" fill="#fff" stroke="#ff30ff" stroke-width="1.5" stroke-linejoin="miter"/><path d="M982.7 621.1L988.9 632.3L976.5 632.3Z" fill="#fff" stroke="#ff30ff" stroke-width="1.5" stroke-linejoin="miter"/><path d="M986.3 621.6L992.5 632.8L980.1 632.8Z" fill="#fff" stroke="#ff30ff" stroke-width="1.5" stroke-linejoin="miter"/><path d="M989.8 622.1L996.0 633.3L983.6 633.3Z" fill="#fff" stroke="#ff30ff" stroke-width="1.5" stroke-linejoin="miter"/><path d="M993.4 622.6L999.6 633.8L987.2 633.8Z" fill="#fff" stroke="#ff30ff" stroke-width="1.5" stroke-linejoin="miter"/><path d="M997.0 623.1L1003.2 634.3L990.8 634.3Z" fill="#fff" stroke="#ff30ff" stroke-width="1.5" stroke-linejoin="miter"/><path d="M1000.5 623.6L1006.7 634.8L994.3 634.8Z" fill="#fff" stroke="#ff30ff" stroke-width="1.5" stroke-linejoin="miter"/><path d="M1004.1 624.1L1010.3 635.3L997.9 635.3Z" fill="#fff" stroke="#ff30ff" stroke-width="1.5" stroke-linejoin="miter"/><path d="M1007.7 624.7L1013.9 635.9L1001.5 635.9Z" fill="#fff" stroke="#ff30ff" stroke-width="1.5" stroke-linejoin="miter"/><path d="M1011.2 625.2L1017.4 636.4L1005.0 636.4Z" fill="#fff" stroke="#ff30ff" stroke-width="1.5" stroke-linejoin="miter"/><path d="M1014.8 625.7L1021.0 636.9L1008.6 636.9Z" fill="#fff" stroke="#ff30ff" stroke-width="1.5" stroke-linejoin="miter"/><path d="M1018.4 626.2L1024.6 637.4L1012.2 637.4Z" fill="#fff" stroke="#ff30ff" stroke-width="1.5" stroke-linejoin="miter"/><path d="M1021.9 626.7L1028.1 637.9L1015.7 637.9Z" fill="#fff" stroke="#ff30ff" stroke-width="1.5" stroke-linejoin="miter"/><path d="M1025.5 627.2L1031.7 638.4L1019.3 638.4Z" fill="#fff" stroke="#ff30ff" stroke-width="1.5" stroke-linejoin="miter"/><path d="M1029.1 627.7L1035.3 638.9L1022.9 638.9Z" fill="#fff" stroke="#ff30ff" stroke-width="1.5" stroke-linejoin="miter"/><path d="M1032.6 628.1L1038.8 639.3L1026.4 639.3Z" fill="#fff" stroke="#ff30ff" stroke-width="1.5" stroke-linejoin="miter"/><path d="M1036.2 628.6L1042.4 639.8L1030.0 639.8Z" fill="#fff" stroke="#ff30ff" stroke-width="1.5" stroke-linejoin="miter"/><path d="M1039.8 629.0L1046.0 640.2L1033.6 640.2Z" fill="#fff" stroke="#ff30ff" stroke-width="1.5" stroke-linejoin="miter"/><path d="M1043.3 629.5L1049.5 640.7L1037.1 640.7Z" fill="#fff" stroke="#ff30ff" stroke-width="1.5" stroke-linejoin="miter"/><path d="M1046.9 629.9L1053.1 641.1L1040.7 641.1Z" fill="#fff" stroke="#ff30ff" stroke-width="1.5" stroke-linejoin="miter"/><path d="M1050.5 630.4L1056.7 641.6L1044.3 641.6Z" fill="#fff" stroke="#ff30ff" stroke-width="1.5" stroke-linejoin="miter"/><path d="M1054.1 630.8L1060.3 642.0L1047.9 642.0Z" fill="#fff" stroke="#ff30ff" stroke-width="1.5" stroke-linejoin="miter"/><path d="M1057.6 631.2L1063.8 642.4L1051.4 642.4Z" fill="#fff" stroke="#ff30ff" stroke-width="1.5" stroke-linejoin="miter"/><path d="M1061.2 631.7L1067.4 642.9L1055.0 642.9Z" fill="#fff" stroke="#ff30ff" stroke-width="1.5" stroke-linejoin="miter"/><path d="M1064.8 632.1L1071.0 643.3L1058.6 643.3Z" fill="#fff" stroke="#ff30ff" stroke-width="1.5" stroke-linejoin="miter"/><path d="M1068.4 632.5L1074.6 643.7L1062.2 643.7Z" fill="#fff" stroke="#ff30ff" stroke-width="1.5" stroke-linejoin="miter"/><path d="M1071.9 632.9L1078.1 644.1L1065.7 644.1Z" fill="#fff" stroke="#ff30ff" stroke-width="1.5" stroke-linejoin="miter"/><path d="M1075.5 633.4L1081.7 644.6L1069.3 644.6Z" fill="#fff" stroke="#ff30ff" stroke-width="1.5" stroke-linejoin="miter"/><path d="M1079.1 633.8L1085.3 645.0L1072.9 645.0Z" fill="#fff" stroke="#ff30ff" stroke-width="1.5" stroke-linejoin="miter"/><path d="M1082.7 634.2L1088.9 645.4L1076.5 645.4Z" fill="#fff" stroke="#ff30ff" stroke-width="1.5" stroke-linejoin="miter"/></g><rect x="95.5" y="283" width="1014.5" height="912.5" fill="none" stroke="#000" stroke-width="2.6"/><line x1="602.5" y1="283" x2="602.5" y2="1195.5" stroke="#000" stroke-width="2.6"/><line x1="95.5" y1="739.5" x2="1110" y2="739.5" stroke="#000" stroke-width="2.6"/><line x1="122.0" y1="283" x2="122.0" y2="293" stroke="#000" stroke-width="2.2"/><line x1="122.0" y1="739.5" x2="122.0" y2="729.5" stroke="#000" stroke-width="2.2"/><line x1="122.0" y1="739.5" x2="122.0" y2="749.5" stroke="#000" stroke-width="2.2"/><line x1="122.0" y1="1195.5" x2="122.0" y2="1185.5" stroke="#000" stroke-width="2.2"/><line x1="162.0" y1="283" x2="162.0" y2="288.5" stroke="#000" stroke-width="2.2"/><line x1="162.0" y1="739.5" x2="162.0" y2="734.0" stroke="#000" stroke-width="2.2"/><line x1="162.0" y1="739.5" x2="162.0" y2="745.0" stroke="#000" stroke-width="2.2"/><line x1="162.0" y1="1195.5" x2="162.0" y2="1190.0" stroke="#000" stroke-width="2.2"/><line x1="202.0" y1="283" x2="202.0" y2="293" stroke="#000" stroke-width="2.2"/><line x1="202.0" y1="739.5" x2="202.0" y2="729.5" stroke="#000" stroke-width="2.2"/><line x1="202.0" y1="739.5" x2="202.0" y2="749.5" stroke="#000" stroke-width="2.2"/><line x1="202.0" y1="1195.5" x2="202.0" y2="1185.5" stroke="#000" stroke-width="2.2"/><line x1="242.0" y1="283" x2="242.0" y2="288.5" stroke="#000" stroke-width="2.2"/><line x1="242.0" y1="739.5" x2="242.0" y2="734.0" stroke="#000" stroke-width="2.2"/><line x1="242.0" y1="739.5" x2="242.0" y2="745.0" stroke="#000" stroke-width="2.2"/><line x1="242.0" y1="1195.5" x2="242.0" y2="1190.0" stroke="#000" stroke-width="2.2"/><line x1="282.0" y1="283" x2="282.0" y2="293" stroke="#000" stroke-width="2.2"/><line x1="282.0" y1="739.5" x2="282.0" y2="729.5" stroke="#000" stroke-width="2.2"/><line x1="282.0" y1="739.5" x2="282.0" y2="749.5" stroke="#000" stroke-width="2.2"/><line x1="282.0" y1="1195.5" x2="282.0" y2="1185.5" stroke="#000" stroke-width="2.2"/><line x1="322.0" y1="283" x2="322.0" y2="288.5" stroke="#000" stroke-width="2.2"/><line x1="322.0" y1="739.5" x2="322.0" y2="734.0" stroke="#000" stroke-width="2.2"/><line x1="322.0" y1="739.5" x2="322.0" y2="745.0" stroke="#000" stroke-width="2.2"/><line x1="322.0" y1="1195.5" x2="322.0" y2="1190.0" stroke="#000" stroke-width="2.2"/><line x1="362.0" y1="283" x2="362.0" y2="293" stroke="#000" stroke-width="2.2"/><line x1="362.0" y1="739.5" x2="362.0" y2="729.5" stroke="#000" stroke-width="2.2"/><line x1="362.0" y1="739.5" x2="362.0" y2="749.5" stroke="#000" stroke-width="2.2"/><line x1="362.0" y1="1195.5" x2="362.0" y2="1185.5" stroke="#000" stroke-width="2.2"/><line x1="402.0" y1="283" x2="402.0" y2="288.5" stroke="#000" stroke-width="2.2"/><line x1="402.0" y1="739.5" x2="402.0" y2="734.0" stroke="#000" stroke-width="2.2"/><line x1="402.0" y1="739.5" x2="402.0" y2="745.0" stroke="#000" stroke-width="2.2"/><line x1="402.0" y1="1195.5" x2="402.0" y2="1190.0" stroke="#000" stroke-width="2.2"/><line x1="442.0" y1="283" x2="442.0" y2="293" stroke="#000" stroke-width="2.2"/><line x1="442.0" y1="739.5" x2="442.0" y2="729.5" stroke="#000" stroke-width="2.2"/><line x1="442.0" y1="739.5" x2="442.0" y2="749.5" stroke="#000" stroke-width="2.2"/><line x1="442.0" y1="1195.5" x2="442.0" y2="1185.5" stroke="#000" stroke-width="2.2"/><line x1="482.0" y1="283" x2="482.0" y2="288.5" stroke="#000" stroke-width="2.2"/><line x1="482.0" y1="739.5" x2="482.0" y2="734.0" stroke="#000" stroke-width="2.2"/><line x1="482.0" y1="739.5" x2="482.0" y2="745.0" stroke="#000" stroke-width="2.2"/><line x1="482.0" y1="1195.5" x2="482.0" y2="1190.0" stroke="#000" stroke-width="2.2"/><line x1="522.0" y1="283" x2="522.0" y2="293" stroke="#000" stroke-width="2.2"/><line x1="522.0" y1="739.5" x2="522.0" y2="729.5" stroke="#000" stroke-width="2.2"/><line x1="522.0" y1="739.5" x2="522.0" y2="749.5" stroke="#000" stroke-width="2.2"/><line x1="522.0" y1="1195.5" x2="522.0" y2="1185.5" stroke="#000" stroke-width="2.2"/><line x1="562.1" y1="283" x2="562.1" y2="288.5" stroke="#000" stroke-width="2.2"/><line x1="562.1" y1="739.5" x2="562.1" y2="734.0" stroke="#000" stroke-width="2.2"/><line x1="562.1" y1="739.5" x2="562.1" y2="745.0" stroke="#000" stroke-width="2.2"/><line x1="562.1" y1="1195.5" x2="562.1" y2="1190.0" stroke="#000" stroke-width="2.2"/><line x1="630.4" y1="739.5" x2="630.4" y2="749.5" stroke="#000" stroke-width="2.2"/><line x1="630.4" y1="1195.5" x2="630.4" y2="1185.5" stroke="#000" stroke-width="2.2"/><line x1="670.4" y1="739.5" x2="670.4" y2="745.0" stroke="#000" stroke-width="2.2"/><line x1="670.4" y1="1195.5" x2="670.4" y2="1190.0" stroke="#000" stroke-width="2.2"/><line x1="710.4" y1="739.5" x2="710.4" y2="749.5" stroke="#000" stroke-width="2.2"/><line x1="710.4" y1="1195.5" x2="710.4" y2="1185.5" stroke="#000" stroke-width="2.2"/><line x1="750.4" y1="739.5" x2="750.4" y2="745.0" stroke="#000" stroke-width="2.2"/><line x1="750.4" y1="1195.5" x2="750.4" y2="1190.0" stroke="#000" stroke-width="2.2"/><line x1="790.4" y1="739.5" x2="790.4" y2="749.5" stroke="#000" stroke-width="2.2"/><line x1="790.4" y1="1195.5" x2="790.4" y2="1185.5" stroke="#000" stroke-width="2.2"/><line x1="830.4" y1="739.5" x2="830.4" y2="745.0" stroke="#000" stroke-width="2.2"/><line x1="830.4" y1="1195.5" x2="830.4" y2="1190.0" stroke="#000" stroke-width="2.2"/><line x1="870.4" y1="739.5" x2="870.4" y2="749.5" stroke="#000" stroke-width="2.2"/><line x1="870.4" y1="1195.5" x2="870.4" y2="1185.5" stroke="#000" stroke-width="2.2"/><line x1="910.4" y1="739.5" x2="910.4" y2="745.0" stroke="#000" stroke-width="2.2"/><line x1="910.4" y1="1195.5" x2="910.4" y2="1190.0" stroke="#000" stroke-width="2.2"/><line x1="950.4" y1="739.5" x2="950.4" y2="749.5" stroke="#000" stroke-width="2.2"/><line x1="950.4" y1="1195.5" x2="950.4" y2="1185.5" stroke="#000" stroke-width="2.2"/><line x1="990.4" y1="739.5" x2="990.4" y2="745.0" stroke="#000" stroke-width="2.2"/><line x1="990.4" y1="1195.5" x2="990.4" y2="1190.0" stroke="#000" stroke-width="2.2"/><line x1="1030.4" y1="739.5" x2="1030.4" y2="749.5" stroke="#000" stroke-width="2.2"/><line x1="1030.4" y1="1195.5" x2="1030.4" y2="1185.5" stroke="#000" stroke-width="2.2"/><line x1="1070.5" y1="739.5" x2="1070.5" y2="745.0" stroke="#000" stroke-width="2.2"/><line x1="1070.5" y1="1195.5" x2="1070.5" y2="1190.0" stroke="#000" stroke-width="2.2"/><line x1="645.2" y1="283" x2="645.2" y2="293" stroke="#000" stroke-width="2.2"/><line x1="645.2" y1="739.5" x2="645.2" y2="729.5" stroke="#000" stroke-width="2.2"/><line x1="687.5" y1="283" x2="687.5" y2="288.5" stroke="#000" stroke-width="2.2"/><line x1="687.5" y1="739.5" x2="687.5" y2="734.0" stroke="#000" stroke-width="2.2"/><line x1="729.8" y1="283" x2="729.8" y2="293" stroke="#000" stroke-width="2.2"/><line x1="729.8" y1="739.5" x2="729.8" y2="729.5" stroke="#000" stroke-width="2.2"/><line x1="772.1" y1="283" x2="772.1" y2="288.5" stroke="#000" stroke-width="2.2"/><line x1="772.1" y1="739.5" x2="772.1" y2="734.0" stroke="#000" stroke-width="2.2"/><line x1="814.4" y1="283" x2="814.4" y2="293" stroke="#000" stroke-width="2.2"/><line x1="814.4" y1="739.5" x2="814.4" y2="729.5" stroke="#000" stroke-width="2.2"/><line x1="856.7" y1="283" x2="856.7" y2="288.5" stroke="#000" stroke-width="2.2"/><line x1="856.7" y1="739.5" x2="856.7" y2="734.0" stroke="#000" stroke-width="2.2"/><line x1="899.0" y1="283" x2="899.0" y2="293" stroke="#000" stroke-width="2.2"/><line x1="899.0" y1="739.5" x2="899.0" y2="729.5" stroke="#000" stroke-width="2.2"/><line x1="941.3" y1="283" x2="941.3" y2="288.5" stroke="#000" stroke-width="2.2"/><line x1="941.3" y1="739.5" x2="941.3" y2="734.0" stroke="#000" stroke-width="2.2"/><line x1="983.6" y1="283" x2="983.6" y2="293" stroke="#000" stroke-width="2.2"/><line x1="983.6" y1="739.5" x2="983.6" y2="729.5" stroke="#000" stroke-width="2.2"/><line x1="1025.9" y1="283" x2="1025.9" y2="288.5" stroke="#000" stroke-width="2.2"/><line x1="1025.9" y1="739.5" x2="1025.9" y2="734.0" stroke="#000" stroke-width="2.2"/><line x1="1068.2" y1="283" x2="1068.2" y2="293" stroke="#000" stroke-width="2.2"/><line x1="1068.2" y1="739.5" x2="1068.2" y2="729.5" stroke="#000" stroke-width="2.2"/><line x1="95.5" y1="697.3" x2="105.5" y2="697.3" stroke="#000" stroke-width="2.2"/><line x1="602.5" y1="697.3" x2="592.5" y2="697.3" stroke="#000" stroke-width="2.2"/><line x1="95.5" y1="655.8" x2="101.0" y2="655.8" stroke="#000" stroke-width="2.2"/><line x1="602.5" y1="655.8" x2="597.0" y2="655.8" stroke="#000" stroke-width="2.2"/><line x1="95.5" y1="614.3" x2="105.5" y2="614.3" stroke="#000" stroke-width="2.2"/><line x1="602.5" y1="614.3" x2="592.5" y2="614.3" stroke="#000" stroke-width="2.2"/><line x1="95.5" y1="572.8" x2="101.0" y2="572.8" stroke="#000" stroke-width="2.2"/><line x1="602.5" y1="572.8" x2="597.0" y2="572.8" stroke="#000" stroke-width="2.2"/><line x1="95.5" y1="531.3" x2="105.5" y2="531.3" stroke="#000" stroke-width="2.2"/><line x1="602.5" y1="531.3" x2="592.5" y2="531.3" stroke="#000" stroke-width="2.2"/><line x1="95.5" y1="489.8" x2="101.0" y2="489.8" stroke="#000" stroke-width="2.2"/><line x1="602.5" y1="489.8" x2="597.0" y2="489.8" stroke="#000" stroke-width="2.2"/><line x1="95.5" y1="448.3" x2="105.5" y2="448.3" stroke="#000" stroke-width="2.2"/><line x1="602.5" y1="448.3" x2="592.5" y2="448.3" stroke="#000" stroke-width="2.2"/><line x1="95.5" y1="406.8" x2="101.0" y2="406.8" stroke="#000" stroke-width="2.2"/><line x1="602.5" y1="406.8" x2="597.0" y2="406.8" stroke="#000" stroke-width="2.2"/><line x1="95.5" y1="365.3" x2="105.5" y2="365.3" stroke="#000" stroke-width="2.2"/><line x1="602.5" y1="365.3" x2="592.5" y2="365.3" stroke="#000" stroke-width="2.2"/><line x1="95.5" y1="323.8" x2="101.0" y2="323.8" stroke="#000" stroke-width="2.2"/><line x1="602.5" y1="323.8" x2="597.0" y2="323.8" stroke="#000" stroke-width="2.2"/><line x1="95.5" y1="1153.5" x2="105.5" y2="1153.5" stroke="#000" stroke-width="2.2"/><line x1="602.5" y1="1153.5" x2="592.5" y2="1153.5" stroke="#000" stroke-width="2.2"/><line x1="602.5" y1="1153.5" x2="612.5" y2="1153.5" stroke="#000" stroke-width="2.2"/><line x1="1110" y1="1153.5" x2="1100" y2="1153.5" stroke="#000" stroke-width="2.2"/><line x1="95.5" y1="1112.0" x2="101.0" y2="1112.0" stroke="#000" stroke-width="2.2"/><line x1="602.5" y1="1112.0" x2="597.0" y2="1112.0" stroke="#000" stroke-width="2.2"/><line x1="602.5" y1="1112.0" x2="608.0" y2="1112.0" stroke="#000" stroke-width="2.2"/><line x1="1110" y1="1112.0" x2="1104.5" y2="1112.0" stroke="#000" stroke-width="2.2"/><line x1="95.5" y1="1070.5" x2="105.5" y2="1070.5" stroke="#000" stroke-width="2.2"/><line x1="602.5" y1="1070.5" x2="592.5" y2="1070.5" stroke="#000" stroke-width="2.2"/><line x1="602.5" y1="1070.5" x2="612.5" y2="1070.5" stroke="#000" stroke-width="2.2"/><line x1="1110" y1="1070.5" x2="1100" y2="1070.5" stroke="#000" stroke-width="2.2"/><line x1="95.5" y1="1029.0" x2="101.0" y2="1029.0" stroke="#000" stroke-width="2.2"/><line x1="602.5" y1="1029.0" x2="597.0" y2="1029.0" stroke="#000" stroke-width="2.2"/><line x1="602.5" y1="1029.0" x2="608.0" y2="1029.0" stroke="#000" stroke-width="2.2"/><line x1="1110" y1="1029.0" x2="1104.5" y2="1029.0" stroke="#000" stroke-width="2.2"/><line x1="95.5" y1="987.5" x2="105.5" y2="987.5" stroke="#000" stroke-width="2.2"/><line x1="602.5" y1="987.5" x2="592.5" y2="987.5" stroke="#000" stroke-width="2.2"/><line x1="602.5" y1="987.5" x2="612.5" y2="987.5" stroke="#000" stroke-width="2.2"/><line x1="1110" y1="987.5" x2="1100" y2="987.5" stroke="#000" stroke-width="2.2"/><line x1="95.5" y1="946.0" x2="101.0" y2="946.0" stroke="#000" stroke-width="2.2"/><line x1="602.5" y1="946.0" x2="597.0" y2="946.0" stroke="#000" stroke-width="2.2"/><line x1="602.5" y1="946.0" x2="608.0" y2="946.0" stroke="#000" stroke-width="2.2"/><line x1="1110" y1="946.0" x2="1104.5" y2="946.0" stroke="#000" stroke-width="2.2"/><line x1="95.5" y1="904.5" x2="105.5" y2="904.5" stroke="#000" stroke-width="2.2"/><line x1="602.5" y1="904.5" x2="592.5" y2="904.5" stroke="#000" stroke-width="2.2"/><line x1="602.5" y1="904.5" x2="612.5" y2="904.5" stroke="#000" stroke-width="2.2"/><line x1="1110" y1="904.5" x2="1100" y2="904.5" stroke="#000" stroke-width="2.2"/><line x1="95.5" y1="863.0" x2="101.0" y2="863.0" stroke="#000" stroke-width="2.2"/><line x1="602.5" y1="863.0" x2="597.0" y2="863.0" stroke="#000" stroke-width="2.2"/><line x1="602.5" y1="863.0" x2="608.0" y2="863.0" stroke="#000" stroke-width="2.2"/><line x1="1110" y1="863.0" x2="1104.5" y2="863.0" stroke="#000" stroke-width="2.2"/><line x1="95.5" y1="821.5" x2="105.5" y2="821.5" stroke="#000" stroke-width="2.2"/><line x1="602.5" y1="821.5" x2="592.5" y2="821.5" stroke="#000" stroke-width="2.2"/><line x1="602.5" y1="821.5" x2="612.5" y2="821.5" stroke="#000" stroke-width="2.2"/><line x1="1110" y1="821.5" x2="1100" y2="821.5" stroke="#000" stroke-width="2.2"/><line x1="95.5" y1="780.0" x2="101.0" y2="780.0" stroke="#000" stroke-width="2.2"/><line x1="602.5" y1="780.0" x2="597.0" y2="780.0" stroke="#000" stroke-width="2.2"/><line x1="602.5" y1="780.0" x2="608.0" y2="780.0" stroke="#000" stroke-width="2.2"/><line x1="1110" y1="780.0" x2="1104.5" y2="780.0" stroke="#000" stroke-width="2.2"/><line x1="602.5" y1="320.5" x2="612.5" y2="320.5" stroke="#000" stroke-width="2.2"/><line x1="1110" y1="320.5" x2="1100" y2="320.5" stroke="#000" stroke-width="2.2"/><line x1="602.5" y1="358.6" x2="608.0" y2="358.6" stroke="#000" stroke-width="2.2"/><line x1="1110" y1="358.6" x2="1104.5" y2="358.6" stroke="#000" stroke-width="2.2"/><line x1="602.5" y1="396.6" x2="612.5" y2="396.6" stroke="#000" stroke-width="2.2"/><line x1="1110" y1="396.6" x2="1100" y2="396.6" stroke="#000" stroke-width="2.2"/><line x1="602.5" y1="434.6" x2="608.0" y2="434.6" stroke="#000" stroke-width="2.2"/><line x1="1110" y1="434.6" x2="1104.5" y2="434.6" stroke="#000" stroke-width="2.2"/><line x1="602.5" y1="472.7" x2="612.5" y2="472.7" stroke="#000" stroke-width="2.2"/><line x1="1110" y1="472.7" x2="1100" y2="472.7" stroke="#000" stroke-width="2.2"/><line x1="602.5" y1="510.8" x2="608.0" y2="510.8" stroke="#000" stroke-width="2.2"/><line x1="1110" y1="510.8" x2="1104.5" y2="510.8" stroke="#000" stroke-width="2.2"/><line x1="602.5" y1="548.8" x2="612.5" y2="548.8" stroke="#000" stroke-width="2.2"/><line x1="1110" y1="548.8" x2="1100" y2="548.8" stroke="#000" stroke-width="2.2"/><line x1="602.5" y1="586.8" x2="608.0" y2="586.8" stroke="#000" stroke-width="2.2"/><line x1="1110" y1="586.8" x2="1104.5" y2="586.8" stroke="#000" stroke-width="2.2"/><line x1="602.5" y1="624.9" x2="612.5" y2="624.9" stroke="#000" stroke-width="2.2"/><line x1="1110" y1="624.9" x2="1100" y2="624.9" stroke="#000" stroke-width="2.2"/><line x1="602.5" y1="663.0" x2="608.0" y2="663.0" stroke="#000" stroke-width="2.2"/><line x1="1110" y1="663.0" x2="1104.5" y2="663.0" stroke="#000" stroke-width="2.2"/><line x1="602.5" y1="701.0" x2="612.5" y2="701.0" stroke="#000" stroke-width="2.2"/><line x1="1110" y1="701.0" x2="1100" y2="701.0" stroke="#000" stroke-width="2.2"/><line x1="153" y1="686" x2="153" y2="734" stroke="#000" stroke-width="3" stroke-dasharray="16 19"/><line x1="347.5" y1="648" x2="347.5" y2="734" stroke="#000" stroke-width="3" stroke-dasharray="17 19"/><line x1="160" y1="711.7" x2="343" y2="711.7" stroke="#000" stroke-width="2.6"/><path d="M151.5 711.7 L169 705.7 L166 711.7 L169 717.7 Z" fill="#000"/><path d="M351 711.7 L333.5 705.7 L336.5 711.7 L333.5 717.7 Z" fill="#000"/><line x1="314.5" y1="11.3" x2="373.5" y2="11.3" stroke="#000000" stroke-width="1.3"/><rect x="338.4" y="6.0" width="10.7" height="10.7" fill="#000000"/><text x="378.6" y="20.700000000000003" font-size="26.6" text-anchor="start">2%VC</text><line x1="314.5" y1="44.3" x2="373.5" y2="44.3" stroke="#0000ff" stroke-width="1.3"/><circle cx="343.7" cy="44.3" r="6.44" fill="#0000ff"/><text x="378.6" y="53.74999999999999" font-size="26.6" text-anchor="start">2% VC+1%DTD+0.5% TTSP+0.5% TTSPi</text><line x1="314.5" y1="77.4" x2="373.5" y2="77.4" stroke="#ff2e2e" stroke-width="1.3"/><rect x="338.5" y="72.2" width="10.4" height="10.4" fill="#fff" stroke="#ff2e2e" stroke-width="1.5"/><text x="378.6" y="86.8" font-size="26.6" text-anchor="start">2% VC+1%DTD+1% TTSP+1% TTSPi</text><line x1="314.5" y1="110.4" x2="373.5" y2="110.4" stroke="#00f500" stroke-width="1.3"/><path d="M343.7 103.8L351.1 117.1L336.3 117.1Z" fill="#00f500"/><text x="378.6" y="119.85" font-size="26.6" text-anchor="start">2% VC+2%DTD+0.5% TTSP+0.5% TTSPi</text><line x1="314.5" y1="143.5" x2="373.5" y2="143.5" stroke="#a23c3c" stroke-width="1.3"/><path d="M343.7 135.4L351.8 143.5L343.7 151.6L335.6 143.5Z" fill="#fff" stroke="#a23c3c" stroke-width="1.5"/><text x="378.6" y="152.9" font-size="26.6" text-anchor="start">2% VC+2%DTD+1% TTSP+1% TTSPi</text><line x1="314.5" y1="176.6" x2="373.5" y2="176.6" stroke="#ff30ff" stroke-width="1.3"/><path d="M343.7 170.3L350.6 182.8L336.8 182.8Z" fill="#fff" stroke="#ff30ff" stroke-width="1.5" stroke-linejoin="miter"/><text x="378.6" y="185.95000000000002" font-size="26.6" text-anchor="start">2% VC+2%DTD+2% TTSP+1% TTSPi</text><text x="122" y="264.3" font-size="27" text-anchor="middle">0</text><text x="202" y="264.3" font-size="27" text-anchor="middle">30</text><text x="282" y="264.3" font-size="27" text-anchor="middle">60</text><text x="362" y="264.3" font-size="27" text-anchor="middle">90</text><text x="442" y="264.3" font-size="27" text-anchor="middle">120</text><text x="522" y="264.3" font-size="27" text-anchor="middle">150</text><text x="602" y="264.3" font-size="27" text-anchor="middle">180</text><text x="645.2" y="264.3" font-size="27" text-anchor="middle">0</text><text x="729.8000000000001" y="264.3" font-size="27" text-anchor="middle">100</text><text x="814.4000000000001" y="264.3" font-size="27" text-anchor="middle">200</text><text x="899.0" y="264.3" font-size="27" text-anchor="middle">300</text><text x="983.6" y="264.3" font-size="27" text-anchor="middle">400</text><text x="1068.2" y="264.3" font-size="27" text-anchor="middle">500</text><text x="83.5" y="706.3" font-size="27" text-anchor="end">0</text><text x="83.5" y="1162.5" font-size="27" text-anchor="end">0</text><text x="1120.5" y="1162.5" font-size="27" text-anchor="start">0</text><text x="83.5" y="623.3" font-size="27" text-anchor="end">10</text><text x="83.5" y="1079.5" font-size="27" text-anchor="end">10</text><text x="1120.5" y="1079.5" font-size="27" text-anchor="start">10</text><text x="83.5" y="540.3" font-size="27" text-anchor="end">20</text><text x="83.5" y="996.5" font-size="27" text-anchor="end">20</text><text x="1120.5" y="996.5" font-size="27" text-anchor="start">20</text><text x="83.5" y="457.29999999999995" font-size="27" text-anchor="end">30</text><text x="83.5" y="913.5" font-size="27" text-anchor="end">30</text><text x="1120.5" y="913.5" font-size="27" text-anchor="start">30</text><text x="83.5" y="374.29999999999995" font-size="27" text-anchor="end">40</text><text x="83.5" y="830.5" font-size="27" text-anchor="end">40</text><text x="1120.5" y="830.5" font-size="27" text-anchor="start">40</text><text x="83.5" y="291.2999999999999" font-size="27" text-anchor="end">50</text><text x="83.5" y="747.5" font-size="27" text-anchor="end">50</text><text x="1120.5" y="747.5" font-size="27" text-anchor="start">50</text><text x="1120.5" y="329.5" font-size="27" text-anchor="start">4.20</text><text x="1120.5" y="405.6" font-size="27" text-anchor="start">4.18</text><text x="1120.5" y="481.7" font-size="27" text-anchor="start">4.16</text><text x="1120.5" y="557.8" font-size="27" text-anchor="start">4.14</text><text x="1120.5" y="633.9" font-size="27" text-anchor="start">4.12</text><text x="1120.5" y="710.0" font-size="27" text-anchor="start">4.10</text><text x="122" y="1229" font-size="27" text-anchor="middle">0</text><text x="202" y="1229" font-size="27" text-anchor="middle">30</text><text x="282" y="1229" font-size="27" text-anchor="middle">60</text><text x="362" y="1229" font-size="27" text-anchor="middle">90</text><text x="442" y="1229" font-size="27" text-anchor="middle">120</text><text x="522" y="1229" font-size="27" text-anchor="middle">150</text><text x="630.4" y="1229" font-size="27" text-anchor="middle">0</text><text x="710.4" y="1229" font-size="27" text-anchor="middle">30</text><text x="790.4" y="1229" font-size="27" text-anchor="middle">60</text><text x="870.4" y="1229" font-size="27" text-anchor="middle">90</text><text x="950.4" y="1229" font-size="27" text-anchor="middle">120</text><text x="1030.4" y="1229" font-size="27" text-anchor="middle">150</text><text x="1110.4" y="1229" font-size="27" text-anchor="middle">180</text><text x="256" y="232.8" font-size="34" text-anchor="start">Z' (Ω × cm<tspan font-size='23' dy='-15'>2</tspan><tspan dy='15'>)</tspan></text><text x="513.5" y="1270.2" font-size="34" text-anchor="start">Z' (Ω × cm<tspan font-size='23' dy='-15'>2</tspan><tspan dy='15'>)</tspan></text><text x="798" y="228.4" font-size="34" text-anchor="start">Time (h)</text><text x="38.3" y="858" font-size="34" text-anchor="start" transform="rotate(-90 38.3 858)">-Z'' (Ω × cm<tspan font-size='23' dy='-15'>2</tspan><tspan dy='15'>)</tspan></text><text x="1213" y="1062" font-size="34" text-anchor="start" transform="rotate(-90 1213 1062)">-Z'' (Ω × cm<tspan font-size='23' dy='-15'>2</tspan><tspan dy='15'>)</tspan></text><text x="1211" y="578.5" font-size="34" text-anchor="start" transform="rotate(-90 1211 578.5)">Voltage (V)</text><text x="115.5" y="332.7" font-size="54" text-anchor="start">a</text><text x="657.5" y="330.3" font-size="54" text-anchor="start">b</text><text x="110.5" y="792.7" font-size="54" text-anchor="start">c</text><text x="615.5" y="793.5" font-size="54" text-anchor="start">d</text><text x="205.3" y="323.8" font-size="26.8" text-anchor="start">10°C</text><text x="205.3" y="367.8" font-size="26.8" text-anchor="start">After 40°C storage</text><text x="206.5" y="1132" font-size="26.8" text-anchor="start">10°C</text><text x="206.5" y="1174.5" font-size="26.8" text-anchor="start">After 40°C UHPC cycling</text><text x="720" y="1135" font-size="27" text-anchor="start">10°C</text><text x="720" y="1179" font-size="26.8" text-anchor="start">After 40°C Neware cycling</text><text x="238" y="685.7" font-size="27" text-anchor="start">R</text><text x="256.5" y="696.4" font-size="24" text-anchor="start">ct</text></svg></body></html>
